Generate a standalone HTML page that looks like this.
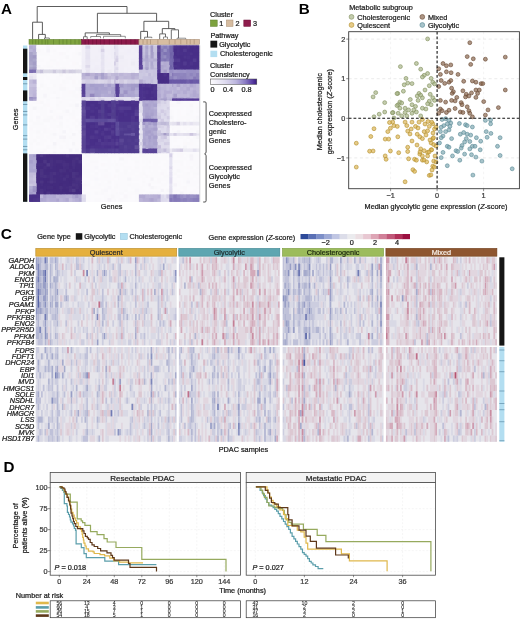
<!DOCTYPE html>
<html><head><meta charset="utf-8"><style>
html,body{margin:0;padding:0;background:#fff;}
body{width:520px;height:619px;overflow:hidden;}
svg{display:block;font-family:"Liberation Sans", sans-serif;filter:blur(0.3px);}
</style></head><body>
<svg width="520" height="619" viewBox="0 0 520 619" shape-rendering="geometricPrecision">
<rect x="0" y="0" width="520" height="619" fill="#fff"/>
<g id="A">
<text x="0.90" y="14.30" font-size="15.2" text-anchor="start" fill="#000" font-weight="bold" stroke="none">A</text>
<line x1="37.20" y1="6.50" x2="127.00" y2="6.50" stroke="#4a4a4a" stroke-width="0.9" />
<line x1="37.20" y1="6.50" x2="37.20" y2="22.20" stroke="#4a4a4a" stroke-width="0.9" />
<line x1="127.00" y1="6.50" x2="127.00" y2="13.30" stroke="#4a4a4a" stroke-width="0.9" />
<line x1="32.60" y1="22.20" x2="42.40" y2="22.20" stroke="#4a4a4a" stroke-width="0.9" />
<line x1="32.60" y1="22.20" x2="32.60" y2="39.30" stroke="#4a4a4a" stroke-width="0.9" />
<line x1="42.40" y1="22.20" x2="42.40" y2="34.40" stroke="#4a4a4a" stroke-width="0.9" />
<line x1="38.60" y1="34.40" x2="45.30" y2="34.40" stroke="#4a4a4a" stroke-width="0.9" />
<line x1="38.60" y1="34.40" x2="38.60" y2="39.30" stroke="#4a4a4a" stroke-width="0.9" />
<line x1="45.30" y1="34.40" x2="45.30" y2="38.00" stroke="#4a4a4a" stroke-width="0.9" />
<line x1="44.50" y1="38.00" x2="49.30" y2="38.00" stroke="#4a4a4a" stroke-width="0.7" />
<line x1="44.50" y1="38.00" x2="44.50" y2="39.30" stroke="#4a4a4a" stroke-width="0.7" />
<line x1="49.30" y1="38.00" x2="49.30" y2="39.30" stroke="#4a4a4a" stroke-width="0.7" />
<line x1="97.40" y1="13.30" x2="156.60" y2="13.30" stroke="#4a4a4a" stroke-width="0.9" />
<line x1="97.40" y1="13.30" x2="97.40" y2="32.90" stroke="#4a4a4a" stroke-width="0.9" />
<line x1="156.60" y1="13.30" x2="156.60" y2="21.30" stroke="#4a4a4a" stroke-width="0.9" />
<line x1="85.20" y1="32.90" x2="109.40" y2="32.90" stroke="#4a4a4a" stroke-width="0.9" />
<line x1="85.20" y1="32.90" x2="85.20" y2="36.70" stroke="#4a4a4a" stroke-width="0.9" />
<line x1="109.40" y1="32.90" x2="109.40" y2="34.60" stroke="#4a4a4a" stroke-width="0.9" />
<line x1="83.50" y1="36.70" x2="87.20" y2="36.70" stroke="#4a4a4a" stroke-width="0.7" />
<line x1="83.50" y1="36.70" x2="83.50" y2="39.30" stroke="#4a4a4a" stroke-width="0.7" />
<line x1="87.20" y1="36.70" x2="87.20" y2="39.30" stroke="#4a4a4a" stroke-width="0.7" />
<line x1="96.50" y1="34.60" x2="120.70" y2="34.60" stroke="#4a4a4a" stroke-width="0.7" />
<line x1="96.50" y1="34.60" x2="96.50" y2="36.50" stroke="#4a4a4a" stroke-width="0.7" />
<line x1="120.70" y1="34.60" x2="120.70" y2="36.50" stroke="#4a4a4a" stroke-width="0.7" />
<line x1="90.70" y1="36.50" x2="100.50" y2="36.50" stroke="#4a4a4a" stroke-width="0.6" />
<line x1="90.70" y1="36.50" x2="90.70" y2="38.20" stroke="#4a4a4a" stroke-width="0.6" />
<line x1="100.50" y1="36.50" x2="100.50" y2="38.20" stroke="#4a4a4a" stroke-width="0.6" />
<line x1="103.50" y1="36.30" x2="125.30" y2="36.30" stroke="#4a4a4a" stroke-width="0.6" />
<line x1="103.50" y1="36.30" x2="103.50" y2="38.40" stroke="#4a4a4a" stroke-width="0.6" />
<line x1="125.30" y1="36.30" x2="125.30" y2="38.40" stroke="#4a4a4a" stroke-width="0.6" />
<line x1="143.90" y1="21.30" x2="168.70" y2="21.30" stroke="#4a4a4a" stroke-width="0.9" />
<line x1="143.90" y1="21.30" x2="143.90" y2="31.40" stroke="#4a4a4a" stroke-width="0.9" />
<line x1="168.70" y1="21.30" x2="168.70" y2="28.60" stroke="#4a4a4a" stroke-width="0.9" />
<line x1="140.70" y1="31.40" x2="147.50" y2="31.40" stroke="#4a4a4a" stroke-width="0.9" />
<line x1="140.70" y1="31.40" x2="140.70" y2="39.30" stroke="#4a4a4a" stroke-width="0.9" />
<line x1="147.50" y1="31.40" x2="147.50" y2="37.20" stroke="#4a4a4a" stroke-width="0.9" />
<line x1="144.60" y1="37.20" x2="151.80" y2="37.20" stroke="#4a4a4a" stroke-width="0.7" />
<line x1="144.60" y1="37.20" x2="144.60" y2="39.30" stroke="#4a4a4a" stroke-width="0.7" />
<line x1="151.80" y1="37.20" x2="151.80" y2="38.20" stroke="#4a4a4a" stroke-width="0.7" />
<line x1="162.30" y1="28.60" x2="174.90" y2="28.60" stroke="#4a4a4a" stroke-width="0.9" />
<line x1="162.30" y1="28.60" x2="162.30" y2="33.90" stroke="#4a4a4a" stroke-width="0.9" />
<line x1="174.90" y1="28.60" x2="174.90" y2="29.80" stroke="#4a4a4a" stroke-width="0.9" />
<line x1="159.70" y1="33.90" x2="165.50" y2="33.90" stroke="#4a4a4a" stroke-width="0.8" />
<line x1="159.70" y1="33.90" x2="159.70" y2="39.30" stroke="#4a4a4a" stroke-width="0.8" />
<line x1="165.50" y1="33.90" x2="165.50" y2="37.00" stroke="#4a4a4a" stroke-width="0.8" />
<line x1="163.50" y1="37.00" x2="167.50" y2="37.00" stroke="#4a4a4a" stroke-width="0.6" />
<line x1="163.50" y1="37.00" x2="163.50" y2="39.30" stroke="#4a4a4a" stroke-width="0.6" />
<line x1="167.50" y1="37.00" x2="167.50" y2="39.30" stroke="#4a4a4a" stroke-width="0.6" />
<line x1="171.30" y1="29.80" x2="178.50" y2="29.80" stroke="#4a4a4a" stroke-width="0.8" />
<line x1="171.30" y1="29.80" x2="171.30" y2="39.30" stroke="#4a4a4a" stroke-width="0.8" />
<line x1="178.50" y1="29.80" x2="178.50" y2="38.20" stroke="#4a4a4a" stroke-width="0.8" />
<line x1="177.00" y1="38.20" x2="185.70" y2="38.20" stroke="#4a4a4a" stroke-width="0.6" />
<line x1="177.00" y1="38.20" x2="177.00" y2="39.30" stroke="#4a4a4a" stroke-width="0.6" />
<line x1="185.70" y1="38.20" x2="185.70" y2="39.30" stroke="#4a4a4a" stroke-width="0.6" />
<rect x="29.00" y="39.40" width="52.60" height="4.90" fill="#7fa33f" />
<line x1="32.60" y1="39.40" x2="32.60" y2="44.30" stroke="#5a7a28" stroke-width="0.55" />
<line x1="35.70" y1="39.40" x2="35.70" y2="44.30" stroke="#5a7a28" stroke-width="0.55" />
<line x1="38.60" y1="39.40" x2="38.60" y2="44.30" stroke="#5a7a28" stroke-width="0.55" />
<line x1="42.00" y1="39.40" x2="42.00" y2="44.30" stroke="#5a7a28" stroke-width="0.55" />
<line x1="45.30" y1="39.40" x2="45.30" y2="44.30" stroke="#5a7a28" stroke-width="0.55" />
<line x1="47.80" y1="39.40" x2="47.80" y2="44.30" stroke="#5a7a28" stroke-width="0.55" />
<line x1="53.50" y1="39.40" x2="53.50" y2="44.30" stroke="#5a7a28" stroke-width="0.55" />
<line x1="59.30" y1="39.40" x2="59.30" y2="44.30" stroke="#5a7a28" stroke-width="0.55" />
<line x1="63.00" y1="39.40" x2="63.00" y2="44.30" stroke="#5a7a28" stroke-width="0.55" />
<line x1="66.80" y1="39.40" x2="66.80" y2="44.30" stroke="#5a7a28" stroke-width="0.55" />
<line x1="70.80" y1="39.40" x2="70.80" y2="44.30" stroke="#5a7a28" stroke-width="0.55" />
<line x1="75.00" y1="39.40" x2="75.00" y2="44.30" stroke="#5a7a28" stroke-width="0.55" />
<line x1="79.00" y1="39.40" x2="79.00" y2="44.30" stroke="#5a7a28" stroke-width="0.55" />
<rect x="29.00" y="39.40" width="52.60" height="4.90" fill="none" stroke="#5a7a28" stroke-width="0.5"/>
<rect x="81.60" y="39.40" width="57.30" height="4.90" fill="#8c1a4a" />
<line x1="85.20" y1="39.40" x2="85.20" y2="44.30" stroke="#6a0e35" stroke-width="0.55" />
<line x1="88.50" y1="39.40" x2="88.50" y2="44.30" stroke="#6a0e35" stroke-width="0.55" />
<line x1="92.70" y1="39.40" x2="92.70" y2="44.30" stroke="#6a0e35" stroke-width="0.55" />
<line x1="96.50" y1="39.40" x2="96.50" y2="44.30" stroke="#6a0e35" stroke-width="0.55" />
<line x1="100.50" y1="39.40" x2="100.50" y2="44.30" stroke="#6a0e35" stroke-width="0.55" />
<line x1="104.20" y1="39.40" x2="104.20" y2="44.30" stroke="#6a0e35" stroke-width="0.55" />
<line x1="109.40" y1="39.40" x2="109.40" y2="44.30" stroke="#6a0e35" stroke-width="0.55" />
<line x1="114.60" y1="39.40" x2="114.60" y2="44.30" stroke="#6a0e35" stroke-width="0.55" />
<line x1="118.00" y1="39.40" x2="118.00" y2="44.30" stroke="#6a0e35" stroke-width="0.55" />
<line x1="121.50" y1="39.40" x2="121.50" y2="44.30" stroke="#6a0e35" stroke-width="0.55" />
<line x1="126.00" y1="39.40" x2="126.00" y2="44.30" stroke="#6a0e35" stroke-width="0.55" />
<line x1="130.80" y1="39.40" x2="130.80" y2="44.30" stroke="#6a0e35" stroke-width="0.55" />
<line x1="135.00" y1="39.40" x2="135.00" y2="44.30" stroke="#6a0e35" stroke-width="0.55" />
<rect x="81.60" y="39.40" width="57.30" height="4.90" fill="none" stroke="#6a0e35" stroke-width="0.5"/>
<rect x="138.90" y="39.40" width="60.60" height="4.90" fill="#d7bda1" />
<line x1="143.00" y1="39.40" x2="143.00" y2="44.30" stroke="#a0836a" stroke-width="0.55" />
<line x1="147.10" y1="39.40" x2="147.10" y2="44.30" stroke="#a0836a" stroke-width="0.55" />
<line x1="150.50" y1="39.40" x2="150.50" y2="44.30" stroke="#a0836a" stroke-width="0.55" />
<line x1="157.90" y1="39.40" x2="157.90" y2="44.30" stroke="#a0836a" stroke-width="0.55" />
<line x1="169.30" y1="39.40" x2="169.30" y2="44.30" stroke="#a0836a" stroke-width="0.55" />
<line x1="175.00" y1="39.40" x2="175.00" y2="44.30" stroke="#a0836a" stroke-width="0.55" />
<line x1="180.80" y1="39.40" x2="180.80" y2="44.30" stroke="#a0836a" stroke-width="0.55" />
<line x1="186.80" y1="39.40" x2="186.80" y2="44.30" stroke="#a0836a" stroke-width="0.55" />
<line x1="190.20" y1="39.40" x2="190.20" y2="44.30" stroke="#a0836a" stroke-width="0.55" />
<line x1="194.20" y1="39.40" x2="194.20" y2="44.30" stroke="#a0836a" stroke-width="0.55" />
<rect x="138.90" y="39.40" width="60.60" height="4.90" fill="none" stroke="#a0836a" stroke-width="0.5"/>
<rect x="29.20" y="45.50" width="170.10" height="156.30" fill="#fbfafd" />
<rect x="29.20" y="45.50" width="7.00" height="24.10" fill="#aba7cb" />
<rect x="29.20" y="45.50" width="7.00" height="6.50" fill="#bab5d8" />
<rect x="81.60" y="45.50" width="57.30" height="27.40" fill="#f2f0f8" />
<rect x="85.80" y="45.50" width="4.00" height="27.40" fill="#e6e3f1" />
<rect x="101.00" y="45.50" width="3.00" height="27.40" fill="#e6e3f1" />
<rect x="114.00" y="45.50" width="4.00" height="27.40" fill="#e6e3f1" />
<rect x="138.90" y="45.50" width="3.50" height="24.50" fill="#573f96" />
<rect x="142.40" y="45.50" width="14.80" height="24.50" fill="#c4c0dd" />
<rect x="145.30" y="45.50" width="3.00" height="24.50" fill="#b2acd1" />
<rect x="150.50" y="45.50" width="2.70" height="24.50" fill="#b2acd1" />
<rect x="142.40" y="58.50" width="14.80" height="3.50" fill="#b3add2" />
<rect x="157.20" y="45.50" width="4.30" height="24.50" fill="#5a4596" />
<rect x="161.50" y="45.50" width="7.80" height="19.50" fill="#857cb8" />
<rect x="161.50" y="65.00" width="7.80" height="5.00" fill="#a49dc8" />
<rect x="169.30" y="45.50" width="4.10" height="24.50" fill="#7266ab" />
<rect x="173.40" y="45.50" width="25.90" height="24.50" fill="#482f88" />
<rect x="29.20" y="69.60" width="7.00" height="3.40" fill="#7b6db1" />
<rect x="36.20" y="69.60" width="45.40" height="3.40" fill="#d9d7e5" />
<rect x="138.90" y="70.00" width="3.50" height="3.50" fill="#d0cde4" />
<rect x="142.40" y="70.00" width="14.80" height="3.50" fill="#c8c4e0" />
<rect x="157.20" y="70.00" width="3.40" height="3.50" fill="#4f3691" />
<rect x="160.60" y="61.50" width="8.70" height="12.00" fill="#b3acd2" />
<rect x="169.30" y="70.00" width="30.00" height="3.50" fill="#9a91c6" />
<rect x="29.20" y="73.00" width="7.00" height="7.00" fill="#ebe8f3" />
<rect x="81.60" y="72.90" width="57.30" height="6.80" fill="#bdb6d7" />
<rect x="94.50" y="72.90" width="3.50" height="6.80" fill="#a59eca" />
<rect x="101.50" y="72.90" width="3.00" height="6.80" fill="#a59eca" />
<rect x="81.60" y="79.70" width="57.30" height="4.00" fill="#d8d4e7" />
<rect x="138.90" y="73.50" width="3.50" height="10.50" fill="#d0cde4" />
<rect x="142.40" y="73.50" width="14.80" height="10.50" fill="#c8c4e0" />
<rect x="157.20" y="73.50" width="12.10" height="10.50" fill="#472d87" />
<rect x="169.30" y="73.50" width="30.00" height="6.00" fill="#9086bf" />
<rect x="169.30" y="79.50" width="30.00" height="4.50" fill="#6958a6" />
<rect x="29.20" y="80.00" width="7.00" height="17.00" fill="#c2bcdb" />
<rect x="29.20" y="97.00" width="7.00" height="3.50" fill="#a39bc9" />
<rect x="81.60" y="83.70" width="4.20" height="13.50" fill="#584297" />
<rect x="85.80" y="83.70" width="29.60" height="13.50" fill="#aba4cf" />
<rect x="115.40" y="83.70" width="4.00" height="13.50" fill="#584297" />
<rect x="119.40" y="83.70" width="19.50" height="13.50" fill="#aba4cf" />
<rect x="81.60" y="97.20" width="57.30" height="3.30" fill="#e4e1f0" />
<rect x="138.90" y="84.00" width="3.50" height="16.40" fill="#4c338d" />
<rect x="142.40" y="84.00" width="14.80" height="16.40" fill="#482f88" />
<rect x="157.20" y="84.00" width="42.10" height="14.40" fill="#b9b2d6" />
<rect x="157.20" y="98.40" width="15.50" height="2.00" fill="#aea7cf" />
<rect x="172.70" y="98.40" width="26.60" height="2.00" fill="#553b96" />
<rect x="81.60" y="100.50" width="57.30" height="52.30" fill="#482f88" />
<rect x="119.20" y="121.80" width="19.70" height="27.20" fill="#4e3a8d" />
<rect x="100.80" y="100.50" width="3.70" height="18.30" fill="#513d8e" />
<rect x="111.00" y="100.50" width="4.00" height="18.30" fill="#513d8e" />
<rect x="85.40" y="118.80" width="30.80" height="3.00" fill="#5c4b9a" />
<rect x="116.20" y="121.80" width="3.00" height="14.80" fill="#5c4b9a" />
<rect x="123.50" y="133.00" width="11.10" height="2.40" fill="#63529f" />
<rect x="81.60" y="100.50" width="4.20" height="52.30" fill="#584494" />
<rect x="85.80" y="149.00" width="53.10" height="3.80" fill="#4e3a8d" />
<rect x="138.90" y="100.40" width="3.50" height="52.80" fill="#e8e6f2" />
<rect x="142.40" y="100.40" width="14.80" height="52.80" fill="#aea7d0" />
<rect x="142.40" y="118.80" width="14.80" height="3.40" fill="#6958a6" />
<rect x="142.40" y="149.00" width="14.80" height="4.20" fill="#584397" />
<rect x="157.20" y="100.40" width="12.10" height="52.80" fill="#dcd9eb" />
<rect x="157.20" y="122.00" width="12.10" height="3.00" fill="#c9c5de" />
<rect x="169.30" y="122.00" width="30.00" height="3.00" fill="#ebe9f2" />
<rect x="157.20" y="133.50" width="12.10" height="2.80" fill="#bdb8d7" />
<rect x="169.30" y="133.50" width="30.00" height="2.80" fill="#e6e3f0" />
<rect x="157.20" y="148.50" width="12.10" height="3.00" fill="#d0cce3" />
<rect x="169.30" y="148.50" width="30.00" height="3.00" fill="#eceaf3" />
<rect x="29.20" y="154.20" width="7.00" height="40.60" fill="#aca6cf" />
<rect x="29.20" y="172.00" width="7.00" height="14.00" fill="#c5c0de" />
<rect x="36.60" y="154.20" width="45.00" height="40.60" fill="#432b7e" />
<rect x="169.30" y="153.20" width="2.70" height="41.20" fill="#e2dfef" />
<rect x="29.20" y="194.80" width="10.80" height="7.00" fill="#493187" />
<rect x="40.00" y="194.80" width="41.60" height="7.00" fill="#b4add5" />
<rect x="81.60" y="194.40" width="4.40" height="7.40" fill="#dcd9ec" />
<rect x="138.90" y="194.40" width="22.30" height="7.40" fill="#b8b1d5" />
<rect x="161.20" y="194.40" width="8.10" height="7.40" fill="#dedbed" />
<rect x="169.30" y="194.40" width="30.00" height="7.40" fill="#8a80bc" />
<path fill="#b3acd3" d="M29.2 45.5H33.1V49.1H29.2zM142.4 115.7H145.7V119.2H142.4zM145.3 141.9H148.7V145.6H145.3z"/>
<path fill="#b8b2d6" d="M32.7 45.5H36.6V49.1H32.7zM107.5 90.3H111.4V94.1H107.5z"/>
<path fill="#fbfafd" d="M36.2 45.5H40.4V49.1H36.2zM40.0 45.5H43.6V49.1H40.0zM43.2 45.5H46.8V49.1H43.2zM52.8 45.5H56.4V49.1H52.8zM72.0 45.5H75.6V49.1H72.0zM43.2 48.8H46.8V52.4H43.2zM56.0 48.8H59.6V52.4H56.0zM59.2 48.8H62.8V52.4H59.2zM62.4 48.8H66.0V52.4H62.4zM68.8 48.8H72.4V52.4H68.8zM72.0 48.8H75.6V52.4H72.0zM49.6 52.0H53.2V55.6H49.6zM65.6 52.0H69.2V55.6H65.6zM68.8 52.0H72.4V55.6H68.8zM36.2 55.2H40.4V58.9H36.2zM40.0 55.2H43.6V58.9H40.0zM43.2 55.2H46.8V58.9H43.2zM46.4 55.2H50.0V58.9H46.4zM68.8 55.2H72.4V58.9H68.8zM43.2 58.5H46.8V61.9H43.2zM46.4 58.5H50.0V61.9H46.4zM56.0 58.5H59.6V61.9H56.0zM62.4 58.5H66.0V61.9H62.4zM36.2 61.5H40.4V65.4H36.2zM40.0 61.5H43.6V65.4H40.0zM43.2 61.5H46.8V65.4H43.2zM68.8 61.5H72.4V65.4H68.8zM78.4 61.5H82.0V65.4H78.4zM40.0 65.0H43.6V67.7H40.0zM52.8 65.0H56.4V67.7H52.8zM59.2 65.0H62.8V67.7H59.2zM43.2 67.3H46.8V70.0H43.2zM46.4 67.3H50.0V70.0H46.4zM49.6 67.3H53.2V70.0H49.6zM68.8 67.3H72.4V70.0H68.8zM72.0 67.3H75.6V70.0H72.0zM46.4 72.9H50.0V76.6H46.4zM49.6 72.9H53.2V76.6H49.6zM52.8 72.9H56.4V76.6H52.8zM56.0 72.9H59.6V76.6H56.0zM62.4 72.9H66.0V76.6H62.4zM68.8 72.9H72.4V76.6H68.8zM75.2 72.9H78.8V76.6H75.2zM43.2 76.2H46.8V79.9H43.2zM49.6 76.2H53.2V79.9H49.6zM52.8 76.2H56.4V79.9H52.8zM59.2 76.2H62.8V79.9H59.2zM62.4 76.2H66.0V79.9H62.4zM36.2 79.5H40.4V84.1H36.2zM43.2 79.5H46.8V84.1H43.2zM46.4 79.5H50.0V84.1H46.4zM59.2 79.5H62.8V84.1H59.2zM68.8 79.5H72.4V84.1H68.8zM75.2 79.5H78.8V84.1H75.2zM36.2 83.7H40.4V87.4H36.2zM46.4 83.7H50.0V87.4H46.4zM49.6 83.7H53.2V87.4H49.6zM65.6 83.7H69.2V87.4H65.6zM68.8 83.7H72.4V87.4H68.8zM40.0 87.0H43.6V90.8H40.0zM68.8 87.0H72.4V90.8H68.8zM72.0 87.0H75.6V90.8H72.0zM59.2 90.3H62.8V94.1H59.2zM75.2 90.3H78.8V94.1H75.2zM49.6 93.7H53.2V97.4H49.6zM52.8 93.7H56.4V97.4H52.8zM59.2 93.7H62.8V97.4H59.2zM65.6 97.0H69.2V98.8H65.6zM68.8 97.0H72.4V98.8H68.8zM72.0 97.0H75.6V98.8H72.0zM43.2 98.4H46.8V100.8H43.2zM49.6 98.4H53.2V100.8H49.6zM52.8 98.4H56.4V100.8H52.8zM59.2 98.4H62.8V100.8H59.2zM29.2 100.4H33.1V103.9H29.2zM43.2 100.4H46.8V103.9H43.2zM49.6 100.4H53.2V103.9H49.6zM52.8 100.4H56.4V103.9H52.8zM68.8 100.4H72.4V103.9H68.8zM75.2 100.4H78.8V103.9H75.2zM78.4 100.4H82.0V103.9H78.4zM172.0 100.4H173.8V103.9H172.0zM173.4 100.4H177.0V103.9H173.4zM189.6 100.4H193.2V103.9H189.6zM196.1 100.4H199.3V103.9H196.1zM32.7 103.5H36.6V106.9H32.7zM36.2 103.5H40.4V106.9H36.2zM40.0 103.5H43.6V106.9H40.0zM49.6 103.5H53.2V106.9H49.6zM52.8 103.5H56.4V106.9H52.8zM192.8 103.5H196.5V106.9H192.8zM196.1 103.5H199.3V106.9H196.1zM46.4 106.5H50.0V110.0H46.4zM52.8 106.5H56.4V110.0H52.8zM65.6 106.5H69.2V110.0H65.6zM68.8 106.5H72.4V110.0H68.8zM169.3 106.5H172.4V110.0H169.3zM172.0 106.5H173.8V110.0H172.0zM173.4 106.5H177.0V110.0H173.4zM176.6 106.5H180.3V110.0H176.6zM183.1 106.5H186.8V110.0H183.1zM192.8 106.5H196.5V110.0H192.8zM32.7 109.6H36.6V113.1H32.7zM46.4 109.6H50.0V113.1H46.4zM56.0 109.6H59.6V113.1H56.0zM59.2 109.6H62.8V113.1H59.2zM68.8 109.6H72.4V113.1H68.8zM173.4 109.6H177.0V113.1H173.4zM179.9 109.6H183.5V113.1H179.9zM183.1 109.6H186.8V113.1H183.1zM192.8 109.6H196.5V113.1H192.8zM32.7 112.7H36.6V116.1H32.7zM36.2 112.7H40.4V116.1H36.2zM46.4 112.7H50.0V116.1H46.4zM49.6 112.7H53.2V116.1H49.6zM78.4 112.7H82.0V116.1H78.4zM173.4 112.7H177.0V116.1H173.4zM179.9 112.7H183.5V116.1H179.9zM183.1 112.7H186.8V116.1H183.1zM192.8 112.7H196.5V116.1H192.8zM196.1 112.7H199.3V116.1H196.1zM32.7 115.7H36.6V119.2H32.7zM40.0 115.7H43.6V119.2H40.0zM52.8 115.7H56.4V119.2H52.8zM62.4 115.7H66.0V119.2H62.4zM65.6 115.7H69.2V119.2H65.6zM75.2 115.7H78.8V119.2H75.2zM78.4 115.7H82.0V119.2H78.4zM173.4 115.7H177.0V119.2H173.4zM32.7 118.8H36.6V122.2H32.7zM62.4 118.8H66.0V122.2H62.4zM68.8 118.8H72.4V122.2H68.8zM72.0 118.8H75.6V122.2H72.0zM173.4 118.8H177.0V122.2H173.4zM183.1 118.8H186.8V122.2H183.1zM189.6 118.8H193.2V122.2H189.6zM29.2 121.8H33.1V125.4H29.2zM43.2 121.8H46.8V125.4H43.2zM46.4 121.8H50.0V125.4H46.4zM56.0 121.8H59.6V125.4H56.0zM62.4 121.8H66.0V125.4H62.4zM65.6 121.8H69.2V125.4H65.6zM68.8 121.8H72.4V125.4H68.8zM75.2 121.8H78.8V125.4H75.2zM46.4 125.0H50.0V128.1H46.4zM62.4 125.0H66.0V128.1H62.4zM68.8 125.0H72.4V128.1H68.8zM72.0 125.0H75.6V128.1H72.0zM179.9 125.0H183.5V128.1H179.9zM189.6 125.0H193.2V128.1H189.6zM196.1 125.0H199.3V128.1H196.1zM32.7 127.7H36.6V130.7H32.7zM49.6 127.7H53.2V130.7H49.6zM56.0 127.7H59.6V130.7H56.0zM62.4 127.7H66.0V130.7H62.4zM65.6 127.7H69.2V130.7H65.6zM72.0 127.7H75.6V130.7H72.0zM169.3 127.7H172.4V130.7H169.3zM179.9 127.7H183.5V130.7H179.9zM186.4 127.7H190.0V130.7H186.4zM40.0 130.3H43.6V133.4H40.0zM56.0 130.3H59.6V133.4H56.0zM65.6 130.3H69.2V133.4H65.6zM72.0 130.3H75.6V133.4H72.0zM75.2 130.3H78.8V133.4H75.2zM169.3 130.3H172.4V133.4H169.3zM183.1 130.3H186.8V133.4H183.1zM192.8 130.3H196.5V133.4H192.8zM32.7 133.0H36.6V135.8H32.7zM43.2 133.0H46.8V135.8H43.2zM46.4 133.0H50.0V135.8H46.4zM62.4 133.0H66.0V135.8H62.4zM68.8 133.0H72.4V135.8H68.8zM32.7 135.4H36.6V139.1H32.7zM43.2 135.4H46.8V139.1H43.2zM56.0 135.4H59.6V139.1H56.0zM172.0 135.4H173.8V139.1H172.0zM183.1 135.4H186.8V139.1H183.1zM189.6 135.4H193.2V139.1H189.6zM36.2 138.7H40.4V142.3H36.2zM46.4 138.7H50.0V142.3H46.4zM52.8 138.7H56.4V142.3H52.8zM68.8 138.7H72.4V142.3H68.8zM172.0 138.7H173.8V142.3H172.0zM176.6 138.7H180.3V142.3H176.6zM179.9 138.7H183.5V142.3H179.9zM186.4 138.7H190.0V142.3H186.4zM32.7 141.9H36.6V145.6H32.7zM43.2 141.9H46.8V145.6H43.2zM46.4 141.9H50.0V145.6H46.4zM49.6 141.9H53.2V145.6H49.6zM59.2 141.9H62.8V145.6H59.2zM62.4 141.9H66.0V145.6H62.4zM68.8 141.9H72.4V145.6H68.8zM172.0 141.9H173.8V145.6H172.0zM173.4 141.9H177.0V145.6H173.4zM176.6 141.9H180.3V145.6H176.6zM179.9 141.9H183.5V145.6H179.9zM196.1 141.9H199.3V145.6H196.1zM32.7 145.2H36.6V148.9H32.7zM36.2 145.2H40.4V148.9H36.2zM40.0 145.2H43.6V148.9H40.0zM43.2 145.2H46.8V148.9H43.2zM56.0 145.2H59.6V148.9H56.0zM62.4 145.2H66.0V148.9H62.4zM68.8 145.2H72.4V148.9H68.8zM172.0 145.2H173.8V148.9H172.0zM179.9 145.2H183.5V148.9H179.9zM32.7 148.5H36.6V151.9H32.7zM46.4 148.5H50.0V151.9H46.4zM49.6 148.5H53.2V151.9H49.6zM56.0 148.5H59.6V151.9H56.0zM59.2 148.5H62.8V151.9H59.2zM62.4 148.5H66.0V151.9H62.4zM65.6 148.5H69.2V151.9H65.6zM72.0 148.5H75.6V151.9H72.0zM78.4 148.5H82.0V151.9H78.4zM43.2 151.5H46.8V153.2H43.2zM49.6 151.5H53.2V153.2H49.6zM56.0 151.5H59.6V153.2H56.0zM59.2 151.5H62.8V153.2H59.2zM65.6 151.5H69.2V153.2H65.6zM72.0 151.5H75.6V153.2H72.0zM75.2 151.5H78.8V153.2H75.2zM78.4 151.5H82.0V153.2H78.4zM172.0 151.5H173.8V153.2H172.0zM173.4 151.5H177.0V153.2H173.4zM179.9 151.5H183.5V153.2H179.9zM183.1 151.5H186.8V153.2H183.1zM40.0 152.8H43.6V154.6H40.0zM56.0 152.8H59.6V154.6H56.0zM65.6 152.8H69.2V154.6H65.6zM85.4 152.8H90.2V154.6H85.4zM94.5 152.8H98.4V154.6H94.5zM111.0 152.8H114.4V154.6H111.0zM118.0 152.8H119.6V154.6H118.0zM127.2 152.8H131.3V154.6H127.2zM150.5 152.8H153.6V154.6H150.5zM160.6 152.8H163.9V154.6H160.6zM173.4 152.8H177.0V154.6H173.4zM186.4 152.8H190.0V154.6H186.4zM196.1 152.8H199.3V154.6H196.1zM81.6 154.2H85.8V157.6H81.6zM94.5 154.2H98.4V157.6H94.5zM107.5 154.2H111.4V157.6H107.5zM115.4 154.2H118.4V157.6H115.4zM119.2 154.2H123.9V157.6H119.2zM130.9 154.2H135.0V157.6H130.9zM134.6 154.2H139.3V157.6H134.6zM157.2 154.2H161.0V157.6H157.2zM173.4 154.2H177.0V157.6H173.4zM183.1 154.2H186.8V157.6H183.1zM98.0 157.2H101.2V160.5H98.0zM111.0 157.2H114.4V160.5H111.0zM114.0 157.2H115.8V160.5H114.0zM115.4 157.2H118.4V160.5H115.4zM118.0 157.2H119.6V160.5H118.0zM127.2 157.2H131.3V160.5H127.2zM138.9 157.2H142.8V160.5H138.9zM166.4 157.2H169.7V160.5H166.4zM173.4 157.2H177.0V160.5H173.4zM176.6 157.2H180.3V160.5H176.6zM186.4 157.2H190.0V160.5H186.4zM81.6 160.1H85.8V163.5H81.6zM85.4 160.1H90.2V163.5H85.4zM98.0 160.1H101.2V163.5H98.0zM100.8 160.1H104.4V163.5H100.8zM104.0 160.1H107.9V163.5H104.0zM111.0 160.1H114.4V163.5H111.0zM115.4 160.1H118.4V163.5H115.4zM119.2 160.1H123.9V163.5H119.2zM127.2 160.1H131.3V163.5H127.2zM130.9 160.1H135.0V163.5H130.9zM138.9 160.1H142.8V163.5H138.9zM150.5 160.1H153.6V163.5H150.5zM160.6 160.1H163.9V163.5H160.6zM163.5 160.1H166.8V163.5H163.5zM183.1 160.1H186.8V163.5H183.1zM81.6 163.1H85.8V166.5H81.6zM98.0 163.1H101.2V166.5H98.0zM114.0 163.1H115.8V166.5H114.0zM118.0 163.1H119.6V166.5H118.0zM123.5 163.1H127.6V166.5H123.5zM127.2 163.1H131.3V166.5H127.2zM130.9 163.1H135.0V166.5H130.9zM138.9 163.1H142.8V166.5H138.9zM142.4 163.1H145.7V166.5H142.4zM148.3 163.1H150.9V166.5H148.3zM150.5 163.1H153.6V166.5H150.5zM157.2 163.1H161.0V166.5H157.2zM160.6 163.1H163.9V166.5H160.6zM172.0 163.1H173.8V166.5H172.0zM183.1 163.1H186.8V166.5H183.1zM189.6 163.1H193.2V166.5H189.6zM85.4 166.1H90.2V169.4H85.4zM98.0 166.1H101.2V169.4H98.0zM100.8 166.1H104.4V169.4H100.8zM104.0 166.1H107.9V169.4H104.0zM111.0 166.1H114.4V169.4H111.0zM119.2 166.1H123.9V169.4H119.2zM130.9 166.1H135.0V169.4H130.9zM138.9 166.1H142.8V169.4H138.9zM160.6 166.1H163.9V169.4H160.6zM163.5 166.1H166.8V169.4H163.5zM192.8 166.1H196.5V169.4H192.8zM94.5 169.0H98.4V172.4H94.5zM107.5 169.0H111.4V172.4H107.5zM111.0 169.0H114.4V172.4H111.0zM114.0 169.0H115.8V172.4H114.0zM119.2 169.0H123.9V172.4H119.2zM127.2 169.0H131.3V172.4H127.2zM138.9 169.0H142.8V172.4H138.9zM145.3 169.0H148.7V172.4H145.3zM150.5 169.0H153.6V172.4H150.5zM157.2 169.0H161.0V172.4H157.2zM166.4 169.0H169.7V172.4H166.4zM172.0 169.0H173.8V172.4H172.0zM183.1 169.0H186.8V172.4H183.1zM186.4 169.0H190.0V172.4H186.4zM89.8 172.0H94.9V175.2H89.8zM98.0 172.0H101.2V175.2H98.0zM111.0 172.0H114.4V175.2H111.0zM114.0 172.0H115.8V175.2H114.0zM115.4 172.0H118.4V175.2H115.4zM134.6 172.0H139.3V175.2H134.6zM145.3 172.0H148.7V175.2H145.3zM148.3 172.0H150.9V175.2H148.3zM166.4 172.0H169.7V175.2H166.4zM176.6 172.0H180.3V175.2H176.6zM179.9 172.0H183.5V175.2H179.9zM189.6 172.0H193.2V175.2H189.6zM81.6 174.8H85.8V178.0H81.6zM98.0 174.8H101.2V178.0H98.0zM111.0 174.8H114.4V178.0H111.0zM130.9 174.8H135.0V178.0H130.9zM142.4 174.8H145.7V178.0H142.4zM160.6 174.8H163.9V178.0H160.6zM172.0 174.8H173.8V178.0H172.0zM173.4 174.8H177.0V178.0H173.4zM189.6 174.8H193.2V178.0H189.6zM196.1 174.8H199.3V178.0H196.1zM81.6 177.6H85.8V180.8H81.6zM85.4 177.6H90.2V180.8H85.4zM114.0 177.6H115.8V180.8H114.0zM115.4 177.6H118.4V180.8H115.4zM138.9 177.6H142.8V180.8H138.9zM145.3 177.6H148.7V180.8H145.3zM148.3 177.6H150.9V180.8H148.3zM153.2 177.6H157.6V180.8H153.2zM176.6 177.6H180.3V180.8H176.6zM179.9 177.6H183.5V180.8H179.9zM192.8 177.6H196.5V180.8H192.8zM81.6 180.4H85.8V183.6H81.6zM89.8 180.4H94.9V183.6H89.8zM98.0 180.4H101.2V183.6H98.0zM104.0 180.4H107.9V183.6H104.0zM111.0 180.4H114.4V183.6H111.0zM130.9 180.4H135.0V183.6H130.9zM134.6 180.4H139.3V183.6H134.6zM138.9 180.4H142.8V183.6H138.9zM145.3 180.4H148.7V183.6H145.3zM160.6 180.4H163.9V183.6H160.6zM163.5 180.4H166.8V183.6H163.5zM179.9 180.4H183.5V183.6H179.9zM89.8 183.2H94.9V186.4H89.8zM111.0 183.2H114.4V186.4H111.0zM138.9 183.2H142.8V186.4H138.9zM150.5 183.2H153.6V186.4H150.5zM153.2 183.2H157.6V186.4H153.2zM157.2 183.2H161.0V186.4H157.2zM166.4 183.2H169.7V186.4H166.4zM172.0 183.2H173.8V186.4H172.0zM179.9 183.2H183.5V186.4H179.9zM183.1 183.2H186.8V186.4H183.1zM196.1 183.2H199.3V186.4H196.1zM85.4 186.0H90.2V189.2H85.4zM100.8 186.0H104.4V189.2H100.8zM111.0 186.0H114.4V189.2H111.0zM127.2 186.0H131.3V189.2H127.2zM142.4 186.0H145.7V189.2H142.4zM145.3 186.0H148.7V189.2H145.3zM160.6 186.0H163.9V189.2H160.6zM163.5 186.0H166.8V189.2H163.5zM166.4 186.0H169.7V189.2H166.4zM172.0 186.0H173.8V189.2H172.0zM176.6 186.0H180.3V189.2H176.6zM186.4 186.0H190.0V189.2H186.4zM189.6 186.0H193.2V189.2H189.6zM192.8 186.0H196.5V189.2H192.8zM85.4 188.8H90.2V192.0H85.4zM89.8 188.8H94.9V192.0H89.8zM94.5 188.8H98.4V192.0H94.5zM98.0 188.8H101.2V192.0H98.0zM107.5 188.8H111.4V192.0H107.5zM118.0 188.8H119.6V192.0H118.0zM127.2 188.8H131.3V192.0H127.2zM130.9 188.8H135.0V192.0H130.9zM145.3 188.8H148.7V192.0H145.3zM148.3 188.8H150.9V192.0H148.3zM150.5 188.8H153.6V192.0H150.5zM153.2 188.8H157.6V192.0H153.2zM157.2 188.8H161.0V192.0H157.2zM179.9 188.8H183.5V192.0H179.9zM186.4 188.8H190.0V192.0H186.4zM189.6 188.8H193.2V192.0H189.6zM196.1 188.8H199.3V192.0H196.1zM81.6 191.6H85.8V194.8H81.6zM89.8 191.6H94.9V194.8H89.8zM107.5 191.6H111.4V194.8H107.5zM118.0 191.6H119.6V194.8H118.0zM123.5 191.6H127.6V194.8H123.5zM142.4 191.6H145.7V194.8H142.4zM160.6 191.6H163.9V194.8H160.6zM176.6 191.6H180.3V194.8H176.6zM186.4 191.6H190.0V194.8H186.4zM196.1 191.6H199.3V194.8H196.1zM89.8 194.4H94.9V198.5H89.8zM94.5 194.4H98.4V198.5H94.5zM98.0 194.4H101.2V198.5H98.0zM100.8 194.4H104.4V198.5H100.8zM119.2 194.4H123.9V198.5H119.2zM130.9 194.4H135.0V198.5H130.9zM89.8 198.1H94.9V201.8H89.8zM100.8 198.1H104.4V201.8H100.8zM115.4 198.1H118.4V201.8H115.4zM127.2 198.1H131.3V201.8H127.2zM130.9 198.1H135.0V201.8H130.9z"/>
<path fill="#f7f6fa" d="M46.4 45.5H50.0V49.1H46.4zM49.6 109.6H53.2V113.1H49.6zM36.2 115.7H40.4V119.2H36.2z"/>
<path fill="#f9f8fb" d="M49.6 45.5H53.2V49.1H49.6zM62.4 45.5H66.0V49.1H62.4zM68.8 45.5H72.4V49.1H68.8zM52.8 48.8H56.4V52.4H52.8zM62.4 52.0H66.0V55.6H62.4zM75.2 52.0H78.8V55.6H75.2zM49.6 58.5H53.2V61.9H49.6zM52.8 58.5H56.4V61.9H52.8zM75.2 61.5H78.8V65.4H75.2zM46.4 65.0H50.0V67.7H46.4zM49.6 65.0H53.2V67.7H49.6zM78.4 65.0H82.0V67.7H78.4zM40.0 67.3H43.6V70.0H40.0zM59.2 67.3H62.8V70.0H59.2zM75.2 67.3H78.8V70.0H75.2zM65.6 76.2H69.2V79.9H65.6zM68.8 76.2H72.4V79.9H68.8zM62.4 79.5H66.0V84.1H62.4zM78.4 79.5H82.0V84.1H78.4zM52.8 83.7H56.4V87.4H52.8zM59.2 83.7H62.8V87.4H59.2zM36.2 87.0H40.4V90.8H36.2zM46.4 87.0H50.0V90.8H46.4zM52.8 90.3H56.4V94.1H52.8zM72.0 90.3H75.6V94.1H72.0zM78.4 90.3H82.0V94.1H78.4zM72.0 93.7H75.6V97.4H72.0zM75.2 93.7H78.8V97.4H75.2zM40.0 97.0H43.6V98.8H40.0zM43.2 97.0H46.8V98.8H43.2zM75.2 97.0H78.8V98.8H75.2zM46.4 98.4H50.0V100.8H46.4zM59.2 100.4H62.8V103.9H59.2zM179.9 100.4H183.5V103.9H179.9zM186.4 100.4H190.0V103.9H186.4zM43.2 103.5H46.8V106.9H43.2zM56.0 103.5H59.6V106.9H56.0zM68.8 103.5H72.4V106.9H68.8zM72.0 103.5H75.6V106.9H72.0zM169.3 103.5H172.4V106.9H169.3zM172.0 103.5H173.8V106.9H172.0zM40.0 106.5H43.6V110.0H40.0zM75.2 106.5H78.8V110.0H75.2zM62.4 109.6H66.0V113.1H62.4zM72.0 109.6H75.6V113.1H72.0zM169.3 109.6H172.4V113.1H169.3zM189.6 109.6H193.2V113.1H189.6zM68.8 112.7H72.4V116.1H68.8zM72.0 112.7H75.6V116.1H72.0zM169.3 112.7H172.4V116.1H169.3zM186.4 112.7H190.0V116.1H186.4zM46.4 115.7H50.0V119.2H46.4zM172.0 115.7H173.8V119.2H172.0zM29.2 118.8H33.1V122.2H29.2zM36.2 118.8H40.4V122.2H36.2zM52.8 118.8H56.4V122.2H52.8zM75.2 118.8H78.8V122.2H75.2zM172.0 118.8H173.8V122.2H172.0zM176.6 118.8H180.3V122.2H176.6zM186.4 118.8H190.0V122.2H186.4zM192.8 118.8H196.5V122.2H192.8zM196.1 118.8H199.3V122.2H196.1zM32.7 121.8H36.6V125.4H32.7zM36.2 121.8H40.4V125.4H36.2zM40.0 121.8H43.6V125.4H40.0zM56.0 125.0H59.6V128.1H56.0zM59.2 125.0H62.8V128.1H59.2zM75.2 125.0H78.8V128.1H75.2zM43.2 127.7H46.8V130.7H43.2zM172.0 127.7H173.8V130.7H172.0zM189.6 127.7H193.2V130.7H189.6zM43.2 130.3H46.8V133.4H43.2zM173.4 130.3H177.0V133.4H173.4zM186.4 130.3H190.0V133.4H186.4zM49.6 133.0H53.2V135.8H49.6zM36.2 135.4H40.4V139.1H36.2zM68.8 135.4H72.4V139.1H68.8zM186.4 135.4H190.0V139.1H186.4zM192.8 135.4H196.5V139.1H192.8zM32.7 138.7H36.6V142.3H32.7zM62.4 138.7H66.0V142.3H62.4zM189.6 138.7H193.2V142.3H189.6zM29.2 141.9H33.1V145.6H29.2zM36.2 141.9H40.4V145.6H36.2zM186.4 141.9H190.0V145.6H186.4zM46.4 145.2H50.0V148.9H46.4zM52.8 145.2H56.4V148.9H52.8zM176.6 145.2H180.3V148.9H176.6zM43.2 148.5H46.8V151.9H43.2zM62.4 151.5H66.0V153.2H62.4zM29.2 152.8H33.1V154.6H29.2zM59.2 152.8H62.8V154.6H59.2zM115.4 152.8H118.4V154.6H115.4zM119.2 152.8H123.9V154.6H119.2zM138.9 152.8H142.8V154.6H138.9zM179.9 152.8H183.5V154.6H179.9zM100.8 154.2H104.4V157.6H100.8zM104.0 154.2H107.9V157.6H104.0zM127.2 154.2H131.3V157.6H127.2zM138.9 154.2H142.8V157.6H138.9zM142.4 154.2H145.7V157.6H142.4zM145.3 157.2H148.7V160.5H145.3zM89.8 160.1H94.9V163.5H89.8zM94.5 160.1H98.4V163.5H94.5zM134.6 160.1H139.3V163.5H134.6zM148.3 160.1H150.9V163.5H148.3zM173.4 160.1H177.0V163.5H173.4zM176.6 160.1H180.3V163.5H176.6zM179.9 160.1H183.5V163.5H179.9zM115.4 163.1H118.4V166.5H115.4zM179.9 163.1H183.5V166.5H179.9zM134.6 166.1H139.3V169.4H134.6zM148.3 166.1H150.9V169.4H148.3zM172.0 166.1H173.8V169.4H172.0zM189.6 166.1H193.2V169.4H189.6zM196.1 166.1H199.3V169.4H196.1zM104.0 169.0H107.9V172.4H104.0zM118.0 169.0H119.6V172.4H118.0zM123.5 169.0H127.6V172.4H123.5zM94.5 172.0H98.4V175.2H94.5zM123.5 172.0H127.6V175.2H123.5zM142.4 172.0H145.7V175.2H142.4zM173.4 172.0H177.0V175.2H173.4zM186.4 172.0H190.0V175.2H186.4zM192.8 172.0H196.5V175.2H192.8zM196.1 172.0H199.3V175.2H196.1zM118.0 174.8H119.6V178.0H118.0zM145.3 174.8H148.7V178.0H145.3zM163.5 174.8H166.8V178.0H163.5zM166.4 174.8H169.7V178.0H166.4zM176.6 174.8H180.3V178.0H176.6zM118.0 177.6H119.6V180.8H118.0zM157.2 177.6H161.0V180.8H157.2zM186.4 177.6H190.0V180.8H186.4zM142.4 180.4H145.7V183.6H142.4zM157.2 180.4H161.0V183.6H157.2zM85.4 183.2H90.2V186.4H85.4zM98.0 183.2H101.2V186.4H98.0zM115.4 183.2H118.4V186.4H115.4zM127.2 183.2H131.3V186.4H127.2zM114.0 186.0H115.8V189.2H114.0zM115.4 186.0H118.4V189.2H115.4zM153.2 186.0H157.6V189.2H153.2zM100.8 188.8H104.4V192.0H100.8zM123.5 188.8H127.6V192.0H123.5zM94.5 191.6H98.4V194.8H94.5zM100.8 191.6H104.4V194.8H100.8zM115.4 191.6H118.4V194.8H115.4zM119.2 191.6H123.9V194.8H119.2zM134.6 191.6H139.3V194.8H134.6zM148.3 191.6H150.9V194.8H148.3zM150.5 191.6H153.6V194.8H150.5zM157.2 191.6H161.0V194.8H157.2zM189.6 191.6H193.2V194.8H189.6zM114.0 198.1H115.8V201.8H114.0zM119.2 198.1H123.9V201.8H119.2z"/>
<path fill="#faf9fc" d="M56.0 45.5H59.6V49.1H56.0zM59.2 45.5H62.8V49.1H59.2zM75.2 45.5H78.8V49.1H75.2zM78.4 45.5H82.0V49.1H78.4zM40.0 48.8H43.6V52.4H40.0zM49.6 48.8H53.2V52.4H49.6zM75.2 48.8H78.8V52.4H75.2zM36.2 52.0H40.4V55.6H36.2zM46.4 52.0H50.0V55.6H46.4zM52.8 52.0H56.4V55.6H52.8zM52.8 55.2H56.4V58.9H52.8zM56.0 55.2H59.6V58.9H56.0zM72.0 55.2H75.6V58.9H72.0zM75.2 55.2H78.8V58.9H75.2zM78.4 55.2H82.0V58.9H78.4zM36.2 58.5H40.4V61.9H36.2zM40.0 58.5H43.6V61.9H40.0zM59.2 58.5H62.8V61.9H59.2zM72.0 58.5H75.6V61.9H72.0zM75.2 58.5H78.8V61.9H75.2zM78.4 58.5H82.0V61.9H78.4zM46.4 61.5H50.0V65.4H46.4zM52.8 61.5H56.4V65.4H52.8zM65.6 61.5H69.2V65.4H65.6zM43.2 65.0H46.8V67.7H43.2zM56.0 65.0H59.6V67.7H56.0zM36.2 67.3H40.4V70.0H36.2zM52.8 67.3H56.4V70.0H52.8zM78.4 67.3H82.0V70.0H78.4zM65.6 72.9H69.2V76.6H65.6zM72.0 72.9H75.6V76.6H72.0zM78.4 72.9H82.0V76.6H78.4zM36.2 76.2H40.4V79.9H36.2zM40.0 76.2H43.6V79.9H40.0zM56.0 76.2H59.6V79.9H56.0zM75.2 76.2H78.8V79.9H75.2zM78.4 76.2H82.0V79.9H78.4zM40.0 79.5H43.6V84.1H40.0zM62.4 83.7H66.0V87.4H62.4zM75.2 83.7H78.8V87.4H75.2zM78.4 83.7H82.0V87.4H78.4zM43.2 87.0H46.8V90.8H43.2zM52.8 87.0H56.4V90.8H52.8zM36.2 90.3H40.4V94.1H36.2zM40.0 90.3H43.6V94.1H40.0zM43.2 90.3H46.8V94.1H43.2zM46.4 90.3H50.0V94.1H46.4zM62.4 90.3H66.0V94.1H62.4zM65.6 90.3H69.2V94.1H65.6zM36.2 93.7H40.4V97.4H36.2zM46.4 93.7H50.0V97.4H46.4zM65.6 93.7H69.2V97.4H65.6zM49.6 97.0H53.2V98.8H49.6zM52.8 97.0H56.4V98.8H52.8zM62.4 98.4H66.0V100.8H62.4zM68.8 98.4H72.4V100.8H68.8zM75.2 98.4H78.8V100.8H75.2zM78.4 98.4H82.0V100.8H78.4zM62.4 100.4H66.0V103.9H62.4zM169.3 100.4H172.4V103.9H169.3zM183.1 100.4H186.8V103.9H183.1zM29.2 103.5H33.1V106.9H29.2zM59.2 103.5H62.8V106.9H59.2zM78.4 103.5H82.0V106.9H78.4zM179.9 103.5H183.5V106.9H179.9zM29.2 106.5H33.1V110.0H29.2zM59.2 106.5H62.8V110.0H59.2zM62.4 106.5H66.0V110.0H62.4zM78.4 106.5H82.0V110.0H78.4zM179.9 106.5H183.5V110.0H179.9zM29.2 109.6H33.1V113.1H29.2zM36.2 109.6H40.4V113.1H36.2zM40.0 109.6H43.6V113.1H40.0zM52.8 109.6H56.4V113.1H52.8zM75.2 109.6H78.8V113.1H75.2zM78.4 109.6H82.0V113.1H78.4zM172.0 109.6H173.8V113.1H172.0zM186.4 109.6H190.0V113.1H186.4zM196.1 109.6H199.3V113.1H196.1zM29.2 112.7H33.1V116.1H29.2zM40.0 112.7H43.6V116.1H40.0zM43.2 112.7H46.8V116.1H43.2zM52.8 112.7H56.4V116.1H52.8zM62.4 112.7H66.0V116.1H62.4zM65.6 112.7H69.2V116.1H65.6zM75.2 112.7H78.8V116.1H75.2zM189.6 112.7H193.2V116.1H189.6zM29.2 115.7H33.1V119.2H29.2zM179.9 115.7H183.5V119.2H179.9zM186.4 115.7H190.0V119.2H186.4zM192.8 115.7H196.5V119.2H192.8zM56.0 118.8H59.6V122.2H56.0zM78.4 118.8H82.0V122.2H78.4zM49.6 121.8H53.2V125.4H49.6zM52.8 121.8H56.4V125.4H52.8zM72.0 121.8H75.6V125.4H72.0zM29.2 125.0H33.1V128.1H29.2zM32.7 125.0H36.6V128.1H32.7zM36.2 125.0H40.4V128.1H36.2zM40.0 125.0H43.6V128.1H40.0zM49.6 125.0H53.2V128.1H49.6zM52.8 125.0H56.4V128.1H52.8zM78.4 125.0H82.0V128.1H78.4zM172.0 125.0H173.8V128.1H172.0zM186.4 125.0H190.0V128.1H186.4zM46.4 127.7H50.0V130.7H46.4zM59.2 127.7H62.8V130.7H59.2zM68.8 127.7H72.4V130.7H68.8zM176.6 127.7H180.3V130.7H176.6zM196.1 127.7H199.3V130.7H196.1zM32.7 130.3H36.6V133.4H32.7zM46.4 130.3H50.0V133.4H46.4zM52.8 130.3H56.4V133.4H52.8zM59.2 130.3H62.8V133.4H59.2zM172.0 130.3H173.8V133.4H172.0zM189.6 130.3H193.2V133.4H189.6zM29.2 133.0H33.1V135.8H29.2zM36.2 133.0H40.4V135.8H36.2zM40.0 133.0H43.6V135.8H40.0zM65.6 133.0H69.2V135.8H65.6zM75.2 133.0H78.8V135.8H75.2zM49.6 135.4H53.2V139.1H49.6zM75.2 135.4H78.8V139.1H75.2zM179.9 135.4H183.5V139.1H179.9zM29.2 138.7H33.1V142.3H29.2zM59.2 138.7H62.8V142.3H59.2zM65.6 138.7H69.2V142.3H65.6zM72.0 138.7H75.6V142.3H72.0zM173.4 138.7H177.0V142.3H173.4zM192.8 138.7H196.5V142.3H192.8zM40.0 141.9H43.6V145.6H40.0zM56.0 141.9H59.6V145.6H56.0zM78.4 141.9H82.0V145.6H78.4zM29.2 145.2H33.1V148.9H29.2zM49.6 145.2H53.2V148.9H49.6zM65.6 145.2H69.2V148.9H65.6zM75.2 145.2H78.8V148.9H75.2zM186.4 145.2H190.0V148.9H186.4zM192.8 145.2H196.5V148.9H192.8zM196.1 145.2H199.3V148.9H196.1zM29.2 148.5H33.1V151.9H29.2zM36.2 148.5H40.4V151.9H36.2zM32.7 151.5H36.6V153.2H32.7zM36.2 151.5H40.4V153.2H36.2zM68.8 151.5H72.4V153.2H68.8zM192.8 151.5H196.5V153.2H192.8zM32.7 152.8H36.6V154.6H32.7zM36.2 152.8H40.4V154.6H36.2zM46.4 152.8H50.0V154.6H46.4zM62.4 152.8H66.0V154.6H62.4zM75.2 152.8H78.8V154.6H75.2zM89.8 152.8H94.9V154.6H89.8zM98.0 152.8H101.2V154.6H98.0zM100.8 152.8H104.4V154.6H100.8zM104.0 152.8H107.9V154.6H104.0zM107.5 152.8H111.4V154.6H107.5zM134.6 152.8H139.3V154.6H134.6zM148.3 152.8H150.9V154.6H148.3zM153.2 152.8H157.6V154.6H153.2zM157.2 152.8H161.0V154.6H157.2zM163.5 152.8H166.8V154.6H163.5zM192.8 152.8H196.5V154.6H192.8zM89.8 154.2H94.9V157.6H89.8zM98.0 154.2H101.2V157.6H98.0zM111.0 154.2H114.4V157.6H111.0zM118.0 154.2H119.6V157.6H118.0zM145.3 154.2H148.7V157.6H145.3zM163.5 154.2H166.8V157.6H163.5zM172.0 154.2H173.8V157.6H172.0zM186.4 154.2H190.0V157.6H186.4zM192.8 154.2H196.5V157.6H192.8zM81.6 157.2H85.8V160.5H81.6zM85.4 157.2H90.2V160.5H85.4zM89.8 157.2H94.9V160.5H89.8zM104.0 157.2H107.9V160.5H104.0zM123.5 157.2H127.6V160.5H123.5zM142.4 157.2H145.7V160.5H142.4zM150.5 157.2H153.6V160.5H150.5zM160.6 157.2H163.9V160.5H160.6zM172.0 157.2H173.8V160.5H172.0zM183.1 157.2H186.8V160.5H183.1zM196.1 157.2H199.3V160.5H196.1zM114.0 160.1H115.8V163.5H114.0zM145.3 160.1H148.7V163.5H145.3zM153.2 160.1H157.6V163.5H153.2zM157.2 160.1H161.0V163.5H157.2zM166.4 160.1H169.7V163.5H166.4zM189.6 160.1H193.2V163.5H189.6zM192.8 160.1H196.5V163.5H192.8zM85.4 163.1H90.2V166.5H85.4zM89.8 163.1H94.9V166.5H89.8zM145.3 163.1H148.7V166.5H145.3zM163.5 163.1H166.8V166.5H163.5zM166.4 163.1H169.7V166.5H166.4zM192.8 163.1H196.5V166.5H192.8zM107.5 166.1H111.4V169.4H107.5zM114.0 166.1H115.8V169.4H114.0zM115.4 166.1H118.4V169.4H115.4zM118.0 166.1H119.6V169.4H118.0zM157.2 166.1H161.0V169.4H157.2zM166.4 166.1H169.7V169.4H166.4zM176.6 166.1H180.3V169.4H176.6zM81.6 169.0H85.8V172.4H81.6zM85.4 169.0H90.2V172.4H85.4zM89.8 169.0H94.9V172.4H89.8zM130.9 169.0H135.0V172.4H130.9zM134.6 169.0H139.3V172.4H134.6zM142.4 169.0H145.7V172.4H142.4zM148.3 169.0H150.9V172.4H148.3zM153.2 169.0H157.6V172.4H153.2zM163.5 169.0H166.8V172.4H163.5zM189.6 169.0H193.2V172.4H189.6zM196.1 169.0H199.3V172.4H196.1zM81.6 172.0H85.8V175.2H81.6zM107.5 172.0H111.4V175.2H107.5zM118.0 172.0H119.6V175.2H118.0zM119.2 172.0H123.9V175.2H119.2zM127.2 172.0H131.3V175.2H127.2zM130.9 172.0H135.0V175.2H130.9zM150.5 172.0H153.6V175.2H150.5zM157.2 172.0H161.0V175.2H157.2zM163.5 172.0H166.8V175.2H163.5zM85.4 174.8H90.2V178.0H85.4zM89.8 174.8H94.9V178.0H89.8zM94.5 174.8H98.4V178.0H94.5zM100.8 174.8H104.4V178.0H100.8zM115.4 174.8H118.4V178.0H115.4zM148.3 174.8H150.9V178.0H148.3zM153.2 174.8H157.6V178.0H153.2zM157.2 174.8H161.0V178.0H157.2zM179.9 174.8H183.5V178.0H179.9zM186.4 174.8H190.0V178.0H186.4zM98.0 177.6H101.2V180.8H98.0zM104.0 177.6H107.9V180.8H104.0zM107.5 177.6H111.4V180.8H107.5zM160.6 177.6H163.9V180.8H160.6zM163.5 177.6H166.8V180.8H163.5zM166.4 177.6H169.7V180.8H166.4zM173.4 177.6H177.0V180.8H173.4zM85.4 180.4H90.2V183.6H85.4zM94.5 180.4H98.4V183.6H94.5zM100.8 180.4H104.4V183.6H100.8zM118.0 180.4H119.6V183.6H118.0zM119.2 180.4H123.9V183.6H119.2zM150.5 180.4H153.6V183.6H150.5zM166.4 180.4H169.7V183.6H166.4zM183.1 180.4H186.8V183.6H183.1zM189.6 180.4H193.2V183.6H189.6zM192.8 180.4H196.5V183.6H192.8zM196.1 180.4H199.3V183.6H196.1zM94.5 183.2H98.4V186.4H94.5zM100.8 183.2H104.4V186.4H100.8zM104.0 183.2H107.9V186.4H104.0zM107.5 183.2H111.4V186.4H107.5zM114.0 183.2H115.8V186.4H114.0zM119.2 183.2H123.9V186.4H119.2zM130.9 183.2H135.0V186.4H130.9zM134.6 183.2H139.3V186.4H134.6zM145.3 183.2H148.7V186.4H145.3zM160.6 183.2H163.9V186.4H160.6zM189.6 183.2H193.2V186.4H189.6zM94.5 186.0H98.4V189.2H94.5zM104.0 186.0H107.9V189.2H104.0zM123.5 186.0H127.6V189.2H123.5zM130.9 186.0H135.0V189.2H130.9zM173.4 186.0H177.0V189.2H173.4zM179.9 186.0H183.5V189.2H179.9zM81.6 188.8H85.8V192.0H81.6zM119.2 188.8H123.9V192.0H119.2zM163.5 188.8H166.8V192.0H163.5zM172.0 188.8H173.8V192.0H172.0zM176.6 188.8H180.3V192.0H176.6zM98.0 191.6H101.2V194.8H98.0zM104.0 191.6H107.9V194.8H104.0zM114.0 191.6H115.8V194.8H114.0zM130.9 191.6H135.0V194.8H130.9zM138.9 191.6H142.8V194.8H138.9zM145.3 191.6H148.7V194.8H145.3zM153.2 191.6H157.6V194.8H153.2zM163.5 191.6H166.8V194.8H163.5zM173.4 191.6H177.0V194.8H173.4zM107.5 194.4H111.4V198.5H107.5zM114.0 194.4H115.8V198.5H114.0zM85.4 198.1H90.2V201.8H85.4zM104.0 198.1H107.9V201.8H104.0zM123.5 198.1H127.6V201.8H123.5zM134.6 198.1H139.3V201.8H134.6z"/>
<path fill="#faf9fc" d="M65.6 45.5H69.2V49.1H65.6zM65.6 48.8H69.2V52.4H65.6zM78.4 48.8H82.0V52.4H78.4zM40.0 52.0H43.6V55.6H40.0zM43.2 52.0H46.8V55.6H43.2zM56.0 52.0H59.6V55.6H56.0zM72.0 52.0H75.6V55.6H72.0zM49.6 55.2H53.2V58.9H49.6zM59.2 55.2H62.8V58.9H59.2zM62.4 55.2H66.0V58.9H62.4zM65.6 58.5H69.2V61.9H65.6zM68.8 58.5H72.4V61.9H68.8zM59.2 61.5H62.8V65.4H59.2zM62.4 61.5H66.0V65.4H62.4zM62.4 65.0H66.0V67.7H62.4zM68.8 65.0H72.4V67.7H68.8zM72.0 65.0H75.6V67.7H72.0zM75.2 65.0H78.8V67.7H75.2zM56.0 67.3H59.6V70.0H56.0zM65.6 67.3H69.2V70.0H65.6zM36.2 72.9H40.4V76.6H36.2zM40.0 72.9H43.6V76.6H40.0zM43.2 72.9H46.8V76.6H43.2zM46.4 76.2H50.0V79.9H46.4zM72.0 76.2H75.6V79.9H72.0zM49.6 79.5H53.2V84.1H49.6zM52.8 79.5H56.4V84.1H52.8zM56.0 79.5H59.6V84.1H56.0zM65.6 79.5H69.2V84.1H65.6zM43.2 83.7H46.8V87.4H43.2zM56.0 83.7H59.6V87.4H56.0zM72.0 83.7H75.6V87.4H72.0zM49.6 87.0H53.2V90.8H49.6zM56.0 87.0H59.6V90.8H56.0zM65.6 87.0H69.2V90.8H65.6zM49.6 90.3H53.2V94.1H49.6zM56.0 90.3H59.6V94.1H56.0zM40.0 93.7H43.6V97.4H40.0zM56.0 93.7H59.6V97.4H56.0zM62.4 93.7H66.0V97.4H62.4zM68.8 93.7H72.4V97.4H68.8zM36.2 97.0H40.4V98.8H36.2zM46.4 97.0H50.0V98.8H46.4zM59.2 97.0H62.8V98.8H59.2zM62.4 97.0H66.0V98.8H62.4zM78.4 97.0H82.0V98.8H78.4zM36.2 98.4H40.4V100.8H36.2zM56.0 98.4H59.6V100.8H56.0zM65.6 98.4H69.2V100.8H65.6zM72.0 98.4H75.6V100.8H72.0zM32.7 100.4H36.6V103.9H32.7zM46.4 100.4H50.0V103.9H46.4zM56.0 100.4H59.6V103.9H56.0zM65.6 100.4H69.2V103.9H65.6zM72.0 100.4H75.6V103.9H72.0zM192.8 100.4H196.5V103.9H192.8zM62.4 103.5H66.0V106.9H62.4zM65.6 103.5H69.2V106.9H65.6zM173.4 103.5H177.0V106.9H173.4zM176.6 103.5H180.3V106.9H176.6zM183.1 103.5H186.8V106.9H183.1zM186.4 103.5H190.0V106.9H186.4zM36.2 106.5H40.4V110.0H36.2zM43.2 106.5H46.8V110.0H43.2zM56.0 106.5H59.6V110.0H56.0zM72.0 106.5H75.6V110.0H72.0zM186.4 106.5H190.0V110.0H186.4zM189.6 106.5H193.2V110.0H189.6zM196.1 106.5H199.3V110.0H196.1zM43.2 109.6H46.8V113.1H43.2zM176.6 109.6H180.3V113.1H176.6zM56.0 112.7H59.6V116.1H56.0zM59.2 112.7H62.8V116.1H59.2zM172.0 112.7H173.8V116.1H172.0zM176.6 112.7H180.3V116.1H176.6zM43.2 115.7H46.8V119.2H43.2zM68.8 115.7H72.4V119.2H68.8zM176.6 115.7H180.3V119.2H176.6zM183.1 115.7H186.8V119.2H183.1zM189.6 115.7H193.2V119.2H189.6zM40.0 118.8H43.6V122.2H40.0zM49.6 118.8H53.2V122.2H49.6zM59.2 118.8H62.8V122.2H59.2zM65.6 118.8H69.2V122.2H65.6zM169.3 118.8H172.4V122.2H169.3zM179.9 118.8H183.5V122.2H179.9zM43.2 125.0H46.8V128.1H43.2zM65.6 125.0H69.2V128.1H65.6zM169.3 125.0H172.4V128.1H169.3zM173.4 125.0H177.0V128.1H173.4zM176.6 125.0H180.3V128.1H176.6zM183.1 125.0H186.8V128.1H183.1zM192.8 125.0H196.5V128.1H192.8zM36.2 127.7H40.4V130.7H36.2zM40.0 127.7H43.6V130.7H40.0zM52.8 127.7H56.4V130.7H52.8zM75.2 127.7H78.8V130.7H75.2zM78.4 127.7H82.0V130.7H78.4zM183.1 127.7H186.8V130.7H183.1zM192.8 127.7H196.5V130.7H192.8zM29.2 130.3H33.1V133.4H29.2zM49.6 130.3H53.2V133.4H49.6zM68.8 130.3H72.4V133.4H68.8zM179.9 130.3H183.5V133.4H179.9zM56.0 133.0H59.6V135.8H56.0zM59.2 133.0H62.8V135.8H59.2zM78.4 133.0H82.0V135.8H78.4zM29.2 135.4H33.1V139.1H29.2zM40.0 135.4H43.6V139.1H40.0zM46.4 135.4H50.0V139.1H46.4zM52.8 135.4H56.4V139.1H52.8zM65.6 135.4H69.2V139.1H65.6zM72.0 135.4H75.6V139.1H72.0zM78.4 135.4H82.0V139.1H78.4zM169.3 135.4H172.4V139.1H169.3zM176.6 135.4H180.3V139.1H176.6zM40.0 138.7H43.6V142.3H40.0zM43.2 138.7H46.8V142.3H43.2zM49.6 138.7H53.2V142.3H49.6zM56.0 138.7H59.6V142.3H56.0zM75.2 138.7H78.8V142.3H75.2zM78.4 138.7H82.0V142.3H78.4zM169.3 138.7H172.4V142.3H169.3zM183.1 138.7H186.8V142.3H183.1zM196.1 138.7H199.3V142.3H196.1zM65.6 141.9H69.2V145.6H65.6zM169.3 141.9H172.4V145.6H169.3zM192.8 141.9H196.5V145.6H192.8zM59.2 145.2H62.8V148.9H59.2zM72.0 145.2H75.6V148.9H72.0zM169.3 145.2H172.4V148.9H169.3zM173.4 145.2H177.0V148.9H173.4zM189.6 145.2H193.2V148.9H189.6zM40.0 148.5H43.6V151.9H40.0zM52.8 148.5H56.4V151.9H52.8zM29.2 151.5H33.1V153.2H29.2zM46.4 151.5H50.0V153.2H46.4zM186.4 151.5H190.0V153.2H186.4zM189.6 151.5H193.2V153.2H189.6zM196.1 151.5H199.3V153.2H196.1zM43.2 152.8H46.8V154.6H43.2zM49.6 152.8H53.2V154.6H49.6zM52.8 152.8H56.4V154.6H52.8zM68.8 152.8H72.4V154.6H68.8zM72.0 152.8H75.6V154.6H72.0zM78.4 152.8H82.0V154.6H78.4zM123.5 152.8H127.6V154.6H123.5zM130.9 152.8H135.0V154.6H130.9zM142.4 152.8H145.7V154.6H142.4zM145.3 152.8H148.7V154.6H145.3zM166.4 152.8H169.7V154.6H166.4zM176.6 152.8H180.3V154.6H176.6zM183.1 152.8H186.8V154.6H183.1zM189.6 152.8H193.2V154.6H189.6zM114.0 154.2H115.8V157.6H114.0zM123.5 154.2H127.6V157.6H123.5zM148.3 154.2H150.9V157.6H148.3zM150.5 154.2H153.6V157.6H150.5zM153.2 154.2H157.6V157.6H153.2zM160.6 154.2H163.9V157.6H160.6zM166.4 154.2H169.7V157.6H166.4zM176.6 154.2H180.3V157.6H176.6zM196.1 154.2H199.3V157.6H196.1zM94.5 157.2H98.4V160.5H94.5zM100.8 157.2H104.4V160.5H100.8zM107.5 157.2H111.4V160.5H107.5zM130.9 157.2H135.0V160.5H130.9zM134.6 157.2H139.3V160.5H134.6zM148.3 157.2H150.9V160.5H148.3zM153.2 157.2H157.6V160.5H153.2zM157.2 157.2H161.0V160.5H157.2zM163.5 157.2H166.8V160.5H163.5zM179.9 157.2H183.5V160.5H179.9zM192.8 157.2H196.5V160.5H192.8zM107.5 160.1H111.4V163.5H107.5zM118.0 160.1H119.6V163.5H118.0zM123.5 160.1H127.6V163.5H123.5zM142.4 160.1H145.7V163.5H142.4zM172.0 160.1H173.8V163.5H172.0zM186.4 160.1H190.0V163.5H186.4zM196.1 160.1H199.3V163.5H196.1zM94.5 163.1H98.4V166.5H94.5zM104.0 163.1H107.9V166.5H104.0zM107.5 163.1H111.4V166.5H107.5zM111.0 163.1H114.4V166.5H111.0zM119.2 163.1H123.9V166.5H119.2zM134.6 163.1H139.3V166.5H134.6zM153.2 163.1H157.6V166.5H153.2zM173.4 163.1H177.0V166.5H173.4zM176.6 163.1H180.3V166.5H176.6zM186.4 163.1H190.0V166.5H186.4zM196.1 163.1H199.3V166.5H196.1zM81.6 166.1H85.8V169.4H81.6zM89.8 166.1H94.9V169.4H89.8zM123.5 166.1H127.6V169.4H123.5zM127.2 166.1H131.3V169.4H127.2zM142.4 166.1H145.7V169.4H142.4zM145.3 166.1H148.7V169.4H145.3zM150.5 166.1H153.6V169.4H150.5zM153.2 166.1H157.6V169.4H153.2zM173.4 166.1H177.0V169.4H173.4zM179.9 166.1H183.5V169.4H179.9zM183.1 166.1H186.8V169.4H183.1zM98.0 169.0H101.2V172.4H98.0zM100.8 169.0H104.4V172.4H100.8zM160.6 169.0H163.9V172.4H160.6zM173.4 169.0H177.0V172.4H173.4zM179.9 169.0H183.5V172.4H179.9zM192.8 169.0H196.5V172.4H192.8zM85.4 172.0H90.2V175.2H85.4zM100.8 172.0H104.4V175.2H100.8zM104.0 172.0H107.9V175.2H104.0zM138.9 172.0H142.8V175.2H138.9zM153.2 172.0H157.6V175.2H153.2zM172.0 172.0H173.8V175.2H172.0zM183.1 172.0H186.8V175.2H183.1zM107.5 174.8H111.4V178.0H107.5zM119.2 174.8H123.9V178.0H119.2zM123.5 174.8H127.6V178.0H123.5zM127.2 174.8H131.3V178.0H127.2zM134.6 174.8H139.3V178.0H134.6zM138.9 174.8H142.8V178.0H138.9zM150.5 174.8H153.6V178.0H150.5zM183.1 174.8H186.8V178.0H183.1zM192.8 174.8H196.5V178.0H192.8zM89.8 177.6H94.9V180.8H89.8zM100.8 177.6H104.4V180.8H100.8zM119.2 177.6H123.9V180.8H119.2zM123.5 177.6H127.6V180.8H123.5zM130.9 177.6H135.0V180.8H130.9zM134.6 177.6H139.3V180.8H134.6zM142.4 177.6H145.7V180.8H142.4zM172.0 177.6H173.8V180.8H172.0zM183.1 177.6H186.8V180.8H183.1zM189.6 177.6H193.2V180.8H189.6zM196.1 177.6H199.3V180.8H196.1zM114.0 180.4H115.8V183.6H114.0zM115.4 180.4H118.4V183.6H115.4zM123.5 180.4H127.6V183.6H123.5zM127.2 180.4H131.3V183.6H127.2zM148.3 180.4H150.9V183.6H148.3zM153.2 180.4H157.6V183.6H153.2zM172.0 180.4H173.8V183.6H172.0zM173.4 180.4H177.0V183.6H173.4zM176.6 180.4H180.3V183.6H176.6zM118.0 183.2H119.6V186.4H118.0zM123.5 183.2H127.6V186.4H123.5zM142.4 183.2H145.7V186.4H142.4zM163.5 183.2H166.8V186.4H163.5zM176.6 183.2H180.3V186.4H176.6zM186.4 183.2H190.0V186.4H186.4zM192.8 183.2H196.5V186.4H192.8zM81.6 186.0H85.8V189.2H81.6zM89.8 186.0H94.9V189.2H89.8zM98.0 186.0H101.2V189.2H98.0zM118.0 186.0H119.6V189.2H118.0zM119.2 186.0H123.9V189.2H119.2zM134.6 186.0H139.3V189.2H134.6zM138.9 186.0H142.8V189.2H138.9zM148.3 186.0H150.9V189.2H148.3zM157.2 186.0H161.0V189.2H157.2zM196.1 186.0H199.3V189.2H196.1zM111.0 188.8H114.4V192.0H111.0zM114.0 188.8H115.8V192.0H114.0zM138.9 188.8H142.8V192.0H138.9zM142.4 188.8H145.7V192.0H142.4zM173.4 188.8H177.0V192.0H173.4zM183.1 188.8H186.8V192.0H183.1zM192.8 188.8H196.5V192.0H192.8zM85.4 191.6H90.2V194.8H85.4zM111.0 191.6H114.4V194.8H111.0zM127.2 191.6H131.3V194.8H127.2zM166.4 191.6H169.7V194.8H166.4zM172.0 191.6H173.8V194.8H172.0zM183.1 191.6H186.8V194.8H183.1zM192.8 191.6H196.5V194.8H192.8zM85.4 194.4H90.2V198.5H85.4zM104.0 194.4H107.9V198.5H104.0zM115.4 194.4H118.4V198.5H115.4zM118.0 194.4H119.6V198.5H118.0zM127.2 194.4H131.3V198.5H127.2zM134.6 194.4H139.3V198.5H134.6zM94.5 198.1H98.4V201.8H94.5zM98.0 198.1H101.2V201.8H98.0zM111.0 198.1H114.4V201.8H111.0zM118.0 198.1H119.6V201.8H118.0z"/>
<path fill="#f2f0f8" d="M81.6 45.5H85.8V49.1H81.6zM89.8 45.5H94.9V49.1H89.8zM94.5 45.5H98.4V49.1H94.5zM118.0 45.5H119.6V49.1H118.0zM123.5 45.5H127.6V49.1H123.5zM127.2 45.5H131.3V49.1H127.2zM81.6 48.8H85.8V52.4H81.6zM89.8 48.8H94.9V52.4H89.8zM94.5 48.8H98.4V52.4H94.5zM119.2 48.8H123.9V52.4H119.2zM130.9 48.8H135.0V52.4H130.9zM81.6 52.0H85.8V55.6H81.6zM89.8 52.0H94.9V55.6H89.8zM94.5 52.0H98.4V55.6H94.5zM98.0 52.0H101.2V55.6H98.0zM104.0 52.0H107.9V55.6H104.0zM134.6 52.0H139.3V55.6H134.6zM81.6 55.2H85.8V58.9H81.6zM89.8 55.2H94.9V58.9H89.8zM98.0 55.2H101.2V58.9H98.0zM107.5 55.2H111.4V58.9H107.5zM118.0 55.2H119.6V58.9H118.0zM123.5 55.2H127.6V58.9H123.5zM127.2 55.2H131.3V58.9H127.2zM130.9 55.2H135.0V58.9H130.9zM111.0 58.5H114.4V61.9H111.0zM118.0 58.5H119.6V61.9H118.0zM127.2 58.5H131.3V61.9H127.2zM94.5 61.5H98.4V65.4H94.5zM98.0 61.5H101.2V65.4H98.0zM111.0 61.5H114.4V65.4H111.0zM127.2 61.5H131.3V65.4H127.2zM89.8 65.0H94.9V67.7H89.8zM118.0 65.0H119.6V67.7H118.0zM127.2 65.0H131.3V67.7H127.2zM104.0 67.3H107.9V70.0H104.0zM107.5 67.3H111.4V70.0H107.5zM118.0 67.3H119.6V70.0H118.0zM123.5 67.3H127.6V70.0H123.5zM130.9 67.3H135.0V70.0H130.9zM118.0 69.6H119.6V73.3H118.0zM123.5 69.6H127.6V73.3H123.5zM134.6 69.6H139.3V73.3H134.6z"/>
<path fill="#dbd7ea" d="M85.4 45.5H90.2V49.1H85.4zM115.4 55.2H118.4V58.9H115.4zM160.6 151.5H163.9V153.2H160.6z"/>
<path fill="#f1eff7" d="M98.0 45.5H101.2V49.1H98.0zM111.0 45.5H114.4V49.1H111.0zM107.5 48.8H111.4V52.4H107.5zM118.0 52.0H119.6V55.6H118.0zM119.2 52.0H123.9V55.6H119.2zM123.5 52.0H127.6V55.6H123.5zM94.5 55.2H98.4V58.9H94.5zM89.8 58.5H94.9V61.9H89.8zM94.5 58.5H98.4V61.9H94.5zM104.0 58.5H107.9V61.9H104.0zM123.5 58.5H127.6V61.9H123.5zM134.6 58.5H139.3V61.9H134.6zM107.5 61.5H111.4V65.4H107.5zM118.0 61.5H119.6V65.4H118.0zM119.2 61.5H123.9V65.4H119.2zM123.5 61.5H127.6V65.4H123.5zM104.0 65.0H107.9V67.7H104.0zM111.0 65.0H114.4V67.7H111.0zM123.5 65.0H127.6V67.7H123.5zM130.9 65.0H135.0V67.7H130.9zM89.8 67.3H94.9V70.0H89.8zM111.0 67.3H114.4V70.0H111.0zM127.2 67.3H131.3V70.0H127.2zM98.0 69.6H101.2V73.3H98.0zM104.0 69.6H107.9V73.3H104.0zM111.0 69.6H114.4V73.3H111.0z"/>
<path fill="#e7e4f1" d="M100.8 45.5H104.4V49.1H100.8zM114.0 48.8H115.8V52.4H114.0zM85.4 52.0H90.2V55.6H85.4zM115.4 52.0H118.4V55.6H115.4zM100.8 58.5H104.4V61.9H100.8zM114.0 58.5H115.8V61.9H114.0zM115.4 61.5H118.4V65.4H115.4zM115.4 65.0H118.4V67.7H115.4zM100.8 67.3H104.4V70.0H100.8zM85.4 69.6H90.2V73.3H85.4zM115.4 69.6H118.4V73.3H115.4zM196.1 133.0H199.3V135.8H196.1zM138.9 145.2H142.8V148.9H138.9z"/>
<path fill="#f1eff8" d="M104.0 45.5H107.9V49.1H104.0zM107.5 45.5H111.4V49.1H107.5zM104.0 48.8H107.9V52.4H104.0zM118.0 48.8H119.6V52.4H118.0zM123.5 48.8H127.6V52.4H123.5zM107.5 52.0H111.4V55.6H107.5zM127.2 52.0H131.3V55.6H127.2zM130.9 52.0H135.0V55.6H130.9zM104.0 55.2H107.9V58.9H104.0zM134.6 55.2H139.3V58.9H134.6zM81.6 58.5H85.8V61.9H81.6zM98.0 58.5H101.2V61.9H98.0zM89.8 61.5H94.9V65.4H89.8zM104.0 61.5H107.9V65.4H104.0zM98.0 65.0H101.2V67.7H98.0zM107.5 65.0H111.4V67.7H107.5zM81.6 67.3H85.8V70.0H81.6zM81.6 69.6H85.8V73.3H81.6zM94.5 69.6H98.4V73.3H94.5zM127.2 69.6H131.3V73.3H127.2z"/>
<path fill="#ddd9eb" d="M114.0 45.5H115.8V49.1H114.0z"/>
<path fill="#e8e6f2" d="M115.4 45.5H118.4V49.1H115.4zM138.9 121.8H142.8V125.4H138.9zM138.9 127.7H142.8V130.7H138.9zM138.9 138.7H142.8V142.3H138.9zM138.9 148.5H142.8V151.9H138.9z"/>
<path fill="#f0eef7" d="M119.2 45.5H123.9V49.1H119.2zM130.9 45.5H135.0V49.1H130.9zM134.6 45.5H139.3V49.1H134.6zM98.0 48.8H101.2V52.4H98.0zM111.0 48.8H114.4V52.4H111.0zM127.2 48.8H131.3V52.4H127.2zM134.6 48.8H139.3V52.4H134.6zM111.0 52.0H114.4V55.6H111.0zM111.0 55.2H114.4V58.9H111.0zM119.2 58.5H123.9V61.9H119.2zM130.9 58.5H135.0V61.9H130.9zM81.6 61.5H85.8V65.4H81.6zM134.6 61.5H139.3V65.4H134.6zM81.6 65.0H85.8V67.7H81.6zM94.5 65.0H98.4V67.7H94.5zM134.6 65.0H139.3V67.7H134.6zM98.0 67.3H101.2V70.0H98.0zM119.2 67.3H123.9V70.0H119.2zM134.6 67.3H139.3V70.0H134.6zM89.8 69.6H94.9V73.3H89.8zM119.2 69.6H123.9V73.3H119.2zM130.9 69.6H135.0V73.3H130.9z"/>
<path fill="#5b4399" d="M138.9 45.5H142.8V49.1H138.9z"/>
<path fill="#c5c1de" d="M142.4 45.5H145.7V49.1H142.4zM142.4 65.0H145.7V67.7H142.4zM148.3 67.3H150.9V70.0H148.3zM145.3 69.6H148.7V73.3H145.3z"/>
<path fill="#aba4cd" d="M145.3 45.5H148.7V49.1H145.3z"/>
<path fill="#c5c1dd" d="M148.3 45.5H150.9V49.1H148.3zM153.2 52.0H157.6V55.6H153.2zM148.3 61.5H150.9V65.4H148.3z"/>
<path fill="#a39bc7" d="M150.5 45.5H153.6V49.1H150.5z"/>
<path fill="#cac6e0" d="M153.2 45.5H157.6V49.1H153.2z"/>
<path fill="#5c4797" d="M157.2 45.5H161.0V49.1H157.2z"/>
<path fill="#8f87be" d="M160.6 45.5H163.9V49.1H160.6zM166.4 45.5H169.7V49.1H166.4z"/>
<path fill="#847bb8" d="M163.5 45.5H166.8V49.1H163.5z"/>
<path fill="#7569ac" d="M169.3 45.5H172.4V49.1H169.3zM172.0 55.2H173.8V58.9H172.0zM172.0 61.5H173.8V65.4H172.0z"/>
<path fill="#7063a9" d="M172.0 45.5H173.8V49.1H172.0zM172.0 48.8H173.8V52.4H172.0zM169.3 52.0H172.4V55.6H169.3zM169.3 65.0H172.4V67.7H169.3z"/>
<path fill="#4c348b" d="M173.4 45.5H177.0V49.1H173.4zM186.4 45.5H190.0V49.1H186.4zM189.6 52.0H193.2V55.6H189.6zM183.1 55.2H186.8V58.9H183.1zM153.2 83.7H157.6V87.4H153.2zM142.4 90.3H145.7V94.1H142.4zM150.5 90.3H153.6V94.1H150.5zM153.2 90.3H157.6V94.1H153.2zM89.8 109.6H94.9V113.1H89.8zM104.0 115.7H107.9V119.2H104.0zM100.8 130.3H104.4V133.4H100.8zM85.4 141.9H90.2V145.6H85.4zM89.8 145.2H94.9V148.9H89.8zM118.0 145.2H119.6V148.9H118.0z"/>
<path fill="#4b338b" d="M176.6 45.5H180.3V49.1H176.6zM176.6 48.8H180.3V52.4H176.6zM173.4 55.2H177.0V58.9H173.4zM176.6 65.0H180.3V67.7H176.6zM176.6 67.3H180.3V70.0H176.6zM179.9 67.3H183.5V70.0H179.9zM153.2 93.7H157.6V97.4H153.2zM89.8 103.5H94.9V106.9H89.8zM94.5 106.5H98.4V110.0H94.5zM134.6 106.5H139.3V110.0H134.6zM104.0 112.7H107.9V116.1H104.0zM94.5 121.8H98.4V125.4H94.5zM94.5 141.9H98.4V145.6H94.5z"/>
<path fill="#482f88" d="M179.9 45.5H183.5V49.1H179.9zM183.1 45.5H186.8V49.1H183.1zM192.8 45.5H196.5V49.1H192.8zM186.4 48.8H190.0V52.4H186.4zM189.6 55.2H193.2V58.9H189.6zM186.4 58.5H190.0V61.9H186.4zM192.8 61.5H196.5V65.4H192.8zM196.1 61.5H199.3V65.4H196.1zM183.1 65.0H186.8V67.7H183.1zM196.1 65.0H199.3V67.7H196.1zM148.3 87.0H150.9V90.8H148.3zM150.5 87.0H153.6V90.8H150.5zM145.3 97.0H148.7V98.8H145.3zM85.4 100.4H90.2V103.9H85.4zM85.4 103.5H90.2V106.9H85.4zM130.9 103.5H135.0V106.9H130.9zM85.4 109.6H90.2V113.1H85.4zM115.4 109.6H118.4V113.1H115.4zM127.2 112.7H131.3V116.1H127.2zM94.5 115.7H98.4V119.2H94.5zM119.2 115.7H123.9V119.2H119.2zM85.4 121.8H90.2V125.4H85.4zM98.0 125.0H101.2V128.1H98.0zM100.8 127.7H104.4V130.7H100.8zM107.5 130.3H111.4V133.4H107.5zM114.0 130.3H115.8V133.4H114.0zM100.8 135.4H104.4V139.1H100.8zM107.5 138.7H111.4V142.3H107.5zM85.4 145.2H90.2V148.9H85.4zM114.0 145.2H115.8V148.9H114.0z"/>
<path fill="#472e87" d="M189.6 45.5H193.2V49.1H189.6zM196.1 45.5H199.3V49.1H196.1zM189.6 48.8H193.2V52.4H189.6zM192.8 52.0H196.5V55.6H192.8zM196.1 52.0H199.3V55.6H196.1zM179.9 55.2H183.5V58.9H179.9zM179.9 58.5H183.5V61.9H179.9zM183.1 58.5H186.8V61.9H183.1zM189.6 65.0H193.2V67.7H189.6zM192.8 65.0H196.5V67.7H192.8zM173.4 67.3H177.0V70.0H173.4zM148.3 93.7H150.9V97.4H148.3zM150.5 98.4H153.6V100.8H150.5zM107.5 100.4H111.4V103.9H107.5zM94.5 103.5H98.4V106.9H94.5zM104.0 103.5H107.9V106.9H104.0zM123.5 103.5H127.6V106.9H123.5zM98.0 106.5H101.2V110.0H98.0zM127.2 109.6H131.3V113.1H127.2zM130.9 109.6H135.0V113.1H130.9zM85.4 112.7H90.2V116.1H85.4zM89.8 112.7H94.9V116.1H89.8zM115.4 112.7H118.4V116.1H115.4zM85.4 115.7H90.2V119.2H85.4zM134.6 115.7H139.3V119.2H134.6zM118.0 118.8H119.6V122.2H118.0zM104.0 121.8H107.9V125.4H104.0zM107.5 121.8H111.4V125.4H107.5zM114.0 121.8H115.8V125.4H114.0zM85.4 125.0H90.2V128.1H85.4zM100.8 125.0H104.4V128.1H100.8zM104.0 125.0H107.9V128.1H104.0zM114.0 125.0H115.8V128.1H114.0zM94.5 127.7H98.4V130.7H94.5zM114.0 133.0H115.8V135.8H114.0zM94.5 138.7H98.4V142.3H94.5zM100.8 138.7H104.4V142.3H100.8zM114.0 138.7H115.8V142.3H114.0z"/>
<path fill="#bab5d8" d="M29.2 48.8H33.1V52.4H29.2z"/>
<path fill="#b3add3" d="M32.7 48.8H36.6V52.4H32.7zM142.4 130.3H145.7V133.4H142.4z"/>
<path fill="#f8f7fa" d="M36.2 48.8H40.4V52.4H36.2zM65.6 55.2H69.2V58.9H65.6zM62.4 67.3H66.0V70.0H62.4zM59.2 72.9H62.8V76.6H59.2zM40.0 83.7H43.6V87.4H40.0zM59.2 87.0H62.8V90.8H59.2zM62.4 87.0H66.0V90.8H62.4zM40.0 100.4H43.6V103.9H40.0zM189.6 103.5H193.2V106.9H189.6zM49.6 115.7H53.2V119.2H49.6zM43.2 118.8H46.8V122.2H43.2zM46.4 118.8H50.0V122.2H46.4zM59.2 121.8H62.8V125.4H59.2zM36.2 130.3H40.4V133.4H36.2zM78.4 130.3H82.0V133.4H78.4zM169.3 151.5H172.4V153.2H169.3zM114.0 152.8H115.8V154.6H114.0zM85.4 154.2H90.2V157.6H85.4zM115.4 169.0H118.4V172.4H115.4zM176.6 169.0H180.3V172.4H176.6zM107.5 180.4H111.4V183.6H107.5zM166.4 188.8H169.7V192.0H166.4zM111.0 194.4H114.4V198.5H111.0z"/>
<path fill="#f5f4f9" d="M46.4 48.8H50.0V52.4H46.4zM62.4 130.3H66.0V133.4H62.4zM176.6 130.3H180.3V133.4H176.6zM59.2 135.4H62.8V139.1H59.2zM81.6 152.8H85.8V154.6H81.6zM186.4 180.4H190.0V183.6H186.4zM160.6 188.8H163.9V192.0H160.6zM179.9 191.6H183.5V194.8H179.9z"/>
<path fill="#e8e5f2" d="M85.4 48.8H90.2V52.4H85.4zM85.4 58.5H90.2V61.9H85.4zM100.8 65.0H104.4V67.7H100.8z"/>
<path fill="#d7d2e6" d="M100.8 48.8H104.4V52.4H100.8z"/>
<path fill="#e7e4f2" d="M115.4 48.8H118.4V52.4H115.4zM100.8 52.0H104.4V55.6H100.8z"/>
<path fill="#573f96" d="M138.9 48.8H142.8V52.4H138.9z"/>
<path fill="#c6c2de" d="M142.4 48.8H145.7V52.4H142.4zM148.3 65.0H150.9V67.7H148.3z"/>
<path fill="#b1abd0" d="M145.3 48.8H148.7V52.4H145.3z"/>
<path fill="#c8c4df" d="M148.3 48.8H150.9V52.4H148.3zM153.2 55.2H157.6V58.9H153.2z"/>
<path fill="#a49cc8" d="M150.5 48.8H153.6V52.4H150.5z"/>
<path fill="#c9c5df" d="M153.2 48.8H157.6V52.4H153.2z"/>
<path fill="#63509c" d="M157.2 48.8H161.0V52.4H157.2z"/>
<path fill="#8278b6" d="M160.6 48.8H163.9V52.4H160.6zM166.4 48.8H169.7V52.4H166.4zM166.4 52.0H169.7V55.6H166.4z"/>
<path fill="#9790c3" d="M163.5 48.8H166.8V52.4H163.5z"/>
<path fill="#7569ad" d="M169.3 48.8H172.4V52.4H169.3z"/>
<path fill="#482f88" d="M173.4 48.8H177.0V52.4H173.4zM179.9 48.8H183.5V52.4H179.9zM192.8 48.8H196.5V52.4H192.8zM196.1 48.8H199.3V52.4H196.1zM173.4 52.0H177.0V55.6H173.4zM176.6 55.2H180.3V58.9H176.6zM192.8 55.2H196.5V58.9H192.8zM196.1 55.2H199.3V58.9H196.1zM189.6 58.5H193.2V61.9H189.6zM196.1 58.5H199.3V61.9H196.1zM173.4 61.5H177.0V65.4H173.4zM179.9 61.5H183.5V65.4H179.9zM186.4 61.5H190.0V65.4H186.4zM179.9 65.0H183.5V67.7H179.9zM186.4 67.3H190.0V70.0H186.4zM192.8 67.3H196.5V70.0H192.8zM150.5 83.7H153.6V87.4H150.5zM145.3 87.0H148.7V90.8H145.3zM148.3 90.3H150.9V94.1H148.3zM145.3 93.7H148.7V97.4H145.3zM150.5 93.7H153.6V97.4H150.5zM148.3 97.0H150.9V98.8H148.3zM142.4 98.4H145.7V100.8H142.4zM145.3 98.4H148.7V100.8H145.3zM148.3 98.4H150.9V100.8H148.3zM153.2 98.4H157.6V100.8H153.2zM89.8 100.4H94.9V103.9H89.8zM94.5 100.4H98.4V103.9H94.5zM123.5 100.4H127.6V103.9H123.5zM127.2 100.4H131.3V103.9H127.2zM98.0 103.5H101.2V106.9H98.0zM119.2 103.5H123.9V106.9H119.2zM127.2 103.5H131.3V106.9H127.2zM134.6 103.5H139.3V106.9H134.6zM104.0 106.5H107.9V110.0H104.0zM130.9 106.5H135.0V110.0H130.9zM94.5 109.6H98.4V113.1H94.5zM118.0 109.6H119.6V113.1H118.0zM123.5 109.6H127.6V113.1H123.5zM94.5 112.7H98.4V116.1H94.5zM107.5 115.7H111.4V119.2H107.5zM123.5 115.7H127.6V119.2H123.5zM127.2 115.7H131.3V119.2H127.2zM119.2 118.8H123.9V122.2H119.2zM123.5 118.8H127.6V122.2H123.5zM127.2 118.8H131.3V122.2H127.2zM89.8 121.8H94.9V125.4H89.8zM107.5 125.0H111.4V128.1H107.5zM85.4 127.7H90.2V130.7H85.4zM89.8 127.7H94.9V130.7H89.8zM111.0 127.7H114.4V130.7H111.0zM114.0 127.7H115.8V130.7H114.0zM89.8 130.3H94.9V133.4H89.8zM98.0 130.3H101.2V133.4H98.0zM104.0 130.3H107.9V133.4H104.0zM85.4 133.0H90.2V135.8H85.4zM89.8 133.0H94.9V135.8H89.8zM98.0 133.0H101.2V135.8H98.0zM104.0 133.0H107.9V135.8H104.0zM107.5 133.0H111.4V135.8H107.5zM111.0 135.4H114.4V139.1H111.0zM114.0 135.4H115.8V139.1H114.0zM118.0 135.4H119.6V139.1H118.0zM89.8 138.7H94.9V142.3H89.8zM89.8 141.9H94.9V145.6H89.8zM115.4 145.2H118.4V148.9H115.4z"/>
<path fill="#513a8f" d="M183.1 48.8H186.8V52.4H183.1zM173.4 58.5H177.0V61.9H173.4zM183.1 61.5H186.8V65.4H183.1zM123.5 106.5H127.6V110.0H123.5zM127.2 106.5H131.3V110.0H127.2zM107.5 112.7H111.4V116.1H107.5zM98.0 138.7H101.2V142.3H98.0z"/>
<path fill="#a8a3c9" d="M29.2 52.0H33.1V55.6H29.2z"/>
<path fill="#b3afd0" d="M32.7 52.0H36.6V55.6H32.7z"/>
<path fill="#f9f7fb" d="M59.2 52.0H62.8V55.6H59.2zM56.0 115.7H59.6V119.2H56.0zM160.6 172.0H163.9V175.2H160.6zM81.6 183.2H85.8V186.4H81.6z"/>
<path fill="#f6f5f9" d="M78.4 52.0H82.0V55.6H78.4zM36.2 65.0H40.4V67.7H36.2zM78.4 87.0H82.0V90.8H78.4zM56.0 97.0H59.6V98.8H56.0zM176.6 100.4H180.3V103.9H176.6zM32.7 106.5H36.6V110.0H32.7zM65.6 109.6H69.2V113.1H65.6zM59.2 115.7H62.8V119.2H59.2zM169.3 115.7H172.4V119.2H169.3zM196.1 130.3H199.3V133.4H196.1zM52.8 133.0H56.4V135.8H52.8zM196.1 135.4H199.3V139.1H196.1zM72.0 141.9H75.6V145.6H72.0zM183.1 145.2H186.8V148.9H183.1zM40.0 151.5H43.6V153.2H40.0zM52.8 151.5H56.4V153.2H52.8zM119.2 157.2H123.9V160.5H119.2zM127.2 177.6H131.3V180.8H127.2zM150.5 186.0H153.6V189.2H150.5z"/>
<path fill="#e0dded" d="M114.0 52.0H115.8V55.6H114.0zM157.2 127.7H161.0V130.7H157.2z"/>
<path fill="#563e95" d="M138.9 52.0H142.8V55.6H138.9zM138.9 55.2H142.8V58.9H138.9z"/>
<path fill="#c3bfdc" d="M142.4 52.0H145.7V55.6H142.4z"/>
<path fill="#afa9cf" d="M145.3 52.0H148.7V55.6H145.3z"/>
<path fill="#cbc7e0" d="M148.3 52.0H150.9V55.6H148.3z"/>
<path fill="#a69fc9" d="M150.5 52.0H153.6V55.6H150.5z"/>
<path fill="#594495" d="M157.2 52.0H161.0V55.6H157.2z"/>
<path fill="#8a81ba" d="M160.6 52.0H163.9V55.6H160.6z"/>
<path fill="#7f75b4" d="M163.5 52.0H166.8V55.6H163.5z"/>
<path fill="#7266ab" d="M172.0 52.0H173.8V55.6H172.0zM169.3 55.2H172.4V58.9H169.3zM172.0 58.5H173.8V61.9H172.0z"/>
<path fill="#4a328a" d="M176.6 52.0H180.3V55.6H176.6zM186.4 55.2H190.0V58.9H186.4zM176.6 61.5H180.3V65.4H176.6zM142.4 93.7H145.7V97.4H142.4zM115.4 103.5H118.4V106.9H115.4zM123.5 112.7H127.6V116.1H123.5zM98.0 127.7H101.2V130.7H98.0z"/>
<path fill="#493089" d="M179.9 52.0H183.5V55.6H179.9zM186.4 65.0H190.0V67.7H186.4zM183.1 67.3H186.8V70.0H183.1zM166.4 76.2H169.7V79.9H166.4zM153.2 97.0H157.6V98.8H153.2zM85.4 130.3H90.2V133.4H85.4zM98.0 135.4H101.2V139.1H98.0zM107.5 145.2H111.4V148.9H107.5z"/>
<path fill="#483089" d="M183.1 52.0H186.8V55.6H183.1z"/>
<path fill="#493089" d="M186.4 52.0H190.0V55.6H186.4zM85.4 135.4H90.2V139.1H85.4z"/>
<path fill="#a5a0c8" d="M29.2 55.2H33.1V58.9H29.2z"/>
<path fill="#a099c4" d="M32.7 55.2H36.6V58.9H32.7z"/>
<path fill="#e6e3f1" d="M85.4 55.2H90.2V58.9H85.4zM100.8 61.5H104.4V65.4H100.8zM114.0 65.0H115.8V67.7H114.0zM114.0 67.3H115.8V70.0H114.0z"/>
<path fill="#e5e3f0" d="M100.8 55.2H104.4V58.9H100.8z"/>
<path fill="#e3e0ee" d="M114.0 55.2H115.8V58.9H114.0z"/>
<path fill="#edebf4" d="M119.2 55.2H123.9V58.9H119.2zM130.9 61.5H135.0V65.4H130.9zM107.5 69.6H111.4V73.3H107.5zM189.6 148.5H193.2V151.9H189.6z"/>
<path fill="#beb9d9" d="M142.4 55.2H145.7V58.9H142.4zM142.4 67.3H145.7V70.0H142.4zM153.2 67.3H157.6V70.0H153.2z"/>
<path fill="#aaa3cc" d="M145.3 55.2H148.7V58.9H145.3z"/>
<path fill="#c1bcda" d="M148.3 55.2H150.9V58.9H148.3z"/>
<path fill="#a9a1ca" d="M150.5 55.2H153.6V58.9H150.5z"/>
<path fill="#5a4696" d="M157.2 55.2H161.0V58.9H157.2z"/>
<path fill="#8b83bc" d="M160.6 55.2H163.9V58.9H160.6z"/>
<path fill="#958dc1" d="M163.5 55.2H166.8V58.9H163.5z"/>
<path fill="#8379b7" d="M166.4 55.2H169.7V58.9H166.4z"/>
<path fill="#a6a1c8" d="M29.2 58.5H33.1V61.9H29.2z"/>
<path fill="#aba7cb" d="M32.7 58.5H36.6V61.9H32.7z"/>
<path fill="#f2eff8" d="M107.5 58.5H111.4V61.9H107.5z"/>
<path fill="#d5d0e5" d="M115.4 58.5H118.4V61.9H115.4zM115.4 79.5H118.4V84.1H115.4z"/>
<path fill="#5a4399" d="M138.9 58.5H142.8V61.9H138.9zM138.9 67.3H142.8V70.0H138.9z"/>
<path fill="#b4afd3" d="M142.4 58.5H145.7V61.9H142.4z"/>
<path fill="#b0a9d0" d="M145.3 58.5H148.7V61.9H145.3zM94.5 72.9H98.4V76.6H94.5zM169.3 98.4H172.4V100.8H169.3z"/>
<path fill="#bab4d6" d="M148.3 58.5H150.9V61.9H148.3z"/>
<path fill="#b9b3d6" d="M150.5 58.5H153.6V61.9H150.5z"/>
<path fill="#b5afd3" d="M153.2 58.5H157.6V61.9H153.2z"/>
<path fill="#5f4a99" d="M157.2 58.5H161.0V61.9H157.2z"/>
<path fill="#857cb8" d="M160.6 58.5H163.9V61.9H160.6z"/>
<path fill="#8075b4" d="M163.5 58.5H166.8V61.9H163.5z"/>
<path fill="#8980ba" d="M166.4 58.5H169.7V61.9H166.4z"/>
<path fill="#776bae" d="M169.3 58.5H172.4V61.9H169.3z"/>
<path fill="#523b90" d="M176.6 58.5H180.3V61.9H176.6zM192.8 58.5H196.5V61.9H192.8zM115.4 100.4H118.4V103.9H115.4z"/>
<path fill="#aba6cb" d="M29.2 61.5H33.1V65.4H29.2z"/>
<path fill="#a39dc6" d="M32.7 61.5H36.6V65.4H32.7z"/>
<path fill="#fbf9fc" d="M49.6 61.5H53.2V65.4H49.6zM65.6 65.0H69.2V67.7H65.6zM40.0 98.4H43.6V100.8H40.0zM49.6 106.5H53.2V110.0H49.6zM173.4 127.7H177.0V130.7H173.4zM75.2 141.9H78.8V145.6H75.2zM78.4 145.2H82.0V148.9H78.4zM176.6 151.5H180.3V153.2H176.6zM111.0 177.6H114.4V180.8H111.0zM115.4 188.8H118.4V192.0H115.4z"/>
<path fill="#faf8fb" d="M56.0 61.5H59.6V65.4H56.0zM72.0 61.5H75.6V65.4H72.0zM72.0 79.5H75.6V84.1H72.0zM68.8 90.3H72.4V94.1H68.8zM78.4 93.7H82.0V97.4H78.4zM36.2 100.4H40.4V103.9H36.2zM46.4 103.5H50.0V106.9H46.4zM72.0 115.7H75.6V119.2H72.0zM29.2 127.7H33.1V130.7H29.2zM173.4 135.4H177.0V139.1H173.4zM183.1 141.9H186.8V145.6H183.1zM189.6 141.9H193.2V145.6H189.6zM179.9 154.2H183.5V157.6H179.9zM100.8 163.1H104.4V166.5H100.8zM186.4 166.1H190.0V169.4H186.4zM104.0 174.8H107.9V178.0H104.0zM114.0 174.8H115.8V178.0H114.0zM183.1 186.0H186.8V189.2H183.1z"/>
<path fill="#e9e6f2" d="M85.4 61.5H90.2V65.4H85.4zM85.4 67.3H90.2V70.0H85.4z"/>
<path fill="#d4cfe5" d="M114.0 61.5H115.8V65.4H114.0z"/>
<path fill="#584097" d="M138.9 61.5H142.8V65.4H138.9z"/>
<path fill="#c7c3de" d="M142.4 61.5H145.7V65.4H142.4zM153.2 65.0H157.6V67.7H153.2z"/>
<path fill="#b3add1" d="M145.3 61.5H148.7V65.4H145.3zM150.5 65.0H153.6V67.7H150.5z"/>
<path fill="#afa9d0" d="M150.5 61.5H153.6V65.4H150.5z"/>
<path fill="#c4c0dd" d="M153.2 61.5H157.6V65.4H153.2z"/>
<path fill="#594395" d="M157.2 61.5H161.0V65.4H157.2z"/>
<path fill="#b7b1d5" d="M160.6 61.5H163.9V65.4H160.6zM166.4 69.6H169.7V73.3H166.4zM166.4 98.4H169.7V100.8H166.4z"/>
<path fill="#b2aad1" d="M163.5 61.5H166.8V65.4H163.5zM138.9 194.4H142.8V198.5H138.9z"/>
<path fill="#b4add2" d="M166.4 61.5H169.7V65.4H166.4zM157.2 98.4H161.0V100.8H157.2z"/>
<path fill="#766aae" d="M169.3 61.5H172.4V65.4H169.3z"/>
<path fill="#4c338b" d="M189.6 61.5H193.2V65.4H189.6zM196.1 67.3H199.3V70.0H196.1zM145.3 90.3H148.7V94.1H145.3zM115.4 106.5H118.4V110.0H115.4zM104.0 138.7H107.9V142.3H104.0zM98.0 141.9H101.2V145.6H98.0z"/>
<path fill="#b2afd0" d="M29.2 65.0H33.1V67.7H29.2z"/>
<path fill="#a9a5ca" d="M32.7 65.0H36.6V67.7H32.7z"/>
<path fill="#dedaeb" d="M85.4 65.0H90.2V67.7H85.4z"/>
<path fill="#f1eef7" d="M119.2 65.0H123.9V67.7H119.2z"/>
<path fill="#5e479b" d="M138.9 65.0H142.8V67.7H138.9z"/>
<path fill="#b3add2" d="M145.3 65.0H148.7V67.7H145.3z"/>
<path fill="#5a4596" d="M157.2 65.0H161.0V67.7H157.2z"/>
<path fill="#aca4cd" d="M160.6 65.0H163.9V67.7H160.6z"/>
<path fill="#b0a8d0" d="M163.5 65.0H166.8V67.7H163.5zM32.7 98.4H36.6V100.8H32.7z"/>
<path fill="#b5aed3" d="M166.4 65.0H169.7V67.7H166.4zM153.2 198.1H157.6V201.8H153.2z"/>
<path fill="#796daf" d="M172.0 65.0H173.8V67.7H172.0z"/>
<path fill="#4d358c" d="M173.4 65.0H177.0V67.7H173.4zM119.2 109.6H123.9V113.1H119.2zM115.4 115.7H118.4V119.2H115.4zM130.9 118.8H135.0V122.2H130.9zM94.5 125.0H98.4V128.1H94.5zM114.0 141.9H115.8V145.6H114.0zM111.0 145.2H114.4V148.9H111.0z"/>
<path fill="#a7a1c8" d="M29.2 67.3H33.1V70.0H29.2z"/>
<path fill="#a19ac4" d="M32.7 67.3H36.6V70.0H32.7z"/>
<path fill="#efedf6" d="M94.5 67.3H98.4V70.0H94.5z"/>
<path fill="#dddaeb" d="M115.4 67.3H118.4V70.0H115.4zM138.9 100.4H142.8V103.9H138.9zM160.6 103.5H163.9V106.9H160.6zM163.5 103.5H166.8V106.9H163.5zM166.4 118.8H169.7V122.2H166.4zM166.4 138.7H169.7V142.3H166.4z"/>
<path fill="#a9a2cb" d="M145.3 67.3H148.7V70.0H145.3z"/>
<path fill="#b5afd3" d="M150.5 67.3H153.6V70.0H150.5z"/>
<path fill="#5b4797" d="M157.2 67.3H161.0V70.0H157.2z"/>
<path fill="#ada6cf" d="M160.6 67.3H163.9V70.0H160.6z"/>
<path fill="#b6afd3" d="M163.5 67.3H166.8V70.0H163.5z"/>
<path fill="#b3acd2" d="M166.4 67.3H169.7V70.0H166.4z"/>
<path fill="#7367ab" d="M169.3 67.3H172.4V70.0H169.3z"/>
<path fill="#7367ac" d="M172.0 67.3H173.8V70.0H172.0z"/>
<path fill="#49318a" d="M189.6 67.3H193.2V70.0H189.6zM104.0 109.6H107.9V113.1H104.0zM130.9 112.7H135.0V116.1H130.9zM118.0 115.7H119.6V119.2H118.0zM94.5 133.0H98.4V135.8H94.5zM115.4 135.4H118.4V139.1H115.4zM118.0 138.7H119.6V142.3H118.0z"/>
<path fill="#7b6db1" d="M29.2 69.6H33.1V73.3H29.2z"/>
<path fill="#7e70b2" d="M32.7 69.6H36.6V73.3H32.7z"/>
<path fill="#cfcbdf" d="M36.2 69.6H40.4V73.3H36.2z"/>
<path fill="#c5c0d9" d="M40.0 69.6H43.6V73.3H40.0z"/>
<path fill="#dcdae7" d="M43.2 69.6H46.8V73.3H43.2zM46.4 69.6H50.0V73.3H46.4z"/>
<path fill="#dbd9e6" d="M49.6 69.6H53.2V73.3H49.6zM75.2 69.6H78.8V73.3H75.2z"/>
<path fill="#cecade" d="M52.8 69.6H56.4V73.3H52.8z"/>
<path fill="#dcdae8" d="M56.0 69.6H59.6V73.3H56.0zM78.4 69.6H82.0V73.3H78.4z"/>
<path fill="#d9d7e5" d="M59.2 69.6H62.8V73.3H59.2z"/>
<path fill="#cbc6dc" d="M62.4 69.6H66.0V73.3H62.4z"/>
<path fill="#dad8e5" d="M65.6 69.6H69.2V73.3H65.6z"/>
<path fill="#d1cde0" d="M68.8 69.6H72.4V73.3H68.8z"/>
<path fill="#d3d0e2" d="M72.0 69.6H75.6V73.3H72.0z"/>
<path fill="#e4e2ef" d="M100.8 69.6H104.4V73.3H100.8zM138.9 151.5H142.8V153.2H138.9z"/>
<path fill="#e2dfee" d="M114.0 69.6H115.8V73.3H114.0z"/>
<path fill="#c9c4df" d="M138.9 69.6H142.8V73.3H138.9z"/>
<path fill="#cbc7e1" d="M142.4 69.6H145.7V73.3H142.4zM142.4 72.9H145.7V76.6H142.4zM150.5 72.9H153.6V76.6H150.5zM153.2 76.2H157.6V79.9H153.2zM32.7 177.6H36.6V180.8H32.7zM29.2 183.2H33.1V186.4H29.2z"/>
<path fill="#cac6e1" d="M148.3 69.6H150.9V73.3H148.3zM150.5 69.6H153.6V73.3H150.5z"/>
<path fill="#c8c4e0" d="M153.2 69.6H157.6V73.3H153.2zM145.3 79.5H148.7V84.1H145.3z"/>
<path fill="#523a93" d="M157.2 69.6H161.0V73.3H157.2z"/>
<path fill="#b2abd2" d="M160.6 69.6H163.9V73.3H160.6z"/>
<path fill="#a59cc9" d="M163.5 69.6H166.8V73.3H163.5z"/>
<path fill="#9a91c6" d="M169.3 69.6H172.4V73.3H169.3z"/>
<path fill="#9990c6" d="M172.0 69.6H173.8V73.3H172.0z"/>
<path fill="#a29acb" d="M173.4 69.6H177.0V73.3H173.4z"/>
<path fill="#9f96c9" d="M176.6 69.6H180.3V73.3H176.6z"/>
<path fill="#9b93c7" d="M179.9 69.6H183.5V73.3H179.9z"/>
<path fill="#9e95c9" d="M183.1 69.6H186.8V73.3H183.1z"/>
<path fill="#988fc5" d="M186.4 69.6H190.0V73.3H186.4zM189.6 69.6H193.2V73.3H189.6z"/>
<path fill="#988ec4" d="M192.8 69.6H196.5V73.3H192.8z"/>
<path fill="#9c93c7" d="M196.1 69.6H199.3V73.3H196.1z"/>
<path fill="#ece9f3" d="M29.2 72.9H33.1V76.6H29.2zM32.7 76.2H36.6V79.9H32.7z"/>
<path fill="#eeebf4" d="M32.7 72.9H36.6V76.6H32.7z"/>
<path fill="#b9b2d5" d="M81.6 72.9H85.8V76.6H81.6z"/>
<path fill="#aea5cd" d="M85.4 72.9H90.2V76.6H85.4z"/>
<path fill="#bab2d5" d="M89.8 72.9H94.9V76.6H89.8z"/>
<path fill="#b7aed3" d="M98.0 72.9H101.2V76.6H98.0zM130.9 76.2H135.0V79.9H130.9z"/>
<path fill="#a7a0cb" d="M100.8 72.9H104.4V76.6H100.8z"/>
<path fill="#b9b1d5" d="M104.0 72.9H107.9V76.6H104.0zM134.6 72.9H139.3V76.6H134.6z"/>
<path fill="#c9c3de" d="M107.5 72.9H111.4V76.6H107.5z"/>
<path fill="#c1bad9" d="M111.0 72.9H114.4V76.6H111.0zM89.8 76.2H94.9V79.9H89.8z"/>
<path fill="#beb7d7" d="M114.0 72.9H115.8V76.6H114.0z"/>
<path fill="#bdb7d7" d="M115.4 72.9H118.4V76.6H115.4z"/>
<path fill="#c4bddb" d="M118.0 72.9H119.6V76.6H118.0z"/>
<path fill="#bcb5d7" d="M119.2 72.9H123.9V76.6H119.2z"/>
<path fill="#c2bbda" d="M123.5 72.9H127.6V76.6H123.5z"/>
<path fill="#c0b9d9" d="M127.2 72.9H131.3V76.6H127.2zM81.6 76.2H85.8V79.9H81.6z"/>
<path fill="#b7afd3" d="M130.9 72.9H135.0V76.6H130.9z"/>
<path fill="#ccc9e1" d="M138.9 72.9H142.8V76.6H138.9z"/>
<path fill="#cfcbe3" d="M145.3 72.9H148.7V76.6H145.3z"/>
<path fill="#c1bcdb" d="M148.3 72.9H150.9V76.6H148.3zM142.4 79.5H145.7V84.1H142.4z"/>
<path fill="#c7c3df" d="M153.2 72.9H157.6V76.6H153.2z"/>
<path fill="#472d87" d="M157.2 72.9H161.0V76.6H157.2zM166.4 72.9H169.7V76.6H166.4zM157.2 79.5H161.0V84.1H157.2zM166.4 79.5H169.7V84.1H166.4z"/>
<path fill="#472d86" d="M160.6 72.9H163.9V76.6H160.6zM157.2 76.2H161.0V79.9H157.2zM160.6 76.2H163.9V79.9H160.6zM163.5 76.2H166.8V79.9H163.5zM163.5 79.5H166.8V84.1H163.5z"/>
<path fill="#4d348b" d="M163.5 72.9H166.8V76.6H163.5zM150.5 97.0H153.6V98.8H150.5z"/>
<path fill="#a097c8" d="M169.3 72.9H172.4V76.6H169.3z"/>
<path fill="#8679b7" d="M172.0 72.9H173.8V76.6H172.0zM192.8 76.2H196.5V79.9H192.8z"/>
<path fill="#8f84be" d="M173.4 72.9H177.0V76.6H173.4zM176.6 72.9H180.3V76.6H176.6zM183.1 76.2H186.8V79.9H183.1z"/>
<path fill="#9086bf" d="M179.9 72.9H183.5V76.6H179.9zM176.6 76.2H180.3V79.9H176.6z"/>
<path fill="#8e84bd" d="M183.1 72.9H186.8V76.6H183.1zM169.3 76.2H172.4V79.9H169.3z"/>
<path fill="#978ec2" d="M186.4 72.9H190.0V76.6H186.4z"/>
<path fill="#8f85be" d="M189.6 72.9H193.2V76.6H189.6zM196.1 194.4H199.3V198.5H196.1zM179.9 198.1H183.5V201.8H179.9z"/>
<path fill="#968dc2" d="M192.8 72.9H196.5V76.6H192.8z"/>
<path fill="#8d82bc" d="M196.1 72.9H199.3V76.6H196.1zM179.9 76.2H183.5V79.9H179.9z"/>
<path fill="#e5e2f0" d="M29.2 76.2H33.1V79.9H29.2z"/>
<path fill="#c5bedc" d="M85.4 76.2H90.2V79.9H85.4z"/>
<path fill="#a69fca" d="M94.5 76.2H98.4V79.9H94.5z"/>
<path fill="#beb8d8" d="M98.0 76.2H101.2V79.9H98.0z"/>
<path fill="#a9a2cc" d="M100.8 76.2H104.4V79.9H100.8z"/>
<path fill="#b3aad0" d="M104.0 76.2H107.9V79.9H104.0z"/>
<path fill="#c0b9d8" d="M107.5 76.2H111.4V79.9H107.5zM118.0 76.2H119.6V79.9H118.0z"/>
<path fill="#c7c1dd" d="M111.0 76.2H114.4V79.9H111.0z"/>
<path fill="#c4bedc" d="M114.0 76.2H115.8V79.9H114.0z"/>
<path fill="#b1a8cf" d="M115.4 76.2H118.4V79.9H115.4z"/>
<path fill="#c2bcda" d="M119.2 76.2H123.9V79.9H119.2z"/>
<path fill="#bdb6d7" d="M123.5 76.2H127.6V79.9H123.5z"/>
<path fill="#bfb8d8" d="M127.2 76.2H131.3V79.9H127.2zM134.6 76.2H139.3V79.9H134.6z"/>
<path fill="#ccc8e1" d="M138.9 76.2H142.8V79.9H138.9z"/>
<path fill="#c7c2df" d="M142.4 76.2H145.7V79.9H142.4z"/>
<path fill="#c6c2df" d="M145.3 76.2H148.7V79.9H145.3zM150.5 76.2H153.6V79.9H150.5z"/>
<path fill="#c5c0de" d="M148.3 76.2H150.9V79.9H148.3z"/>
<path fill="#8b80bb" d="M172.0 76.2H173.8V79.9H172.0z"/>
<path fill="#9a91c5" d="M173.4 76.2H177.0V79.9H173.4z"/>
<path fill="#958bc1" d="M186.4 76.2H190.0V79.9H186.4z"/>
<path fill="#988fc3" d="M189.6 76.2H193.2V79.9H189.6zM192.8 194.4H196.5V198.5H192.8z"/>
<path fill="#8d83bc" d="M196.1 76.2H199.3V79.9H196.1z"/>
<path fill="#c4bedc" d="M29.2 79.5H33.1V84.1H29.2zM29.2 93.7H33.1V97.4H29.2z"/>
<path fill="#bab2d6" d="M32.7 79.5H36.6V84.1H32.7z"/>
<path fill="#dad6e9" d="M81.6 79.5H85.8V84.1H81.6zM118.0 79.5H119.6V84.1H118.0z"/>
<path fill="#d1cce3" d="M85.4 79.5H90.2V84.1H85.4z"/>
<path fill="#d4d0e5" d="M89.8 79.5H94.9V84.1H89.8zM163.5 100.4H166.8V103.9H163.5zM166.4 106.5H169.7V110.0H166.4zM166.4 141.9H169.7V145.6H166.4z"/>
<path fill="#d9d5e8" d="M94.5 79.5H98.4V84.1H94.5zM123.5 79.5H127.6V84.1H123.5z"/>
<path fill="#ddd9ea" d="M98.0 79.5H101.2V84.1H98.0zM192.8 133.0H196.5V135.8H192.8z"/>
<path fill="#dbd7e9" d="M100.8 79.5H104.4V84.1H100.8z"/>
<path fill="#d8d4e7" d="M104.0 79.5H107.9V84.1H104.0z"/>
<path fill="#d0cae2" d="M107.5 79.5H111.4V84.1H107.5zM119.2 79.5H123.9V84.1H119.2z"/>
<path fill="#dbd8ea" d="M111.0 79.5H114.4V84.1H111.0z"/>
<path fill="#c5bedb" d="M114.0 79.5H115.8V84.1H114.0z"/>
<path fill="#d2cde4" d="M127.2 79.5H131.3V84.1H127.2zM163.5 112.7H166.8V116.1H163.5zM166.4 115.7H169.7V119.2H166.4zM163.5 141.9H166.8V145.6H163.5z"/>
<path fill="#d0cbe3" d="M130.9 79.5H135.0V84.1H130.9zM166.4 125.0H169.7V128.1H166.4z"/>
<path fill="#d5d1e5" d="M134.6 79.5H139.3V84.1H134.6z"/>
<path fill="#b5add1" d="M138.9 79.5H142.8V84.1H138.9z"/>
<path fill="#c9c5e0" d="M148.3 79.5H150.9V84.1H148.3z"/>
<path fill="#c2bddc" d="M150.5 79.5H153.6V84.1H150.5z"/>
<path fill="#cbc8e2" d="M153.2 79.5H157.6V84.1H153.2z"/>
<path fill="#462c86" d="M160.6 79.5H163.9V84.1H160.6z"/>
<path fill="#6857a5" d="M169.3 79.5H172.4V84.1H169.3zM179.9 79.5H183.5V84.1H179.9z"/>
<path fill="#6b5aa7" d="M172.0 79.5H173.8V84.1H172.0z"/>
<path fill="#6a59a7" d="M173.4 79.5H177.0V84.1H173.4z"/>
<path fill="#6a59a6" d="M176.6 79.5H180.3V84.1H176.6zM142.4 118.8H145.7V122.2H142.4z"/>
<path fill="#6958a6" d="M183.1 79.5H186.8V84.1H183.1z"/>
<path fill="#7161ab" d="M186.4 79.5H190.0V84.1H186.4z"/>
<path fill="#6856a5" d="M189.6 79.5H193.2V84.1H189.6z"/>
<path fill="#6c5ca8" d="M192.8 79.5H196.5V84.1H192.8z"/>
<path fill="#6a5aa7" d="M196.1 79.5H199.3V84.1H196.1z"/>
<path fill="#c9c4e0" d="M29.2 83.7H33.1V87.4H29.2zM32.7 174.8H36.6V178.0H32.7z"/>
<path fill="#c9c3df" d="M32.7 83.7H36.6V87.4H32.7z"/>
<path fill="#574195" d="M81.6 83.7H85.8V87.4H81.6zM81.6 90.3H85.8V94.1H81.6zM145.3 148.5H148.7V151.9H145.3zM145.3 151.5H148.7V153.2H145.3zM150.5 151.5H153.6V153.2H150.5z"/>
<path fill="#afa9d2" d="M85.4 83.7H90.2V87.4H85.4zM119.2 87.0H123.9V90.8H119.2zM134.6 87.0H139.3V90.8H134.6zM114.0 90.3H115.8V94.1H114.0zM142.4 135.4H145.7V139.1H142.4z"/>
<path fill="#a59ecb" d="M89.8 83.7H94.9V87.4H89.8zM32.7 154.2H36.6V157.6H32.7zM29.2 191.6H33.1V194.8H29.2z"/>
<path fill="#a8a1cd" d="M94.5 83.7H98.4V87.4H94.5zM98.0 83.7H101.2V87.4H98.0zM111.0 90.3H114.4V94.1H111.0zM148.3 138.7H150.9V142.3H148.3z"/>
<path fill="#a7a1cd" d="M100.8 83.7H104.4V87.4H100.8z"/>
<path fill="#b6afd5" d="M104.0 83.7H107.9V87.4H104.0z"/>
<path fill="#a7a0cd" d="M107.5 83.7H111.4V87.4H107.5z"/>
<path fill="#b2acd3" d="M111.0 83.7H114.4V87.4H111.0zM119.2 90.3H123.9V94.1H119.2zM134.6 93.7H139.3V97.4H134.6zM153.2 100.4H157.6V103.9H153.2z"/>
<path fill="#ada6d0" d="M114.0 83.7H115.8V87.4H114.0zM123.5 87.0H127.6V90.8H123.5zM130.9 90.3H135.0V94.1H130.9zM130.9 93.7H135.0V97.4H130.9zM150.5 100.4H153.6V103.9H150.5zM150.5 121.8H153.6V125.4H150.5z"/>
<path fill="#594397" d="M115.4 83.7H118.4V87.4H115.4z"/>
<path fill="#5b4598" d="M118.0 83.7H119.6V87.4H118.0z"/>
<path fill="#a097c7" d="M119.2 83.7H123.9V87.4H119.2zM114.0 87.0H115.8V90.8H114.0z"/>
<path fill="#aca5cf" d="M123.5 83.7H127.6V87.4H123.5zM98.0 87.0H101.2V90.8H98.0zM111.0 93.7H114.4V97.4H111.0z"/>
<path fill="#a79fcc" d="M127.2 83.7H131.3V87.4H127.2z"/>
<path fill="#a39bc9" d="M130.9 83.7H135.0V87.4H130.9z"/>
<path fill="#a199c8" d="M134.6 83.7H139.3V87.4H134.6z"/>
<path fill="#4b328c" d="M138.9 83.7H142.8V87.4H138.9zM138.9 87.0H142.8V90.8H138.9zM138.9 93.7H142.8V97.4H138.9z"/>
<path fill="#50388e" d="M142.4 83.7H145.7V87.4H142.4zM98.0 100.4H101.2V103.9H98.0zM115.4 138.7H118.4V142.3H115.4zM107.5 141.9H111.4V145.6H107.5z"/>
<path fill="#4d348c" d="M145.3 83.7H148.7V87.4H145.3zM98.0 112.7H101.2V116.1H98.0zM100.8 145.2H104.4V148.9H100.8z"/>
<path fill="#4f388d" d="M148.3 83.7H150.9V87.4H148.3zM142.4 97.0H145.7V98.8H142.4zM104.0 135.4H107.9V139.1H104.0z"/>
<path fill="#b9b2d6" d="M157.2 83.7H161.0V87.4H157.2zM163.5 87.0H166.8V90.8H163.5zM192.8 87.0H196.5V90.8H192.8z"/>
<path fill="#bfb8da" d="M160.6 83.7H163.9V87.4H160.6zM189.6 87.0H193.2V90.8H189.6zM160.6 97.0H163.9V98.8H160.6z"/>
<path fill="#bab3d7" d="M163.5 83.7H166.8V87.4H163.5zM186.4 83.7H190.0V87.4H186.4zM189.6 97.0H193.2V98.8H189.6z"/>
<path fill="#c0b9da" d="M166.4 83.7H169.7V87.4H166.4zM176.6 93.7H180.3V97.4H176.6z"/>
<path fill="#beb8d9" d="M169.3 83.7H172.4V87.4H169.3zM157.2 198.1H161.0V201.8H157.2z"/>
<path fill="#aea6cf" d="M172.0 83.7H173.8V87.4H172.0z"/>
<path fill="#bbb5d8" d="M173.4 83.7H177.0V87.4H173.4zM179.9 83.7H183.5V87.4H179.9zM186.4 90.3H190.0V94.1H186.4z"/>
<path fill="#aca3cd" d="M176.6 83.7H180.3V87.4H176.6z"/>
<path fill="#b6aed4" d="M183.1 83.7H186.8V87.4H183.1zM192.8 83.7H196.5V87.4H192.8zM157.2 90.3H161.0V94.1H157.2zM169.3 90.3H172.4V94.1H169.3zM157.2 97.0H161.0V98.8H157.2zM142.4 198.1H145.7V201.8H142.4z"/>
<path fill="#afa7d0" d="M189.6 83.7H193.2V87.4H189.6z"/>
<path fill="#bdb7d9" d="M196.1 83.7H199.3V87.4H196.1z"/>
<path fill="#c3bddb" d="M29.2 87.0H33.1V90.8H29.2z"/>
<path fill="#c1bada" d="M32.7 87.0H36.6V90.8H32.7z"/>
<path fill="#f8f7fb" d="M75.2 87.0H78.8V90.8H75.2zM196.1 115.7H199.3V119.2H196.1zM78.4 121.8H82.0V125.4H78.4zM75.2 148.5H78.8V151.9H75.2zM94.5 166.1H98.4V169.4H94.5zM94.5 177.6H98.4V180.8H94.5zM107.5 186.0H111.4V189.2H107.5zM104.0 188.8H107.9V192.0H104.0zM134.6 188.8H139.3V192.0H134.6z"/>
<path fill="#584297" d="M81.6 87.0H85.8V90.8H81.6zM115.4 87.0H118.4V90.8H115.4zM118.0 90.3H119.6V94.1H118.0zM115.4 93.7H118.4V97.4H115.4zM118.0 93.7H119.6V97.4H118.0z"/>
<path fill="#aca6d0" d="M85.4 87.0H90.2V90.8H85.4z"/>
<path fill="#aaa3ce" d="M89.8 87.0H94.9V90.8H89.8zM111.0 87.0H114.4V90.8H111.0zM98.0 93.7H101.2V97.4H98.0zM32.7 191.6H36.6V194.8H32.7z"/>
<path fill="#a59ecc" d="M94.5 87.0H98.4V90.8H94.5z"/>
<path fill="#a9a2ce" d="M100.8 87.0H104.4V90.8H100.8zM104.0 87.0H107.9V90.8H104.0z"/>
<path fill="#afa8d1" d="M107.5 87.0H111.4V90.8H107.5zM127.2 90.3H131.3V94.1H127.2zM107.5 93.7H111.4V97.4H107.5zM123.5 93.7H127.6V97.4H123.5zM148.3 100.4H150.9V103.9H148.3zM142.4 109.6H145.7V113.1H142.4zM150.5 135.4H153.6V139.1H150.5zM150.5 138.7H153.6V142.3H150.5z"/>
<path fill="#5e499b" d="M118.0 87.0H119.6V90.8H118.0z"/>
<path fill="#aba4cf" d="M127.2 87.0H131.3V90.8H127.2zM127.2 93.7H131.3V97.4H127.2z"/>
<path fill="#a299c8" d="M130.9 87.0H135.0V90.8H130.9zM119.2 93.7H123.9V97.4H119.2z"/>
<path fill="#4a318a" d="M142.4 87.0H145.7V90.8H142.4zM134.6 100.4H139.3V103.9H134.6zM118.0 103.5H119.6V106.9H118.0zM89.8 106.5H94.9V110.0H89.8zM107.5 106.5H111.4V110.0H107.5zM118.0 112.7H119.6V116.1H118.0zM134.6 118.8H139.3V122.2H134.6zM111.0 121.8H114.4V125.4H111.0zM85.4 138.7H90.2V142.3H85.4zM104.0 145.2H107.9V148.9H104.0z"/>
<path fill="#4e368c" d="M153.2 87.0H157.6V90.8H153.2zM104.0 100.4H107.9V103.9H104.0zM130.9 115.7H135.0V119.2H130.9zM107.5 127.7H111.4V130.7H107.5zM100.8 133.0H104.4V135.8H100.8zM111.0 133.0H114.4V135.8H111.0zM89.8 135.4H94.9V139.1H89.8zM111.0 138.7H114.4V142.3H111.0zM118.0 141.9H119.6V145.6H118.0z"/>
<path fill="#b4acd3" d="M157.2 87.0H161.0V90.8H157.2zM163.5 90.3H166.8V94.1H163.5zM166.4 90.3H169.7V94.1H166.4zM196.1 97.0H199.3V98.8H196.1z"/>
<path fill="#b9b3d7" d="M160.6 87.0H163.9V90.8H160.6zM153.2 106.5H157.6V110.0H153.2z"/>
<path fill="#bfb9da" d="M166.4 87.0H169.7V90.8H166.4zM186.4 93.7H190.0V97.4H186.4z"/>
<path fill="#bab3d7" d="M169.3 87.0H172.4V90.8H169.3zM183.1 87.0H186.8V90.8H183.1zM189.6 90.3H193.2V94.1H189.6zM169.3 97.0H172.4V98.8H169.3z"/>
<path fill="#bbb4d8" d="M172.0 87.0H173.8V90.8H172.0zM179.9 90.3H183.5V94.1H179.9zM196.1 90.3H199.3V94.1H196.1zM183.1 97.0H186.8V98.8H183.1z"/>
<path fill="#b8b1d6" d="M173.4 87.0H177.0V90.8H173.4z"/>
<path fill="#c3bddc" d="M176.6 87.0H180.3V90.8H176.6zM169.3 93.7H172.4V97.4H169.3zM192.8 97.0H196.5V98.8H192.8zM32.7 180.4H36.6V183.6H32.7z"/>
<path fill="#b7b0d5" d="M179.9 87.0H183.5V90.8H179.9zM176.6 90.3H180.3V94.1H176.6z"/>
<path fill="#b1a9d1" d="M186.4 87.0H190.0V90.8H186.4zM192.8 90.3H196.5V94.1H192.8z"/>
<path fill="#bcb5d8" d="M196.1 87.0H199.3V90.8H196.1zM183.1 93.7H186.8V97.4H183.1zM148.3 194.4H150.9V198.5H148.3zM138.9 198.1H142.8V201.8H138.9z"/>
<path fill="#c1bbdb" d="M29.2 90.3H33.1V94.1H29.2z"/>
<path fill="#beb7d9" d="M32.7 90.3H36.6V94.1H32.7zM172.0 93.7H173.8V97.4H172.0z"/>
<path fill="#b0a9d2" d="M85.4 90.3H90.2V94.1H85.4zM89.8 90.3H94.9V94.1H89.8zM142.4 106.5H145.7V110.0H142.4zM153.2 109.6H157.6V113.1H153.2zM153.2 125.0H157.6V128.1H153.2zM142.4 127.7H145.7V130.7H142.4zM142.4 133.0H145.7V135.8H142.4z"/>
<path fill="#a9a3ce" d="M94.5 90.3H98.4V94.1H94.5z"/>
<path fill="#aaa4cf" d="M98.0 90.3H101.2V94.1H98.0z"/>
<path fill="#ada7d0" d="M100.8 90.3H104.4V94.1H100.8zM104.0 90.3H107.9V94.1H104.0z"/>
<path fill="#574196" d="M115.4 90.3H118.4V94.1H115.4z"/>
<path fill="#9e94c6" d="M123.5 90.3H127.6V94.1H123.5z"/>
<path fill="#b7b1d6" d="M134.6 90.3H139.3V94.1H134.6zM150.5 125.0H153.6V128.1H150.5z"/>
<path fill="#4c338d" d="M138.9 90.3H142.8V94.1H138.9zM138.9 97.0H142.8V98.8H138.9z"/>
<path fill="#bdb6d9" d="M160.6 90.3H163.9V94.1H160.6zM160.6 93.7H163.9V97.4H160.6zM179.9 93.7H183.5V97.4H179.9zM166.4 97.0H169.7V98.8H166.4z"/>
<path fill="#c2bcdb" d="M172.0 90.3H173.8V94.1H172.0zM29.2 172.0H33.1V175.2H29.2zM32.7 172.0H36.6V175.2H32.7zM29.2 174.8H33.1V178.0H29.2z"/>
<path fill="#bab4d8" d="M173.4 90.3H177.0V94.1H173.4z"/>
<path fill="#b3abd3" d="M183.1 90.3H186.8V94.1H183.1z"/>
<path fill="#bbb3d7" d="M32.7 93.7H36.6V97.4H32.7z"/>
<path fill="#f6f4f9" d="M43.2 93.7H46.8V97.4H43.2zM68.8 148.5H72.4V151.9H68.8zM172.0 152.8H173.8V154.6H172.0zM189.6 157.2H193.2V160.5H189.6zM173.4 183.2H177.0V186.4H173.4zM107.5 198.1H111.4V201.8H107.5z"/>
<path fill="#5d489a" d="M81.6 93.7H85.8V97.4H81.6z"/>
<path fill="#b1aad3" d="M85.4 93.7H90.2V97.4H85.4z"/>
<path fill="#9387be" d="M89.8 93.7H94.9V97.4H89.8z"/>
<path fill="#a8a2cd" d="M94.5 93.7H98.4V97.4H94.5z"/>
<path fill="#b4aed4" d="M100.8 93.7H104.4V97.4H100.8zM32.7 166.1H36.6V169.4H32.7z"/>
<path fill="#b0aad3" d="M104.0 93.7H107.9V97.4H104.0z"/>
<path fill="#9b91c4" d="M114.0 93.7H115.8V97.4H114.0z"/>
<path fill="#b2aad2" d="M157.2 93.7H161.0V97.4H157.2z"/>
<path fill="#b2aad2" d="M163.5 93.7H166.8V97.4H163.5zM179.9 97.0H183.5V98.8H179.9zM186.4 97.0H190.0V98.8H186.4zM157.2 194.4H161.0V198.5H157.2z"/>
<path fill="#c0bada" d="M166.4 93.7H169.7V97.4H166.4z"/>
<path fill="#a9a0cb" d="M173.4 93.7H177.0V97.4H173.4z"/>
<path fill="#b5aed4" d="M189.6 93.7H193.2V97.4H189.6z"/>
<path fill="#b0a8d1" d="M192.8 93.7H196.5V97.4H192.8z"/>
<path fill="#b3abd2" d="M196.1 93.7H199.3V97.4H196.1z"/>
<path fill="#978dc1" d="M29.2 97.0H33.1V98.8H29.2z"/>
<path fill="#a49cc9" d="M32.7 97.0H36.6V98.8H32.7z"/>
<path fill="#dad5e9" d="M81.6 97.0H85.8V98.8H81.6zM85.4 97.0H90.2V98.8H85.4zM115.4 98.4H118.4V100.8H115.4zM118.0 98.4H119.6V100.8H118.0zM119.2 98.4H123.9V100.8H119.2z"/>
<path fill="#dad6e9" d="M89.8 97.0H94.9V98.8H89.8z"/>
<path fill="#e3e0ef" d="M94.5 97.0H98.4V98.8H94.5zM134.6 97.0H139.3V98.8H134.6zM169.3 186.0H172.4V189.2H169.3zM169.3 191.6H172.4V194.8H169.3z"/>
<path fill="#dbd7ea" d="M98.0 97.0H101.2V98.8H98.0zM169.3 166.1H172.4V169.4H169.3z"/>
<path fill="#e6e3f1" d="M100.8 97.0H104.4V98.8H100.8zM107.5 98.4H111.4V100.8H107.5zM169.3 169.0H172.4V172.4H169.3zM169.3 183.2H172.4V186.4H169.3z"/>
<path fill="#e5e2f0" d="M104.0 97.0H107.9V98.8H104.0zM118.0 97.0H119.6V98.8H118.0zM119.2 97.0H123.9V98.8H119.2zM123.5 97.0H127.6V98.8H123.5zM127.2 97.0H131.3V98.8H127.2zM104.0 98.4H107.9V100.8H104.0zM130.9 98.4H135.0V100.8H130.9z"/>
<path fill="#e4e1f0" d="M107.5 97.0H111.4V98.8H107.5zM169.3 174.8H172.4V178.0H169.3z"/>
<path fill="#ddd9ec" d="M111.0 97.0H114.4V98.8H111.0z"/>
<path fill="#e0dcee" d="M114.0 97.0H115.8V98.8H114.0zM169.3 152.8H172.4V154.6H169.3z"/>
<path fill="#e7e4f2" d="M115.4 97.0H118.4V98.8H115.4z"/>
<path fill="#d7d2e8" d="M130.9 97.0H135.0V98.8H130.9zM98.0 98.4H101.2V100.8H98.0z"/>
<path fill="#b0a8d1" d="M163.5 97.0H166.8V98.8H163.5z"/>
<path fill="#b1a9d1" d="M172.0 97.0H173.8V98.8H172.0zM142.4 194.4H145.7V198.5H142.4zM148.3 198.1H150.9V201.8H148.3z"/>
<path fill="#aba2cd" d="M173.4 97.0H177.0V98.8H173.4z"/>
<path fill="#b7afd5" d="M176.6 97.0H180.3V98.8H176.6z"/>
<path fill="#a39bc9" d="M29.2 98.4H33.1V100.8H29.2zM153.2 121.8H157.6V125.4H153.2z"/>
<path fill="#d8d3e8" d="M81.6 98.4H85.8V100.8H81.6z"/>
<path fill="#e2deef" d="M85.4 98.4H90.2V100.8H85.4zM94.5 98.4H98.4V100.8H94.5z"/>
<path fill="#d0cae3" d="M89.8 98.4H94.9V100.8H89.8z"/>
<path fill="#d5d0e7" d="M100.8 98.4H104.4V100.8H100.8z"/>
<path fill="#e5e3f1" d="M111.0 98.4H114.4V100.8H111.0zM123.5 98.4H127.6V100.8H123.5zM127.2 98.4H131.3V100.8H127.2z"/>
<path fill="#d2cbe4" d="M114.0 98.4H115.8V100.8H114.0z"/>
<path fill="#d9d4e8" d="M134.6 98.4H139.3V100.8H134.6z"/>
<path fill="#4c338d" d="M138.9 98.4H142.8V100.8H138.9z"/>
<path fill="#a8a0ca" d="M160.6 98.4H163.9V100.8H160.6z"/>
<path fill="#a59dc9" d="M163.5 98.4H166.8V100.8H163.5z"/>
<path fill="#553b96" d="M172.0 98.4H173.8V100.8H172.0zM192.8 98.4H196.5V100.8H192.8zM196.1 98.4H199.3V100.8H196.1z"/>
<path fill="#5a4098" d="M173.4 98.4H177.0V100.8H173.4z"/>
<path fill="#594098" d="M176.6 98.4H180.3V100.8H176.6z"/>
<path fill="#543a95" d="M179.9 98.4H183.5V100.8H179.9zM186.4 98.4H190.0V100.8H186.4zM189.6 98.4H193.2V100.8H189.6z"/>
<path fill="#5c439b" d="M183.1 98.4H186.8V100.8H183.1z"/>
<path fill="#5a4695" d="M81.6 100.4H85.8V103.9H81.6zM81.6 115.7H85.8V119.2H81.6zM81.6 135.4H85.8V139.1H81.6z"/>
<path fill="#503c8d" d="M100.8 100.4H104.4V103.9H100.8zM100.8 103.5H104.4V106.9H100.8zM111.0 106.5H114.4V110.0H111.0zM100.8 112.7H104.4V116.1H100.8zM114.0 115.7H115.8V119.2H114.0z"/>
<path fill="#533f90" d="M111.0 100.4H114.4V103.9H111.0z"/>
<path fill="#513d8e" d="M114.0 100.4H115.8V103.9H114.0zM111.0 103.5H114.4V106.9H111.0zM100.8 106.5H104.4V110.0H100.8zM114.0 106.5H115.8V110.0H114.0zM114.0 109.6H115.8V113.1H114.0zM100.8 115.7H104.4V119.2H100.8zM130.9 130.3H135.0V133.4H130.9z"/>
<path fill="#523a8f" d="M118.0 100.4H119.6V103.9H118.0zM89.8 115.7H94.9V119.2H89.8z"/>
<path fill="#4b328b" d="M119.2 100.4H123.9V103.9H119.2zM130.9 100.4H135.0V103.9H130.9zM98.0 145.2H101.2V148.9H98.0z"/>
<path fill="#afa8d1" d="M142.4 100.4H145.7V103.9H142.4zM150.5 103.5H153.6V106.9H150.5zM148.3 109.6H150.9V113.1H148.3zM150.5 115.7H153.6V119.2H150.5z"/>
<path fill="#b4add4" d="M145.3 100.4H148.7V103.9H145.3zM153.2 133.0H157.6V135.8H153.2zM145.3 135.4H148.7V139.1H145.3z"/>
<path fill="#cbc5df" d="M157.2 100.4H161.0V103.9H157.2z"/>
<path fill="#d9d6e9" d="M160.6 100.4H163.9V103.9H160.6z"/>
<path fill="#dedbec" d="M166.4 100.4H169.7V103.9H166.4zM166.4 103.5H169.7V106.9H166.4zM166.4 112.7H169.7V116.1H166.4zM160.6 115.7H163.9V119.2H160.6zM163.5 125.0H166.8V128.1H163.5zM163.5 127.7H166.8V130.7H163.5zM163.5 130.3H166.8V133.4H163.5zM157.2 135.4H161.0V139.1H157.2zM163.5 138.7H166.8V142.3H163.5zM163.5 145.2H166.8V148.9H163.5zM163.5 151.5H166.8V153.2H163.5z"/>
<path fill="#f4f3f8" d="M75.2 103.5H78.8V106.9H75.2zM52.8 141.9H56.4V145.6H52.8z"/>
<path fill="#584494" d="M81.6 103.5H85.8V106.9H81.6zM81.6 138.7H85.8V142.3H81.6z"/>
<path fill="#4f378d" d="M107.5 103.5H111.4V106.9H107.5zM118.0 106.5H119.6V110.0H118.0zM111.0 125.0H114.4V128.1H111.0zM104.0 141.9H107.9V145.6H104.0z"/>
<path fill="#544091" d="M114.0 103.5H115.8V106.9H114.0zM111.0 109.6H114.4V113.1H111.0zM130.9 127.7H135.0V130.7H130.9z"/>
<path fill="#e2e0ee" d="M138.9 103.5H142.8V106.9H138.9zM166.4 135.4H169.7V139.1H166.4z"/>
<path fill="#aca5ce" d="M142.4 103.5H145.7V106.9H142.4z"/>
<path fill="#a59cca" d="M145.3 103.5H148.7V106.9H145.3z"/>
<path fill="#ada6cf" d="M148.3 103.5H150.9V106.9H148.3zM145.3 106.5H148.7V110.0H145.3zM145.3 109.6H148.7V113.1H145.3zM148.3 112.7H150.9V116.1H148.3z"/>
<path fill="#aaa3ce" d="M153.2 103.5H157.6V106.9H153.2z"/>
<path fill="#d8d4e8" d="M157.2 103.5H161.0V106.9H157.2zM163.5 109.6H166.8V113.1H163.5zM160.6 138.7H163.9V142.3H160.6z"/>
<path fill="#604c99" d="M81.6 106.5H85.8V110.0H81.6zM81.6 133.0H85.8V135.8H81.6z"/>
<path fill="#4e378d" d="M85.4 106.5H90.2V110.0H85.4zM98.0 115.7H101.2V119.2H98.0zM115.4 118.8H118.4V122.2H115.4z"/>
<path fill="#533c90" d="M119.2 106.5H123.9V110.0H119.2zM111.0 130.3H114.4V133.4H111.0z"/>
<path fill="#dfdcec" d="M138.9 106.5H142.8V110.0H138.9zM160.6 145.2H163.9V148.9H160.6zM166.4 145.2H169.7V148.9H166.4z"/>
<path fill="#aba4ce" d="M148.3 106.5H150.9V110.0H148.3zM145.3 133.0H148.7V135.8H145.3zM148.3 145.2H150.9V148.9H148.3z"/>
<path fill="#b2abd3" d="M150.5 106.5H153.6V110.0H150.5z"/>
<path fill="#dcd9eb" d="M157.2 106.5H161.0V110.0H157.2zM157.2 109.6H161.0V113.1H157.2zM166.4 109.6H169.7V113.1H166.4zM160.6 112.7H163.9V116.1H160.6zM163.5 115.7H166.8V119.2H163.5zM157.2 118.8H161.0V122.2H157.2zM160.6 127.7H163.9V130.7H160.6zM157.2 141.9H161.0V145.6H157.2z"/>
<path fill="#dddaec" d="M160.6 106.5H163.9V110.0H160.6zM160.6 130.3H163.9V133.4H160.6z"/>
<path fill="#dfdded" d="M163.5 106.5H166.8V110.0H163.5zM163.5 118.8H166.8V122.2H163.5z"/>
<path fill="#63509b" d="M81.6 109.6H85.8V113.1H81.6z"/>
<path fill="#543c90" d="M98.0 109.6H101.2V113.1H98.0z"/>
<path fill="#534090" d="M100.8 109.6H104.4V113.1H100.8z"/>
<path fill="#482e87" d="M107.5 109.6H111.4V113.1H107.5zM119.2 112.7H123.9V116.1H119.2z"/>
<path fill="#543e91" d="M134.6 109.6H139.3V113.1H134.6z"/>
<path fill="#dedbeb" d="M138.9 109.6H142.8V113.1H138.9zM138.9 133.0H142.8V135.8H138.9z"/>
<path fill="#aca5cf" d="M150.5 109.6H153.6V113.1H150.5zM150.5 127.7H153.6V130.7H150.5z"/>
<path fill="#d0cae3" d="M160.6 109.6H163.9V113.1H160.6zM160.6 118.8H163.9V122.2H160.6z"/>
<path fill="#5e4a98" d="M81.6 112.7H85.8V116.1H81.6zM81.6 125.0H85.8V128.1H81.6z"/>
<path fill="#513d8d" d="M111.0 112.7H114.4V116.1H111.0zM114.0 112.7H115.8V116.1H114.0z"/>
<path fill="#594395" d="M134.6 112.7H139.3V116.1H134.6z"/>
<path fill="#ebe9f3" d="M138.9 112.7H142.8V116.1H138.9z"/>
<path fill="#b1aad2" d="M142.4 112.7H145.7V116.1H142.4zM153.2 112.7H157.6V116.1H153.2zM148.3 133.0H150.9V135.8H148.3zM145.3 138.7H148.7V142.3H145.3z"/>
<path fill="#a9a1cd" d="M145.3 112.7H148.7V116.1H145.3zM150.5 133.0H153.6V135.8H150.5z"/>
<path fill="#a8a1cc" d="M150.5 112.7H153.6V116.1H150.5zM145.3 130.3H148.7V133.4H145.3z"/>
<path fill="#d5d1e6" d="M157.2 112.7H161.0V116.1H157.2z"/>
<path fill="#523e8f" d="M111.0 115.7H114.4V119.2H111.0z"/>
<path fill="#e9e7f3" d="M138.9 115.7H142.8V119.2H138.9z"/>
<path fill="#a49bca" d="M145.3 115.7H148.7V119.2H145.3z"/>
<path fill="#a59dcb" d="M148.3 115.7H150.9V119.2H148.3z"/>
<path fill="#b7b1d5" d="M153.2 115.7H157.6V119.2H153.2zM142.4 145.2H145.7V148.9H142.4z"/>
<path fill="#cec9e2" d="M157.2 115.7H161.0V119.2H157.2z"/>
<path fill="#5b4796" d="M81.6 118.8H85.8V122.2H81.6z"/>
<path fill="#61509d" d="M85.4 118.8H90.2V122.2H85.4zM123.5 133.0H127.6V135.8H123.5z"/>
<path fill="#5f4e9c" d="M89.8 118.8H94.9V122.2H89.8z"/>
<path fill="#5c4a99" d="M94.5 118.8H98.4V122.2H94.5z"/>
<path fill="#5e4d9b" d="M98.0 118.8H101.2V122.2H98.0zM114.0 118.8H115.8V122.2H114.0z"/>
<path fill="#5d4c9b" d="M100.8 118.8H104.4V122.2H100.8z"/>
<path fill="#5b4a99" d="M104.0 118.8H107.9V122.2H104.0zM115.4 125.0H118.4V128.1H115.4zM118.0 125.0H119.6V128.1H118.0z"/>
<path fill="#63529e" d="M107.5 118.8H111.4V122.2H107.5z"/>
<path fill="#64539f" d="M111.0 118.8H114.4V122.2H111.0zM127.2 133.0H131.3V135.8H127.2z"/>
<path fill="#dcd9ea" d="M138.9 118.8H142.8V122.2H138.9z"/>
<path fill="#6b5ba7" d="M145.3 118.8H148.7V122.2H145.3z"/>
<path fill="#6f5eaa" d="M148.3 118.8H150.9V122.2H148.3z"/>
<path fill="#6c5ba7" d="M150.5 118.8H153.6V122.2H150.5z"/>
<path fill="#6e5ea9" d="M153.2 118.8H157.6V122.2H153.2z"/>
<path fill="#574293" d="M81.6 121.8H85.8V125.4H81.6zM81.6 127.7H85.8V130.7H81.6zM81.6 145.2H85.8V148.9H81.6z"/>
<path fill="#5f4997" d="M98.0 121.8H101.2V125.4H98.0z"/>
<path fill="#634d9a" d="M100.8 121.8H104.4V125.4H100.8z"/>
<path fill="#5c4b9a" d="M115.4 121.8H118.4V125.4H115.4zM115.4 130.3H118.4V133.4H115.4zM115.4 133.0H118.4V135.8H115.4z"/>
<path fill="#61509e" d="M118.0 121.8H119.6V125.4H118.0z"/>
<path fill="#4e3a8d" d="M119.2 121.8H123.9V125.4H119.2zM123.5 121.8H127.6V125.4H123.5zM127.2 121.8H131.3V125.4H127.2zM119.2 125.0H123.9V128.1H119.2zM127.2 127.7H131.3V130.7H127.2zM134.6 127.7H139.3V130.7H134.6zM119.2 130.3H123.9V133.4H119.2zM119.2 133.0H123.9V135.8H119.2zM134.6 133.0H139.3V135.8H134.6zM127.2 135.4H131.3V139.1H127.2zM134.6 135.4H139.3V139.1H134.6zM127.2 141.9H131.3V145.6H127.2zM98.0 148.5H101.2V151.9H98.0zM114.0 148.5H115.8V151.9H114.0zM111.0 151.5H114.4V153.2H111.0zM130.9 151.5H135.0V153.2H130.9z"/>
<path fill="#533f90" d="M130.9 121.8H135.0V125.4H130.9zM119.2 141.9H123.9V145.6H119.2zM111.0 148.5H114.4V151.9H111.0zM134.6 148.5H139.3V151.9H134.6zM118.0 151.5H119.6V153.2H118.0z"/>
<path fill="#513e8f" d="M134.6 121.8H139.3V125.4H134.6zM130.9 125.0H135.0V128.1H130.9zM107.5 148.5H111.4V151.9H107.5z"/>
<path fill="#a197c7" d="M142.4 121.8H145.7V125.4H142.4z"/>
<path fill="#aea7d0" d="M145.3 121.8H148.7V125.4H145.3zM150.5 130.3H153.6V133.4H150.5zM142.4 138.7H145.7V142.3H142.4zM145.3 145.2H148.7V148.9H145.3z"/>
<path fill="#a59dca" d="M148.3 121.8H150.9V125.4H148.3zM148.3 135.4H150.9V139.1H148.3zM153.2 135.4H157.6V139.1H153.2z"/>
<path fill="#c7c2dd" d="M157.2 121.8H161.0V125.4H157.2z"/>
<path fill="#bfbad8" d="M160.6 121.8H163.9V125.4H160.6z"/>
<path fill="#beb8d7" d="M163.5 121.8H166.8V125.4H163.5z"/>
<path fill="#c5c1dc" d="M166.4 121.8H169.7V125.4H166.4z"/>
<path fill="#e8e6f0" d="M169.3 121.8H172.4V125.4H169.3z"/>
<path fill="#e6e3ef" d="M172.0 121.8H173.8V125.4H172.0z"/>
<path fill="#e4e1ee" d="M173.4 121.8H177.0V125.4H173.4z"/>
<path fill="#d6d1e4" d="M176.6 121.8H180.3V125.4H176.6z"/>
<path fill="#eceaf3" d="M179.9 121.8H183.5V125.4H179.9zM196.1 121.8H199.3V125.4H196.1zM169.3 148.5H172.4V151.9H169.3zM196.1 148.5H199.3V151.9H196.1z"/>
<path fill="#e4e1ee" d="M183.1 121.8H186.8V125.4H183.1z"/>
<path fill="#eceaf3" d="M186.4 121.8H190.0V125.4H186.4z"/>
<path fill="#e5e2ef" d="M189.6 121.8H193.2V125.4H189.6z"/>
<path fill="#ebe9f2" d="M192.8 121.8H196.5V125.4H192.8z"/>
<path fill="#4b328a" d="M89.8 125.0H94.9V128.1H89.8zM94.5 135.4H98.4V139.1H94.5zM94.5 145.2H98.4V148.9H94.5z"/>
<path fill="#4d398c" d="M123.5 125.0H127.6V128.1H123.5zM123.5 130.3H127.6V133.4H123.5zM127.2 130.3H131.3V133.4H127.2zM119.2 135.4H123.9V139.1H119.2zM123.5 135.4H127.6V139.1H123.5zM130.9 135.4H135.0V139.1H130.9zM123.5 138.7H127.6V142.3H123.5zM130.9 138.7H135.0V142.3H130.9zM123.5 141.9H127.6V145.6H123.5zM134.6 141.9H139.3V145.6H134.6zM130.9 145.2H135.0V148.9H130.9zM85.4 148.5H90.2V151.9H85.4zM100.8 148.5H104.4V151.9H100.8zM119.2 148.5H123.9V151.9H119.2zM127.2 148.5H131.3V151.9H127.2zM85.4 151.5H90.2V153.2H85.4zM94.5 151.5H98.4V153.2H94.5zM107.5 151.5H111.4V153.2H107.5zM114.0 151.5H115.8V153.2H114.0zM115.4 151.5H118.4V153.2H115.4zM119.2 151.5H123.9V153.2H119.2zM127.2 151.5H131.3V153.2H127.2z"/>
<path fill="#544191" d="M127.2 125.0H131.3V128.1H127.2zM123.5 145.2H127.6V148.9H123.5z"/>
<path fill="#4f3b8e" d="M134.6 125.0H139.3V128.1H134.6zM134.6 130.3H139.3V133.4H134.6zM130.9 141.9H135.0V145.6H130.9z"/>
<path fill="#e5e3f0" d="M138.9 125.0H142.8V128.1H138.9z"/>
<path fill="#bdb8d9" d="M142.4 125.0H145.7V128.1H142.4z"/>
<path fill="#a9a2cd" d="M145.3 125.0H148.7V128.1H145.3zM142.4 141.9H145.7V145.6H142.4z"/>
<path fill="#b5afd4" d="M148.3 125.0H150.9V128.1H148.3zM153.2 130.3H157.6V133.4H153.2z"/>
<path fill="#d3cee5" d="M157.2 125.0H161.0V128.1H157.2zM166.4 151.5H169.7V153.2H166.4z"/>
<path fill="#d7d3e7" d="M160.6 125.0H163.9V128.1H160.6z"/>
<path fill="#543d91" d="M104.0 127.7H107.9V130.7H104.0zM94.5 130.3H98.4V133.4H94.5z"/>
<path fill="#5f4e9c" d="M115.4 127.7H118.4V130.7H115.4z"/>
<path fill="#61509d" d="M118.0 127.7H119.6V130.7H118.0z"/>
<path fill="#534091" d="M119.2 127.7H123.9V130.7H119.2zM134.6 138.7H139.3V142.3H134.6z"/>
<path fill="#503d8e" d="M123.5 127.7H127.6V130.7H123.5zM98.0 151.5H101.2V153.2H98.0zM104.0 151.5H107.9V153.2H104.0z"/>
<path fill="#ada6cf" d="M145.3 127.7H148.7V130.7H145.3zM153.2 138.7H157.6V142.3H153.2zM148.3 141.9H150.9V145.6H148.3zM150.5 145.2H153.6V148.9H150.5z"/>
<path fill="#aea8d1" d="M148.3 127.7H150.9V130.7H148.3zM29.2 157.2H33.1V160.5H29.2zM32.7 157.2H36.6V160.5H32.7zM29.2 163.1H33.1V166.5H29.2zM32.7 163.1H36.6V166.5H32.7zM29.2 166.1H33.1V169.4H29.2z"/>
<path fill="#a8a0cc" d="M153.2 127.7H157.6V130.7H153.2z"/>
<path fill="#d5d0e6" d="M166.4 127.7H169.7V130.7H166.4z"/>
<path fill="#5e4a97" d="M81.6 130.3H85.8V133.4H81.6z"/>
<path fill="#5b4998" d="M118.0 130.3H119.6V133.4H118.0zM118.0 133.0H119.6V135.8H118.0z"/>
<path fill="#e9e7f2" d="M138.9 130.3H142.8V133.4H138.9z"/>
<path fill="#a79fcb" d="M148.3 130.3H150.9V133.4H148.3z"/>
<path fill="#cdc8e1" d="M157.2 130.3H161.0V133.4H157.2z"/>
<path fill="#d6d2e6" d="M166.4 130.3H169.7V133.4H166.4zM138.9 141.9H142.8V145.6H138.9z"/>
<path fill="#f5f4f8" d="M72.0 133.0H75.6V135.8H72.0zM150.5 177.6H153.6V180.8H150.5z"/>
<path fill="#6958a3" d="M130.9 133.0H135.0V135.8H130.9z"/>
<path fill="#c8c4de" d="M157.2 133.0H161.0V135.8H157.2z"/>
<path fill="#c1bcda" d="M160.6 133.0H163.9V135.8H160.6z"/>
<path fill="#a59cc7" d="M163.5 133.0H166.8V135.8H163.5z"/>
<path fill="#bbb6d6" d="M166.4 133.0H169.7V135.8H166.4z"/>
<path fill="#e4e1ef" d="M169.3 133.0H172.4V135.8H169.3z"/>
<path fill="#e7e5f1" d="M172.0 133.0H173.8V135.8H172.0z"/>
<path fill="#d4cfe4" d="M173.4 133.0H177.0V135.8H173.4z"/>
<path fill="#e5e2ef" d="M176.6 133.0H180.3V135.8H176.6z"/>
<path fill="#e7e4f0" d="M179.9 133.0H183.5V135.8H179.9z"/>
<path fill="#e2dfed" d="M183.1 133.0H186.8V135.8H183.1z"/>
<path fill="#e1deec" d="M186.4 133.0H190.0V135.8H186.4zM172.0 148.5H173.8V151.9H172.0z"/>
<path fill="#cdc6df" d="M189.6 133.0H193.2V135.8H189.6z"/>
<path fill="#f5f3f8" d="M62.4 135.4H66.0V139.1H62.4zM189.6 154.2H193.2V157.6H189.6zM148.3 183.2H150.9V186.4H148.3z"/>
<path fill="#523b8f" d="M107.5 135.4H111.4V139.1H107.5z"/>
<path fill="#e3e1ee" d="M138.9 135.4H142.8V139.1H138.9z"/>
<path fill="#d1cce4" d="M160.6 135.4H163.9V139.1H160.6z"/>
<path fill="#ccc6e0" d="M163.5 135.4H166.8V139.1H163.5z"/>
<path fill="#5a4795" d="M119.2 138.7H123.9V142.3H119.2z"/>
<path fill="#503c8e" d="M127.2 138.7H131.3V142.3H127.2zM94.5 148.5H98.4V151.9H94.5zM134.6 151.5H139.3V153.2H134.6z"/>
<path fill="#d9d5e8" d="M157.2 138.7H161.0V142.3H157.2z"/>
<path fill="#574393" d="M81.6 141.9H85.8V145.6H81.6z"/>
<path fill="#50398e" d="M100.8 141.9H104.4V145.6H100.8zM111.0 141.9H114.4V145.6H111.0z"/>
<path fill="#584294" d="M115.4 141.9H118.4V145.6H115.4z"/>
<path fill="#b0aad2" d="M150.5 141.9H153.6V145.6H150.5z"/>
<path fill="#aba4ce" d="M153.2 141.9H157.6V145.6H153.2z"/>
<path fill="#dedcec" d="M160.6 141.9H163.9V145.6H160.6z"/>
<path fill="#4e3a8c" d="M119.2 145.2H123.9V148.9H119.2zM104.0 148.5H107.9V151.9H104.0zM100.8 151.5H104.4V153.2H100.8z"/>
<path fill="#4f3b8d" d="M127.2 145.2H131.3V148.9H127.2zM118.0 148.5H119.6V151.9H118.0zM130.9 148.5H135.0V151.9H130.9zM123.5 151.5H127.6V153.2H123.5z"/>
<path fill="#62509a" d="M134.6 145.2H139.3V148.9H134.6zM89.8 151.5H94.9V153.2H89.8z"/>
<path fill="#b1abd3" d="M153.2 145.2H157.6V148.9H153.2z"/>
<path fill="#c7c0dd" d="M157.2 145.2H161.0V148.9H157.2z"/>
<path fill="#594595" d="M81.6 148.5H85.8V151.9H81.6z"/>
<path fill="#564392" d="M89.8 148.5H94.9V151.9H89.8z"/>
<path fill="#544192" d="M115.4 148.5H118.4V151.9H115.4z"/>
<path fill="#513d8f" d="M123.5 148.5H127.6V151.9H123.5z"/>
<path fill="#584397" d="M142.4 148.5H145.7V151.9H142.4zM153.2 151.5H157.6V153.2H153.2z"/>
<path fill="#5c489a" d="M148.3 148.5H150.9V151.9H148.3zM142.4 151.5H145.7V153.2H142.4z"/>
<path fill="#5a4598" d="M150.5 148.5H153.6V151.9H150.5z"/>
<path fill="#594497" d="M153.2 148.5H157.6V151.9H153.2z"/>
<path fill="#cecae2" d="M157.2 148.5H161.0V151.9H157.2z"/>
<path fill="#d1cde3" d="M160.6 148.5H163.9V151.9H160.6z"/>
<path fill="#c4bedb" d="M163.5 148.5H166.8V151.9H163.5z"/>
<path fill="#d7d4e7" d="M166.4 148.5H169.7V151.9H166.4z"/>
<path fill="#dddaea" d="M173.4 148.5H177.0V151.9H173.4z"/>
<path fill="#d9d4e7" d="M176.6 148.5H180.3V151.9H176.6z"/>
<path fill="#d2cce2" d="M179.9 148.5H183.5V151.9H179.9z"/>
<path fill="#ecebf3" d="M183.1 148.5H186.8V151.9H183.1z"/>
<path fill="#edebf4" d="M186.4 148.5H190.0V151.9H186.4z"/>
<path fill="#e3e0ee" d="M192.8 148.5H196.5V151.9H192.8z"/>
<path fill="#5f4c99" d="M81.6 151.5H85.8V153.2H81.6z"/>
<path fill="#574296" d="M148.3 151.5H150.9V153.2H148.3z"/>
<path fill="#cac4df" d="M157.2 151.5H161.0V153.2H157.2z"/>
<path fill="#aca6cf" d="M29.2 154.2H33.1V157.6H29.2zM29.2 188.8H33.1V192.0H29.2z"/>
<path fill="#462f80" d="M36.2 154.2H40.4V157.6H36.2zM49.6 166.1H53.2V169.4H49.6zM72.0 166.1H75.6V169.4H72.0zM72.0 177.6H75.6V180.8H72.0zM52.8 180.4H56.4V183.6H52.8zM59.2 188.8H62.8V192.0H59.2zM78.4 188.8H82.0V192.0H78.4z"/>
<path fill="#4e3886" d="M40.0 154.2H43.6V157.6H40.0z"/>
<path fill="#462e80" d="M43.2 154.2H46.8V157.6H43.2zM72.0 157.2H75.6V160.5H72.0zM62.4 160.1H66.0V163.5H62.4zM62.4 166.1H66.0V169.4H62.4zM78.4 174.8H82.0V178.0H78.4zM46.4 180.4H50.0V183.6H46.4zM40.0 183.2H43.6V186.4H40.0zM65.6 186.0H69.2V189.2H65.6zM43.2 188.8H46.8V192.0H43.2zM62.4 191.6H66.0V194.8H62.4z"/>
<path fill="#432a7d" d="M46.4 154.2H50.0V157.6H46.4zM40.0 160.1H43.6V163.5H40.0zM65.6 160.1H69.2V163.5H65.6zM68.8 160.1H72.4V163.5H68.8zM56.0 163.1H59.6V166.5H56.0zM56.0 166.1H59.6V169.4H56.0zM59.2 166.1H62.8V169.4H59.2zM68.8 166.1H72.4V169.4H68.8zM46.4 169.0H50.0V172.4H46.4zM56.0 169.0H59.6V172.4H56.0zM65.6 169.0H69.2V172.4H65.6zM75.2 169.0H78.8V172.4H75.2zM62.4 172.0H66.0V175.2H62.4zM68.8 172.0H72.4V175.2H68.8zM68.8 174.8H72.4V178.0H68.8zM36.2 177.6H40.4V180.8H36.2zM46.4 177.6H50.0V180.8H46.4zM43.2 180.4H46.8V183.6H43.2zM68.8 180.4H72.4V183.6H68.8zM49.6 183.2H53.2V186.4H49.6zM59.2 183.2H62.8V186.4H59.2zM52.8 186.0H56.4V189.2H52.8zM52.8 191.6H56.4V194.8H52.8z"/>
<path fill="#432b7e" d="M49.6 154.2H53.2V157.6H49.6zM52.8 154.2H56.4V157.6H52.8zM56.0 154.2H59.6V157.6H56.0zM59.2 154.2H62.8V157.6H59.2zM68.8 154.2H72.4V157.6H68.8zM72.0 154.2H75.6V157.6H72.0zM75.2 154.2H78.8V157.6H75.2zM78.4 154.2H82.0V157.6H78.4zM40.0 157.2H43.6V160.5H40.0zM46.4 157.2H50.0V160.5H46.4zM52.8 157.2H56.4V160.5H52.8zM56.0 157.2H59.6V160.5H56.0zM59.2 157.2H62.8V160.5H59.2zM65.6 157.2H69.2V160.5H65.6zM68.8 157.2H72.4V160.5H68.8zM78.4 157.2H82.0V160.5H78.4zM36.2 160.1H40.4V163.5H36.2zM46.4 160.1H50.0V163.5H46.4zM43.2 163.1H46.8V166.5H43.2zM59.2 163.1H62.8V166.5H59.2zM68.8 163.1H72.4V166.5H68.8zM75.2 163.1H78.8V166.5H75.2zM78.4 163.1H82.0V166.5H78.4zM36.2 166.1H40.4V169.4H36.2zM40.0 166.1H43.6V169.4H40.0zM46.4 166.1H50.0V169.4H46.4zM52.8 166.1H56.4V169.4H52.8zM75.2 166.1H78.8V169.4H75.2zM78.4 166.1H82.0V169.4H78.4zM36.2 169.0H40.4V172.4H36.2zM43.2 169.0H46.8V172.4H43.2zM49.6 169.0H53.2V172.4H49.6zM52.8 169.0H56.4V172.4H52.8zM72.0 169.0H75.6V172.4H72.0zM78.4 169.0H82.0V172.4H78.4zM36.2 172.0H40.4V175.2H36.2zM43.2 172.0H46.8V175.2H43.2zM46.4 172.0H50.0V175.2H46.4zM65.6 172.0H69.2V175.2H65.6zM78.4 172.0H82.0V175.2H78.4zM36.2 174.8H40.4V178.0H36.2zM52.8 174.8H56.4V178.0H52.8zM56.0 174.8H59.6V178.0H56.0zM62.4 174.8H66.0V178.0H62.4zM43.2 177.6H46.8V180.8H43.2zM56.0 177.6H59.6V180.8H56.0zM65.6 177.6H69.2V180.8H65.6zM36.2 180.4H40.4V183.6H36.2zM56.0 180.4H59.6V183.6H56.0zM59.2 180.4H62.8V183.6H59.2zM62.4 180.4H66.0V183.6H62.4zM65.6 180.4H69.2V183.6H65.6zM36.2 183.2H40.4V186.4H36.2zM43.2 183.2H46.8V186.4H43.2zM46.4 183.2H50.0V186.4H46.4zM52.8 183.2H56.4V186.4H52.8zM56.0 183.2H59.6V186.4H56.0zM65.6 183.2H69.2V186.4H65.6zM68.8 183.2H72.4V186.4H68.8zM36.2 186.0H40.4V189.2H36.2zM40.0 186.0H43.6V189.2H40.0zM56.0 186.0H59.6V189.2H56.0zM36.2 188.8H40.4V192.0H36.2zM46.4 188.8H50.0V192.0H46.4zM49.6 188.8H53.2V192.0H49.6zM52.8 188.8H56.4V192.0H52.8zM56.0 188.8H59.6V192.0H56.0zM62.4 188.8H66.0V192.0H62.4zM65.6 188.8H69.2V192.0H65.6zM75.2 188.8H78.8V192.0H75.2zM36.2 191.6H40.4V194.8H36.2zM43.2 191.6H46.8V194.8H43.2zM56.0 191.6H59.6V194.8H56.0zM65.6 191.6H69.2V194.8H65.6zM68.8 191.6H72.4V194.8H68.8zM75.2 191.6H78.8V194.8H75.2zM78.4 191.6H82.0V194.8H78.4z"/>
<path fill="#442c7e" d="M62.4 154.2H66.0V157.6H62.4zM52.8 160.1H56.4V163.5H52.8zM52.8 163.1H56.4V166.5H52.8zM59.2 172.0H62.8V175.2H59.2zM62.4 186.0H66.0V189.2H62.4zM72.0 186.0H75.6V189.2H72.0zM78.4 186.0H82.0V189.2H78.4z"/>
<path fill="#493282" d="M65.6 154.2H69.2V157.6H65.6zM75.2 157.2H78.8V160.5H75.2zM40.0 174.8H43.6V178.0H40.0zM62.4 177.6H66.0V180.8H62.4zM75.2 183.2H78.8V186.4H75.2zM40.0 188.8H43.6V192.0H40.0z"/>
<path fill="#d4cfe6" d="M169.3 154.2H172.4V157.6H169.3z"/>
<path fill="#432b7d" d="M36.2 157.2H40.4V160.5H36.2zM62.4 157.2H66.0V160.5H62.4zM68.8 177.6H72.4V180.8H68.8z"/>
<path fill="#442d7f" d="M43.2 157.2H46.8V160.5H43.2zM75.2 160.1H78.8V163.5H75.2zM59.2 191.6H62.8V194.8H59.2z"/>
<path fill="#452e7f" d="M49.6 157.2H53.2V160.5H49.6zM36.2 163.1H40.4V166.5H36.2zM65.6 166.1H69.2V169.4H65.6zM46.4 174.8H50.0V178.0H46.4zM52.8 177.6H56.4V180.8H52.8zM72.0 180.4H75.6V183.6H72.0zM78.4 183.2H82.0V186.4H78.4zM49.6 186.0H53.2V189.2H49.6zM49.6 191.6H53.2V194.8H49.6zM72.0 191.6H75.6V194.8H72.0z"/>
<path fill="#e3e1f0" d="M169.3 157.2H172.4V160.5H169.3zM169.3 160.1H172.4V163.5H169.3z"/>
<path fill="#a69fcb" d="M29.2 160.1H33.1V163.5H29.2z"/>
<path fill="#afa9d1" d="M32.7 160.1H36.6V163.5H32.7z"/>
<path fill="#4c3584" d="M43.2 160.1H46.8V163.5H43.2zM40.0 191.6H43.6V194.8H40.0z"/>
<path fill="#473080" d="M49.6 160.1H53.2V163.5H49.6zM65.6 174.8H69.2V178.0H65.6zM49.6 177.6H53.2V180.8H49.6zM78.4 180.4H82.0V183.6H78.4z"/>
<path fill="#472f80" d="M56.0 160.1H59.6V163.5H56.0zM59.2 160.1H62.8V163.5H59.2zM49.6 163.1H53.2V166.5H49.6zM65.6 163.1H69.2V166.5H65.6zM43.2 166.1H46.8V169.4H43.2zM62.4 169.0H66.0V172.4H62.4z"/>
<path fill="#483081" d="M72.0 160.1H75.6V163.5H72.0zM62.4 163.1H66.0V166.5H62.4z"/>
<path fill="#4b3584" d="M78.4 160.1H82.0V163.5H78.4z"/>
<path fill="#452d7f" d="M40.0 163.1H43.6V166.5H40.0zM68.8 169.0H72.4V172.4H68.8zM59.2 174.8H62.8V178.0H59.2zM75.2 174.8H78.8V178.0H75.2zM46.4 186.0H50.0V189.2H46.4z"/>
<path fill="#503a87" d="M46.4 163.1H50.0V166.5H46.4z"/>
<path fill="#473081" d="M72.0 163.1H75.6V166.5H72.0zM49.6 172.0H53.2V175.2H49.6zM49.6 174.8H53.2V178.0H49.6zM75.2 180.4H78.8V183.6H75.2z"/>
<path fill="#e4e2f0" d="M169.3 163.1H172.4V166.5H169.3z"/>
<path fill="#aca7d0" d="M29.2 169.0H33.1V172.4H29.2zM32.7 169.0H36.6V172.4H32.7z"/>
<path fill="#493281" d="M40.0 169.0H43.6V172.4H40.0z"/>
<path fill="#483181" d="M59.2 169.0H62.8V172.4H59.2zM75.2 172.0H78.8V175.2H75.2zM59.2 186.0H62.8V189.2H59.2zM68.8 186.0H72.4V189.2H68.8zM75.2 186.0H78.8V189.2H75.2z"/>
<path fill="#4a3382" d="M40.0 172.0H43.6V175.2H40.0zM52.8 172.0H56.4V175.2H52.8zM72.0 174.8H75.6V178.0H72.0zM75.2 177.6H78.8V180.8H75.2zM78.4 177.6H82.0V180.8H78.4zM72.0 183.2H75.6V186.4H72.0zM68.8 188.8H72.4V192.0H68.8z"/>
<path fill="#442c7f" d="M56.0 172.0H59.6V175.2H56.0zM40.0 177.6H43.6V180.8H40.0zM59.2 177.6H62.8V180.8H59.2zM62.4 183.2H66.0V186.4H62.4zM43.2 186.0H46.8V189.2H43.2z"/>
<path fill="#4a3483" d="M72.0 172.0H75.6V175.2H72.0z"/>
<path fill="#e2dfef" d="M169.3 172.0H172.4V175.2H169.3zM169.3 188.8H172.4V192.0H169.3zM163.5 194.4H166.8V198.5H163.5z"/>
<path fill="#493382" d="M43.2 174.8H46.8V178.0H43.2z"/>
<path fill="#c6c1de" d="M29.2 177.6H33.1V180.8H29.2zM32.7 183.2H36.6V186.4H32.7z"/>
<path fill="#dedaed" d="M169.3 177.6H172.4V180.8H169.3zM169.3 180.4H172.4V183.6H169.3z"/>
<path fill="#c1bbda" d="M29.2 180.4H33.1V183.6H29.2z"/>
<path fill="#4b3483" d="M40.0 180.4H43.6V183.6H40.0zM49.6 180.4H53.2V183.6H49.6zM46.4 191.6H50.0V194.8H46.4z"/>
<path fill="#b3aed4" d="M29.2 186.0H33.1V189.2H29.2z"/>
<path fill="#9f97c6" d="M32.7 186.0H36.6V189.2H32.7z"/>
<path fill="#9c93c4" d="M32.7 188.8H36.6V192.0H32.7z"/>
<path fill="#513c88" d="M72.0 188.8H75.6V192.0H72.0z"/>
<path fill="#493187" d="M29.2 194.4H33.1V198.5H29.2zM36.2 194.4H40.4V198.5H36.2z"/>
<path fill="#483086" d="M32.7 194.4H36.6V198.5H32.7z"/>
<path fill="#bfb9db" d="M40.0 194.4H43.6V198.5H40.0z"/>
<path fill="#aca4cf" d="M43.2 194.4H46.8V198.5H43.2zM56.0 198.1H59.6V201.8H56.0z"/>
<path fill="#b4aed5" d="M46.4 194.4H50.0V198.5H46.4z"/>
<path fill="#b2abd4" d="M49.6 194.4H53.2V198.5H49.6z"/>
<path fill="#afa8d1" d="M52.8 194.4H56.4V198.5H52.8z"/>
<path fill="#bbb4d8" d="M56.0 194.4H59.6V198.5H56.0zM72.0 198.1H75.6V201.8H72.0z"/>
<path fill="#b7b0d6" d="M59.2 194.4H62.8V198.5H59.2zM62.4 198.1H66.0V201.8H62.4z"/>
<path fill="#b6b0d6" d="M62.4 194.4H66.0V198.5H62.4z"/>
<path fill="#bab3d8" d="M65.6 194.4H69.2V198.5H65.6z"/>
<path fill="#b9b3d7" d="M68.8 194.4H72.4V198.5H68.8z"/>
<path fill="#b0a9d2" d="M72.0 194.4H75.6V198.5H72.0zM65.6 198.1H69.2V201.8H65.6z"/>
<path fill="#a69dcb" d="M75.2 194.4H78.8V198.5H75.2z"/>
<path fill="#b1aad3" d="M78.4 194.4H82.0V198.5H78.4z"/>
<path fill="#e1deee" d="M81.6 194.4H85.8V198.5H81.6zM166.4 198.1H169.7V201.8H166.4z"/>
<path fill="#f8f6fa" d="M123.5 194.4H127.6V198.5H123.5z"/>
<path fill="#bbb4d7" d="M145.3 194.4H148.7V198.5H145.3z"/>
<path fill="#b9b2d6" d="M150.5 194.4H153.6V198.5H150.5z"/>
<path fill="#b8b0d5" d="M153.2 194.4H157.6V198.5H153.2z"/>
<path fill="#dcd9ec" d="M160.6 194.4H163.9V198.5H160.6zM160.6 198.1H163.9V201.8H160.6z"/>
<path fill="#d0cbe4" d="M166.4 194.4H169.7V198.5H166.4z"/>
<path fill="#9188c0" d="M169.3 194.4H172.4V198.5H169.3z"/>
<path fill="#9289c1" d="M172.0 194.4H173.8V198.5H172.0zM172.0 198.1H173.8V201.8H172.0zM186.4 198.1H190.0V201.8H186.4z"/>
<path fill="#8276b6" d="M173.4 194.4H177.0V198.5H173.4z"/>
<path fill="#8d84be" d="M176.6 194.4H180.3V198.5H176.6z"/>
<path fill="#988fc4" d="M179.9 194.4H183.5V198.5H179.9z"/>
<path fill="#9f97c8" d="M183.1 194.4H186.8V198.5H183.1z"/>
<path fill="#948bc2" d="M186.4 194.4H190.0V198.5H186.4z"/>
<path fill="#9b93c6" d="M189.6 194.4H193.2V198.5H189.6z"/>
<path fill="#493086" d="M29.2 198.1H33.1V201.8H29.2z"/>
<path fill="#4b3488" d="M32.7 198.1H36.6V201.8H32.7z"/>
<path fill="#4d368a" d="M36.2 198.1H40.4V201.8H36.2z"/>
<path fill="#aea7d0" d="M40.0 198.1H43.6V201.8H40.0zM78.4 198.1H82.0V201.8H78.4z"/>
<path fill="#b0a9d2" d="M43.2 198.1H46.8V201.8H43.2z"/>
<path fill="#b9b2d7" d="M46.4 198.1H50.0V201.8H46.4z"/>
<path fill="#b4add5" d="M49.6 198.1H53.2V201.8H49.6zM52.8 198.1H56.4V201.8H52.8z"/>
<path fill="#bbb5d9" d="M59.2 198.1H62.8V201.8H59.2z"/>
<path fill="#c3bddd" d="M68.8 198.1H72.4V201.8H68.8z"/>
<path fill="#b5aed6" d="M75.2 198.1H78.8V201.8H75.2z"/>
<path fill="#dedbed" d="M81.6 198.1H85.8V201.8H81.6zM163.5 198.1H166.8V201.8H163.5z"/>
<path fill="#b7afd4" d="M145.3 198.1H148.7V201.8H145.3z"/>
<path fill="#ada4cd" d="M150.5 198.1H153.6V201.8H150.5z"/>
<path fill="#8579b8" d="M169.3 198.1H172.4V201.8H169.3z"/>
<path fill="#867ab9" d="M173.4 198.1H177.0V201.8H173.4z"/>
<path fill="#877cba" d="M176.6 198.1H180.3V201.8H176.6z"/>
<path fill="#8c82bd" d="M183.1 198.1H186.8V201.8H183.1z"/>
<path fill="#9086bf" d="M189.6 198.1H193.2V201.8H189.6z"/>
<path fill="#8a80bc" d="M192.8 198.1H196.5V201.8H192.8z"/>
<path fill="#897fbb" d="M196.1 198.1H199.3V201.8H196.1z"/>
<line x1="199.80" y1="45.50" x2="199.80" y2="201.80" stroke="#c4c4cc" stroke-width="0.7" />
<rect x="23.00" y="45.50" width="4.30" height="156.30" fill="#b3def1" />
<rect x="23.00" y="48.70" width="4.30" height="24.60" fill="#161616" />
<rect x="23.00" y="77.00" width="4.30" height="3.00" fill="#161616" />
<rect x="23.00" y="90.40" width="4.30" height="10.80" fill="#161616" />
<rect x="23.00" y="153.40" width="4.30" height="48.40" fill="#161616" />
<rect x="23.00" y="83.35" width="4.30" height="0.90" fill="#6d95ab" />
<rect x="23.00" y="103.95" width="4.30" height="0.90" fill="#6d95ab" />
<rect x="23.00" y="110.95" width="4.30" height="0.90" fill="#6d95ab" />
<rect x="23.00" y="114.45" width="4.30" height="0.90" fill="#6d95ab" />
<rect x="23.00" y="124.45" width="4.30" height="0.90" fill="#6d95ab" />
<rect x="23.00" y="135.25" width="4.30" height="0.90" fill="#6d95ab" />
<rect x="23.00" y="138.65" width="4.30" height="0.90" fill="#6d95ab" />
<rect x="23.00" y="145.95" width="4.30" height="0.90" fill="#6d95ab" />
<rect x="23.00" y="149.35" width="4.30" height="0.90" fill="#6d95ab" />
<text x="210.00" y="17.10" font-size="7.3" text-anchor="start" fill="#1c1c1c" stroke="#1c1c1c" stroke-width="0.24" >Cluster</text>
<rect x="210.40" y="20.00" width="6.80" height="6.40" fill="#7da23e" stroke="#5c7e2a" stroke-width="0.5"/>
<text x="219.20" y="26.00" font-size="7.3" text-anchor="start" fill="#1c1c1c" stroke="#1c1c1c" stroke-width="0.24" >1</text>
<rect x="226.40" y="20.00" width="6.60" height="6.40" fill="#d6bca0" stroke="#a88c70" stroke-width="0.5"/>
<text x="235.60" y="26.00" font-size="7.3" text-anchor="start" fill="#1c1c1c" stroke="#1c1c1c" stroke-width="0.24" >2</text>
<rect x="243.80" y="20.00" width="6.90" height="6.40" fill="#8e1c4c" stroke="#6e1038" stroke-width="0.5"/>
<text x="253.00" y="26.00" font-size="7.3" text-anchor="start" fill="#1c1c1c" stroke="#1c1c1c" stroke-width="0.24" >3</text>
<text x="210.40" y="37.60" font-size="7.3" text-anchor="start" fill="#1c1c1c" stroke="#1c1c1c" stroke-width="0.24" >Pathway</text>
<rect x="210.40" y="40.70" width="6.80" height="6.90" fill="#161616" />
<text x="219.20" y="46.60" font-size="7.3" text-anchor="start" fill="#1c1c1c" stroke="#1c1c1c" stroke-width="0.24" >Glycolytic</text>
<rect x="210.40" y="50.70" width="6.80" height="6.40" fill="#b3def1" />
<text x="220.00" y="56.30" font-size="7.3" text-anchor="start" fill="#1c1c1c" stroke="#1c1c1c" stroke-width="0.24" >Cholesterogenic</text>
<text x="210.00" y="67.80" font-size="7.3" text-anchor="start" fill="#1c1c1c" stroke="#1c1c1c" stroke-width="0.24" >Cluster</text>
<text x="210.00" y="76.70" font-size="7.3" text-anchor="start" fill="#1c1c1c" stroke="#1c1c1c" stroke-width="0.24" >Consistency</text>
<defs><linearGradient id="gpur" x1="0" x2="1" y1="0" y2="0"><stop offset="0" stop-color="#fdfcfe"/><stop offset="0.3" stop-color="#e0ddf0"/><stop offset="0.55" stop-color="#bcb6de"/><stop offset="0.75" stop-color="#8a7cc4"/><stop offset="0.9" stop-color="#5a3fa5"/><stop offset="1" stop-color="#3a1a80"/></linearGradient></defs>
<rect x="210.40" y="79.00" width="46.40" height="5.40" fill="url(#gpur)" stroke="#444" stroke-width="0.5"/>
<text x="210.40" y="92.10" font-size="7.3" text-anchor="start" fill="#1c1c1c" stroke="#1c1c1c" stroke-width="0.24" >0</text>
<text x="228.00" y="92.10" font-size="7.3" text-anchor="middle" fill="#1c1c1c" stroke="#1c1c1c" stroke-width="0.24" >0.4</text>
<text x="246.60" y="92.10" font-size="7.3" text-anchor="middle" fill="#1c1c1c" stroke="#1c1c1c" stroke-width="0.24" >0.8</text>
<path d="M203.2,101.9 L205,101.9 Q206.1,101.9 206.1,103 L206.1,152 Q206.1,153.4 204.6,153.9 Q206.1,154.4 206.1,155.8 L206.1,200.8 Q206.1,202 205,202 L203.2,202" fill="none" stroke="#333" stroke-width="0.85"/>
<text x="208.80" y="115.80" font-size="7.3" text-anchor="start" fill="#1c1c1c" stroke="#1c1c1c" stroke-width="0.24" >Coexpressed</text>
<text x="208.80" y="124.80" font-size="7.3" text-anchor="start" fill="#1c1c1c" stroke="#1c1c1c" stroke-width="0.24" >Cholestero-</text>
<text x="208.80" y="133.80" font-size="7.3" text-anchor="start" fill="#1c1c1c" stroke="#1c1c1c" stroke-width="0.24" >genic</text>
<text x="208.80" y="142.80" font-size="7.3" text-anchor="start" fill="#1c1c1c" stroke="#1c1c1c" stroke-width="0.24" >Genes</text>
<text x="208.80" y="170.10" font-size="7.3" text-anchor="start" fill="#1c1c1c" stroke="#1c1c1c" stroke-width="0.24" >Coexpressed</text>
<text x="208.80" y="178.90" font-size="7.3" text-anchor="start" fill="#1c1c1c" stroke="#1c1c1c" stroke-width="0.24" >Glycolytic</text>
<text x="208.80" y="187.70" font-size="7.3" text-anchor="start" fill="#1c1c1c" stroke="#1c1c1c" stroke-width="0.24" >Genes</text>
<text x="111.60" y="208.90" font-size="7.3" text-anchor="middle" fill="#1c1c1c" stroke="#1c1c1c" stroke-width="0.24" >Genes</text>
<text x="0" y="0" font-size="7.3" text-anchor="middle" fill="#1c1c1c" stroke="#1c1c1c" stroke-width="0.24" transform="translate(17.9,119.4) rotate(-90)">Genes</text>
</g>
<g id="B">
<text x="298.70" y="13.70" font-size="15.2" text-anchor="start" fill="#000" font-weight="bold" stroke="none">B</text>
<text x="349.20" y="10.30" font-size="7.3" text-anchor="start" fill="#1c1c1c" stroke="#1c1c1c" stroke-width="0.24" >Metabolic subgroup</text>
<circle cx="351.5" cy="16.9" r="2.4" fill="#a9b68a" fill-opacity="0.7" stroke="#808e5c" stroke-width="0.75" stroke-opacity="0.8"/>
<text x="357.30" y="19.50" font-size="7.3" text-anchor="start" fill="#1c1c1c" stroke="#1c1c1c" stroke-width="0.24" >Cholesterogenic</text>
<circle cx="351.5" cy="25.0" r="2.4" fill="#dcb555" fill-opacity="0.7" stroke="#b38d2a" stroke-width="0.75" stroke-opacity="0.8"/>
<text x="357.30" y="27.60" font-size="7.3" text-anchor="start" fill="#1c1c1c" stroke="#1c1c1c" stroke-width="0.24" >Quiescent</text>
<circle cx="422.3" cy="16.9" r="2.4" fill="#8a6850" fill-opacity="0.7" stroke="#684832" stroke-width="0.75" stroke-opacity="0.8"/>
<text x="427.90" y="19.50" font-size="7.3" text-anchor="start" fill="#1c1c1c" stroke="#1c1c1c" stroke-width="0.24" >Mixed</text>
<circle cx="422.3" cy="25.0" r="2.4" fill="#82aab4" fill-opacity="0.7" stroke="#5a8a96" stroke-width="0.75" stroke-opacity="0.8"/>
<text x="427.90" y="27.60" font-size="7.3" text-anchor="start" fill="#1c1c1c" stroke="#1c1c1c" stroke-width="0.24" >Glycolytic</text>
<rect x="348.70" y="31.70" width="170.70" height="157.00" fill="#ffffff" />
<line x1="390.60" y1="31.70" x2="390.60" y2="188.70" stroke="#ededed" stroke-width="0.6" stroke-dasharray="2.5,2.5"/>
<line x1="483.60" y1="31.70" x2="483.60" y2="188.70" stroke="#ededed" stroke-width="0.6" stroke-dasharray="2.5,2.5"/>
<line x1="348.70" y1="39.10" x2="519.40" y2="39.10" stroke="#e2e2e2" stroke-width="0.7" stroke-dasharray="3,2.6"/>
<line x1="348.70" y1="78.70" x2="519.40" y2="78.70" stroke="#e2e2e2" stroke-width="0.7" stroke-dasharray="3,2.6"/>
<line x1="348.70" y1="157.90" x2="519.40" y2="157.90" stroke="#e2e2e2" stroke-width="0.7" stroke-dasharray="3,2.6"/>
<circle cx="427.6" cy="38.9" r="1.95" fill="#a9b68a" fill-opacity="0.7" stroke="#808e5c" stroke-width="0.75" stroke-opacity="0.8"/>
<circle cx="416.4" cy="63.5" r="1.95" fill="#a9b68a" fill-opacity="0.7" stroke="#808e5c" stroke-width="0.75" stroke-opacity="0.8"/>
<circle cx="400.4" cy="66.6" r="1.95" fill="#a9b68a" fill-opacity="0.7" stroke="#808e5c" stroke-width="0.75" stroke-opacity="0.8"/>
<circle cx="420.7" cy="69.2" r="1.95" fill="#a9b68a" fill-opacity="0.7" stroke="#808e5c" stroke-width="0.75" stroke-opacity="0.8"/>
<circle cx="427.6" cy="73.5" r="1.95" fill="#a9b68a" fill-opacity="0.7" stroke="#808e5c" stroke-width="0.75" stroke-opacity="0.8"/>
<circle cx="424.2" cy="75.3" r="1.95" fill="#a9b68a" fill-opacity="0.7" stroke="#808e5c" stroke-width="0.75" stroke-opacity="0.8"/>
<circle cx="422.4" cy="77.0" r="1.95" fill="#a9b68a" fill-opacity="0.7" stroke="#808e5c" stroke-width="0.75" stroke-opacity="0.8"/>
<circle cx="406.0" cy="78.4" r="1.95" fill="#a9b68a" fill-opacity="0.7" stroke="#808e5c" stroke-width="0.75" stroke-opacity="0.8"/>
<circle cx="431.1" cy="78.4" r="1.95" fill="#a9b68a" fill-opacity="0.7" stroke="#808e5c" stroke-width="0.75" stroke-opacity="0.8"/>
<circle cx="432.8" cy="82.2" r="1.95" fill="#a9b68a" fill-opacity="0.7" stroke="#808e5c" stroke-width="0.75" stroke-opacity="0.8"/>
<circle cx="407.7" cy="83.1" r="1.95" fill="#a9b68a" fill-opacity="0.7" stroke="#808e5c" stroke-width="0.75" stroke-opacity="0.8"/>
<circle cx="412.0" cy="83.6" r="1.95" fill="#a9b68a" fill-opacity="0.7" stroke="#808e5c" stroke-width="0.75" stroke-opacity="0.8"/>
<circle cx="404.2" cy="84.8" r="1.95" fill="#a9b68a" fill-opacity="0.7" stroke="#808e5c" stroke-width="0.75" stroke-opacity="0.8"/>
<circle cx="434.5" cy="83.9" r="1.95" fill="#a9b68a" fill-opacity="0.7" stroke="#808e5c" stroke-width="0.75" stroke-opacity="0.8"/>
<circle cx="429.3" cy="85.7" r="1.95" fill="#a9b68a" fill-opacity="0.7" stroke="#808e5c" stroke-width="0.75" stroke-opacity="0.8"/>
<circle cx="375.7" cy="92.6" r="1.95" fill="#a9b68a" fill-opacity="0.7" stroke="#808e5c" stroke-width="0.75" stroke-opacity="0.8"/>
<circle cx="373.1" cy="96.9" r="1.95" fill="#a9b68a" fill-opacity="0.7" stroke="#808e5c" stroke-width="0.75" stroke-opacity="0.8"/>
<circle cx="397.8" cy="93.4" r="1.95" fill="#a9b68a" fill-opacity="0.7" stroke="#808e5c" stroke-width="0.75" stroke-opacity="0.8"/>
<circle cx="403.4" cy="91.2" r="1.95" fill="#a9b68a" fill-opacity="0.7" stroke="#808e5c" stroke-width="0.75" stroke-opacity="0.8"/>
<circle cx="425.0" cy="90.0" r="1.95" fill="#a9b68a" fill-opacity="0.7" stroke="#808e5c" stroke-width="0.75" stroke-opacity="0.8"/>
<circle cx="419.0" cy="93.4" r="1.95" fill="#a9b68a" fill-opacity="0.7" stroke="#808e5c" stroke-width="0.75" stroke-opacity="0.8"/>
<circle cx="417.2" cy="96.0" r="1.95" fill="#a9b68a" fill-opacity="0.7" stroke="#808e5c" stroke-width="0.75" stroke-opacity="0.8"/>
<circle cx="420.7" cy="95.2" r="1.95" fill="#a9b68a" fill-opacity="0.7" stroke="#808e5c" stroke-width="0.75" stroke-opacity="0.8"/>
<circle cx="422.4" cy="97.8" r="1.95" fill="#a9b68a" fill-opacity="0.7" stroke="#808e5c" stroke-width="0.75" stroke-opacity="0.8"/>
<circle cx="418.1" cy="100.4" r="1.95" fill="#a9b68a" fill-opacity="0.7" stroke="#808e5c" stroke-width="0.75" stroke-opacity="0.8"/>
<circle cx="430.2" cy="94.3" r="1.95" fill="#a9b68a" fill-opacity="0.7" stroke="#808e5c" stroke-width="0.75" stroke-opacity="0.8"/>
<circle cx="432.8" cy="97.8" r="1.95" fill="#a9b68a" fill-opacity="0.7" stroke="#808e5c" stroke-width="0.75" stroke-opacity="0.8"/>
<circle cx="429.3" cy="101.2" r="1.95" fill="#a9b68a" fill-opacity="0.7" stroke="#808e5c" stroke-width="0.75" stroke-opacity="0.8"/>
<circle cx="434.5" cy="100.4" r="1.95" fill="#a9b68a" fill-opacity="0.7" stroke="#808e5c" stroke-width="0.75" stroke-opacity="0.8"/>
<circle cx="410.3" cy="99.5" r="1.95" fill="#a9b68a" fill-opacity="0.7" stroke="#808e5c" stroke-width="0.75" stroke-opacity="0.8"/>
<circle cx="384.7" cy="102.6" r="1.95" fill="#a9b68a" fill-opacity="0.7" stroke="#808e5c" stroke-width="0.75" stroke-opacity="0.8"/>
<circle cx="399.9" cy="102.1" r="1.95" fill="#a9b68a" fill-opacity="0.7" stroke="#808e5c" stroke-width="0.75" stroke-opacity="0.8"/>
<circle cx="401.7" cy="103.0" r="1.95" fill="#a9b68a" fill-opacity="0.7" stroke="#808e5c" stroke-width="0.75" stroke-opacity="0.8"/>
<circle cx="398.2" cy="104.7" r="1.95" fill="#a9b68a" fill-opacity="0.7" stroke="#808e5c" stroke-width="0.75" stroke-opacity="0.8"/>
<circle cx="412.0" cy="104.7" r="1.95" fill="#a9b68a" fill-opacity="0.7" stroke="#808e5c" stroke-width="0.75" stroke-opacity="0.8"/>
<circle cx="415.5" cy="106.4" r="1.95" fill="#a9b68a" fill-opacity="0.7" stroke="#808e5c" stroke-width="0.75" stroke-opacity="0.8"/>
<circle cx="427.6" cy="103.8" r="1.95" fill="#a9b68a" fill-opacity="0.7" stroke="#808e5c" stroke-width="0.75" stroke-opacity="0.8"/>
<circle cx="431.1" cy="104.7" r="1.95" fill="#a9b68a" fill-opacity="0.7" stroke="#808e5c" stroke-width="0.75" stroke-opacity="0.8"/>
<circle cx="399.9" cy="108.2" r="1.95" fill="#a9b68a" fill-opacity="0.7" stroke="#808e5c" stroke-width="0.75" stroke-opacity="0.8"/>
<circle cx="405.1" cy="108.2" r="1.95" fill="#a9b68a" fill-opacity="0.7" stroke="#808e5c" stroke-width="0.75" stroke-opacity="0.8"/>
<circle cx="408.6" cy="109.9" r="1.95" fill="#a9b68a" fill-opacity="0.7" stroke="#808e5c" stroke-width="0.75" stroke-opacity="0.8"/>
<circle cx="413.8" cy="109.9" r="1.95" fill="#a9b68a" fill-opacity="0.7" stroke="#808e5c" stroke-width="0.75" stroke-opacity="0.8"/>
<circle cx="422.4" cy="108.2" r="1.95" fill="#a9b68a" fill-opacity="0.7" stroke="#808e5c" stroke-width="0.75" stroke-opacity="0.8"/>
<circle cx="425.9" cy="109.0" r="1.95" fill="#a9b68a" fill-opacity="0.7" stroke="#808e5c" stroke-width="0.75" stroke-opacity="0.8"/>
<circle cx="384.7" cy="112.0" r="1.95" fill="#a9b68a" fill-opacity="0.7" stroke="#808e5c" stroke-width="0.75" stroke-opacity="0.8"/>
<circle cx="393.0" cy="112.5" r="1.95" fill="#a9b68a" fill-opacity="0.7" stroke="#808e5c" stroke-width="0.75" stroke-opacity="0.8"/>
<circle cx="398.2" cy="113.3" r="1.95" fill="#a9b68a" fill-opacity="0.7" stroke="#808e5c" stroke-width="0.75" stroke-opacity="0.8"/>
<circle cx="405.1" cy="112.5" r="1.95" fill="#a9b68a" fill-opacity="0.7" stroke="#808e5c" stroke-width="0.75" stroke-opacity="0.8"/>
<circle cx="412.0" cy="113.3" r="1.95" fill="#a9b68a" fill-opacity="0.7" stroke="#808e5c" stroke-width="0.75" stroke-opacity="0.8"/>
<circle cx="416.4" cy="112.0" r="1.95" fill="#a9b68a" fill-opacity="0.7" stroke="#808e5c" stroke-width="0.75" stroke-opacity="0.8"/>
<circle cx="379.2" cy="114.2" r="1.95" fill="#a9b68a" fill-opacity="0.7" stroke="#808e5c" stroke-width="0.75" stroke-opacity="0.8"/>
<circle cx="374.0" cy="116.8" r="1.95" fill="#a9b68a" fill-opacity="0.7" stroke="#808e5c" stroke-width="0.75" stroke-opacity="0.8"/>
<circle cx="401.7" cy="115.9" r="1.95" fill="#a9b68a" fill-opacity="0.7" stroke="#808e5c" stroke-width="0.75" stroke-opacity="0.8"/>
<circle cx="406.8" cy="115.9" r="1.95" fill="#a9b68a" fill-opacity="0.7" stroke="#808e5c" stroke-width="0.75" stroke-opacity="0.8"/>
<circle cx="420.7" cy="115.9" r="1.95" fill="#a9b68a" fill-opacity="0.7" stroke="#808e5c" stroke-width="0.75" stroke-opacity="0.8"/>
<circle cx="397.0" cy="93.6" r="1.95" fill="#a9b68a" fill-opacity="0.7" stroke="#808e5c" stroke-width="0.75" stroke-opacity="0.8"/>
<circle cx="392.4" cy="112.8" r="1.95" fill="#a9b68a" fill-opacity="0.7" stroke="#808e5c" stroke-width="0.75" stroke-opacity="0.8"/>
<circle cx="397.0" cy="105.6" r="1.95" fill="#a9b68a" fill-opacity="0.7" stroke="#808e5c" stroke-width="0.75" stroke-opacity="0.8"/>
<circle cx="394.0" cy="118.0" r="1.95" fill="#a9b68a" fill-opacity="0.7" stroke="#808e5c" stroke-width="0.75" stroke-opacity="0.8"/>
<circle cx="374.0" cy="128.7" r="1.95" fill="#dcb555" fill-opacity="0.7" stroke="#b38d2a" stroke-width="0.75" stroke-opacity="0.8"/>
<circle cx="370.8" cy="136.5" r="1.95" fill="#dcb555" fill-opacity="0.7" stroke="#b38d2a" stroke-width="0.75" stroke-opacity="0.8"/>
<circle cx="356.3" cy="143.2" r="1.95" fill="#dcb555" fill-opacity="0.7" stroke="#b38d2a" stroke-width="0.75" stroke-opacity="0.8"/>
<circle cx="356.3" cy="167.1" r="1.95" fill="#dcb555" fill-opacity="0.7" stroke="#b38d2a" stroke-width="0.75" stroke-opacity="0.8"/>
<circle cx="369.6" cy="151.2" r="1.95" fill="#dcb555" fill-opacity="0.7" stroke="#b38d2a" stroke-width="0.75" stroke-opacity="0.8"/>
<circle cx="373.1" cy="151.0" r="1.95" fill="#dcb555" fill-opacity="0.7" stroke="#b38d2a" stroke-width="0.75" stroke-opacity="0.8"/>
<circle cx="385.2" cy="155.9" r="1.95" fill="#dcb555" fill-opacity="0.7" stroke="#b38d2a" stroke-width="0.75" stroke-opacity="0.8"/>
<circle cx="386.1" cy="159.3" r="1.95" fill="#dcb555" fill-opacity="0.7" stroke="#b38d2a" stroke-width="0.75" stroke-opacity="0.8"/>
<circle cx="390.4" cy="151.0" r="1.95" fill="#dcb555" fill-opacity="0.7" stroke="#b38d2a" stroke-width="0.75" stroke-opacity="0.8"/>
<circle cx="398.7" cy="152.7" r="1.95" fill="#dcb555" fill-opacity="0.7" stroke="#b38d2a" stroke-width="0.75" stroke-opacity="0.8"/>
<circle cx="385.2" cy="139.1" r="1.95" fill="#dcb555" fill-opacity="0.7" stroke="#b38d2a" stroke-width="0.75" stroke-opacity="0.8"/>
<circle cx="388.7" cy="139.1" r="1.95" fill="#dcb555" fill-opacity="0.7" stroke="#b38d2a" stroke-width="0.75" stroke-opacity="0.8"/>
<circle cx="387.8" cy="131.6" r="1.95" fill="#dcb555" fill-opacity="0.7" stroke="#b38d2a" stroke-width="0.75" stroke-opacity="0.8"/>
<circle cx="390.4" cy="128.2" r="1.95" fill="#dcb555" fill-opacity="0.7" stroke="#b38d2a" stroke-width="0.75" stroke-opacity="0.8"/>
<circle cx="393.9" cy="125.6" r="1.95" fill="#dcb555" fill-opacity="0.7" stroke="#b38d2a" stroke-width="0.75" stroke-opacity="0.8"/>
<circle cx="397.3" cy="126.4" r="1.95" fill="#dcb555" fill-opacity="0.7" stroke="#b38d2a" stroke-width="0.75" stroke-opacity="0.8"/>
<circle cx="392.7" cy="122.1" r="1.95" fill="#dcb555" fill-opacity="0.7" stroke="#b38d2a" stroke-width="0.75" stroke-opacity="0.8"/>
<circle cx="389.5" cy="122.5" r="1.95" fill="#dcb555" fill-opacity="0.7" stroke="#b38d2a" stroke-width="0.75" stroke-opacity="0.8"/>
<circle cx="397.8" cy="136.8" r="1.95" fill="#dcb555" fill-opacity="0.7" stroke="#b38d2a" stroke-width="0.75" stroke-opacity="0.8"/>
<circle cx="405.1" cy="122.1" r="1.95" fill="#dcb555" fill-opacity="0.7" stroke="#b38d2a" stroke-width="0.75" stroke-opacity="0.8"/>
<circle cx="406.8" cy="125.6" r="1.95" fill="#dcb555" fill-opacity="0.7" stroke="#b38d2a" stroke-width="0.75" stroke-opacity="0.8"/>
<circle cx="412.0" cy="122.1" r="1.95" fill="#dcb555" fill-opacity="0.7" stroke="#b38d2a" stroke-width="0.75" stroke-opacity="0.8"/>
<circle cx="407.7" cy="131.1" r="1.95" fill="#dcb555" fill-opacity="0.7" stroke="#b38d2a" stroke-width="0.75" stroke-opacity="0.8"/>
<circle cx="411.2" cy="129.0" r="1.95" fill="#dcb555" fill-opacity="0.7" stroke="#b38d2a" stroke-width="0.75" stroke-opacity="0.8"/>
<circle cx="415.5" cy="126.4" r="1.95" fill="#dcb555" fill-opacity="0.7" stroke="#b38d2a" stroke-width="0.75" stroke-opacity="0.8"/>
<circle cx="419.0" cy="122.1" r="1.95" fill="#dcb555" fill-opacity="0.7" stroke="#b38d2a" stroke-width="0.75" stroke-opacity="0.8"/>
<circle cx="422.4" cy="119.5" r="1.95" fill="#dcb555" fill-opacity="0.7" stroke="#b38d2a" stroke-width="0.75" stroke-opacity="0.8"/>
<circle cx="417.2" cy="134.2" r="1.95" fill="#dcb555" fill-opacity="0.7" stroke="#b38d2a" stroke-width="0.75" stroke-opacity="0.8"/>
<circle cx="419.8" cy="136.8" r="1.95" fill="#dcb555" fill-opacity="0.7" stroke="#b38d2a" stroke-width="0.75" stroke-opacity="0.8"/>
<circle cx="422.4" cy="138.6" r="1.95" fill="#dcb555" fill-opacity="0.7" stroke="#b38d2a" stroke-width="0.75" stroke-opacity="0.8"/>
<circle cx="424.2" cy="131.6" r="1.95" fill="#dcb555" fill-opacity="0.7" stroke="#b38d2a" stroke-width="0.75" stroke-opacity="0.8"/>
<circle cx="427.6" cy="130.8" r="1.95" fill="#dcb555" fill-opacity="0.7" stroke="#b38d2a" stroke-width="0.75" stroke-opacity="0.8"/>
<circle cx="429.3" cy="126.4" r="1.95" fill="#dcb555" fill-opacity="0.7" stroke="#b38d2a" stroke-width="0.75" stroke-opacity="0.8"/>
<circle cx="432.8" cy="123.8" r="1.95" fill="#dcb555" fill-opacity="0.7" stroke="#b38d2a" stroke-width="0.75" stroke-opacity="0.8"/>
<circle cx="434.5" cy="129.0" r="1.95" fill="#dcb555" fill-opacity="0.7" stroke="#b38d2a" stroke-width="0.75" stroke-opacity="0.8"/>
<circle cx="432.8" cy="138.6" r="1.95" fill="#dcb555" fill-opacity="0.7" stroke="#b38d2a" stroke-width="0.75" stroke-opacity="0.8"/>
<circle cx="431.1" cy="142.9" r="1.95" fill="#dcb555" fill-opacity="0.7" stroke="#b38d2a" stroke-width="0.75" stroke-opacity="0.8"/>
<circle cx="433.7" cy="144.6" r="1.95" fill="#dcb555" fill-opacity="0.7" stroke="#b38d2a" stroke-width="0.75" stroke-opacity="0.8"/>
<circle cx="407.7" cy="147.2" r="1.95" fill="#dcb555" fill-opacity="0.7" stroke="#b38d2a" stroke-width="0.75" stroke-opacity="0.8"/>
<circle cx="407.7" cy="151.5" r="1.95" fill="#dcb555" fill-opacity="0.7" stroke="#b38d2a" stroke-width="0.75" stroke-opacity="0.8"/>
<circle cx="420.7" cy="148.9" r="1.95" fill="#dcb555" fill-opacity="0.7" stroke="#b38d2a" stroke-width="0.75" stroke-opacity="0.8"/>
<circle cx="424.2" cy="150.7" r="1.95" fill="#dcb555" fill-opacity="0.7" stroke="#b38d2a" stroke-width="0.75" stroke-opacity="0.8"/>
<circle cx="427.6" cy="152.4" r="1.95" fill="#dcb555" fill-opacity="0.7" stroke="#b38d2a" stroke-width="0.75" stroke-opacity="0.8"/>
<circle cx="419.8" cy="154.1" r="1.95" fill="#dcb555" fill-opacity="0.7" stroke="#b38d2a" stroke-width="0.75" stroke-opacity="0.8"/>
<circle cx="422.4" cy="155.9" r="1.95" fill="#dcb555" fill-opacity="0.7" stroke="#b38d2a" stroke-width="0.75" stroke-opacity="0.8"/>
<circle cx="427.6" cy="155.9" r="1.95" fill="#dcb555" fill-opacity="0.7" stroke="#b38d2a" stroke-width="0.75" stroke-opacity="0.8"/>
<circle cx="431.1" cy="149.8" r="1.95" fill="#dcb555" fill-opacity="0.7" stroke="#b38d2a" stroke-width="0.75" stroke-opacity="0.8"/>
<circle cx="408.6" cy="158.8" r="1.95" fill="#dcb555" fill-opacity="0.7" stroke="#b38d2a" stroke-width="0.75" stroke-opacity="0.8"/>
<circle cx="414.6" cy="159.3" r="1.95" fill="#dcb555" fill-opacity="0.7" stroke="#b38d2a" stroke-width="0.75" stroke-opacity="0.8"/>
<circle cx="416.4" cy="160.2" r="1.95" fill="#dcb555" fill-opacity="0.7" stroke="#b38d2a" stroke-width="0.75" stroke-opacity="0.8"/>
<circle cx="422.4" cy="160.2" r="1.95" fill="#dcb555" fill-opacity="0.7" stroke="#b38d2a" stroke-width="0.75" stroke-opacity="0.8"/>
<circle cx="426.7" cy="161.9" r="1.95" fill="#dcb555" fill-opacity="0.7" stroke="#b38d2a" stroke-width="0.75" stroke-opacity="0.8"/>
<circle cx="433.7" cy="161.1" r="1.95" fill="#dcb555" fill-opacity="0.7" stroke="#b38d2a" stroke-width="0.75" stroke-opacity="0.8"/>
<circle cx="432.8" cy="166.2" r="1.95" fill="#dcb555" fill-opacity="0.7" stroke="#b38d2a" stroke-width="0.75" stroke-opacity="0.8"/>
<circle cx="412.9" cy="169.7" r="1.95" fill="#dcb555" fill-opacity="0.7" stroke="#b38d2a" stroke-width="0.75" stroke-opacity="0.8"/>
<circle cx="414.6" cy="171.4" r="1.95" fill="#dcb555" fill-opacity="0.7" stroke="#b38d2a" stroke-width="0.75" stroke-opacity="0.8"/>
<circle cx="429.3" cy="175.4" r="1.95" fill="#dcb555" fill-opacity="0.7" stroke="#b38d2a" stroke-width="0.75" stroke-opacity="0.8"/>
<circle cx="405.1" cy="181.8" r="1.95" fill="#dcb555" fill-opacity="0.7" stroke="#b38d2a" stroke-width="0.75" stroke-opacity="0.8"/>
<circle cx="431.7" cy="122.1" r="1.95" fill="#dcb555" fill-opacity="0.7" stroke="#b38d2a" stroke-width="0.75" stroke-opacity="0.8"/>
<circle cx="433.5" cy="137.7" r="1.95" fill="#dcb555" fill-opacity="0.7" stroke="#b38d2a" stroke-width="0.75" stroke-opacity="0.8"/>
<circle cx="431.7" cy="149.8" r="1.95" fill="#dcb555" fill-opacity="0.7" stroke="#b38d2a" stroke-width="0.75" stroke-opacity="0.8"/>
<circle cx="434.3" cy="167.1" r="1.95" fill="#dcb555" fill-opacity="0.7" stroke="#b38d2a" stroke-width="0.75" stroke-opacity="0.8"/>
<circle cx="430.9" cy="174.9" r="1.95" fill="#dcb555" fill-opacity="0.7" stroke="#b38d2a" stroke-width="0.75" stroke-opacity="0.8"/>
<circle cx="425.0" cy="124.0" r="1.95" fill="#dcb555" fill-opacity="0.7" stroke="#b38d2a" stroke-width="0.75" stroke-opacity="0.8"/>
<circle cx="428.0" cy="121.5" r="1.95" fill="#dcb555" fill-opacity="0.7" stroke="#b38d2a" stroke-width="0.75" stroke-opacity="0.8"/>
<circle cx="436.0" cy="127.0" r="1.95" fill="#dcb555" fill-opacity="0.7" stroke="#b38d2a" stroke-width="0.75" stroke-opacity="0.8"/>
<circle cx="433.0" cy="133.0" r="1.95" fill="#dcb555" fill-opacity="0.7" stroke="#b38d2a" stroke-width="0.75" stroke-opacity="0.8"/>
<circle cx="426.0" cy="135.0" r="1.95" fill="#dcb555" fill-opacity="0.7" stroke="#b38d2a" stroke-width="0.75" stroke-opacity="0.8"/>
<circle cx="430.0" cy="140.0" r="1.95" fill="#dcb555" fill-opacity="0.7" stroke="#b38d2a" stroke-width="0.75" stroke-opacity="0.8"/>
<circle cx="436.0" cy="146.0" r="1.95" fill="#dcb555" fill-opacity="0.7" stroke="#b38d2a" stroke-width="0.75" stroke-opacity="0.8"/>
<circle cx="429.0" cy="152.0" r="1.95" fill="#dcb555" fill-opacity="0.7" stroke="#b38d2a" stroke-width="0.75" stroke-opacity="0.8"/>
<circle cx="435.0" cy="156.0" r="1.95" fill="#dcb555" fill-opacity="0.7" stroke="#b38d2a" stroke-width="0.75" stroke-opacity="0.8"/>
<circle cx="424.0" cy="160.0" r="1.95" fill="#dcb555" fill-opacity="0.7" stroke="#b38d2a" stroke-width="0.75" stroke-opacity="0.8"/>
<circle cx="420.0" cy="152.0" r="1.95" fill="#dcb555" fill-opacity="0.7" stroke="#b38d2a" stroke-width="0.75" stroke-opacity="0.8"/>
<circle cx="417.0" cy="145.0" r="1.95" fill="#dcb555" fill-opacity="0.7" stroke="#b38d2a" stroke-width="0.75" stroke-opacity="0.8"/>
<circle cx="412.0" cy="141.0" r="1.95" fill="#dcb555" fill-opacity="0.7" stroke="#b38d2a" stroke-width="0.75" stroke-opacity="0.8"/>
<circle cx="436.0" cy="162.0" r="1.95" fill="#dcb555" fill-opacity="0.7" stroke="#b38d2a" stroke-width="0.75" stroke-opacity="0.8"/>
<circle cx="432.0" cy="170.0" r="1.95" fill="#dcb555" fill-opacity="0.7" stroke="#b38d2a" stroke-width="0.75" stroke-opacity="0.8"/>
<circle cx="418.0" cy="128.0" r="1.95" fill="#dcb555" fill-opacity="0.7" stroke="#b38d2a" stroke-width="0.75" stroke-opacity="0.8"/>
<circle cx="410.0" cy="134.0" r="1.95" fill="#dcb555" fill-opacity="0.7" stroke="#b38d2a" stroke-width="0.75" stroke-opacity="0.8"/>
<circle cx="469.8" cy="42.7" r="1.95" fill="#8a6850" fill-opacity="0.7" stroke="#684832" stroke-width="0.75" stroke-opacity="0.8"/>
<circle cx="467.2" cy="56.6" r="1.95" fill="#8a6850" fill-opacity="0.7" stroke="#684832" stroke-width="0.75" stroke-opacity="0.8"/>
<circle cx="473.3" cy="58.8" r="1.95" fill="#8a6850" fill-opacity="0.7" stroke="#684832" stroke-width="0.75" stroke-opacity="0.8"/>
<circle cx="485.4" cy="59.2" r="1.95" fill="#8a6850" fill-opacity="0.7" stroke="#684832" stroke-width="0.75" stroke-opacity="0.8"/>
<circle cx="505.3" cy="57.1" r="1.95" fill="#8a6850" fill-opacity="0.7" stroke="#684832" stroke-width="0.75" stroke-opacity="0.8"/>
<circle cx="470.7" cy="64.4" r="1.95" fill="#8a6850" fill-opacity="0.7" stroke="#684832" stroke-width="0.75" stroke-opacity="0.8"/>
<circle cx="443.0" cy="63.5" r="1.95" fill="#8a6850" fill-opacity="0.7" stroke="#684832" stroke-width="0.75" stroke-opacity="0.8"/>
<circle cx="446.4" cy="65.7" r="1.95" fill="#8a6850" fill-opacity="0.7" stroke="#684832" stroke-width="0.75" stroke-opacity="0.8"/>
<circle cx="450.8" cy="64.9" r="1.95" fill="#8a6850" fill-opacity="0.7" stroke="#684832" stroke-width="0.75" stroke-opacity="0.8"/>
<circle cx="438.7" cy="68.7" r="1.95" fill="#8a6850" fill-opacity="0.7" stroke="#684832" stroke-width="0.75" stroke-opacity="0.8"/>
<circle cx="446.4" cy="71.8" r="1.95" fill="#8a6850" fill-opacity="0.7" stroke="#684832" stroke-width="0.75" stroke-opacity="0.8"/>
<circle cx="451.1" cy="72.7" r="1.95" fill="#8a6850" fill-opacity="0.7" stroke="#684832" stroke-width="0.75" stroke-opacity="0.8"/>
<circle cx="458.0" cy="74.4" r="1.95" fill="#8a6850" fill-opacity="0.7" stroke="#684832" stroke-width="0.75" stroke-opacity="0.8"/>
<circle cx="440.4" cy="74.4" r="1.95" fill="#8a6850" fill-opacity="0.7" stroke="#684832" stroke-width="0.75" stroke-opacity="0.8"/>
<circle cx="441.2" cy="80.5" r="1.95" fill="#8a6850" fill-opacity="0.7" stroke="#684832" stroke-width="0.75" stroke-opacity="0.8"/>
<circle cx="444.7" cy="83.4" r="1.95" fill="#8a6850" fill-opacity="0.7" stroke="#684832" stroke-width="0.75" stroke-opacity="0.8"/>
<circle cx="449.0" cy="82.2" r="1.95" fill="#8a6850" fill-opacity="0.7" stroke="#684832" stroke-width="0.75" stroke-opacity="0.8"/>
<circle cx="450.8" cy="80.5" r="1.95" fill="#8a6850" fill-opacity="0.7" stroke="#684832" stroke-width="0.75" stroke-opacity="0.8"/>
<circle cx="463.7" cy="81.3" r="1.95" fill="#8a6850" fill-opacity="0.7" stroke="#684832" stroke-width="0.75" stroke-opacity="0.8"/>
<circle cx="472.4" cy="81.0" r="1.95" fill="#8a6850" fill-opacity="0.7" stroke="#684832" stroke-width="0.75" stroke-opacity="0.8"/>
<circle cx="475.9" cy="82.2" r="1.95" fill="#8a6850" fill-opacity="0.7" stroke="#684832" stroke-width="0.75" stroke-opacity="0.8"/>
<circle cx="481.1" cy="83.6" r="1.95" fill="#8a6850" fill-opacity="0.7" stroke="#684832" stroke-width="0.75" stroke-opacity="0.8"/>
<circle cx="482.8" cy="83.6" r="1.95" fill="#8a6850" fill-opacity="0.7" stroke="#684832" stroke-width="0.75" stroke-opacity="0.8"/>
<circle cx="505.3" cy="90.0" r="1.95" fill="#8a6850" fill-opacity="0.7" stroke="#684832" stroke-width="0.75" stroke-opacity="0.8"/>
<circle cx="438.7" cy="86.5" r="1.95" fill="#8a6850" fill-opacity="0.7" stroke="#684832" stroke-width="0.75" stroke-opacity="0.8"/>
<circle cx="451.6" cy="88.2" r="1.95" fill="#8a6850" fill-opacity="0.7" stroke="#684832" stroke-width="0.75" stroke-opacity="0.8"/>
<circle cx="453.4" cy="91.7" r="1.95" fill="#8a6850" fill-opacity="0.7" stroke="#684832" stroke-width="0.75" stroke-opacity="0.8"/>
<circle cx="452.2" cy="93.4" r="1.95" fill="#8a6850" fill-opacity="0.7" stroke="#684832" stroke-width="0.75" stroke-opacity="0.8"/>
<circle cx="462.9" cy="90.8" r="1.95" fill="#8a6850" fill-opacity="0.7" stroke="#684832" stroke-width="0.75" stroke-opacity="0.8"/>
<circle cx="466.3" cy="94.3" r="1.95" fill="#8a6850" fill-opacity="0.7" stroke="#684832" stroke-width="0.75" stroke-opacity="0.8"/>
<circle cx="471.5" cy="92.9" r="1.95" fill="#8a6850" fill-opacity="0.7" stroke="#684832" stroke-width="0.75" stroke-opacity="0.8"/>
<circle cx="475.9" cy="90.0" r="1.95" fill="#8a6850" fill-opacity="0.7" stroke="#684832" stroke-width="0.75" stroke-opacity="0.8"/>
<circle cx="479.3" cy="90.0" r="1.95" fill="#8a6850" fill-opacity="0.7" stroke="#684832" stroke-width="0.75" stroke-opacity="0.8"/>
<circle cx="477.6" cy="93.4" r="1.95" fill="#8a6850" fill-opacity="0.7" stroke="#684832" stroke-width="0.75" stroke-opacity="0.8"/>
<circle cx="465.5" cy="96.9" r="1.95" fill="#8a6850" fill-opacity="0.7" stroke="#684832" stroke-width="0.75" stroke-opacity="0.8"/>
<circle cx="468.9" cy="96.0" r="1.95" fill="#8a6850" fill-opacity="0.7" stroke="#684832" stroke-width="0.75" stroke-opacity="0.8"/>
<circle cx="475.9" cy="97.4" r="1.95" fill="#8a6850" fill-opacity="0.7" stroke="#684832" stroke-width="0.75" stroke-opacity="0.8"/>
<circle cx="456.8" cy="97.4" r="1.95" fill="#8a6850" fill-opacity="0.7" stroke="#684832" stroke-width="0.75" stroke-opacity="0.8"/>
<circle cx="451.6" cy="100.4" r="1.95" fill="#8a6850" fill-opacity="0.7" stroke="#684832" stroke-width="0.75" stroke-opacity="0.8"/>
<circle cx="455.1" cy="100.9" r="1.95" fill="#8a6850" fill-opacity="0.7" stroke="#684832" stroke-width="0.75" stroke-opacity="0.8"/>
<circle cx="440.4" cy="100.4" r="1.95" fill="#8a6850" fill-opacity="0.7" stroke="#684832" stroke-width="0.75" stroke-opacity="0.8"/>
<circle cx="445.6" cy="102.1" r="1.95" fill="#8a6850" fill-opacity="0.7" stroke="#684832" stroke-width="0.75" stroke-opacity="0.8"/>
<circle cx="461.2" cy="102.6" r="1.95" fill="#8a6850" fill-opacity="0.7" stroke="#684832" stroke-width="0.75" stroke-opacity="0.8"/>
<circle cx="483.7" cy="101.6" r="1.95" fill="#8a6850" fill-opacity="0.7" stroke="#684832" stroke-width="0.75" stroke-opacity="0.8"/>
<circle cx="467.2" cy="106.8" r="1.95" fill="#8a6850" fill-opacity="0.7" stroke="#684832" stroke-width="0.75" stroke-opacity="0.8"/>
<circle cx="462.0" cy="104.7" r="1.95" fill="#8a6850" fill-opacity="0.7" stroke="#684832" stroke-width="0.75" stroke-opacity="0.8"/>
<circle cx="455.1" cy="108.5" r="1.95" fill="#8a6850" fill-opacity="0.7" stroke="#684832" stroke-width="0.75" stroke-opacity="0.8"/>
<circle cx="449.0" cy="110.2" r="1.95" fill="#8a6850" fill-opacity="0.7" stroke="#684832" stroke-width="0.75" stroke-opacity="0.8"/>
<circle cx="440.4" cy="109.0" r="1.95" fill="#8a6850" fill-opacity="0.7" stroke="#684832" stroke-width="0.75" stroke-opacity="0.8"/>
<circle cx="442.1" cy="110.7" r="1.95" fill="#8a6850" fill-opacity="0.7" stroke="#684832" stroke-width="0.75" stroke-opacity="0.8"/>
<circle cx="460.3" cy="112.0" r="1.95" fill="#8a6850" fill-opacity="0.7" stroke="#684832" stroke-width="0.75" stroke-opacity="0.8"/>
<circle cx="462.9" cy="112.5" r="1.95" fill="#8a6850" fill-opacity="0.7" stroke="#684832" stroke-width="0.75" stroke-opacity="0.8"/>
<circle cx="468.9" cy="110.7" r="1.95" fill="#8a6850" fill-opacity="0.7" stroke="#684832" stroke-width="0.75" stroke-opacity="0.8"/>
<circle cx="469.8" cy="113.3" r="1.95" fill="#8a6850" fill-opacity="0.7" stroke="#684832" stroke-width="0.75" stroke-opacity="0.8"/>
<circle cx="488.0" cy="109.9" r="1.95" fill="#8a6850" fill-opacity="0.7" stroke="#684832" stroke-width="0.75" stroke-opacity="0.8"/>
<circle cx="498.4" cy="107.6" r="1.95" fill="#8a6850" fill-opacity="0.7" stroke="#684832" stroke-width="0.75" stroke-opacity="0.8"/>
<circle cx="446.4" cy="112.5" r="1.95" fill="#8a6850" fill-opacity="0.7" stroke="#684832" stroke-width="0.75" stroke-opacity="0.8"/>
<circle cx="472.4" cy="116.8" r="1.95" fill="#8a6850" fill-opacity="0.7" stroke="#684832" stroke-width="0.75" stroke-opacity="0.8"/>
<circle cx="485.4" cy="115.1" r="1.95" fill="#8a6850" fill-opacity="0.7" stroke="#684832" stroke-width="0.75" stroke-opacity="0.8"/>
<circle cx="438.7" cy="113.3" r="1.95" fill="#8a6850" fill-opacity="0.7" stroke="#684832" stroke-width="0.75" stroke-opacity="0.8"/>
<circle cx="442.1" cy="119.5" r="1.95" fill="#82aab4" fill-opacity="0.7" stroke="#5a8a96" stroke-width="0.75" stroke-opacity="0.8"/>
<circle cx="445.6" cy="118.7" r="1.95" fill="#82aab4" fill-opacity="0.7" stroke="#5a8a96" stroke-width="0.75" stroke-opacity="0.8"/>
<circle cx="449.0" cy="120.4" r="1.95" fill="#82aab4" fill-opacity="0.7" stroke="#5a8a96" stroke-width="0.75" stroke-opacity="0.8"/>
<circle cx="450.8" cy="123.0" r="1.95" fill="#82aab4" fill-opacity="0.7" stroke="#5a8a96" stroke-width="0.75" stroke-opacity="0.8"/>
<circle cx="447.3" cy="123.8" r="1.95" fill="#82aab4" fill-opacity="0.7" stroke="#5a8a96" stroke-width="0.75" stroke-opacity="0.8"/>
<circle cx="443.8" cy="125.6" r="1.95" fill="#82aab4" fill-opacity="0.7" stroke="#5a8a96" stroke-width="0.75" stroke-opacity="0.8"/>
<circle cx="441.2" cy="127.3" r="1.95" fill="#82aab4" fill-opacity="0.7" stroke="#5a8a96" stroke-width="0.75" stroke-opacity="0.8"/>
<circle cx="449.9" cy="126.4" r="1.95" fill="#82aab4" fill-opacity="0.7" stroke="#5a8a96" stroke-width="0.75" stroke-opacity="0.8"/>
<circle cx="449.0" cy="129.9" r="1.95" fill="#82aab4" fill-opacity="0.7" stroke="#5a8a96" stroke-width="0.75" stroke-opacity="0.8"/>
<circle cx="445.6" cy="131.6" r="1.95" fill="#82aab4" fill-opacity="0.7" stroke="#5a8a96" stroke-width="0.75" stroke-opacity="0.8"/>
<circle cx="440.4" cy="131.6" r="1.95" fill="#82aab4" fill-opacity="0.7" stroke="#5a8a96" stroke-width="0.75" stroke-opacity="0.8"/>
<circle cx="443.0" cy="136.0" r="1.95" fill="#82aab4" fill-opacity="0.7" stroke="#5a8a96" stroke-width="0.75" stroke-opacity="0.8"/>
<circle cx="441.2" cy="137.7" r="1.95" fill="#82aab4" fill-opacity="0.7" stroke="#5a8a96" stroke-width="0.75" stroke-opacity="0.8"/>
<circle cx="439.5" cy="142.9" r="1.95" fill="#82aab4" fill-opacity="0.7" stroke="#5a8a96" stroke-width="0.75" stroke-opacity="0.8"/>
<circle cx="459.4" cy="123.5" r="1.95" fill="#82aab4" fill-opacity="0.7" stroke="#5a8a96" stroke-width="0.75" stroke-opacity="0.8"/>
<circle cx="465.5" cy="124.7" r="1.95" fill="#82aab4" fill-opacity="0.7" stroke="#5a8a96" stroke-width="0.75" stroke-opacity="0.8"/>
<circle cx="467.2" cy="125.6" r="1.95" fill="#82aab4" fill-opacity="0.7" stroke="#5a8a96" stroke-width="0.75" stroke-opacity="0.8"/>
<circle cx="472.4" cy="127.0" r="1.95" fill="#82aab4" fill-opacity="0.7" stroke="#5a8a96" stroke-width="0.75" stroke-opacity="0.8"/>
<circle cx="485.4" cy="120.4" r="1.95" fill="#82aab4" fill-opacity="0.7" stroke="#5a8a96" stroke-width="0.75" stroke-opacity="0.8"/>
<circle cx="490.6" cy="120.0" r="1.95" fill="#82aab4" fill-opacity="0.7" stroke="#5a8a96" stroke-width="0.75" stroke-opacity="0.8"/>
<circle cx="490.6" cy="123.8" r="1.95" fill="#82aab4" fill-opacity="0.7" stroke="#5a8a96" stroke-width="0.75" stroke-opacity="0.8"/>
<circle cx="486.2" cy="131.6" r="1.95" fill="#82aab4" fill-opacity="0.7" stroke="#5a8a96" stroke-width="0.75" stroke-opacity="0.8"/>
<circle cx="490.9" cy="133.4" r="1.95" fill="#82aab4" fill-opacity="0.7" stroke="#5a8a96" stroke-width="0.75" stroke-opacity="0.8"/>
<circle cx="460.3" cy="134.2" r="1.95" fill="#82aab4" fill-opacity="0.7" stroke="#5a8a96" stroke-width="0.75" stroke-opacity="0.8"/>
<circle cx="463.7" cy="132.5" r="1.95" fill="#82aab4" fill-opacity="0.7" stroke="#5a8a96" stroke-width="0.75" stroke-opacity="0.8"/>
<circle cx="467.2" cy="134.2" r="1.95" fill="#82aab4" fill-opacity="0.7" stroke="#5a8a96" stroke-width="0.75" stroke-opacity="0.8"/>
<circle cx="470.7" cy="135.1" r="1.95" fill="#82aab4" fill-opacity="0.7" stroke="#5a8a96" stroke-width="0.75" stroke-opacity="0.8"/>
<circle cx="466.3" cy="138.6" r="1.95" fill="#82aab4" fill-opacity="0.7" stroke="#5a8a96" stroke-width="0.75" stroke-opacity="0.8"/>
<circle cx="451.6" cy="138.6" r="1.95" fill="#82aab4" fill-opacity="0.7" stroke="#5a8a96" stroke-width="0.75" stroke-opacity="0.8"/>
<circle cx="476.4" cy="137.7" r="1.95" fill="#82aab4" fill-opacity="0.7" stroke="#5a8a96" stroke-width="0.75" stroke-opacity="0.8"/>
<circle cx="487.1" cy="137.3" r="1.95" fill="#82aab4" fill-opacity="0.7" stroke="#5a8a96" stroke-width="0.75" stroke-opacity="0.8"/>
<circle cx="500.1" cy="137.7" r="1.95" fill="#82aab4" fill-opacity="0.7" stroke="#5a8a96" stroke-width="0.75" stroke-opacity="0.8"/>
<circle cx="464.6" cy="142.0" r="1.95" fill="#82aab4" fill-opacity="0.7" stroke="#5a8a96" stroke-width="0.75" stroke-opacity="0.8"/>
<circle cx="469.8" cy="141.5" r="1.95" fill="#82aab4" fill-opacity="0.7" stroke="#5a8a96" stroke-width="0.75" stroke-opacity="0.8"/>
<circle cx="480.7" cy="141.2" r="1.95" fill="#82aab4" fill-opacity="0.7" stroke="#5a8a96" stroke-width="0.75" stroke-opacity="0.8"/>
<circle cx="462.0" cy="145.5" r="1.95" fill="#82aab4" fill-opacity="0.7" stroke="#5a8a96" stroke-width="0.75" stroke-opacity="0.8"/>
<circle cx="472.4" cy="146.3" r="1.95" fill="#82aab4" fill-opacity="0.7" stroke="#5a8a96" stroke-width="0.75" stroke-opacity="0.8"/>
<circle cx="475.0" cy="146.3" r="1.95" fill="#82aab4" fill-opacity="0.7" stroke="#5a8a96" stroke-width="0.75" stroke-opacity="0.8"/>
<circle cx="447.3" cy="146.3" r="1.95" fill="#82aab4" fill-opacity="0.7" stroke="#5a8a96" stroke-width="0.75" stroke-opacity="0.8"/>
<circle cx="449.0" cy="147.2" r="1.95" fill="#82aab4" fill-opacity="0.7" stroke="#5a8a96" stroke-width="0.75" stroke-opacity="0.8"/>
<circle cx="497.5" cy="146.3" r="1.95" fill="#82aab4" fill-opacity="0.7" stroke="#5a8a96" stroke-width="0.75" stroke-opacity="0.8"/>
<circle cx="469.8" cy="148.9" r="1.95" fill="#82aab4" fill-opacity="0.7" stroke="#5a8a96" stroke-width="0.75" stroke-opacity="0.8"/>
<circle cx="461.2" cy="148.1" r="1.95" fill="#82aab4" fill-opacity="0.7" stroke="#5a8a96" stroke-width="0.75" stroke-opacity="0.8"/>
<circle cx="456.0" cy="150.7" r="1.95" fill="#82aab4" fill-opacity="0.7" stroke="#5a8a96" stroke-width="0.75" stroke-opacity="0.8"/>
<circle cx="457.7" cy="151.5" r="1.95" fill="#82aab4" fill-opacity="0.7" stroke="#5a8a96" stroke-width="0.75" stroke-opacity="0.8"/>
<circle cx="480.2" cy="149.8" r="1.95" fill="#82aab4" fill-opacity="0.7" stroke="#5a8a96" stroke-width="0.75" stroke-opacity="0.8"/>
<circle cx="443.0" cy="152.4" r="1.95" fill="#82aab4" fill-opacity="0.7" stroke="#5a8a96" stroke-width="0.75" stroke-opacity="0.8"/>
<circle cx="464.6" cy="154.1" r="1.95" fill="#82aab4" fill-opacity="0.7" stroke="#5a8a96" stroke-width="0.75" stroke-opacity="0.8"/>
<circle cx="471.5" cy="154.7" r="1.95" fill="#82aab4" fill-opacity="0.7" stroke="#5a8a96" stroke-width="0.75" stroke-opacity="0.8"/>
<circle cx="452.5" cy="155.9" r="1.95" fill="#82aab4" fill-opacity="0.7" stroke="#5a8a96" stroke-width="0.75" stroke-opacity="0.8"/>
<circle cx="441.2" cy="157.6" r="1.95" fill="#82aab4" fill-opacity="0.7" stroke="#5a8a96" stroke-width="0.75" stroke-opacity="0.8"/>
<circle cx="475.9" cy="157.1" r="1.95" fill="#82aab4" fill-opacity="0.7" stroke="#5a8a96" stroke-width="0.75" stroke-opacity="0.8"/>
<circle cx="500.1" cy="155.5" r="1.95" fill="#82aab4" fill-opacity="0.7" stroke="#5a8a96" stroke-width="0.75" stroke-opacity="0.8"/>
<circle cx="459.8" cy="160.2" r="1.95" fill="#82aab4" fill-opacity="0.7" stroke="#5a8a96" stroke-width="0.75" stroke-opacity="0.8"/>
<circle cx="481.9" cy="161.1" r="1.95" fill="#82aab4" fill-opacity="0.7" stroke="#5a8a96" stroke-width="0.75" stroke-opacity="0.8"/>
<circle cx="447.3" cy="165.7" r="1.95" fill="#82aab4" fill-opacity="0.7" stroke="#5a8a96" stroke-width="0.75" stroke-opacity="0.8"/>
<circle cx="512.2" cy="168.8" r="1.95" fill="#82aab4" fill-opacity="0.7" stroke="#5a8a96" stroke-width="0.75" stroke-opacity="0.8"/>
<circle cx="472.9" cy="175.1" r="1.95" fill="#82aab4" fill-opacity="0.7" stroke="#5a8a96" stroke-width="0.75" stroke-opacity="0.8"/>
<line x1="348.70" y1="118.30" x2="519.40" y2="118.30" stroke="#111" stroke-width="1.1" stroke-dasharray="2.8,2"/>
<line x1="437.10" y1="31.70" x2="437.10" y2="188.70" stroke="#111" stroke-width="1.1" stroke-dasharray="2.8,2"/>
<rect x="348.7" y="31.7" width="170.70" height="157.00" fill="none" stroke="#3a3a3a" stroke-width="0.9"/>
<line x1="346.20" y1="39.10" x2="348.70" y2="39.10" stroke="#444" stroke-width="0.6" />
<text x="345.20" y="41.70" font-size="7.3" text-anchor="end" fill="#3a3a3a" stroke="#3a3a3a" stroke-width="0.24" >2</text>
<line x1="346.20" y1="78.70" x2="348.70" y2="78.70" stroke="#444" stroke-width="0.6" />
<text x="345.20" y="81.30" font-size="7.3" text-anchor="end" fill="#3a3a3a" stroke="#3a3a3a" stroke-width="0.24" >1</text>
<line x1="346.20" y1="118.30" x2="348.70" y2="118.30" stroke="#444" stroke-width="0.6" />
<text x="345.20" y="120.90" font-size="7.3" text-anchor="end" fill="#3a3a3a" stroke="#3a3a3a" stroke-width="0.24" >0</text>
<line x1="346.20" y1="157.90" x2="348.70" y2="157.90" stroke="#444" stroke-width="0.6" />
<text x="345.20" y="160.50" font-size="7.3" text-anchor="end" fill="#3a3a3a" stroke="#3a3a3a" stroke-width="0.24" >−1</text>
<line x1="390.60" y1="188.70" x2="390.60" y2="191.20" stroke="#444" stroke-width="0.6" />
<text x="390.60" y="198.20" font-size="7.3" text-anchor="middle" fill="#3a3a3a" stroke="#3a3a3a" stroke-width="0.24" >−1</text>
<line x1="437.10" y1="188.70" x2="437.10" y2="191.20" stroke="#444" stroke-width="0.6" />
<text x="437.10" y="198.20" font-size="7.3" text-anchor="middle" fill="#3a3a3a" stroke="#3a3a3a" stroke-width="0.24" >0</text>
<line x1="483.60" y1="188.70" x2="483.60" y2="191.20" stroke="#444" stroke-width="0.6" />
<text x="483.60" y="198.20" font-size="7.3" text-anchor="middle" fill="#3a3a3a" stroke="#3a3a3a" stroke-width="0.24" >1</text>
<text x="436.00" y="208.60" font-size="7.3" text-anchor="middle" fill="#1c1c1c" stroke="#1c1c1c" stroke-width="0.24" >Median glycolytic gene expression (<tspan font-style="italic">Z</tspan>-score)</text>
<text x="0" y="0" font-size="7.3" text-anchor="middle" fill="#1c1c1c" stroke="#1c1c1c" stroke-width="0.24" transform="translate(322.2,111.7) rotate(-90)">Median cholesterogenic</text>
<text x="0" y="0" font-size="7.3" text-anchor="middle" fill="#1c1c1c" stroke="#1c1c1c" stroke-width="0.24" transform="translate(331.8,111.7) rotate(-90)">gene expression (<tspan font-style="italic">Z</tspan>-score)</text>
</g>
<g id="C">
<text x="0.70" y="239.10" font-size="15.4" text-anchor="start" fill="#000" font-weight="bold" stroke="none">C</text>
<text x="37.20" y="239.00" font-size="7.3" text-anchor="start" fill="#1c1c1c" stroke="#1c1c1c" stroke-width="0.24" >Gene type</text>
<rect x="75.80" y="233.20" width="6.50" height="6.50" fill="#161616" />
<text x="84.30" y="239.00" font-size="7.3" text-anchor="start" fill="#1c1c1c" stroke="#1c1c1c" stroke-width="0.24" >Glycolytic</text>
<rect x="120.20" y="233.20" width="7.20" height="6.50" fill="#b3def1" stroke="#8cbcd4" stroke-width="0.4"/>
<text x="129.40" y="239.00" font-size="7.3" text-anchor="start" fill="#1c1c1c" stroke="#1c1c1c" stroke-width="0.24" >Cholesterogenic</text>
<text x="208.50" y="240.00" font-size="7.3" text-anchor="start" fill="#1c1c1c" stroke="#1c1c1c" stroke-width="0.24" >Gene expression (<tspan font-style="italic">Z</tspan>-score)</text>
<defs><linearGradient id="gdiv" x1="0" x2="1" y1="0" y2="0"><stop offset="0" stop-color="#26408e"/><stop offset="0.12" stop-color="#5b6db3"/><stop offset="0.3" stop-color="#a9b2da"/><stop offset="0.46" stop-color="#e6e6ec"/><stop offset="0.56" stop-color="#ece0e4"/><stop offset="0.75" stop-color="#d795a8"/><stop offset="0.9" stop-color="#b8456a"/><stop offset="1" stop-color="#9c0f3e"/></linearGradient></defs>
<text x="325.75" y="245.30" font-size="7.3" text-anchor="middle" fill="#1c1c1c" stroke="#1c1c1c" stroke-width="0.24" >−2</text>
<text x="351.75" y="245.30" font-size="7.3" text-anchor="middle" fill="#1c1c1c" stroke="#1c1c1c" stroke-width="0.24" >0</text>
<text x="375.00" y="245.30" font-size="7.3" text-anchor="middle" fill="#1c1c1c" stroke="#1c1c1c" stroke-width="0.24" >2</text>
<text x="397.00" y="245.30" font-size="7.3" text-anchor="middle" fill="#1c1c1c" stroke="#1c1c1c" stroke-width="0.24" >4</text>
<rect x="35.8" y="248.4" width="140.90" height="7.8" fill="#e5b03e" stroke="#b68a28" stroke-width="0.6"/>
<text x="106.25" y="254.90" font-size="7.3" text-anchor="middle" fill="#2a2a2a" stroke="#2a2a2a" stroke-width="0.24" >Quiescent</text>
<rect x="178.8" y="248.4" width="101.00" height="7.8" fill="#5ea6b1" stroke="#3f8591" stroke-width="0.6"/>
<text x="229.30" y="254.90" font-size="7.3" text-anchor="middle" fill="#1e2e30" stroke="#1e2e30" stroke-width="0.24" >Glycolytic</text>
<rect x="282.5" y="248.4" width="101.10" height="7.8" fill="#9cbc5c" stroke="#7a9a3e" stroke-width="0.6"/>
<text x="333.05" y="254.90" font-size="7.3" text-anchor="middle" fill="#1e2a10" stroke="#1e2a10" stroke-width="0.24" >Cholesterogenic</text>
<rect x="385.9" y="248.4" width="111.00" height="7.8" fill="#8e5630" stroke="#6e3e1c" stroke-width="0.6"/>
<text x="441.40" y="254.90" font-size="7.3" text-anchor="middle" fill="#f4ece4" stroke="#f4ece4" stroke-width="0.24" >Mixed</text>
<rect x="300.50" y="234.00" width="8.12" height="5.20" fill="#2d4a9a" />
<rect x="308.32" y="234.00" width="8.12" height="5.20" fill="#5a70b5" />
<rect x="316.14" y="234.00" width="8.12" height="5.20" fill="#7d8fc8" />
<rect x="323.96" y="234.00" width="8.12" height="5.20" fill="#9eaad6" />
<rect x="331.79" y="234.00" width="8.12" height="5.20" fill="#c0c6e3" />
<rect x="339.61" y="234.00" width="8.12" height="5.20" fill="#dcdde9" />
<rect x="347.43" y="234.00" width="8.12" height="5.20" fill="#ebebee" />
<rect x="355.25" y="234.00" width="8.12" height="5.20" fill="#ecdfe3" />
<rect x="363.07" y="234.00" width="8.12" height="5.20" fill="#e8c8d2" />
<rect x="370.89" y="234.00" width="8.12" height="5.20" fill="#dda5b5" />
<rect x="378.71" y="234.00" width="8.12" height="5.20" fill="#d08098" />
<rect x="386.54" y="234.00" width="8.12" height="5.20" fill="#c05878" />
<rect x="394.36" y="234.00" width="8.12" height="5.20" fill="#b03058" />
<rect x="402.18" y="234.00" width="7.82" height="5.20" fill="#9b1040" />
<rect x="35.80" y="257.30" width="461.10" height="184.40" fill="#e6e5eb" />
<g transform="translate(35.80,257.30) scale(1.7395,6.3071)">
<path fill="#989ec6" d="M0 0h1v1h-1zM57 0h1v1h-1zM0 1h1v1h-1zM39 2h1v1h-1zM4 3h1v1h-1zM1 4h1v1h-1zM4 4h1v1h-1zM5 4h1v1h-1zM2 5h1v1h-1zM5 5h1v1h-1zM12 5h1v1h-1zM4 6h1v1h-1zM5 6h1v1h-1zM2 8h1v1h-1zM5 10h1v1h-1zM39 12h1v1h-1zM35 13h1v1h-1z"/>
<path fill="#cccddf" d="M4 0h1v1h-1zM10 0h1v1h-1zM18 0h1v1h-1zM24 0h1v1h-1zM27 0h1v1h-1zM35 0h1v1h-1zM38 0h1v1h-1zM42 0h1v1h-1zM47 0h1v1h-1zM53 0h1v1h-1zM74 0h1v1h-1zM3 1h1v1h-1zM4 1h1v1h-1zM9 1h1v1h-1zM17 1h1v1h-1zM26 1h1v1h-1zM36 1h1v1h-1zM39 1h1v1h-1zM47 1h1v1h-1zM60 1h1v1h-1zM62 1h1v1h-1zM71 1h1v1h-1zM0 2h1v1h-1zM9 2h1v1h-1zM11 2h1v1h-1zM13 2h1v1h-1zM15 2h1v1h-1zM22 2h1v1h-1zM42 2h1v1h-1zM47 2h1v1h-1zM51 2h1v1h-1zM70 2h1v1h-1zM79 2h1v1h-1zM23 3h1v1h-1zM28 3h1v1h-1zM38 3h1v1h-1zM42 3h1v1h-1zM43 3h1v1h-1zM47 3h1v1h-1zM57 3h1v1h-1zM59 3h1v1h-1zM68 3h1v1h-1zM79 3h1v1h-1zM10 4h1v1h-1zM12 4h1v1h-1zM17 4h1v1h-1zM34 4h1v1h-1zM48 4h1v1h-1zM50 4h1v1h-1zM70 4h1v1h-1zM71 4h1v1h-1zM78 4h1v1h-1zM10 5h1v1h-1zM35 5h1v1h-1zM50 5h1v1h-1zM57 5h1v1h-1zM62 5h1v1h-1zM70 5h1v1h-1zM73 5h1v1h-1zM75 5h1v1h-1zM10 6h1v1h-1zM22 6h1v1h-1zM48 6h1v1h-1zM62 6h1v1h-1zM73 6h1v1h-1zM75 6h1v1h-1zM24 7h1v1h-1zM30 7h1v1h-1zM74 7h1v1h-1zM9 8h1v1h-1zM10 8h1v1h-1zM18 8h1v1h-1zM19 8h1v1h-1zM22 8h1v1h-1zM39 8h1v1h-1zM40 8h1v1h-1zM47 8h1v1h-1zM48 8h1v1h-1zM51 8h1v1h-1zM60 8h1v1h-1zM62 8h1v1h-1zM71 8h1v1h-1zM75 8h1v1h-1zM80 8h1v1h-1zM2 9h1v1h-1zM27 9h1v1h-1zM71 9h1v1h-1zM79 9h1v1h-1zM0 10h1v1h-1zM6 10h1v1h-1zM8 10h1v1h-1zM10 10h1v1h-1zM11 10h1v1h-1zM24 10h1v1h-1zM34 10h1v1h-1zM40 10h1v1h-1zM44 10h1v1h-1zM62 10h1v1h-1zM3 11h1v1h-1zM6 11h1v1h-1zM8 11h1v1h-1zM11 11h1v1h-1zM22 11h1v1h-1zM27 11h1v1h-1zM29 11h1v1h-1zM33 11h1v1h-1zM35 11h1v1h-1zM37 11h1v1h-1zM50 11h1v1h-1zM70 11h1v1h-1zM77 11h1v1h-1zM31 12h1v1h-1zM35 12h1v1h-1zM40 12h1v1h-1zM48 12h1v1h-1zM50 12h1v1h-1zM60 12h1v1h-1zM70 12h1v1h-1zM6 13h1v1h-1zM9 13h1v1h-1zM12 13h1v1h-1zM26 13h1v1h-1zM27 13h1v1h-1zM38 13h1v1h-1zM42 13h1v1h-1zM53 13h1v1h-1zM54 13h1v1h-1zM57 13h1v1h-1zM62 13h1v1h-1zM69 13h1v1h-1zM70 13h1v1h-1zM71 13h1v1h-1zM77 13h1v1h-1zM79 13h1v1h-1z"/>
<path fill="#a5aacc" d="M1 0h1v1h-1zM6 0h1v1h-1zM11 0h1v1h-1zM73 1h1v1h-1zM2 2h1v1h-1zM0 3h1v1h-1zM10 3h1v1h-1zM80 3h1v1h-1zM0 4h1v1h-1zM2 4h1v1h-1zM8 4h1v1h-1zM0 5h1v1h-1zM6 5h1v1h-1zM48 5h1v1h-1zM68 5h1v1h-1zM17 6h1v1h-1zM47 6h1v1h-1zM2 7h1v1h-1zM8 7h1v1h-1zM11 7h1v1h-1zM12 7h1v1h-1zM1 8h1v1h-1zM3 8h1v1h-1zM33 8h1v1h-1zM0 9h1v1h-1zM6 12h1v1h-1zM57 12h1v1h-1z"/>
<path fill="#b2b6d2" d="M2 0h1v1h-1zM2 1h1v1h-1zM5 1h1v1h-1zM6 1h1v1h-1zM8 1h1v1h-1zM11 1h1v1h-1zM57 1h1v1h-1zM3 2h1v1h-1zM8 2h1v1h-1zM12 2h1v1h-1zM35 2h1v1h-1zM57 2h1v1h-1zM2 3h1v1h-1zM8 3h1v1h-1zM11 3h1v1h-1zM12 3h1v1h-1zM51 3h1v1h-1zM3 4h1v1h-1zM6 4h1v1h-1zM11 4h1v1h-1zM57 4h1v1h-1zM3 5h1v1h-1zM4 5h1v1h-1zM11 5h1v1h-1zM0 6h1v1h-1zM6 6h1v1h-1zM9 6h1v1h-1zM11 6h1v1h-1zM0 7h1v1h-1zM4 7h1v1h-1zM9 7h1v1h-1zM47 7h1v1h-1zM5 8h1v1h-1zM6 8h1v1h-1zM12 8h1v1h-1zM38 8h1v1h-1zM50 8h1v1h-1zM1 9h1v1h-1zM6 9h1v1h-1zM11 9h1v1h-1zM52 9h1v1h-1zM57 9h1v1h-1zM70 9h1v1h-1zM1 10h1v1h-1zM12 10h1v1h-1zM38 10h1v1h-1zM0 11h1v1h-1zM1 11h1v1h-1zM57 11h1v1h-1zM0 12h1v1h-1zM1 12h1v1h-1zM3 12h1v1h-1zM11 12h1v1h-1zM5 13h1v1h-1zM8 13h1v1h-1z"/>
<path fill="#8a92c0" d="M4 2h1v1h-1zM80 2h1v1h-1zM5 7h1v1h-1zM0 8h1v1h-1zM5 11h1v1h-1zM5 12h1v1h-1z"/>
<path fill="#d9d9e5" d="M14 0h1v1h-1zM17 0h1v1h-1zM19 0h1v1h-1zM21 0h1v1h-1zM26 0h1v1h-1zM30 0h1v1h-1zM37 0h1v1h-1zM39 0h1v1h-1zM40 0h1v1h-1zM48 0h1v1h-1zM50 0h1v1h-1zM52 0h1v1h-1zM63 0h1v1h-1zM64 0h1v1h-1zM70 0h1v1h-1zM71 0h1v1h-1zM79 0h1v1h-1zM80 0h1v1h-1zM7 1h1v1h-1zM14 1h1v1h-1zM18 1h1v1h-1zM19 1h1v1h-1zM27 1h1v1h-1zM30 1h1v1h-1zM35 1h1v1h-1zM37 1h1v1h-1zM42 1h1v1h-1zM43 1h1v1h-1zM65 1h1v1h-1zM70 1h1v1h-1zM72 1h1v1h-1zM75 1h1v1h-1zM77 1h1v1h-1zM14 2h1v1h-1zM16 2h1v1h-1zM17 2h1v1h-1zM31 2h1v1h-1zM33 2h1v1h-1zM50 2h1v1h-1zM54 2h1v1h-1zM62 2h1v1h-1zM63 2h1v1h-1zM68 2h1v1h-1zM69 2h1v1h-1zM73 2h1v1h-1zM9 3h1v1h-1zM14 3h1v1h-1zM16 3h1v1h-1zM17 3h1v1h-1zM24 3h1v1h-1zM25 3h1v1h-1zM35 3h1v1h-1zM39 3h1v1h-1zM40 3h1v1h-1zM48 3h1v1h-1zM50 3h1v1h-1zM53 3h1v1h-1zM55 3h1v1h-1zM60 3h1v1h-1zM65 3h1v1h-1zM69 3h1v1h-1zM70 3h1v1h-1zM74 3h1v1h-1zM77 3h1v1h-1zM78 3h1v1h-1zM16 4h1v1h-1zM22 4h1v1h-1zM26 4h1v1h-1zM27 4h1v1h-1zM28 4h1v1h-1zM31 4h1v1h-1zM37 4h1v1h-1zM38 4h1v1h-1zM39 4h1v1h-1zM40 4h1v1h-1zM42 4h1v1h-1zM54 4h1v1h-1zM55 4h1v1h-1zM58 4h1v1h-1zM60 4h1v1h-1zM62 4h1v1h-1zM64 4h1v1h-1zM68 4h1v1h-1zM69 4h1v1h-1zM74 4h1v1h-1zM75 4h1v1h-1zM9 5h1v1h-1zM13 5h1v1h-1zM14 5h1v1h-1zM15 5h1v1h-1zM22 5h1v1h-1zM23 5h1v1h-1zM26 5h1v1h-1zM27 5h1v1h-1zM34 5h1v1h-1zM47 5h1v1h-1zM52 5h1v1h-1zM54 5h1v1h-1zM60 5h1v1h-1zM74 5h1v1h-1zM79 5h1v1h-1zM23 6h1v1h-1zM26 6h1v1h-1zM29 6h1v1h-1zM34 6h1v1h-1zM35 6h1v1h-1zM36 6h1v1h-1zM37 6h1v1h-1zM39 6h1v1h-1zM40 6h1v1h-1zM43 6h1v1h-1zM51 6h1v1h-1zM52 6h1v1h-1zM53 6h1v1h-1zM55 6h1v1h-1zM59 6h1v1h-1zM64 6h1v1h-1zM68 6h1v1h-1zM69 6h1v1h-1zM71 6h1v1h-1zM76 6h1v1h-1zM7 7h1v1h-1zM10 7h1v1h-1zM15 7h1v1h-1zM17 7h1v1h-1zM18 7h1v1h-1zM21 7h1v1h-1zM25 7h1v1h-1zM26 7h1v1h-1zM27 7h1v1h-1zM44 7h1v1h-1zM48 7h1v1h-1zM50 7h1v1h-1zM51 7h1v1h-1zM54 7h1v1h-1zM60 7h1v1h-1zM62 7h1v1h-1zM63 7h1v1h-1zM71 7h1v1h-1zM73 7h1v1h-1zM7 8h1v1h-1zM13 8h1v1h-1zM16 8h1v1h-1zM17 8h1v1h-1zM23 8h1v1h-1zM24 8h1v1h-1zM26 8h1v1h-1zM27 8h1v1h-1zM29 8h1v1h-1zM52 8h1v1h-1zM54 8h1v1h-1zM57 8h1v1h-1zM59 8h1v1h-1zM64 8h1v1h-1zM65 8h1v1h-1zM73 8h1v1h-1zM77 8h1v1h-1zM78 8h1v1h-1zM79 8h1v1h-1zM3 9h1v1h-1zM4 9h1v1h-1zM8 9h1v1h-1zM17 9h1v1h-1zM18 9h1v1h-1zM21 9h1v1h-1zM22 9h1v1h-1zM23 9h1v1h-1zM24 9h1v1h-1zM25 9h1v1h-1zM30 9h1v1h-1zM34 9h1v1h-1zM40 9h1v1h-1zM42 9h1v1h-1zM51 9h1v1h-1zM53 9h1v1h-1zM55 9h1v1h-1zM64 9h1v1h-1zM75 9h1v1h-1zM77 9h1v1h-1zM78 9h1v1h-1zM2 10h1v1h-1zM3 10h1v1h-1zM7 10h1v1h-1zM13 10h1v1h-1zM37 10h1v1h-1zM47 10h1v1h-1zM50 10h1v1h-1zM52 10h1v1h-1zM63 10h1v1h-1zM64 10h1v1h-1zM65 10h1v1h-1zM69 10h1v1h-1zM72 10h1v1h-1zM74 10h1v1h-1zM80 10h1v1h-1zM4 11h1v1h-1zM10 11h1v1h-1zM12 11h1v1h-1zM18 11h1v1h-1zM24 11h1v1h-1zM25 11h1v1h-1zM28 11h1v1h-1zM38 11h1v1h-1zM42 11h1v1h-1zM47 11h1v1h-1zM48 11h1v1h-1zM52 11h1v1h-1zM59 11h1v1h-1zM62 11h1v1h-1zM64 11h1v1h-1zM69 11h1v1h-1zM71 11h1v1h-1zM74 11h1v1h-1zM76 11h1v1h-1zM4 12h1v1h-1zM10 12h1v1h-1zM23 12h1v1h-1zM24 12h1v1h-1zM42 12h1v1h-1zM43 12h1v1h-1zM47 12h1v1h-1zM54 12h1v1h-1zM61 12h1v1h-1zM64 12h1v1h-1zM66 12h1v1h-1zM67 12h1v1h-1zM68 12h1v1h-1zM73 12h1v1h-1zM79 12h1v1h-1zM0 13h1v1h-1zM4 13h1v1h-1zM10 13h1v1h-1zM11 13h1v1h-1zM15 13h1v1h-1zM17 13h1v1h-1zM19 13h1v1h-1zM22 13h1v1h-1zM23 13h1v1h-1zM29 13h1v1h-1zM33 13h1v1h-1zM34 13h1v1h-1zM47 13h1v1h-1zM48 13h1v1h-1zM50 13h1v1h-1zM51 13h1v1h-1zM65 13h1v1h-1zM80 13h1v1h-1z"/>
<path fill="#7d86ba" d="M1 1h1v1h-1zM1 2h1v1h-1zM29 2h1v1h-1zM35 9h1v1h-1zM2 11h1v1h-1z"/>
<path fill="#707ab4" d="M5 0h1v1h-1zM1 3h1v1h-1zM5 3h1v1h-1zM5 9h1v1h-1z"/>
<path fill="#636eae" d="M5 2h1v1h-1zM1 5h1v1h-1z"/>
<path fill="#5663a7" d="M1 6h1v1h-1zM1 7h1v1h-1z"/>
<path fill="#bfc1d9" d="M3 0h1v1h-1zM8 0h1v1h-1zM9 0h1v1h-1zM12 0h1v1h-1zM23 0h1v1h-1zM62 0h1v1h-1zM12 1h1v1h-1zM23 1h1v1h-1zM24 1h1v1h-1zM44 1h1v1h-1zM48 1h1v1h-1zM6 2h1v1h-1zM38 2h1v1h-1zM40 2h1v1h-1zM48 2h1v1h-1zM71 2h1v1h-1zM3 3h1v1h-1zM6 3h1v1h-1zM33 3h1v1h-1zM9 4h1v1h-1zM47 4h1v1h-1zM8 5h1v1h-1zM17 5h1v1h-1zM29 5h1v1h-1zM38 5h1v1h-1zM51 5h1v1h-1zM55 5h1v1h-1zM78 5h1v1h-1zM2 6h1v1h-1zM3 6h1v1h-1zM8 6h1v1h-1zM12 6h1v1h-1zM16 6h1v1h-1zM18 6h1v1h-1zM38 6h1v1h-1zM57 6h1v1h-1zM70 6h1v1h-1zM3 7h1v1h-1zM6 7h1v1h-1zM14 7h1v1h-1zM37 7h1v1h-1zM38 7h1v1h-1zM40 7h1v1h-1zM57 7h1v1h-1zM64 7h1v1h-1zM70 7h1v1h-1zM4 8h1v1h-1zM8 8h1v1h-1zM11 8h1v1h-1zM35 8h1v1h-1zM63 8h1v1h-1zM70 8h1v1h-1zM9 9h1v1h-1zM10 9h1v1h-1zM12 9h1v1h-1zM38 9h1v1h-1zM39 9h1v1h-1zM47 9h1v1h-1zM48 9h1v1h-1zM50 9h1v1h-1zM59 9h1v1h-1zM62 9h1v1h-1zM80 9h1v1h-1zM4 10h1v1h-1zM17 10h1v1h-1zM48 10h1v1h-1zM57 10h1v1h-1zM71 10h1v1h-1zM73 10h1v1h-1zM2 12h1v1h-1zM8 12h1v1h-1zM12 12h1v1h-1zM29 12h1v1h-1zM38 12h1v1h-1zM62 12h1v1h-1zM1 13h1v1h-1zM2 13h1v1h-1zM3 13h1v1h-1z"/>
<path fill="#e1d6df" d="M20 0h1v1h-1zM25 0h1v1h-1zM46 0h1v1h-1zM59 0h1v1h-1zM61 0h1v1h-1zM66 0h1v1h-1zM72 0h1v1h-1zM78 0h1v1h-1zM13 1h1v1h-1zM22 1h1v1h-1zM32 1h1v1h-1zM41 1h1v1h-1zM45 1h1v1h-1zM58 1h1v1h-1zM61 1h1v1h-1zM63 1h1v1h-1zM67 1h1v1h-1zM76 1h1v1h-1zM32 2h1v1h-1zM36 2h1v1h-1zM37 2h1v1h-1zM44 2h1v1h-1zM45 2h1v1h-1zM46 2h1v1h-1zM49 2h1v1h-1zM52 2h1v1h-1zM55 2h1v1h-1zM58 2h1v1h-1zM67 2h1v1h-1zM74 2h1v1h-1zM77 2h1v1h-1zM22 3h1v1h-1zM32 3h1v1h-1zM36 3h1v1h-1zM44 3h1v1h-1zM46 3h1v1h-1zM61 3h1v1h-1zM66 3h1v1h-1zM75 3h1v1h-1zM13 4h1v1h-1zM36 4h1v1h-1zM51 4h1v1h-1zM67 4h1v1h-1zM72 4h1v1h-1zM79 4h1v1h-1zM24 5h1v1h-1zM36 5h1v1h-1zM44 5h1v1h-1zM46 5h1v1h-1zM69 5h1v1h-1zM77 5h1v1h-1zM15 6h1v1h-1zM20 6h1v1h-1zM21 6h1v1h-1zM28 6h1v1h-1zM31 6h1v1h-1zM44 6h1v1h-1zM45 6h1v1h-1zM56 6h1v1h-1zM67 6h1v1h-1zM32 7h1v1h-1zM33 7h1v1h-1zM34 7h1v1h-1zM41 7h1v1h-1zM43 7h1v1h-1zM59 7h1v1h-1zM61 7h1v1h-1zM77 7h1v1h-1zM15 8h1v1h-1zM21 8h1v1h-1zM41 8h1v1h-1zM42 8h1v1h-1zM43 8h1v1h-1zM56 8h1v1h-1zM58 8h1v1h-1zM66 8h1v1h-1zM13 9h1v1h-1zM19 9h1v1h-1zM20 9h1v1h-1zM29 9h1v1h-1zM41 9h1v1h-1zM43 9h1v1h-1zM45 9h1v1h-1zM49 9h1v1h-1zM60 9h1v1h-1zM61 9h1v1h-1zM76 9h1v1h-1zM14 10h1v1h-1zM18 10h1v1h-1zM20 10h1v1h-1zM29 10h1v1h-1zM32 10h1v1h-1zM35 10h1v1h-1zM56 10h1v1h-1zM59 10h1v1h-1zM76 10h1v1h-1zM7 11h1v1h-1zM17 11h1v1h-1zM32 11h1v1h-1zM36 11h1v1h-1zM40 11h1v1h-1zM46 11h1v1h-1zM66 11h1v1h-1zM67 11h1v1h-1zM68 11h1v1h-1zM72 11h1v1h-1zM7 12h1v1h-1zM13 12h1v1h-1zM16 12h1v1h-1zM21 12h1v1h-1zM22 12h1v1h-1zM25 12h1v1h-1zM30 12h1v1h-1zM34 12h1v1h-1zM41 12h1v1h-1zM44 12h1v1h-1zM53 12h1v1h-1zM55 12h1v1h-1zM58 12h1v1h-1zM72 12h1v1h-1zM13 13h1v1h-1zM14 13h1v1h-1zM16 13h1v1h-1zM25 13h1v1h-1zM30 13h1v1h-1zM43 13h1v1h-1zM44 13h1v1h-1zM49 13h1v1h-1zM56 13h1v1h-1zM61 13h1v1h-1zM66 13h1v1h-1zM72 13h1v1h-1zM75 13h1v1h-1zM78 13h1v1h-1z"/>
<path fill="#d8b9c6" d="M32 0h1v1h-1zM41 0h1v1h-1zM54 0h1v1h-1zM58 0h1v1h-1zM15 1h1v1h-1zM72 2h1v1h-1zM25 4h1v1h-1zM61 5h1v1h-1zM66 5h1v1h-1zM61 6h1v1h-1zM72 6h1v1h-1zM32 8h1v1h-1zM49 8h1v1h-1zM66 9h1v1h-1zM58 11h1v1h-1zM20 12h1v1h-1zM80 12h1v1h-1zM7 13h1v1h-1z"/>
<path fill="#dcc8d2" d="M36 0h1v1h-1zM49 0h1v1h-1zM20 1h1v1h-1zM25 1h1v1h-1zM20 2h1v1h-1zM59 2h1v1h-1zM66 2h1v1h-1zM30 3h1v1h-1zM37 3h1v1h-1zM45 3h1v1h-1zM72 3h1v1h-1zM19 4h1v1h-1zM32 4h1v1h-1zM32 5h1v1h-1zM33 5h1v1h-1zM41 5h1v1h-1zM49 5h1v1h-1zM64 5h1v1h-1zM14 6h1v1h-1zM32 6h1v1h-1zM49 6h1v1h-1zM58 6h1v1h-1zM66 6h1v1h-1zM45 7h1v1h-1zM49 7h1v1h-1zM72 7h1v1h-1zM20 8h1v1h-1zM25 8h1v1h-1zM61 8h1v1h-1zM32 9h1v1h-1zM36 9h1v1h-1zM72 9h1v1h-1zM26 10h1v1h-1zM36 10h1v1h-1zM41 10h1v1h-1zM49 10h1v1h-1zM58 10h1v1h-1zM61 10h1v1h-1zM66 10h1v1h-1zM20 11h1v1h-1zM49 11h1v1h-1zM15 12h1v1h-1zM32 12h1v1h-1zM46 12h1v1h-1zM75 12h1v1h-1zM32 13h1v1h-1zM58 13h1v1h-1z"/>
<path fill="#c98da1" d="M27 2h1v1h-1z"/>
<path fill="#c06f89" d="M36 7h1v1h-1z"/>
<path fill="#d3aaba" d="M49 4h1v1h-1zM77 10h1v1h-1zM49 12h1v1h-1z"/>
<path fill="#ce9bae" d="M72 5h1v1h-1zM74 8h1v1h-1z"/>
</g>
<g transform="translate(35.80,346.90) scale(1.7395,6.3200)">
<path fill="#cccddf" d="M0 0h1v1h-1zM1 0h1v1h-1zM6 0h1v1h-1zM11 0h1v1h-1zM15 0h1v1h-1zM35 0h1v1h-1zM55 0h1v1h-1zM57 0h1v1h-1zM69 0h1v1h-1zM75 0h1v1h-1zM80 0h1v1h-1zM0 1h1v1h-1zM8 1h1v1h-1zM25 1h1v1h-1zM35 1h1v1h-1zM47 1h1v1h-1zM60 1h1v1h-1zM80 1h1v1h-1zM12 2h1v1h-1zM28 2h1v1h-1zM29 2h1v1h-1zM35 2h1v1h-1zM36 2h1v1h-1zM40 2h1v1h-1zM43 2h1v1h-1zM47 2h1v1h-1zM64 2h1v1h-1zM6 3h1v1h-1zM8 3h1v1h-1zM20 3h1v1h-1zM28 3h1v1h-1zM36 3h1v1h-1zM62 3h1v1h-1zM64 3h1v1h-1zM0 4h1v1h-1zM4 4h1v1h-1zM24 4h1v1h-1zM43 4h1v1h-1zM58 4h1v1h-1zM62 4h1v1h-1zM1 5h1v1h-1zM11 5h1v1h-1zM12 5h1v1h-1zM17 5h1v1h-1zM25 5h1v1h-1zM26 5h1v1h-1zM29 5h1v1h-1zM36 5h1v1h-1zM40 5h1v1h-1zM45 5h1v1h-1zM54 5h1v1h-1zM55 5h1v1h-1zM80 5h1v1h-1zM1 6h1v1h-1zM8 6h1v1h-1zM15 6h1v1h-1zM17 6h1v1h-1zM21 6h1v1h-1zM28 6h1v1h-1zM39 6h1v1h-1zM40 6h1v1h-1zM45 6h1v1h-1zM9 7h1v1h-1zM10 7h1v1h-1zM23 7h1v1h-1zM28 7h1v1h-1zM29 7h1v1h-1zM36 7h1v1h-1zM43 7h1v1h-1zM45 7h1v1h-1zM56 7h1v1h-1zM68 7h1v1h-1zM76 7h1v1h-1zM15 8h1v1h-1zM23 8h1v1h-1zM35 8h1v1h-1zM47 8h1v1h-1zM62 8h1v1h-1zM71 8h1v1h-1zM74 8h1v1h-1zM6 9h1v1h-1zM9 9h1v1h-1zM20 9h1v1h-1zM27 9h1v1h-1zM41 9h1v1h-1zM60 9h1v1h-1zM64 9h1v1h-1zM68 9h1v1h-1zM76 9h1v1h-1zM3 10h1v1h-1zM23 10h1v1h-1zM27 10h1v1h-1zM39 10h1v1h-1zM40 10h1v1h-1zM45 10h1v1h-1zM68 10h1v1h-1zM76 10h1v1h-1zM80 10h1v1h-1zM8 11h1v1h-1zM26 11h1v1h-1zM29 11h1v1h-1zM36 11h1v1h-1zM40 11h1v1h-1zM54 11h1v1h-1zM62 11h1v1h-1zM64 11h1v1h-1zM70 11h1v1h-1zM72 11h1v1h-1zM75 11h1v1h-1zM78 11h1v1h-1zM80 11h1v1h-1zM10 12h1v1h-1zM13 12h1v1h-1zM20 12h1v1h-1zM29 12h1v1h-1zM35 12h1v1h-1zM75 12h1v1h-1zM76 12h1v1h-1zM3 13h1v1h-1zM11 13h1v1h-1zM23 13h1v1h-1zM28 13h1v1h-1zM32 13h1v1h-1zM52 13h1v1h-1zM64 13h1v1h-1zM75 13h1v1h-1zM80 13h1v1h-1zM8 14h1v1h-1zM10 14h1v1h-1zM13 14h1v1h-1zM19 14h1v1h-1zM64 14h1v1h-1zM70 14h1v1h-1zM71 14h1v1h-1zM78 14h1v1h-1z"/>
<path fill="#d9d9e5" d="M7 0h1v1h-1zM9 0h1v1h-1zM16 0h1v1h-1zM17 0h1v1h-1zM21 0h1v1h-1zM23 0h1v1h-1zM24 0h1v1h-1zM28 0h1v1h-1zM36 0h1v1h-1zM39 0h1v1h-1zM40 0h1v1h-1zM43 0h1v1h-1zM47 0h1v1h-1zM48 0h1v1h-1zM51 0h1v1h-1zM52 0h1v1h-1zM60 0h1v1h-1zM62 0h1v1h-1zM64 0h1v1h-1zM1 1h1v1h-1zM2 1h1v1h-1zM4 1h1v1h-1zM7 1h1v1h-1zM10 1h1v1h-1zM15 1h1v1h-1zM17 1h1v1h-1zM19 1h1v1h-1zM20 1h1v1h-1zM23 1h1v1h-1zM24 1h1v1h-1zM26 1h1v1h-1zM27 1h1v1h-1zM40 1h1v1h-1zM43 1h1v1h-1zM45 1h1v1h-1zM50 1h1v1h-1zM52 1h1v1h-1zM54 1h1v1h-1zM55 1h1v1h-1zM57 1h1v1h-1zM62 1h1v1h-1zM68 1h1v1h-1zM70 1h1v1h-1zM73 1h1v1h-1zM77 1h1v1h-1zM2 2h1v1h-1zM5 2h1v1h-1zM6 2h1v1h-1zM8 2h1v1h-1zM10 2h1v1h-1zM11 2h1v1h-1zM13 2h1v1h-1zM21 2h1v1h-1zM27 2h1v1h-1zM31 2h1v1h-1zM32 2h1v1h-1zM42 2h1v1h-1zM45 2h1v1h-1zM46 2h1v1h-1zM51 2h1v1h-1zM55 2h1v1h-1zM71 2h1v1h-1zM72 2h1v1h-1zM77 2h1v1h-1zM78 2h1v1h-1zM80 2h1v1h-1zM0 3h1v1h-1zM2 3h1v1h-1zM3 3h1v1h-1zM4 3h1v1h-1zM23 3h1v1h-1zM26 3h1v1h-1zM27 3h1v1h-1zM29 3h1v1h-1zM31 3h1v1h-1zM34 3h1v1h-1zM47 3h1v1h-1zM52 3h1v1h-1zM54 3h1v1h-1zM57 3h1v1h-1zM60 3h1v1h-1zM66 3h1v1h-1zM71 3h1v1h-1zM73 3h1v1h-1zM78 3h1v1h-1zM80 3h1v1h-1zM1 4h1v1h-1zM3 4h1v1h-1zM5 4h1v1h-1zM7 4h1v1h-1zM16 4h1v1h-1zM18 4h1v1h-1zM20 4h1v1h-1zM26 4h1v1h-1zM36 4h1v1h-1zM41 4h1v1h-1zM45 4h1v1h-1zM47 4h1v1h-1zM50 4h1v1h-1zM54 4h1v1h-1zM64 4h1v1h-1zM69 4h1v1h-1zM74 4h1v1h-1zM75 4h1v1h-1zM76 4h1v1h-1zM78 4h1v1h-1zM2 5h1v1h-1zM8 5h1v1h-1zM10 5h1v1h-1zM15 5h1v1h-1zM21 5h1v1h-1zM23 5h1v1h-1zM28 5h1v1h-1zM34 5h1v1h-1zM41 5h1v1h-1zM47 5h1v1h-1zM52 5h1v1h-1zM63 5h1v1h-1zM68 5h1v1h-1zM69 5h1v1h-1zM73 5h1v1h-1zM77 5h1v1h-1zM0 6h1v1h-1zM2 6h1v1h-1zM6 6h1v1h-1zM20 6h1v1h-1zM27 6h1v1h-1zM30 6h1v1h-1zM31 6h1v1h-1zM35 6h1v1h-1zM47 6h1v1h-1zM55 6h1v1h-1zM69 6h1v1h-1zM71 6h1v1h-1zM75 6h1v1h-1zM76 6h1v1h-1zM78 6h1v1h-1zM80 6h1v1h-1zM5 7h1v1h-1zM7 7h1v1h-1zM8 7h1v1h-1zM11 7h1v1h-1zM13 7h1v1h-1zM15 7h1v1h-1zM22 7h1v1h-1zM26 7h1v1h-1zM30 7h1v1h-1zM31 7h1v1h-1zM40 7h1v1h-1zM46 7h1v1h-1zM52 7h1v1h-1zM54 7h1v1h-1zM55 7h1v1h-1zM62 7h1v1h-1zM64 7h1v1h-1zM72 7h1v1h-1zM5 8h1v1h-1zM7 8h1v1h-1zM8 8h1v1h-1zM28 8h1v1h-1zM32 8h1v1h-1zM36 8h1v1h-1zM44 8h1v1h-1zM45 8h1v1h-1zM51 8h1v1h-1zM53 8h1v1h-1zM57 8h1v1h-1zM60 8h1v1h-1zM61 8h1v1h-1zM63 8h1v1h-1zM73 8h1v1h-1zM75 8h1v1h-1zM77 8h1v1h-1zM0 9h1v1h-1zM2 9h1v1h-1zM4 9h1v1h-1zM13 9h1v1h-1zM17 9h1v1h-1zM18 9h1v1h-1zM23 9h1v1h-1zM28 9h1v1h-1zM34 9h1v1h-1zM36 9h1v1h-1zM40 9h1v1h-1zM43 9h1v1h-1zM45 9h1v1h-1zM46 9h1v1h-1zM47 9h1v1h-1zM49 9h1v1h-1zM57 9h1v1h-1zM69 9h1v1h-1zM71 9h1v1h-1zM73 9h1v1h-1zM0 10h1v1h-1zM1 10h1v1h-1zM5 10h1v1h-1zM6 10h1v1h-1zM8 10h1v1h-1zM11 10h1v1h-1zM15 10h1v1h-1zM17 10h1v1h-1zM19 10h1v1h-1zM26 10h1v1h-1zM35 10h1v1h-1zM36 10h1v1h-1zM46 10h1v1h-1zM50 10h1v1h-1zM51 10h1v1h-1zM52 10h1v1h-1zM55 10h1v1h-1zM70 10h1v1h-1zM75 10h1v1h-1zM0 11h1v1h-1zM4 11h1v1h-1zM10 11h1v1h-1zM11 11h1v1h-1zM15 11h1v1h-1zM16 11h1v1h-1zM33 11h1v1h-1zM43 11h1v1h-1zM45 11h1v1h-1zM46 11h1v1h-1zM57 11h1v1h-1zM63 11h1v1h-1zM68 11h1v1h-1zM73 11h1v1h-1zM3 12h1v1h-1zM5 12h1v1h-1zM6 12h1v1h-1zM9 12h1v1h-1zM15 12h1v1h-1zM23 12h1v1h-1zM24 12h1v1h-1zM40 12h1v1h-1zM43 12h1v1h-1zM45 12h1v1h-1zM55 12h1v1h-1zM57 12h1v1h-1zM58 12h1v1h-1zM61 12h1v1h-1zM63 12h1v1h-1zM64 12h1v1h-1zM68 12h1v1h-1zM72 12h1v1h-1zM74 12h1v1h-1zM79 12h1v1h-1zM1 13h1v1h-1zM7 13h1v1h-1zM10 13h1v1h-1zM13 13h1v1h-1zM15 13h1v1h-1zM20 13h1v1h-1zM30 13h1v1h-1zM31 13h1v1h-1zM33 13h1v1h-1zM40 13h1v1h-1zM49 13h1v1h-1zM51 13h1v1h-1zM53 13h1v1h-1zM55 13h1v1h-1zM57 13h1v1h-1zM60 13h1v1h-1zM68 13h1v1h-1zM70 13h1v1h-1zM72 13h1v1h-1zM73 13h1v1h-1zM78 13h1v1h-1zM0 14h1v1h-1zM2 14h1v1h-1zM3 14h1v1h-1zM5 14h1v1h-1zM6 14h1v1h-1zM11 14h1v1h-1zM15 14h1v1h-1zM20 14h1v1h-1zM23 14h1v1h-1zM26 14h1v1h-1zM35 14h1v1h-1zM40 14h1v1h-1zM41 14h1v1h-1zM54 14h1v1h-1zM57 14h1v1h-1zM62 14h1v1h-1zM68 14h1v1h-1zM75 14h1v1h-1zM77 14h1v1h-1z"/>
<path fill="#bfc1d9" d="M8 0h1v1h-1zM12 0h1v1h-1zM29 0h1v1h-1zM31 0h1v1h-1zM78 0h1v1h-1zM11 1h1v1h-1zM28 1h1v1h-1zM29 1h1v1h-1zM64 1h1v1h-1zM76 1h1v1h-1zM20 2h1v1h-1zM23 2h1v1h-1zM76 2h1v1h-1zM11 3h1v1h-1zM35 3h1v1h-1zM68 3h1v1h-1zM69 3h1v1h-1zM70 3h1v1h-1zM76 3h1v1h-1zM13 4h1v1h-1zM27 4h1v1h-1zM40 4h1v1h-1zM9 5h1v1h-1zM20 5h1v1h-1zM76 5h1v1h-1zM78 5h1v1h-1zM4 6h1v1h-1zM7 6h1v1h-1zM9 6h1v1h-1zM12 6h1v1h-1zM54 6h1v1h-1zM0 7h1v1h-1zM3 7h1v1h-1zM16 7h1v1h-1zM27 7h1v1h-1zM70 7h1v1h-1zM1 8h1v1h-1zM2 8h1v1h-1zM10 8h1v1h-1zM11 8h1v1h-1zM29 8h1v1h-1zM40 8h1v1h-1zM43 8h1v1h-1zM52 8h1v1h-1zM76 8h1v1h-1zM29 9h1v1h-1zM35 9h1v1h-1zM66 9h1v1h-1zM80 9h1v1h-1zM9 10h1v1h-1zM12 10h1v1h-1zM13 10h1v1h-1zM20 10h1v1h-1zM28 10h1v1h-1zM47 10h1v1h-1zM66 10h1v1h-1zM71 10h1v1h-1zM7 11h1v1h-1zM9 11h1v1h-1zM23 11h1v1h-1zM55 11h1v1h-1zM66 11h1v1h-1zM1 12h1v1h-1zM54 12h1v1h-1zM62 12h1v1h-1zM70 12h1v1h-1zM2 13h1v1h-1zM5 13h1v1h-1zM8 13h1v1h-1zM9 13h1v1h-1zM12 13h1v1h-1zM45 13h1v1h-1zM54 13h1v1h-1zM76 13h1v1h-1zM7 14h1v1h-1zM9 14h1v1h-1zM27 14h1v1h-1zM28 14h1v1h-1zM29 14h1v1h-1z"/>
<path fill="#b2b6d2" d="M20 0h1v1h-1zM76 0h1v1h-1zM3 1h1v1h-1zM6 1h1v1h-1zM12 1h1v1h-1zM7 2h1v1h-1zM75 2h1v1h-1zM1 3h1v1h-1zM5 3h1v1h-1zM7 3h1v1h-1zM2 4h1v1h-1zM28 4h1v1h-1zM7 5h1v1h-1zM62 5h1v1h-1zM23 6h1v1h-1zM36 6h1v1h-1zM74 6h1v1h-1zM12 7h1v1h-1zM35 7h1v1h-1zM80 7h1v1h-1zM0 8h1v1h-1zM12 8h1v1h-1zM20 8h1v1h-1zM66 8h1v1h-1zM1 9h1v1h-1zM12 9h1v1h-1zM15 9h1v1h-1zM29 10h1v1h-1zM64 10h1v1h-1zM1 11h1v1h-1zM2 11h1v1h-1zM3 11h1v1h-1zM12 11h1v1h-1zM28 11h1v1h-1zM35 11h1v1h-1zM76 11h1v1h-1zM12 12h1v1h-1zM29 13h1v1h-1zM48 13h1v1h-1zM1 14h1v1h-1zM12 14h1v1h-1zM36 14h1v1h-1zM66 14h1v1h-1zM76 14h1v1h-1z"/>
<path fill="#a5aacc" d="M5 0h1v1h-1zM66 0h1v1h-1zM9 1h1v1h-1zM1 2h1v1h-1zM15 2h1v1h-1zM66 2h1v1h-1zM9 3h1v1h-1zM12 3h1v1h-1zM16 3h1v1h-1zM40 3h1v1h-1zM9 4h1v1h-1zM15 4h1v1h-1zM66 4h1v1h-1zM80 4h1v1h-1zM29 6h1v1h-1zM66 6h1v1h-1zM1 7h1v1h-1zM24 10h1v1h-1zM7 12h1v1h-1zM66 12h1v1h-1zM66 13h1v1h-1z"/>
<path fill="#dcc8d2" d="M42 0h1v1h-1zM22 1h1v1h-1zM49 1h1v1h-1zM59 1h1v1h-1zM69 1h1v1h-1zM33 2h1v1h-1zM44 2h1v1h-1zM58 2h1v1h-1zM65 2h1v1h-1zM24 3h1v1h-1zM38 3h1v1h-1zM48 3h1v1h-1zM50 3h1v1h-1zM25 4h1v1h-1zM59 4h1v1h-1zM38 5h1v1h-1zM57 5h1v1h-1zM61 5h1v1h-1zM79 5h1v1h-1zM42 7h1v1h-1zM49 7h1v1h-1zM59 7h1v1h-1zM60 7h1v1h-1zM79 7h1v1h-1zM48 8h1v1h-1zM58 8h1v1h-1zM65 8h1v1h-1zM16 9h1v1h-1zM32 9h1v1h-1zM48 9h1v1h-1zM59 9h1v1h-1zM22 10h1v1h-1zM30 10h1v1h-1zM37 10h1v1h-1zM41 10h1v1h-1zM42 10h1v1h-1zM49 10h1v1h-1zM59 10h1v1h-1zM61 10h1v1h-1zM65 10h1v1h-1zM67 10h1v1h-1zM21 11h1v1h-1zM38 11h1v1h-1zM59 11h1v1h-1zM74 11h1v1h-1zM79 11h1v1h-1zM22 12h1v1h-1zM65 12h1v1h-1zM6 13h1v1h-1zM14 13h1v1h-1zM18 13h1v1h-1zM38 13h1v1h-1zM79 13h1v1h-1zM38 14h1v1h-1zM59 14h1v1h-1zM67 14h1v1h-1z"/>
<path fill="#8a92c0" d="M66 1h1v1h-1zM29 4h1v1h-1zM9 8h1v1h-1zM47 13h1v1h-1z"/>
<path fill="#e1d6df" d="M37 0h1v1h-1zM38 0h1v1h-1zM41 0h1v1h-1zM45 0h1v1h-1zM49 0h1v1h-1zM53 0h1v1h-1zM58 0h1v1h-1zM67 0h1v1h-1zM70 0h1v1h-1zM73 0h1v1h-1zM79 0h1v1h-1zM18 1h1v1h-1zM32 1h1v1h-1zM34 1h1v1h-1zM39 1h1v1h-1zM42 1h1v1h-1zM44 1h1v1h-1zM46 1h1v1h-1zM53 1h1v1h-1zM61 1h1v1h-1zM71 1h1v1h-1zM72 1h1v1h-1zM74 1h1v1h-1zM14 2h1v1h-1zM17 2h1v1h-1zM18 2h1v1h-1zM19 2h1v1h-1zM22 2h1v1h-1zM24 2h1v1h-1zM25 2h1v1h-1zM34 2h1v1h-1zM38 2h1v1h-1zM39 2h1v1h-1zM49 2h1v1h-1zM53 2h1v1h-1zM59 2h1v1h-1zM79 2h1v1h-1zM13 3h1v1h-1zM14 3h1v1h-1zM15 3h1v1h-1zM33 3h1v1h-1zM41 3h1v1h-1zM49 3h1v1h-1zM59 3h1v1h-1zM61 3h1v1h-1zM65 3h1v1h-1zM67 3h1v1h-1zM19 4h1v1h-1zM23 4h1v1h-1zM37 4h1v1h-1zM38 4h1v1h-1zM42 4h1v1h-1zM44 4h1v1h-1zM46 4h1v1h-1zM49 4h1v1h-1zM56 4h1v1h-1zM57 4h1v1h-1zM67 4h1v1h-1zM77 4h1v1h-1zM22 5h1v1h-1zM24 5h1v1h-1zM27 5h1v1h-1zM30 5h1v1h-1zM53 5h1v1h-1zM58 5h1v1h-1zM60 5h1v1h-1zM65 5h1v1h-1zM74 5h1v1h-1zM16 6h1v1h-1zM34 6h1v1h-1zM37 6h1v1h-1zM38 6h1v1h-1zM44 6h1v1h-1zM50 6h1v1h-1zM59 6h1v1h-1zM60 6h1v1h-1zM65 6h1v1h-1zM79 6h1v1h-1zM18 7h1v1h-1zM24 7h1v1h-1zM32 7h1v1h-1zM37 7h1v1h-1zM39 7h1v1h-1zM44 7h1v1h-1zM14 8h1v1h-1zM18 8h1v1h-1zM19 8h1v1h-1zM21 8h1v1h-1zM22 8h1v1h-1zM26 8h1v1h-1zM33 8h1v1h-1zM37 8h1v1h-1zM46 8h1v1h-1zM59 8h1v1h-1zM67 8h1v1h-1zM70 8h1v1h-1zM72 8h1v1h-1zM79 8h1v1h-1zM10 9h1v1h-1zM25 9h1v1h-1zM26 9h1v1h-1zM33 9h1v1h-1zM37 9h1v1h-1zM42 9h1v1h-1zM44 9h1v1h-1zM56 9h1v1h-1zM79 9h1v1h-1zM25 10h1v1h-1zM33 10h1v1h-1zM48 10h1v1h-1zM56 10h1v1h-1zM60 10h1v1h-1zM14 11h1v1h-1zM19 11h1v1h-1zM22 11h1v1h-1zM32 11h1v1h-1zM37 11h1v1h-1zM39 11h1v1h-1zM44 11h1v1h-1zM56 11h1v1h-1zM58 11h1v1h-1zM61 11h1v1h-1zM65 11h1v1h-1zM77 11h1v1h-1zM14 12h1v1h-1zM17 12h1v1h-1zM18 12h1v1h-1zM19 12h1v1h-1zM21 12h1v1h-1zM32 12h1v1h-1zM41 12h1v1h-1zM42 12h1v1h-1zM44 12h1v1h-1zM49 12h1v1h-1zM56 12h1v1h-1zM59 12h1v1h-1zM67 12h1v1h-1zM73 12h1v1h-1zM77 12h1v1h-1zM17 13h1v1h-1zM19 13h1v1h-1zM21 13h1v1h-1zM27 13h1v1h-1zM37 13h1v1h-1zM41 13h1v1h-1zM42 13h1v1h-1zM43 13h1v1h-1zM44 13h1v1h-1zM58 13h1v1h-1zM61 13h1v1h-1zM69 13h1v1h-1zM71 13h1v1h-1zM31 14h1v1h-1zM32 14h1v1h-1zM33 14h1v1h-1zM48 14h1v1h-1zM51 14h1v1h-1zM53 14h1v1h-1zM56 14h1v1h-1zM58 14h1v1h-1zM65 14h1v1h-1zM79 14h1v1h-1z"/>
<path fill="#7d86ba" d="M11 4h1v1h-1zM66 5h1v1h-1zM55 9h1v1h-1z"/>
<path fill="#989ec6" d="M12 4h1v1h-1zM48 5h1v1h-1zM20 7h1v1h-1zM66 7h1v1h-1z"/>
<path fill="#ce9bae" d="M18 0h1v1h-1zM30 4h1v1h-1z"/>
<path fill="#d8b9c6" d="M38 1h1v1h-1zM42 3h1v1h-1zM48 4h1v1h-1zM25 7h1v1h-1zM38 7h1v1h-1zM48 7h1v1h-1zM67 7h1v1h-1zM38 8h1v1h-1zM78 9h1v1h-1zM38 10h1v1h-1zM58 10h1v1h-1zM65 13h1v1h-1z"/>
<path fill="#707ab4" d="M43 10h1v1h-1z"/>
<path fill="#c47e95" d="M44 5h1v1h-1zM48 6h1v1h-1z"/>
<path fill="#d3aaba" d="M59 5h1v1h-1z"/>
</g>
<g transform="translate(178.80,257.30) scale(1.7414,6.3071)">
<path fill="#d9d9e5" d="M0 0h1v1h-1zM1 0h1v1h-1zM28 0h1v1h-1zM36 0h1v1h-1zM40 0h1v1h-1zM53 0h1v1h-1zM7 1h1v1h-1zM27 1h1v1h-1zM28 1h1v1h-1zM32 1h1v1h-1zM40 1h1v1h-1zM22 2h1v1h-1zM35 2h1v1h-1zM24 3h1v1h-1zM28 3h1v1h-1zM32 3h1v1h-1zM45 3h1v1h-1zM7 4h1v1h-1zM9 4h1v1h-1zM28 4h1v1h-1zM27 5h1v1h-1zM44 5h1v1h-1zM24 6h1v1h-1zM36 6h1v1h-1zM44 6h1v1h-1zM50 6h1v1h-1zM2 7h1v1h-1zM9 7h1v1h-1zM22 7h1v1h-1zM25 7h1v1h-1zM28 7h1v1h-1zM32 7h1v1h-1zM53 7h1v1h-1zM56 7h1v1h-1zM2 8h1v1h-1zM9 8h1v1h-1zM11 8h1v1h-1zM17 8h1v1h-1zM23 8h1v1h-1zM40 8h1v1h-1zM47 8h1v1h-1zM5 9h1v1h-1zM18 9h1v1h-1zM19 9h1v1h-1zM23 9h1v1h-1zM24 9h1v1h-1zM53 9h1v1h-1zM2 10h1v1h-1zM7 10h1v1h-1zM18 10h1v1h-1zM22 10h1v1h-1zM4 11h1v1h-1zM14 11h1v1h-1zM22 11h1v1h-1zM27 11h1v1h-1zM28 11h1v1h-1zM45 11h1v1h-1zM47 11h1v1h-1zM11 12h1v1h-1zM17 12h1v1h-1zM40 12h1v1h-1zM45 12h1v1h-1zM5 13h1v1h-1zM23 13h1v1h-1zM27 13h1v1h-1zM32 13h1v1h-1zM38 13h1v1h-1z"/>
<path fill="#cccddf" d="M18 0h1v1h-1zM45 0h1v1h-1zM0 1h1v1h-1zM45 1h1v1h-1zM23 2h1v1h-1zM28 2h1v1h-1zM53 3h1v1h-1zM32 4h1v1h-1zM45 4h1v1h-1zM18 5h1v1h-1zM22 5h1v1h-1zM28 5h1v1h-1zM36 5h1v1h-1zM45 6h1v1h-1zM11 7h1v1h-1zM45 7h1v1h-1zM7 8h1v1h-1zM45 8h1v1h-1zM9 9h1v1h-1zM27 9h1v1h-1zM32 9h1v1h-1zM45 9h1v1h-1zM45 10h1v1h-1zM32 11h1v1h-1zM28 12h1v1h-1zM3 13h1v1h-1zM45 13h1v1h-1z"/>
<path fill="#dcc8d2" d="M12 0h1v1h-1zM14 0h1v1h-1zM17 0h1v1h-1zM19 0h1v1h-1zM20 0h1v1h-1zM26 0h1v1h-1zM35 0h1v1h-1zM39 0h1v1h-1zM49 0h1v1h-1zM55 0h1v1h-1zM56 0h1v1h-1zM57 0h1v1h-1zM4 1h1v1h-1zM16 1h1v1h-1zM20 1h1v1h-1zM34 1h1v1h-1zM48 1h1v1h-1zM51 1h1v1h-1zM54 1h1v1h-1zM56 1h1v1h-1zM0 2h1v1h-1zM19 2h1v1h-1zM26 2h1v1h-1zM30 2h1v1h-1zM33 2h1v1h-1zM51 2h1v1h-1zM57 2h1v1h-1zM14 3h1v1h-1zM20 3h1v1h-1zM34 3h1v1h-1zM37 3h1v1h-1zM38 3h1v1h-1zM39 3h1v1h-1zM41 3h1v1h-1zM44 3h1v1h-1zM51 3h1v1h-1zM52 3h1v1h-1zM5 4h1v1h-1zM6 4h1v1h-1zM8 4h1v1h-1zM12 4h1v1h-1zM34 4h1v1h-1zM37 4h1v1h-1zM38 4h1v1h-1zM46 4h1v1h-1zM56 4h1v1h-1zM0 5h1v1h-1zM14 5h1v1h-1zM20 5h1v1h-1zM39 5h1v1h-1zM42 5h1v1h-1zM43 5h1v1h-1zM52 5h1v1h-1zM6 6h1v1h-1zM17 6h1v1h-1zM19 6h1v1h-1zM20 6h1v1h-1zM21 6h1v1h-1zM23 6h1v1h-1zM26 6h1v1h-1zM35 6h1v1h-1zM39 6h1v1h-1zM41 6h1v1h-1zM42 6h1v1h-1zM49 6h1v1h-1zM51 6h1v1h-1zM54 6h1v1h-1zM0 7h1v1h-1zM3 7h1v1h-1zM19 7h1v1h-1zM26 7h1v1h-1zM29 7h1v1h-1zM37 7h1v1h-1zM38 7h1v1h-1zM40 7h1v1h-1zM44 7h1v1h-1zM47 7h1v1h-1zM48 7h1v1h-1zM49 7h1v1h-1zM52 7h1v1h-1zM6 8h1v1h-1zM14 8h1v1h-1zM24 8h1v1h-1zM31 8h1v1h-1zM44 8h1v1h-1zM46 8h1v1h-1zM2 9h1v1h-1zM3 9h1v1h-1zM4 9h1v1h-1zM14 9h1v1h-1zM16 9h1v1h-1zM37 9h1v1h-1zM41 9h1v1h-1zM44 9h1v1h-1zM51 9h1v1h-1zM0 10h1v1h-1zM6 10h1v1h-1zM8 10h1v1h-1zM10 10h1v1h-1zM13 10h1v1h-1zM20 10h1v1h-1zM21 10h1v1h-1zM25 10h1v1h-1zM34 10h1v1h-1zM46 10h1v1h-1zM48 10h1v1h-1zM54 10h1v1h-1zM56 10h1v1h-1zM8 11h1v1h-1zM10 11h1v1h-1zM15 11h1v1h-1zM17 11h1v1h-1zM25 11h1v1h-1zM38 11h1v1h-1zM39 11h1v1h-1zM42 11h1v1h-1zM44 11h1v1h-1zM48 11h1v1h-1zM51 11h1v1h-1zM54 11h1v1h-1zM56 11h1v1h-1zM3 12h1v1h-1zM6 12h1v1h-1zM41 12h1v1h-1zM44 12h1v1h-1zM51 12h1v1h-1zM0 13h1v1h-1zM6 13h1v1h-1zM10 13h1v1h-1zM16 13h1v1h-1zM19 13h1v1h-1zM43 13h1v1h-1zM53 13h1v1h-1z"/>
<path fill="#e1d6df" d="M3 0h1v1h-1zM15 0h1v1h-1zM16 0h1v1h-1zM24 0h1v1h-1zM25 0h1v1h-1zM27 0h1v1h-1zM30 0h1v1h-1zM37 0h1v1h-1zM38 0h1v1h-1zM43 0h1v1h-1zM44 0h1v1h-1zM50 0h1v1h-1zM51 0h1v1h-1zM1 1h1v1h-1zM3 1h1v1h-1zM8 1h1v1h-1zM12 1h1v1h-1zM17 1h1v1h-1zM22 1h1v1h-1zM24 1h1v1h-1zM33 1h1v1h-1zM35 1h1v1h-1zM39 1h1v1h-1zM49 1h1v1h-1zM52 1h1v1h-1zM55 1h1v1h-1zM57 1h1v1h-1zM2 2h1v1h-1zM4 2h1v1h-1zM6 2h1v1h-1zM8 2h1v1h-1zM10 2h1v1h-1zM12 2h1v1h-1zM14 2h1v1h-1zM15 2h1v1h-1zM16 2h1v1h-1zM17 2h1v1h-1zM21 2h1v1h-1zM31 2h1v1h-1zM34 2h1v1h-1zM39 2h1v1h-1zM44 2h1v1h-1zM48 2h1v1h-1zM49 2h1v1h-1zM52 2h1v1h-1zM55 2h1v1h-1zM1 3h1v1h-1zM4 3h1v1h-1zM10 3h1v1h-1zM11 3h1v1h-1zM12 3h1v1h-1zM16 3h1v1h-1zM17 3h1v1h-1zM18 3h1v1h-1zM23 3h1v1h-1zM25 3h1v1h-1zM30 3h1v1h-1zM46 3h1v1h-1zM49 3h1v1h-1zM55 3h1v1h-1zM56 3h1v1h-1zM57 3h1v1h-1zM1 4h1v1h-1zM10 4h1v1h-1zM13 4h1v1h-1zM14 4h1v1h-1zM15 4h1v1h-1zM20 4h1v1h-1zM23 4h1v1h-1zM26 4h1v1h-1zM30 4h1v1h-1zM33 4h1v1h-1zM35 4h1v1h-1zM36 4h1v1h-1zM39 4h1v1h-1zM43 4h1v1h-1zM44 4h1v1h-1zM48 4h1v1h-1zM49 4h1v1h-1zM52 4h1v1h-1zM55 4h1v1h-1zM57 4h1v1h-1zM6 5h1v1h-1zM8 5h1v1h-1zM9 5h1v1h-1zM10 5h1v1h-1zM15 5h1v1h-1zM19 5h1v1h-1zM24 5h1v1h-1zM34 5h1v1h-1zM37 5h1v1h-1zM38 5h1v1h-1zM48 5h1v1h-1zM51 5h1v1h-1zM54 5h1v1h-1zM1 6h1v1h-1zM3 6h1v1h-1zM4 6h1v1h-1zM12 6h1v1h-1zM14 6h1v1h-1zM16 6h1v1h-1zM22 6h1v1h-1zM25 6h1v1h-1zM29 6h1v1h-1zM30 6h1v1h-1zM40 6h1v1h-1zM46 6h1v1h-1zM48 6h1v1h-1zM53 6h1v1h-1zM55 6h1v1h-1zM56 6h1v1h-1zM4 7h1v1h-1zM6 7h1v1h-1zM12 7h1v1h-1zM17 7h1v1h-1zM24 7h1v1h-1zM30 7h1v1h-1zM34 7h1v1h-1zM35 7h1v1h-1zM41 7h1v1h-1zM50 7h1v1h-1zM54 7h1v1h-1zM55 7h1v1h-1zM1 8h1v1h-1zM4 8h1v1h-1zM8 8h1v1h-1zM12 8h1v1h-1zM13 8h1v1h-1zM16 8h1v1h-1zM19 8h1v1h-1zM25 8h1v1h-1zM29 8h1v1h-1zM30 8h1v1h-1zM35 8h1v1h-1zM39 8h1v1h-1zM43 8h1v1h-1zM48 8h1v1h-1zM50 8h1v1h-1zM51 8h1v1h-1zM55 8h1v1h-1zM56 8h1v1h-1zM57 8h1v1h-1zM6 9h1v1h-1zM7 9h1v1h-1zM11 9h1v1h-1zM13 9h1v1h-1zM15 9h1v1h-1zM28 9h1v1h-1zM36 9h1v1h-1zM38 9h1v1h-1zM40 9h1v1h-1zM47 9h1v1h-1zM48 9h1v1h-1zM55 9h1v1h-1zM3 10h1v1h-1zM4 10h1v1h-1zM12 10h1v1h-1zM14 10h1v1h-1zM16 10h1v1h-1zM19 10h1v1h-1zM24 10h1v1h-1zM35 10h1v1h-1zM40 10h1v1h-1zM44 10h1v1h-1zM55 10h1v1h-1zM6 11h1v1h-1zM7 11h1v1h-1zM9 11h1v1h-1zM12 11h1v1h-1zM19 11h1v1h-1zM21 11h1v1h-1zM29 11h1v1h-1zM34 11h1v1h-1zM35 11h1v1h-1zM36 11h1v1h-1zM37 11h1v1h-1zM40 11h1v1h-1zM49 11h1v1h-1zM52 11h1v1h-1zM53 11h1v1h-1zM55 11h1v1h-1zM8 12h1v1h-1zM10 12h1v1h-1zM13 12h1v1h-1zM14 12h1v1h-1zM16 12h1v1h-1zM20 12h1v1h-1zM29 12h1v1h-1zM30 12h1v1h-1zM34 12h1v1h-1zM35 12h1v1h-1zM36 12h1v1h-1zM37 12h1v1h-1zM38 12h1v1h-1zM48 12h1v1h-1zM50 12h1v1h-1zM55 12h1v1h-1zM57 12h1v1h-1zM1 13h1v1h-1zM8 13h1v1h-1zM21 13h1v1h-1zM22 13h1v1h-1zM28 13h1v1h-1zM29 13h1v1h-1zM33 13h1v1h-1zM35 13h1v1h-1zM36 13h1v1h-1zM37 13h1v1h-1zM44 13h1v1h-1zM52 13h1v1h-1zM55 13h1v1h-1z"/>
<path fill="#d8b9c6" d="M4 0h1v1h-1zM34 0h1v1h-1zM41 0h1v1h-1zM42 0h1v1h-1zM46 0h1v1h-1zM54 0h1v1h-1zM6 1h1v1h-1zM10 1h1v1h-1zM19 1h1v1h-1zM21 1h1v1h-1zM42 1h1v1h-1zM46 1h1v1h-1zM20 2h1v1h-1zM37 2h1v1h-1zM46 2h1v1h-1zM26 3h1v1h-1zM17 4h1v1h-1zM19 4h1v1h-1zM21 4h1v1h-1zM31 4h1v1h-1zM42 4h1v1h-1zM13 5h1v1h-1zM21 5h1v1h-1zM26 5h1v1h-1zM31 5h1v1h-1zM35 5h1v1h-1zM56 5h1v1h-1zM57 5h1v1h-1zM8 6h1v1h-1zM13 6h1v1h-1zM37 6h1v1h-1zM52 6h1v1h-1zM10 7h1v1h-1zM13 7h1v1h-1zM16 7h1v1h-1zM20 7h1v1h-1zM31 7h1v1h-1zM33 7h1v1h-1zM39 7h1v1h-1zM21 8h1v1h-1zM41 8h1v1h-1zM52 8h1v1h-1zM1 9h1v1h-1zM21 9h1v1h-1zM33 9h1v1h-1zM35 9h1v1h-1zM39 9h1v1h-1zM49 9h1v1h-1zM56 9h1v1h-1zM57 9h1v1h-1zM1 10h1v1h-1zM26 10h1v1h-1zM37 10h1v1h-1zM41 10h1v1h-1zM43 10h1v1h-1zM49 10h1v1h-1zM57 10h1v1h-1zM16 11h1v1h-1zM20 11h1v1h-1zM31 11h1v1h-1zM19 12h1v1h-1zM26 12h1v1h-1zM33 12h1v1h-1zM54 12h1v1h-1zM34 13h1v1h-1zM41 13h1v1h-1zM49 13h1v1h-1zM54 13h1v1h-1zM56 13h1v1h-1z"/>
<path fill="#d3aaba" d="M21 0h1v1h-1zM13 1h1v1h-1zM31 1h1v1h-1zM41 2h1v1h-1zM42 2h1v1h-1zM43 2h1v1h-1zM6 3h1v1h-1zM13 3h1v1h-1zM42 3h1v1h-1zM33 5h1v1h-1zM49 5h1v1h-1zM31 6h1v1h-1zM46 7h1v1h-1zM57 7h1v1h-1zM26 8h1v1h-1zM37 8h1v1h-1zM42 8h1v1h-1zM31 9h1v1h-1zM42 10h1v1h-1zM1 11h1v1h-1zM13 11h1v1h-1zM46 11h1v1h-1zM21 12h1v1h-1zM46 12h1v1h-1zM56 12h1v1h-1zM20 13h1v1h-1zM26 13h1v1h-1zM31 13h1v1h-1zM42 13h1v1h-1zM46 13h1v1h-1zM48 13h1v1h-1z"/>
<path fill="#bfc1d9" d="M2 0h1v1h-1zM7 3h1v1h-1zM11 4h1v1h-1zM7 7h1v1h-1zM27 10h1v1h-1zM27 12h1v1h-1zM7 13h1v1h-1z"/>
<path fill="#b2b6d2" d="M3 4h1v1h-1zM12 5h1v1h-1zM9 12h1v1h-1z"/>
<path fill="#ce9bae" d="M6 0h1v1h-1zM38 1h1v1h-1zM41 1h1v1h-1zM13 2h1v1h-1zM31 3h1v1h-1zM41 4h1v1h-1zM46 5h1v1h-1zM51 7h1v1h-1zM49 8h1v1h-1zM20 9h1v1h-1zM26 9h1v1h-1zM42 9h1v1h-1zM46 9h1v1h-1zM41 11h1v1h-1zM31 12h1v1h-1zM51 13h1v1h-1z"/>
<path fill="#c47e95" d="M31 10h1v1h-1zM13 13h1v1h-1z"/>
<path fill="#c98da1" d="M31 0h1v1h-1zM42 7h1v1h-1zM20 8h1v1h-1zM25 12h1v1h-1zM42 12h1v1h-1z"/>
<path fill="#989ec6" d="M45 2h1v1h-1z"/>
</g>
<g transform="translate(178.80,346.90) scale(1.7414,6.3200)">
<path fill="#cccddf" d="M0 0h1v1h-1zM16 0h1v1h-1zM19 0h1v1h-1zM35 0h1v1h-1zM38 0h1v1h-1zM6 1h1v1h-1zM9 1h1v1h-1zM22 1h1v1h-1zM36 1h1v1h-1zM46 1h1v1h-1zM50 1h1v1h-1zM55 1h1v1h-1zM0 2h1v1h-1zM1 2h1v1h-1zM8 2h1v1h-1zM9 2h1v1h-1zM16 2h1v1h-1zM19 2h1v1h-1zM25 2h1v1h-1zM28 2h1v1h-1zM46 2h1v1h-1zM49 2h1v1h-1zM53 2h1v1h-1zM55 2h1v1h-1zM6 3h1v1h-1zM14 3h1v1h-1zM22 3h1v1h-1zM33 3h1v1h-1zM34 3h1v1h-1zM48 3h1v1h-1zM7 4h1v1h-1zM28 4h1v1h-1zM30 4h1v1h-1zM48 4h1v1h-1zM55 4h1v1h-1zM9 5h1v1h-1zM22 5h1v1h-1zM34 5h1v1h-1zM35 5h1v1h-1zM44 5h1v1h-1zM51 5h1v1h-1zM55 5h1v1h-1zM1 6h1v1h-1zM3 6h1v1h-1zM9 6h1v1h-1zM34 6h1v1h-1zM35 6h1v1h-1zM37 6h1v1h-1zM44 6h1v1h-1zM46 6h1v1h-1zM52 6h1v1h-1zM55 6h1v1h-1zM7 7h1v1h-1zM8 7h1v1h-1zM9 7h1v1h-1zM32 7h1v1h-1zM49 7h1v1h-1zM51 7h1v1h-1zM54 7h1v1h-1zM0 8h1v1h-1zM4 8h1v1h-1zM9 8h1v1h-1zM38 8h1v1h-1zM8 9h1v1h-1zM33 9h1v1h-1zM36 9h1v1h-1zM37 9h1v1h-1zM38 9h1v1h-1zM48 9h1v1h-1zM19 10h1v1h-1zM22 10h1v1h-1zM25 10h1v1h-1zM29 10h1v1h-1zM46 10h1v1h-1zM52 10h1v1h-1zM55 10h1v1h-1zM21 11h1v1h-1zM25 11h1v1h-1zM45 11h1v1h-1zM54 11h1v1h-1zM0 12h1v1h-1zM5 12h1v1h-1zM7 12h1v1h-1zM19 12h1v1h-1zM23 12h1v1h-1zM28 12h1v1h-1zM32 12h1v1h-1zM35 12h1v1h-1zM41 12h1v1h-1zM52 12h1v1h-1zM19 13h1v1h-1zM20 13h1v1h-1zM38 13h1v1h-1zM45 13h1v1h-1zM0 14h1v1h-1zM1 14h1v1h-1zM12 14h1v1h-1zM20 14h1v1h-1zM25 14h1v1h-1zM29 14h1v1h-1zM30 14h1v1h-1zM44 14h1v1h-1zM52 14h1v1h-1z"/>
<path fill="#bfc1d9" d="M6 0h1v1h-1zM7 0h1v1h-1zM20 0h1v1h-1zM30 0h1v1h-1zM0 1h1v1h-1zM19 1h1v1h-1zM28 1h1v1h-1zM49 1h1v1h-1zM18 2h1v1h-1zM22 2h1v1h-1zM1 3h1v1h-1zM7 3h1v1h-1zM28 3h1v1h-1zM46 3h1v1h-1zM1 4h1v1h-1zM20 4h1v1h-1zM25 4h1v1h-1zM34 4h1v1h-1zM44 4h1v1h-1zM51 4h1v1h-1zM54 4h1v1h-1zM7 5h1v1h-1zM17 5h1v1h-1zM19 5h1v1h-1zM46 5h1v1h-1zM28 6h1v1h-1zM49 6h1v1h-1zM1 7h1v1h-1zM6 7h1v1h-1zM19 7h1v1h-1zM52 7h1v1h-1zM55 7h1v1h-1zM22 8h1v1h-1zM34 8h1v1h-1zM52 8h1v1h-1zM1 9h1v1h-1zM19 9h1v1h-1zM20 9h1v1h-1zM45 9h1v1h-1zM49 9h1v1h-1zM1 10h1v1h-1zM8 10h1v1h-1zM28 10h1v1h-1zM45 10h1v1h-1zM51 10h1v1h-1zM1 11h1v1h-1zM6 11h1v1h-1zM8 11h1v1h-1zM16 11h1v1h-1zM20 11h1v1h-1zM22 11h1v1h-1zM44 11h1v1h-1zM52 11h1v1h-1zM3 12h1v1h-1zM6 12h1v1h-1zM9 12h1v1h-1zM22 12h1v1h-1zM29 12h1v1h-1zM46 12h1v1h-1zM9 13h1v1h-1zM22 13h1v1h-1zM44 13h1v1h-1zM51 13h1v1h-1zM55 13h1v1h-1zM7 14h1v1h-1zM9 14h1v1h-1zM46 14h1v1h-1z"/>
<path fill="#d9d9e5" d="M13 0h1v1h-1zM15 0h1v1h-1zM23 0h1v1h-1zM29 0h1v1h-1zM32 0h1v1h-1zM33 0h1v1h-1zM42 0h1v1h-1zM44 0h1v1h-1zM50 0h1v1h-1zM51 0h1v1h-1zM55 0h1v1h-1zM4 1h1v1h-1zM8 1h1v1h-1zM10 1h1v1h-1zM13 1h1v1h-1zM17 1h1v1h-1zM18 1h1v1h-1zM21 1h1v1h-1zM23 1h1v1h-1zM32 1h1v1h-1zM33 1h1v1h-1zM37 1h1v1h-1zM44 1h1v1h-1zM45 1h1v1h-1zM51 1h1v1h-1zM6 2h1v1h-1zM10 2h1v1h-1zM20 2h1v1h-1zM29 2h1v1h-1zM32 2h1v1h-1zM34 2h1v1h-1zM35 2h1v1h-1zM37 2h1v1h-1zM38 2h1v1h-1zM48 2h1v1h-1zM0 3h1v1h-1zM2 3h1v1h-1zM3 3h1v1h-1zM9 3h1v1h-1zM10 3h1v1h-1zM19 3h1v1h-1zM23 3h1v1h-1zM37 3h1v1h-1zM38 3h1v1h-1zM45 3h1v1h-1zM51 3h1v1h-1zM53 3h1v1h-1zM54 3h1v1h-1zM0 4h1v1h-1zM3 4h1v1h-1zM4 4h1v1h-1zM9 4h1v1h-1zM17 4h1v1h-1zM21 4h1v1h-1zM32 4h1v1h-1zM37 4h1v1h-1zM45 4h1v1h-1zM53 4h1v1h-1zM0 5h1v1h-1zM1 5h1v1h-1zM3 5h1v1h-1zM6 5h1v1h-1zM8 5h1v1h-1zM16 5h1v1h-1zM20 5h1v1h-1zM33 5h1v1h-1zM37 5h1v1h-1zM38 5h1v1h-1zM40 5h1v1h-1zM48 5h1v1h-1zM49 5h1v1h-1zM50 5h1v1h-1zM8 6h1v1h-1zM19 6h1v1h-1zM20 6h1v1h-1zM22 6h1v1h-1zM30 6h1v1h-1zM33 6h1v1h-1zM36 6h1v1h-1zM42 6h1v1h-1zM45 6h1v1h-1zM48 6h1v1h-1zM50 6h1v1h-1zM0 7h1v1h-1zM12 7h1v1h-1zM14 7h1v1h-1zM17 7h1v1h-1zM18 7h1v1h-1zM28 7h1v1h-1zM35 7h1v1h-1zM37 7h1v1h-1zM38 7h1v1h-1zM45 7h1v1h-1zM48 7h1v1h-1zM50 7h1v1h-1zM1 8h1v1h-1zM10 8h1v1h-1zM23 8h1v1h-1zM25 8h1v1h-1zM29 8h1v1h-1zM32 8h1v1h-1zM42 8h1v1h-1zM48 8h1v1h-1zM53 8h1v1h-1zM4 9h1v1h-1zM6 9h1v1h-1zM9 9h1v1h-1zM12 9h1v1h-1zM15 9h1v1h-1zM16 9h1v1h-1zM17 9h1v1h-1zM23 9h1v1h-1zM28 9h1v1h-1zM30 9h1v1h-1zM46 9h1v1h-1zM52 9h1v1h-1zM54 9h1v1h-1zM55 9h1v1h-1zM4 10h1v1h-1zM9 10h1v1h-1zM18 10h1v1h-1zM23 10h1v1h-1zM30 10h1v1h-1zM33 10h1v1h-1zM37 10h1v1h-1zM39 10h1v1h-1zM54 10h1v1h-1zM0 11h1v1h-1zM9 11h1v1h-1zM13 11h1v1h-1zM17 11h1v1h-1zM19 11h1v1h-1zM27 11h1v1h-1zM28 11h1v1h-1zM32 11h1v1h-1zM35 11h1v1h-1zM38 11h1v1h-1zM48 11h1v1h-1zM8 12h1v1h-1zM10 12h1v1h-1zM15 12h1v1h-1zM37 12h1v1h-1zM48 12h1v1h-1zM50 12h1v1h-1zM51 12h1v1h-1zM54 12h1v1h-1zM55 12h1v1h-1zM1 13h1v1h-1zM6 13h1v1h-1zM8 13h1v1h-1zM23 13h1v1h-1zM25 13h1v1h-1zM30 13h1v1h-1zM33 13h1v1h-1zM35 13h1v1h-1zM37 13h1v1h-1zM39 13h1v1h-1zM46 13h1v1h-1zM47 13h1v1h-1zM54 13h1v1h-1zM2 14h1v1h-1zM3 14h1v1h-1zM5 14h1v1h-1zM6 14h1v1h-1zM10 14h1v1h-1zM18 14h1v1h-1zM19 14h1v1h-1zM37 14h1v1h-1zM45 14h1v1h-1zM50 14h1v1h-1zM51 14h1v1h-1zM53 14h1v1h-1z"/>
<path fill="#dcc8d2" d="M5 0h1v1h-1zM21 0h1v1h-1zM24 0h1v1h-1zM26 0h1v1h-1zM27 0h1v1h-1zM40 0h1v1h-1zM43 0h1v1h-1zM57 2h1v1h-1zM24 3h1v1h-1zM26 3h1v1h-1zM56 3h1v1h-1zM10 4h1v1h-1zM11 4h1v1h-1zM24 4h1v1h-1zM27 4h1v1h-1zM56 4h1v1h-1zM2 5h1v1h-1zM11 5h1v1h-1zM43 5h1v1h-1zM24 6h1v1h-1zM43 6h1v1h-1zM47 6h1v1h-1zM27 7h1v1h-1zM39 7h1v1h-1zM43 7h1v1h-1zM56 7h1v1h-1zM43 8h1v1h-1zM57 8h1v1h-1zM14 9h1v1h-1zM31 9h1v1h-1zM56 9h1v1h-1zM57 9h1v1h-1zM11 10h1v1h-1zM27 10h1v1h-1zM56 10h1v1h-1zM5 11h1v1h-1zM18 11h1v1h-1zM24 11h1v1h-1zM50 11h1v1h-1zM57 11h1v1h-1zM26 12h1v1h-1zM0 13h1v1h-1zM11 13h1v1h-1zM43 13h1v1h-1zM11 14h1v1h-1zM21 14h1v1h-1zM24 14h1v1h-1zM36 14h1v1h-1zM43 14h1v1h-1z"/>
<path fill="#b2b6d2" d="M1 0h1v1h-1zM8 0h1v1h-1zM22 0h1v1h-1zM49 0h1v1h-1zM54 0h1v1h-1zM7 1h1v1h-1zM20 1h1v1h-1zM34 1h1v1h-1zM7 2h1v1h-1zM45 2h1v1h-1zM52 2h1v1h-1zM20 3h1v1h-1zM52 3h1v1h-1zM6 4h1v1h-1zM19 4h1v1h-1zM22 4h1v1h-1zM46 4h1v1h-1zM28 5h1v1h-1zM45 5h1v1h-1zM20 7h1v1h-1zM22 7h1v1h-1zM34 7h1v1h-1zM46 7h1v1h-1zM19 8h1v1h-1zM7 9h1v1h-1zM7 10h1v1h-1zM20 10h1v1h-1zM49 10h1v1h-1zM7 11h1v1h-1zM34 11h1v1h-1zM46 11h1v1h-1zM51 11h1v1h-1zM55 11h1v1h-1zM49 12h1v1h-1zM7 13h1v1h-1zM24 13h1v1h-1zM28 13h1v1h-1zM49 13h1v1h-1zM22 14h1v1h-1zM28 14h1v1h-1zM49 14h1v1h-1z"/>
<path fill="#e1d6df" d="M2 0h1v1h-1zM12 0h1v1h-1zM17 0h1v1h-1zM31 0h1v1h-1zM46 0h1v1h-1zM5 1h1v1h-1zM24 1h1v1h-1zM25 1h1v1h-1zM26 1h1v1h-1zM27 1h1v1h-1zM43 1h1v1h-1zM54 1h1v1h-1zM56 1h1v1h-1zM15 2h1v1h-1zM21 2h1v1h-1zM23 2h1v1h-1zM26 2h1v1h-1zM31 2h1v1h-1zM36 2h1v1h-1zM40 2h1v1h-1zM44 2h1v1h-1zM12 3h1v1h-1zM27 3h1v1h-1zM31 3h1v1h-1zM40 3h1v1h-1zM43 3h1v1h-1zM57 3h1v1h-1zM14 4h1v1h-1zM26 4h1v1h-1zM40 4h1v1h-1zM4 5h1v1h-1zM5 5h1v1h-1zM13 5h1v1h-1zM24 5h1v1h-1zM25 5h1v1h-1zM26 5h1v1h-1zM30 5h1v1h-1zM31 5h1v1h-1zM47 5h1v1h-1zM53 5h1v1h-1zM57 5h1v1h-1zM11 6h1v1h-1zM13 6h1v1h-1zM17 6h1v1h-1zM21 6h1v1h-1zM26 6h1v1h-1zM31 6h1v1h-1zM57 6h1v1h-1zM3 7h1v1h-1zM10 7h1v1h-1zM24 7h1v1h-1zM31 7h1v1h-1zM41 7h1v1h-1zM5 8h1v1h-1zM11 8h1v1h-1zM14 8h1v1h-1zM15 8h1v1h-1zM16 8h1v1h-1zM21 8h1v1h-1zM35 8h1v1h-1zM37 8h1v1h-1zM41 8h1v1h-1zM56 8h1v1h-1zM2 9h1v1h-1zM5 9h1v1h-1zM10 9h1v1h-1zM11 9h1v1h-1zM32 9h1v1h-1zM39 9h1v1h-1zM40 9h1v1h-1zM41 9h1v1h-1zM43 9h1v1h-1zM2 10h1v1h-1zM5 10h1v1h-1zM10 10h1v1h-1zM12 10h1v1h-1zM14 10h1v1h-1zM15 10h1v1h-1zM16 10h1v1h-1zM26 10h1v1h-1zM31 10h1v1h-1zM32 10h1v1h-1zM35 10h1v1h-1zM40 10h1v1h-1zM42 10h1v1h-1zM47 10h1v1h-1zM15 11h1v1h-1zM23 11h1v1h-1zM31 11h1v1h-1zM39 11h1v1h-1zM40 11h1v1h-1zM43 11h1v1h-1zM56 11h1v1h-1zM2 12h1v1h-1zM13 12h1v1h-1zM24 12h1v1h-1zM27 12h1v1h-1zM36 12h1v1h-1zM38 12h1v1h-1zM40 12h1v1h-1zM42 12h1v1h-1zM44 12h1v1h-1zM47 12h1v1h-1zM56 12h1v1h-1zM57 12h1v1h-1zM3 13h1v1h-1zM13 13h1v1h-1zM15 13h1v1h-1zM18 13h1v1h-1zM27 13h1v1h-1zM40 13h1v1h-1zM53 13h1v1h-1zM56 13h1v1h-1zM57 13h1v1h-1zM13 14h1v1h-1zM15 14h1v1h-1zM26 14h1v1h-1zM31 14h1v1h-1zM39 14h1v1h-1zM47 14h1v1h-1z"/>
<path fill="#d8b9c6" d="M11 1h1v1h-1zM47 1h1v1h-1zM3 2h1v1h-1zM14 2h1v1h-1zM43 2h1v1h-1zM56 2h1v1h-1zM2 4h1v1h-1zM12 4h1v1h-1zM15 4h1v1h-1zM47 4h1v1h-1zM11 7h1v1h-1zM2 8h1v1h-1zM47 9h1v1h-1zM43 10h1v1h-1zM31 12h1v1h-1zM43 12h1v1h-1zM5 13h1v1h-1zM26 13h1v1h-1zM17 14h1v1h-1z"/>
<path fill="#c06f89" d="M5 7h1v1h-1z"/>
<path fill="#a5aacc" d="M28 0h1v1h-1zM52 0h1v1h-1zM8 3h1v1h-1zM49 3h1v1h-1zM52 5h1v1h-1zM7 6h1v1h-1zM7 8h1v1h-1zM20 8h1v1h-1zM28 8h1v1h-1zM45 8h1v1h-1zM46 8h1v1h-1zM49 8h1v1h-1zM34 10h1v1h-1zM20 12h1v1h-1zM52 13h1v1h-1zM55 14h1v1h-1z"/>
<path fill="#989ec6" d="M34 0h1v1h-1zM52 4h1v1h-1zM34 9h1v1h-1zM18 12h1v1h-1z"/>
<path fill="#7d86ba" d="M22 9h1v1h-1zM34 12h1v1h-1z"/>
<path fill="#d3aaba" d="M56 5h1v1h-1zM56 6h1v1h-1zM26 9h1v1h-1zM26 11h1v1h-1zM56 14h1v1h-1z"/>
<path fill="#8a92c0" d="M34 13h1v1h-1z"/>
<path fill="#ce9bae" d="M41 0h1v1h-1z"/>
</g>
<g transform="translate(282.50,257.30) scale(1.7431,6.3071)">
<path fill="#bfc1d9" d="M0 0h1v1h-1zM9 0h1v1h-1zM11 0h1v1h-1zM13 0h1v1h-1zM14 0h1v1h-1zM20 0h1v1h-1zM37 0h1v1h-1zM0 1h1v1h-1zM2 1h1v1h-1zM3 1h1v1h-1zM6 1h1v1h-1zM10 1h1v1h-1zM12 1h1v1h-1zM14 1h1v1h-1zM19 1h1v1h-1zM21 1h1v1h-1zM23 1h1v1h-1zM25 1h1v1h-1zM33 1h1v1h-1zM54 1h1v1h-1zM0 2h1v1h-1zM2 2h1v1h-1zM20 2h1v1h-1zM23 2h1v1h-1zM33 2h1v1h-1zM48 2h1v1h-1zM1 3h1v1h-1zM2 3h1v1h-1zM3 3h1v1h-1zM6 3h1v1h-1zM21 3h1v1h-1zM22 3h1v1h-1zM2 4h1v1h-1zM6 4h1v1h-1zM11 4h1v1h-1zM37 4h1v1h-1zM51 4h1v1h-1zM0 5h1v1h-1zM7 5h1v1h-1zM10 5h1v1h-1zM20 5h1v1h-1zM23 5h1v1h-1zM50 5h1v1h-1zM54 5h1v1h-1zM56 5h1v1h-1zM6 6h1v1h-1zM16 6h1v1h-1zM18 6h1v1h-1zM20 6h1v1h-1zM44 6h1v1h-1zM0 7h1v1h-1zM2 7h1v1h-1zM14 7h1v1h-1zM51 7h1v1h-1zM54 7h1v1h-1zM1 8h1v1h-1zM2 8h1v1h-1zM3 8h1v1h-1zM8 8h1v1h-1zM10 8h1v1h-1zM13 8h1v1h-1zM20 8h1v1h-1zM21 8h1v1h-1zM23 8h1v1h-1zM30 8h1v1h-1zM36 8h1v1h-1zM41 8h1v1h-1zM0 9h1v1h-1zM2 9h1v1h-1zM3 9h1v1h-1zM4 9h1v1h-1zM9 9h1v1h-1zM10 9h1v1h-1zM14 9h1v1h-1zM16 9h1v1h-1zM17 9h1v1h-1zM44 9h1v1h-1zM54 9h1v1h-1zM12 10h1v1h-1zM15 10h1v1h-1zM17 10h1v1h-1zM33 10h1v1h-1zM44 10h1v1h-1zM46 10h1v1h-1zM1 11h1v1h-1zM2 11h1v1h-1zM9 11h1v1h-1zM14 11h1v1h-1zM17 11h1v1h-1zM23 11h1v1h-1zM54 11h1v1h-1zM56 11h1v1h-1zM0 12h1v1h-1zM12 12h1v1h-1zM21 12h1v1h-1zM24 12h1v1h-1zM28 12h1v1h-1zM44 12h1v1h-1zM54 12h1v1h-1zM6 13h1v1h-1zM7 13h1v1h-1zM8 13h1v1h-1zM12 13h1v1h-1zM15 13h1v1h-1zM23 13h1v1h-1zM25 13h1v1h-1zM28 13h1v1h-1zM44 13h1v1h-1zM56 13h1v1h-1z"/>
<path fill="#cccddf" d="M1 0h1v1h-1zM4 0h1v1h-1zM5 0h1v1h-1zM10 0h1v1h-1zM19 0h1v1h-1zM21 0h1v1h-1zM25 0h1v1h-1zM47 0h1v1h-1zM54 0h1v1h-1zM1 1h1v1h-1zM5 1h1v1h-1zM13 1h1v1h-1zM30 1h1v1h-1zM37 1h1v1h-1zM42 1h1v1h-1zM43 1h1v1h-1zM53 1h1v1h-1zM7 2h1v1h-1zM10 2h1v1h-1zM19 2h1v1h-1zM21 2h1v1h-1zM25 2h1v1h-1zM28 2h1v1h-1zM30 2h1v1h-1zM42 2h1v1h-1zM44 2h1v1h-1zM50 2h1v1h-1zM0 3h1v1h-1zM8 3h1v1h-1zM11 3h1v1h-1zM13 3h1v1h-1zM19 3h1v1h-1zM23 3h1v1h-1zM33 3h1v1h-1zM38 3h1v1h-1zM42 3h1v1h-1zM44 3h1v1h-1zM54 3h1v1h-1zM4 4h1v1h-1zM10 4h1v1h-1zM14 4h1v1h-1zM23 4h1v1h-1zM28 4h1v1h-1zM33 4h1v1h-1zM54 4h1v1h-1zM1 5h1v1h-1zM4 5h1v1h-1zM8 5h1v1h-1zM13 5h1v1h-1zM14 5h1v1h-1zM24 5h1v1h-1zM25 5h1v1h-1zM28 5h1v1h-1zM33 5h1v1h-1zM44 5h1v1h-1zM3 6h1v1h-1zM11 6h1v1h-1zM12 6h1v1h-1zM24 6h1v1h-1zM28 6h1v1h-1zM36 6h1v1h-1zM48 6h1v1h-1zM6 7h1v1h-1zM8 7h1v1h-1zM10 7h1v1h-1zM13 7h1v1h-1zM16 7h1v1h-1zM17 7h1v1h-1zM18 7h1v1h-1zM19 7h1v1h-1zM20 7h1v1h-1zM23 7h1v1h-1zM37 7h1v1h-1zM39 7h1v1h-1zM41 7h1v1h-1zM53 7h1v1h-1zM17 8h1v1h-1zM18 8h1v1h-1zM28 8h1v1h-1zM31 8h1v1h-1zM46 8h1v1h-1zM53 8h1v1h-1zM54 8h1v1h-1zM7 9h1v1h-1zM8 9h1v1h-1zM11 9h1v1h-1zM12 9h1v1h-1zM18 9h1v1h-1zM28 9h1v1h-1zM31 9h1v1h-1zM39 9h1v1h-1zM47 9h1v1h-1zM51 9h1v1h-1zM8 10h1v1h-1zM10 10h1v1h-1zM13 10h1v1h-1zM39 10h1v1h-1zM54 10h1v1h-1zM0 11h1v1h-1zM4 11h1v1h-1zM10 11h1v1h-1zM18 11h1v1h-1zM21 11h1v1h-1zM33 11h1v1h-1zM36 11h1v1h-1zM40 11h1v1h-1zM9 12h1v1h-1zM10 12h1v1h-1zM33 12h1v1h-1zM35 12h1v1h-1zM36 12h1v1h-1zM42 12h1v1h-1zM43 12h1v1h-1zM56 12h1v1h-1zM4 13h1v1h-1zM10 13h1v1h-1zM17 13h1v1h-1zM19 13h1v1h-1zM21 13h1v1h-1zM31 13h1v1h-1zM33 13h1v1h-1zM51 13h1v1h-1zM52 13h1v1h-1zM53 13h1v1h-1zM54 13h1v1h-1z"/>
<path fill="#d9d9e5" d="M16 0h1v1h-1zM18 0h1v1h-1zM29 0h1v1h-1zM30 0h1v1h-1zM31 0h1v1h-1zM34 0h1v1h-1zM36 0h1v1h-1zM42 0h1v1h-1zM51 0h1v1h-1zM57 0h1v1h-1zM8 1h1v1h-1zM11 1h1v1h-1zM17 1h1v1h-1zM18 1h1v1h-1zM20 1h1v1h-1zM22 1h1v1h-1zM24 1h1v1h-1zM34 1h1v1h-1zM36 1h1v1h-1zM38 1h1v1h-1zM39 1h1v1h-1zM45 1h1v1h-1zM46 1h1v1h-1zM50 1h1v1h-1zM4 2h1v1h-1zM22 2h1v1h-1zM24 2h1v1h-1zM26 2h1v1h-1zM37 2h1v1h-1zM47 2h1v1h-1zM4 3h1v1h-1zM7 3h1v1h-1zM10 3h1v1h-1zM12 3h1v1h-1zM14 3h1v1h-1zM20 3h1v1h-1zM24 3h1v1h-1zM25 3h1v1h-1zM28 3h1v1h-1zM34 3h1v1h-1zM36 3h1v1h-1zM45 3h1v1h-1zM0 4h1v1h-1zM7 4h1v1h-1zM8 4h1v1h-1zM17 4h1v1h-1zM20 4h1v1h-1zM21 4h1v1h-1zM30 4h1v1h-1zM40 4h1v1h-1zM41 4h1v1h-1zM42 4h1v1h-1zM50 4h1v1h-1zM55 4h1v1h-1zM5 5h1v1h-1zM16 5h1v1h-1zM18 5h1v1h-1zM22 5h1v1h-1zM30 5h1v1h-1zM32 5h1v1h-1zM34 5h1v1h-1zM37 5h1v1h-1zM41 5h1v1h-1zM42 5h1v1h-1zM46 5h1v1h-1zM48 5h1v1h-1zM5 6h1v1h-1zM10 6h1v1h-1zM19 6h1v1h-1zM21 6h1v1h-1zM22 6h1v1h-1zM23 6h1v1h-1zM29 6h1v1h-1zM32 6h1v1h-1zM33 6h1v1h-1zM42 6h1v1h-1zM4 7h1v1h-1zM5 7h1v1h-1zM21 7h1v1h-1zM24 7h1v1h-1zM33 7h1v1h-1zM42 7h1v1h-1zM44 7h1v1h-1zM52 7h1v1h-1zM4 8h1v1h-1zM12 8h1v1h-1zM19 8h1v1h-1zM25 8h1v1h-1zM32 8h1v1h-1zM38 8h1v1h-1zM39 8h1v1h-1zM42 8h1v1h-1zM44 8h1v1h-1zM47 8h1v1h-1zM51 8h1v1h-1zM19 9h1v1h-1zM20 9h1v1h-1zM21 9h1v1h-1zM22 9h1v1h-1zM23 9h1v1h-1zM29 9h1v1h-1zM30 9h1v1h-1zM32 9h1v1h-1zM33 9h1v1h-1zM34 9h1v1h-1zM36 9h1v1h-1zM37 9h1v1h-1zM42 9h1v1h-1zM50 9h1v1h-1zM4 10h1v1h-1zM5 10h1v1h-1zM7 10h1v1h-1zM11 10h1v1h-1zM14 10h1v1h-1zM16 10h1v1h-1zM18 10h1v1h-1zM19 10h1v1h-1zM21 10h1v1h-1zM23 10h1v1h-1zM25 10h1v1h-1zM30 10h1v1h-1zM31 10h1v1h-1zM36 10h1v1h-1zM42 10h1v1h-1zM5 11h1v1h-1zM11 11h1v1h-1zM16 11h1v1h-1zM25 11h1v1h-1zM28 11h1v1h-1zM34 11h1v1h-1zM37 11h1v1h-1zM39 11h1v1h-1zM48 11h1v1h-1zM51 11h1v1h-1zM52 11h1v1h-1zM1 12h1v1h-1zM3 12h1v1h-1zM4 12h1v1h-1zM7 12h1v1h-1zM11 12h1v1h-1zM14 12h1v1h-1zM16 12h1v1h-1zM17 12h1v1h-1zM18 12h1v1h-1zM19 12h1v1h-1zM20 12h1v1h-1zM23 12h1v1h-1zM25 12h1v1h-1zM29 12h1v1h-1zM30 12h1v1h-1zM37 12h1v1h-1zM39 12h1v1h-1zM40 12h1v1h-1zM48 12h1v1h-1zM50 12h1v1h-1zM3 13h1v1h-1zM9 13h1v1h-1zM11 13h1v1h-1zM18 13h1v1h-1zM36 13h1v1h-1zM40 13h1v1h-1zM41 13h1v1h-1zM45 13h1v1h-1zM46 13h1v1h-1zM57 13h1v1h-1z"/>
<path fill="#8a92c0" d="M2 0h1v1h-1zM7 1h1v1h-1zM15 1h1v1h-1zM3 2h1v1h-1zM56 2h1v1h-1zM3 5h1v1h-1zM0 6h1v1h-1zM15 8h1v1h-1zM56 10h1v1h-1zM15 12h1v1h-1z"/>
<path fill="#b2b6d2" d="M3 0h1v1h-1zM6 0h1v1h-1zM12 0h1v1h-1zM27 0h1v1h-1zM28 0h1v1h-1zM41 0h1v1h-1zM44 0h1v1h-1zM1 2h1v1h-1zM6 2h1v1h-1zM8 2h1v1h-1zM14 2h1v1h-1zM27 2h1v1h-1zM9 3h1v1h-1zM15 3h1v1h-1zM37 3h1v1h-1zM51 3h1v1h-1zM3 4h1v1h-1zM12 4h1v1h-1zM13 4h1v1h-1zM18 4h1v1h-1zM56 4h1v1h-1zM2 5h1v1h-1zM6 5h1v1h-1zM12 5h1v1h-1zM15 5h1v1h-1zM9 6h1v1h-1zM13 6h1v1h-1zM14 6h1v1h-1zM15 6h1v1h-1zM51 6h1v1h-1zM56 6h1v1h-1zM11 7h1v1h-1zM35 7h1v1h-1zM0 8h1v1h-1zM6 8h1v1h-1zM11 8h1v1h-1zM14 8h1v1h-1zM16 8h1v1h-1zM33 8h1v1h-1zM1 9h1v1h-1zM6 9h1v1h-1zM15 9h1v1h-1zM1 10h1v1h-1zM6 10h1v1h-1zM9 10h1v1h-1zM27 10h1v1h-1zM51 10h1v1h-1zM12 11h1v1h-1zM19 11h1v1h-1zM20 11h1v1h-1zM2 12h1v1h-1zM0 13h1v1h-1zM2 13h1v1h-1zM13 13h1v1h-1zM14 13h1v1h-1zM37 13h1v1h-1z"/>
<path fill="#dcc8d2" d="M53 0h1v1h-1zM31 1h1v1h-1zM31 2h1v1h-1zM35 2h1v1h-1zM49 2h1v1h-1zM32 3h1v1h-1zM41 3h1v1h-1zM43 3h1v1h-1zM49 3h1v1h-1zM29 4h1v1h-1zM45 4h1v1h-1zM19 5h1v1h-1zM8 6h1v1h-1zM43 6h1v1h-1zM46 6h1v1h-1zM49 7h1v1h-1zM45 9h1v1h-1zM0 10h1v1h-1zM35 10h1v1h-1zM31 11h1v1h-1zM38 11h1v1h-1zM45 11h1v1h-1zM55 12h1v1h-1zM49 13h1v1h-1z"/>
<path fill="#a5aacc" d="M15 0h1v1h-1zM33 0h1v1h-1zM56 0h1v1h-1zM12 2h1v1h-1zM13 2h1v1h-1zM15 2h1v1h-1zM17 2h1v1h-1zM51 2h1v1h-1zM54 2h1v1h-1zM56 3h1v1h-1zM1 4h1v1h-1zM27 4h1v1h-1zM9 5h1v1h-1zM51 5h1v1h-1zM2 6h1v1h-1zM54 6h1v1h-1zM3 7h1v1h-1zM9 7h1v1h-1zM15 7h1v1h-1zM27 7h1v1h-1zM9 8h1v1h-1zM27 9h1v1h-1zM56 9h1v1h-1zM3 10h1v1h-1zM13 11h1v1h-1zM15 11h1v1h-1zM27 11h1v1h-1zM27 12h1v1h-1zM51 12h1v1h-1zM1 13h1v1h-1z"/>
<path fill="#989ec6" d="M4 1h1v1h-1zM27 1h1v1h-1zM51 1h1v1h-1zM56 1h1v1h-1zM27 3h1v1h-1zM9 4h1v1h-1zM15 4h1v1h-1zM27 5h1v1h-1zM1 6h1v1h-1zM27 6h1v1h-1zM1 7h1v1h-1zM12 7h1v1h-1zM27 8h1v1h-1zM56 8h1v1h-1zM2 10h1v1h-1zM3 11h1v1h-1zM6 11h1v1h-1zM27 13h1v1h-1z"/>
<path fill="#e1d6df" d="M7 0h1v1h-1zM26 0h1v1h-1zM35 0h1v1h-1zM38 0h1v1h-1zM39 0h1v1h-1zM43 0h1v1h-1zM45 0h1v1h-1zM46 0h1v1h-1zM26 1h1v1h-1zM47 1h1v1h-1zM49 1h1v1h-1zM34 2h1v1h-1zM55 2h1v1h-1zM16 3h1v1h-1zM18 3h1v1h-1zM26 3h1v1h-1zM40 3h1v1h-1zM47 3h1v1h-1zM48 3h1v1h-1zM55 3h1v1h-1zM19 4h1v1h-1zM26 4h1v1h-1zM35 4h1v1h-1zM49 4h1v1h-1zM53 4h1v1h-1zM31 5h1v1h-1zM43 5h1v1h-1zM55 5h1v1h-1zM4 6h1v1h-1zM7 6h1v1h-1zM35 6h1v1h-1zM38 6h1v1h-1zM50 6h1v1h-1zM53 6h1v1h-1zM22 7h1v1h-1zM32 7h1v1h-1zM43 7h1v1h-1zM45 7h1v1h-1zM55 7h1v1h-1zM7 8h1v1h-1zM26 8h1v1h-1zM34 8h1v1h-1zM43 8h1v1h-1zM48 8h1v1h-1zM49 8h1v1h-1zM24 9h1v1h-1zM35 9h1v1h-1zM43 9h1v1h-1zM49 9h1v1h-1zM26 10h1v1h-1zM28 10h1v1h-1zM38 10h1v1h-1zM43 10h1v1h-1zM49 10h1v1h-1zM55 10h1v1h-1zM35 11h1v1h-1zM43 11h1v1h-1zM53 11h1v1h-1zM57 12h1v1h-1zM26 13h1v1h-1zM32 13h1v1h-1zM47 13h1v1h-1zM55 13h1v1h-1z"/>
<path fill="#7d86ba" d="M9 1h1v1h-1zM56 7h1v1h-1z"/>
<path fill="#636eae" d="M9 2h1v1h-1z"/>
<path fill="#707ab4" d="M43 2h1v1h-1zM13 9h1v1h-1z"/>
<path fill="#5663a7" d="M13 12h1v1h-1z"/>
<path fill="#d3aaba" d="M26 5h1v1h-1z"/>
<path fill="#d8b9c6" d="M49 6h1v1h-1zM55 8h1v1h-1z"/>
<path fill="#c47e95" d="M49 12h1v1h-1z"/>
<path fill="#ce9bae" d="M55 1h1v1h-1z"/>
</g>
<g transform="translate(282.50,346.90) scale(1.7431,6.3200)">
<path fill="#d9d9e5" d="M0 0h1v1h-1zM1 0h1v1h-1zM6 0h1v1h-1zM20 0h1v1h-1zM24 0h1v1h-1zM25 0h1v1h-1zM26 0h1v1h-1zM41 0h1v1h-1zM44 0h1v1h-1zM20 1h1v1h-1zM39 1h1v1h-1zM49 1h1v1h-1zM53 1h1v1h-1zM6 2h1v1h-1zM10 2h1v1h-1zM16 2h1v1h-1zM17 2h1v1h-1zM24 2h1v1h-1zM33 2h1v1h-1zM35 2h1v1h-1zM37 2h1v1h-1zM38 2h1v1h-1zM49 2h1v1h-1zM5 3h1v1h-1zM6 3h1v1h-1zM12 3h1v1h-1zM24 3h1v1h-1zM26 3h1v1h-1zM39 3h1v1h-1zM1 4h1v1h-1zM20 4h1v1h-1zM25 4h1v1h-1zM37 4h1v1h-1zM38 4h1v1h-1zM52 4h1v1h-1zM57 4h1v1h-1zM6 5h1v1h-1zM22 5h1v1h-1zM35 5h1v1h-1zM47 5h1v1h-1zM49 5h1v1h-1zM0 6h1v1h-1zM20 6h1v1h-1zM23 6h1v1h-1zM39 6h1v1h-1zM40 6h1v1h-1zM0 7h1v1h-1zM2 7h1v1h-1zM15 7h1v1h-1zM20 7h1v1h-1zM26 7h1v1h-1zM27 7h1v1h-1zM30 7h1v1h-1zM36 7h1v1h-1zM37 7h1v1h-1zM45 7h1v1h-1zM54 7h1v1h-1zM1 8h1v1h-1zM10 8h1v1h-1zM16 8h1v1h-1zM26 8h1v1h-1zM32 8h1v1h-1zM37 8h1v1h-1zM42 8h1v1h-1zM45 8h1v1h-1zM5 9h1v1h-1zM26 9h1v1h-1zM35 9h1v1h-1zM36 9h1v1h-1zM42 9h1v1h-1zM45 9h1v1h-1zM0 10h1v1h-1zM20 10h1v1h-1zM25 10h1v1h-1zM30 10h1v1h-1zM34 10h1v1h-1zM37 10h1v1h-1zM54 10h1v1h-1zM1 11h1v1h-1zM8 11h1v1h-1zM24 11h1v1h-1zM26 11h1v1h-1zM30 11h1v1h-1zM35 11h1v1h-1zM36 11h1v1h-1zM45 11h1v1h-1zM51 11h1v1h-1zM0 12h1v1h-1zM1 12h1v1h-1zM12 12h1v1h-1zM24 12h1v1h-1zM38 12h1v1h-1zM39 12h1v1h-1zM57 12h1v1h-1zM10 13h1v1h-1zM37 13h1v1h-1zM45 13h1v1h-1zM49 13h1v1h-1zM0 14h1v1h-1zM1 14h1v1h-1zM8 14h1v1h-1zM36 14h1v1h-1zM42 14h1v1h-1zM51 14h1v1h-1zM52 14h1v1h-1z"/>
<path fill="#cccddf" d="M38 0h1v1h-1zM39 0h1v1h-1zM25 1h1v1h-1zM30 1h1v1h-1zM36 1h1v1h-1zM0 2h1v1h-1zM20 2h1v1h-1zM52 2h1v1h-1zM38 3h1v1h-1zM49 3h1v1h-1zM51 3h1v1h-1zM53 3h1v1h-1zM49 4h1v1h-1zM53 4h1v1h-1zM0 5h1v1h-1zM12 5h1v1h-1zM20 5h1v1h-1zM26 5h1v1h-1zM30 5h1v1h-1zM36 5h1v1h-1zM38 5h1v1h-1zM39 5h1v1h-1zM51 5h1v1h-1zM35 6h1v1h-1zM49 6h1v1h-1zM39 7h1v1h-1zM49 7h1v1h-1zM20 8h1v1h-1zM49 8h1v1h-1zM16 9h1v1h-1zM22 9h1v1h-1zM12 10h1v1h-1zM38 10h1v1h-1zM0 11h1v1h-1zM38 11h1v1h-1zM49 11h1v1h-1zM52 11h1v1h-1zM49 12h1v1h-1zM51 12h1v1h-1zM0 13h1v1h-1zM36 13h1v1h-1zM38 13h1v1h-1zM35 14h1v1h-1zM57 14h1v1h-1z"/>
<path fill="#e1d6df" d="M4 0h1v1h-1zM5 0h1v1h-1zM8 0h1v1h-1zM13 0h1v1h-1zM18 0h1v1h-1zM23 0h1v1h-1zM30 0h1v1h-1zM42 0h1v1h-1zM50 0h1v1h-1zM13 1h1v1h-1zM27 1h1v1h-1zM32 1h1v1h-1zM34 1h1v1h-1zM37 1h1v1h-1zM43 1h1v1h-1zM44 1h1v1h-1zM50 1h1v1h-1zM55 1h1v1h-1zM3 2h1v1h-1zM8 2h1v1h-1zM13 2h1v1h-1zM22 2h1v1h-1zM23 2h1v1h-1zM25 2h1v1h-1zM26 2h1v1h-1zM31 2h1v1h-1zM34 2h1v1h-1zM41 2h1v1h-1zM44 2h1v1h-1zM47 2h1v1h-1zM50 2h1v1h-1zM0 3h1v1h-1zM3 3h1v1h-1zM4 3h1v1h-1zM7 3h1v1h-1zM13 3h1v1h-1zM15 3h1v1h-1zM17 3h1v1h-1zM19 3h1v1h-1zM28 3h1v1h-1zM32 3h1v1h-1zM33 3h1v1h-1zM40 3h1v1h-1zM42 3h1v1h-1zM47 3h1v1h-1zM2 4h1v1h-1zM10 4h1v1h-1zM14 4h1v1h-1zM15 4h1v1h-1zM17 4h1v1h-1zM19 4h1v1h-1zM27 4h1v1h-1zM28 4h1v1h-1zM31 4h1v1h-1zM39 4h1v1h-1zM40 4h1v1h-1zM42 4h1v1h-1zM44 4h1v1h-1zM48 4h1v1h-1zM50 4h1v1h-1zM54 4h1v1h-1zM55 4h1v1h-1zM56 4h1v1h-1zM5 5h1v1h-1zM7 5h1v1h-1zM13 5h1v1h-1zM14 5h1v1h-1zM18 5h1v1h-1zM27 5h1v1h-1zM33 5h1v1h-1zM34 5h1v1h-1zM37 5h1v1h-1zM40 5h1v1h-1zM41 5h1v1h-1zM42 5h1v1h-1zM44 5h1v1h-1zM45 5h1v1h-1zM46 5h1v1h-1zM48 5h1v1h-1zM50 5h1v1h-1zM52 5h1v1h-1zM1 6h1v1h-1zM5 6h1v1h-1zM6 6h1v1h-1zM8 6h1v1h-1zM13 6h1v1h-1zM14 6h1v1h-1zM17 6h1v1h-1zM22 6h1v1h-1zM25 6h1v1h-1zM26 6h1v1h-1zM27 6h1v1h-1zM34 6h1v1h-1zM43 6h1v1h-1zM46 6h1v1h-1zM47 6h1v1h-1zM54 6h1v1h-1zM55 6h1v1h-1zM7 7h1v1h-1zM22 7h1v1h-1zM29 7h1v1h-1zM41 7h1v1h-1zM44 7h1v1h-1zM48 7h1v1h-1zM50 7h1v1h-1zM55 7h1v1h-1zM56 7h1v1h-1zM13 8h1v1h-1zM15 8h1v1h-1zM17 8h1v1h-1zM21 8h1v1h-1zM22 8h1v1h-1zM25 8h1v1h-1zM27 8h1v1h-1zM35 8h1v1h-1zM38 8h1v1h-1zM39 8h1v1h-1zM47 8h1v1h-1zM54 8h1v1h-1zM2 9h1v1h-1zM4 9h1v1h-1zM6 9h1v1h-1zM8 9h1v1h-1zM17 9h1v1h-1zM28 9h1v1h-1zM31 9h1v1h-1zM40 9h1v1h-1zM44 9h1v1h-1zM47 9h1v1h-1zM48 9h1v1h-1zM54 9h1v1h-1zM56 9h1v1h-1zM1 10h1v1h-1zM6 10h1v1h-1zM13 10h1v1h-1zM14 10h1v1h-1zM15 10h1v1h-1zM16 10h1v1h-1zM22 10h1v1h-1zM31 10h1v1h-1zM33 10h1v1h-1zM39 10h1v1h-1zM42 10h1v1h-1zM48 10h1v1h-1zM52 10h1v1h-1zM57 10h1v1h-1zM3 11h1v1h-1zM7 11h1v1h-1zM14 11h1v1h-1zM15 11h1v1h-1zM16 11h1v1h-1zM18 11h1v1h-1zM19 11h1v1h-1zM23 11h1v1h-1zM42 11h1v1h-1zM46 11h1v1h-1zM48 11h1v1h-1zM11 12h1v1h-1zM13 12h1v1h-1zM14 12h1v1h-1zM18 12h1v1h-1zM28 12h1v1h-1zM31 12h1v1h-1zM33 12h1v1h-1zM35 12h1v1h-1zM36 12h1v1h-1zM44 12h1v1h-1zM52 12h1v1h-1zM56 12h1v1h-1zM3 13h1v1h-1zM6 13h1v1h-1zM13 13h1v1h-1zM15 13h1v1h-1zM18 13h1v1h-1zM19 13h1v1h-1zM24 13h1v1h-1zM29 13h1v1h-1zM31 13h1v1h-1zM33 13h1v1h-1zM35 13h1v1h-1zM43 13h1v1h-1zM44 13h1v1h-1zM54 13h1v1h-1zM56 13h1v1h-1zM2 14h1v1h-1zM5 14h1v1h-1zM10 14h1v1h-1zM13 14h1v1h-1zM15 14h1v1h-1zM17 14h1v1h-1zM23 14h1v1h-1zM26 14h1v1h-1zM30 14h1v1h-1zM32 14h1v1h-1zM40 14h1v1h-1zM45 14h1v1h-1zM47 14h1v1h-1z"/>
<path fill="#dcc8d2" d="M3 0h1v1h-1zM7 0h1v1h-1zM14 0h1v1h-1zM19 0h1v1h-1zM28 0h1v1h-1zM29 0h1v1h-1zM31 0h1v1h-1zM40 0h1v1h-1zM43 0h1v1h-1zM55 0h1v1h-1zM2 1h1v1h-1zM3 1h1v1h-1zM7 1h1v1h-1zM8 1h1v1h-1zM10 1h1v1h-1zM15 1h1v1h-1zM18 1h1v1h-1zM19 1h1v1h-1zM21 1h1v1h-1zM28 1h1v1h-1zM29 1h1v1h-1zM35 1h1v1h-1zM42 1h1v1h-1zM46 1h1v1h-1zM56 1h1v1h-1zM57 1h1v1h-1zM4 2h1v1h-1zM5 2h1v1h-1zM7 2h1v1h-1zM14 2h1v1h-1zM15 2h1v1h-1zM39 2h1v1h-1zM42 2h1v1h-1zM43 2h1v1h-1zM53 2h1v1h-1zM56 2h1v1h-1zM2 3h1v1h-1zM18 3h1v1h-1zM21 3h1v1h-1zM27 3h1v1h-1zM31 3h1v1h-1zM36 3h1v1h-1zM41 3h1v1h-1zM43 3h1v1h-1zM46 3h1v1h-1zM48 3h1v1h-1zM55 3h1v1h-1zM56 3h1v1h-1zM8 4h1v1h-1zM18 4h1v1h-1zM21 4h1v1h-1zM35 4h1v1h-1zM8 5h1v1h-1zM32 5h1v1h-1zM43 5h1v1h-1zM55 5h1v1h-1zM7 6h1v1h-1zM29 6h1v1h-1zM31 6h1v1h-1zM52 6h1v1h-1zM56 6h1v1h-1zM3 7h1v1h-1zM13 7h1v1h-1zM14 7h1v1h-1zM23 7h1v1h-1zM25 7h1v1h-1zM31 7h1v1h-1zM33 7h1v1h-1zM46 7h1v1h-1zM0 8h1v1h-1zM4 8h1v1h-1zM18 8h1v1h-1zM19 8h1v1h-1zM23 8h1v1h-1zM29 8h1v1h-1zM43 8h1v1h-1zM50 8h1v1h-1zM3 9h1v1h-1zM9 9h1v1h-1zM27 9h1v1h-1zM43 9h1v1h-1zM46 9h1v1h-1zM50 9h1v1h-1zM5 10h1v1h-1zM19 10h1v1h-1zM21 10h1v1h-1zM23 10h1v1h-1zM43 10h1v1h-1zM44 10h1v1h-1zM46 10h1v1h-1zM56 10h1v1h-1zM2 11h1v1h-1zM17 11h1v1h-1zM31 11h1v1h-1zM43 11h1v1h-1zM44 11h1v1h-1zM47 11h1v1h-1zM4 12h1v1h-1zM6 12h1v1h-1zM7 12h1v1h-1zM27 12h1v1h-1zM30 12h1v1h-1zM34 12h1v1h-1zM41 12h1v1h-1zM43 12h1v1h-1zM46 12h1v1h-1zM47 12h1v1h-1zM4 13h1v1h-1zM5 13h1v1h-1zM7 13h1v1h-1zM17 13h1v1h-1zM26 13h1v1h-1zM34 13h1v1h-1zM46 13h1v1h-1zM48 13h1v1h-1zM50 13h1v1h-1zM3 14h1v1h-1zM4 14h1v1h-1zM14 14h1v1h-1zM19 14h1v1h-1zM22 14h1v1h-1zM28 14h1v1h-1zM29 14h1v1h-1zM31 14h1v1h-1zM50 14h1v1h-1zM56 14h1v1h-1z"/>
<path fill="#bfc1d9" d="M49 0h1v1h-1zM51 0h1v1h-1zM38 1h1v1h-1zM8 3h1v1h-1zM36 4h1v1h-1zM2 6h1v1h-1zM12 6h1v1h-1zM15 6h1v1h-1zM38 6h1v1h-1zM12 7h1v1h-1zM5 8h1v1h-1zM0 9h1v1h-1zM12 9h1v1h-1zM38 9h1v1h-1zM39 9h1v1h-1zM49 9h1v1h-1zM49 10h1v1h-1zM20 12h1v1h-1zM42 12h1v1h-1zM12 13h1v1h-1zM49 14h1v1h-1z"/>
<path fill="#d8b9c6" d="M9 0h1v1h-1zM27 0h1v1h-1zM46 0h1v1h-1zM56 0h1v1h-1zM9 1h1v1h-1zM11 1h1v1h-1zM33 1h1v1h-1zM40 1h1v1h-1zM18 2h1v1h-1zM29 2h1v1h-1zM55 2h1v1h-1zM11 3h1v1h-1zM4 4h1v1h-1zM7 4h1v1h-1zM16 4h1v1h-1zM29 4h1v1h-1zM43 4h1v1h-1zM4 5h1v1h-1zM9 5h1v1h-1zM11 5h1v1h-1zM23 5h1v1h-1zM3 6h1v1h-1zM4 6h1v1h-1zM19 6h1v1h-1zM11 7h1v1h-1zM43 7h1v1h-1zM9 8h1v1h-1zM11 8h1v1h-1zM7 9h1v1h-1zM13 9h1v1h-1zM18 9h1v1h-1zM33 9h1v1h-1zM4 10h1v1h-1zM7 10h1v1h-1zM18 10h1v1h-1zM28 10h1v1h-1zM29 10h1v1h-1zM50 10h1v1h-1zM4 11h1v1h-1zM13 11h1v1h-1zM3 12h1v1h-1zM19 12h1v1h-1zM21 12h1v1h-1zM50 12h1v1h-1zM9 13h1v1h-1zM23 13h1v1h-1zM7 14h1v1h-1zM9 14h1v1h-1zM21 14h1v1h-1z"/>
<path fill="#d3aaba" d="M11 0h1v1h-1zM21 0h1v1h-1zM4 1h1v1h-1zM17 1h1v1h-1zM21 2h1v1h-1zM29 3h1v1h-1zM50 3h1v1h-1zM9 4h1v1h-1zM19 5h1v1h-1zM29 5h1v1h-1zM31 5h1v1h-1zM9 6h1v1h-1zM18 6h1v1h-1zM21 6h1v1h-1zM9 7h1v1h-1zM19 7h1v1h-1zM21 7h1v1h-1zM7 8h1v1h-1zM46 8h1v1h-1zM15 9h1v1h-1zM21 9h1v1h-1zM9 11h1v1h-1zM11 11h1v1h-1zM29 11h1v1h-1zM9 12h1v1h-1zM43 14h1v1h-1zM44 14h1v1h-1z"/>
<path fill="#c98da1" d="M9 2h1v1h-1zM11 2h1v1h-1zM11 9h1v1h-1zM11 13h1v1h-1z"/>
<path fill="#ce9bae" d="M9 3h1v1h-1zM11 4h1v1h-1zM21 5h1v1h-1zM11 6h1v1h-1zM50 6h1v1h-1zM53 7h1v1h-1zM31 8h1v1h-1zM9 10h1v1h-1zM41 10h1v1h-1zM21 11h1v1h-1zM21 13h1v1h-1zM11 14h1v1h-1z"/>
<path fill="#a5aacc" d="M38 7h1v1h-1zM12 8h1v1h-1zM10 10h1v1h-1zM10 12h1v1h-1z"/>
<path fill="#c47e95" d="M11 10h1v1h-1z"/>
<path fill="#b2b6d2" d="M12 0h1v1h-1zM12 4h1v1h-1zM30 6h1v1h-1zM20 13h1v1h-1zM51 13h1v1h-1zM12 14h1v1h-1zM37 14h1v1h-1z"/>
<path fill="#989ec6" d="M12 1h1v1h-1z"/>
<path fill="#4957a1" d="M12 2h1v1h-1z"/>
</g>
<g transform="translate(385.90,257.30) scale(1.7619,6.3071)">
<path fill="#ce9bae" d="M0 0h1v1h-1zM1 0h1v1h-1zM61 1h1v1h-1zM39 4h1v1h-1zM56 4h1v1h-1zM1 5h1v1h-1zM3 6h1v1h-1zM12 7h1v1h-1zM0 9h1v1h-1zM1 9h1v1h-1zM0 11h1v1h-1zM11 12h1v1h-1zM20 13h1v1h-1z"/>
<path fill="#d3aaba" d="M27 0h1v1h-1zM30 0h1v1h-1zM0 1h1v1h-1zM12 1h1v1h-1zM34 1h1v1h-1zM1 2h1v1h-1zM2 2h1v1h-1zM47 2h1v1h-1zM14 3h1v1h-1zM37 3h1v1h-1zM56 3h1v1h-1zM16 4h1v1h-1zM0 5h1v1h-1zM24 5h1v1h-1zM26 5h1v1h-1zM56 5h1v1h-1zM11 6h1v1h-1zM19 7h1v1h-1zM24 7h1v1h-1zM21 8h1v1h-1zM12 9h1v1h-1zM19 9h1v1h-1zM21 10h1v1h-1zM57 10h1v1h-1zM1 11h1v1h-1zM26 11h1v1h-1zM30 11h1v1h-1zM31 12h1v1h-1zM24 13h1v1h-1zM37 13h1v1h-1zM51 13h1v1h-1z"/>
<path fill="#d8b9c6" d="M12 0h1v1h-1zM38 0h1v1h-1zM47 0h1v1h-1zM57 0h1v1h-1zM1 1h1v1h-1zM31 1h1v1h-1zM37 1h1v1h-1zM0 2h1v1h-1zM7 2h1v1h-1zM12 2h1v1h-1zM40 2h1v1h-1zM12 3h1v1h-1zM45 3h1v1h-1zM57 3h1v1h-1zM0 4h1v1h-1zM10 4h1v1h-1zM12 4h1v1h-1zM19 4h1v1h-1zM22 4h1v1h-1zM24 4h1v1h-1zM29 4h1v1h-1zM11 5h1v1h-1zM12 5h1v1h-1zM18 5h1v1h-1zM27 5h1v1h-1zM30 5h1v1h-1zM31 5h1v1h-1zM37 5h1v1h-1zM55 5h1v1h-1zM60 5h1v1h-1zM0 6h1v1h-1zM1 6h1v1h-1zM6 6h1v1h-1zM22 6h1v1h-1zM26 6h1v1h-1zM30 6h1v1h-1zM0 7h1v1h-1zM1 7h1v1h-1zM20 7h1v1h-1zM47 7h1v1h-1zM58 7h1v1h-1zM61 7h1v1h-1zM0 8h1v1h-1zM19 8h1v1h-1zM47 8h1v1h-1zM50 8h1v1h-1zM61 8h1v1h-1zM30 9h1v1h-1zM37 9h1v1h-1zM0 10h1v1h-1zM1 10h1v1h-1zM22 10h1v1h-1zM31 10h1v1h-1zM19 11h1v1h-1zM24 11h1v1h-1zM61 11h1v1h-1zM1 12h1v1h-1zM19 12h1v1h-1zM37 12h1v1h-1zM55 12h1v1h-1zM58 12h1v1h-1zM61 12h1v1h-1zM0 13h1v1h-1zM1 13h1v1h-1zM15 13h1v1h-1zM27 13h1v1h-1zM31 13h1v1h-1zM43 13h1v1h-1zM47 13h1v1h-1zM62 13h1v1h-1z"/>
<path fill="#dcc8d2" d="M6 0h1v1h-1zM14 0h1v1h-1zM15 0h1v1h-1zM16 0h1v1h-1zM19 0h1v1h-1zM22 0h1v1h-1zM24 0h1v1h-1zM29 0h1v1h-1zM31 0h1v1h-1zM33 0h1v1h-1zM39 0h1v1h-1zM45 0h1v1h-1zM58 0h1v1h-1zM60 0h1v1h-1zM61 0h1v1h-1zM6 1h1v1h-1zM10 1h1v1h-1zM16 1h1v1h-1zM22 1h1v1h-1zM28 1h1v1h-1zM38 1h1v1h-1zM55 1h1v1h-1zM57 1h1v1h-1zM60 1h1v1h-1zM18 2h1v1h-1zM26 2h1v1h-1zM27 2h1v1h-1zM30 2h1v1h-1zM34 2h1v1h-1zM37 2h1v1h-1zM44 2h1v1h-1zM53 2h1v1h-1zM54 2h1v1h-1zM56 2h1v1h-1zM0 3h1v1h-1zM11 3h1v1h-1zM18 3h1v1h-1zM19 3h1v1h-1zM24 3h1v1h-1zM27 3h1v1h-1zM31 3h1v1h-1zM33 3h1v1h-1zM47 3h1v1h-1zM50 3h1v1h-1zM51 3h1v1h-1zM53 3h1v1h-1zM58 3h1v1h-1zM61 3h1v1h-1zM1 4h1v1h-1zM11 4h1v1h-1zM15 4h1v1h-1zM21 4h1v1h-1zM26 4h1v1h-1zM27 4h1v1h-1zM30 4h1v1h-1zM34 4h1v1h-1zM37 4h1v1h-1zM38 4h1v1h-1zM43 4h1v1h-1zM48 4h1v1h-1zM57 4h1v1h-1zM61 4h1v1h-1zM9 5h1v1h-1zM19 5h1v1h-1zM21 5h1v1h-1zM29 5h1v1h-1zM34 5h1v1h-1zM50 5h1v1h-1zM57 5h1v1h-1zM7 6h1v1h-1zM10 6h1v1h-1zM14 6h1v1h-1zM16 6h1v1h-1zM21 6h1v1h-1zM24 6h1v1h-1zM27 6h1v1h-1zM29 6h1v1h-1zM31 6h1v1h-1zM36 6h1v1h-1zM37 6h1v1h-1zM46 6h1v1h-1zM47 6h1v1h-1zM61 6h1v1h-1zM16 7h1v1h-1zM21 7h1v1h-1zM26 7h1v1h-1zM27 7h1v1h-1zM30 7h1v1h-1zM31 7h1v1h-1zM33 7h1v1h-1zM38 7h1v1h-1zM56 7h1v1h-1zM1 8h1v1h-1zM6 8h1v1h-1zM11 8h1v1h-1zM14 8h1v1h-1zM18 8h1v1h-1zM27 8h1v1h-1zM29 8h1v1h-1zM30 8h1v1h-1zM33 8h1v1h-1zM34 8h1v1h-1zM37 8h1v1h-1zM44 8h1v1h-1zM56 8h1v1h-1zM57 8h1v1h-1zM11 9h1v1h-1zM18 9h1v1h-1zM21 9h1v1h-1zM24 9h1v1h-1zM26 9h1v1h-1zM27 9h1v1h-1zM31 9h1v1h-1zM49 9h1v1h-1zM50 9h1v1h-1zM56 9h1v1h-1zM61 9h1v1h-1zM11 10h1v1h-1zM12 10h1v1h-1zM16 10h1v1h-1zM20 10h1v1h-1zM24 10h1v1h-1zM26 10h1v1h-1zM30 10h1v1h-1zM33 10h1v1h-1zM34 10h1v1h-1zM49 10h1v1h-1zM50 10h1v1h-1zM53 10h1v1h-1zM56 10h1v1h-1zM60 10h1v1h-1zM61 10h1v1h-1zM10 11h1v1h-1zM27 11h1v1h-1zM29 11h1v1h-1zM45 11h1v1h-1zM47 11h1v1h-1zM62 11h1v1h-1zM7 12h1v1h-1zM12 12h1v1h-1zM17 12h1v1h-1zM22 12h1v1h-1zM24 12h1v1h-1zM27 12h1v1h-1zM29 12h1v1h-1zM30 12h1v1h-1zM38 12h1v1h-1zM47 12h1v1h-1zM53 12h1v1h-1zM56 12h1v1h-1zM6 13h1v1h-1zM8 13h1v1h-1zM11 13h1v1h-1zM12 13h1v1h-1zM22 13h1v1h-1zM41 13h1v1h-1zM44 13h1v1h-1zM49 13h1v1h-1zM56 13h1v1h-1z"/>
<path fill="#c47e95" d="M11 0h1v1h-1zM0 12h1v1h-1z"/>
<path fill="#c98da1" d="M1 3h1v1h-1zM12 8h1v1h-1zM33 12h1v1h-1z"/>
<path fill="#e1d6df" d="M9 0h1v1h-1zM18 0h1v1h-1zM26 0h1v1h-1zM34 0h1v1h-1zM44 0h1v1h-1zM49 0h1v1h-1zM50 0h1v1h-1zM52 0h1v1h-1zM54 0h1v1h-1zM55 0h1v1h-1zM2 1h1v1h-1zM3 1h1v1h-1zM8 1h1v1h-1zM11 1h1v1h-1zM19 1h1v1h-1zM20 1h1v1h-1zM21 1h1v1h-1zM24 1h1v1h-1zM26 1h1v1h-1zM29 1h1v1h-1zM33 1h1v1h-1zM39 1h1v1h-1zM40 1h1v1h-1zM41 1h1v1h-1zM43 1h1v1h-1zM45 1h1v1h-1zM48 1h1v1h-1zM50 1h1v1h-1zM53 1h1v1h-1zM56 1h1v1h-1zM6 2h1v1h-1zM10 2h1v1h-1zM11 2h1v1h-1zM14 2h1v1h-1zM15 2h1v1h-1zM16 2h1v1h-1zM19 2h1v1h-1zM20 2h1v1h-1zM21 2h1v1h-1zM22 2h1v1h-1zM24 2h1v1h-1zM31 2h1v1h-1zM33 2h1v1h-1zM39 2h1v1h-1zM43 2h1v1h-1zM48 2h1v1h-1zM49 2h1v1h-1zM50 2h1v1h-1zM51 2h1v1h-1zM58 2h1v1h-1zM61 2h1v1h-1zM7 3h1v1h-1zM8 3h1v1h-1zM10 3h1v1h-1zM20 3h1v1h-1zM21 3h1v1h-1zM28 3h1v1h-1zM29 3h1v1h-1zM30 3h1v1h-1zM32 3h1v1h-1zM34 3h1v1h-1zM39 3h1v1h-1zM44 3h1v1h-1zM46 3h1v1h-1zM55 3h1v1h-1zM3 4h1v1h-1zM6 4h1v1h-1zM9 4h1v1h-1zM14 4h1v1h-1zM18 4h1v1h-1zM28 4h1v1h-1zM44 4h1v1h-1zM49 4h1v1h-1zM51 4h1v1h-1zM53 4h1v1h-1zM55 4h1v1h-1zM58 4h1v1h-1zM62 4h1v1h-1zM5 5h1v1h-1zM7 5h1v1h-1zM8 5h1v1h-1zM13 5h1v1h-1zM14 5h1v1h-1zM16 5h1v1h-1zM23 5h1v1h-1zM28 5h1v1h-1zM33 5h1v1h-1zM38 5h1v1h-1zM40 5h1v1h-1zM43 5h1v1h-1zM44 5h1v1h-1zM47 5h1v1h-1zM49 5h1v1h-1zM51 5h1v1h-1zM53 5h1v1h-1zM58 5h1v1h-1zM59 5h1v1h-1zM12 6h1v1h-1zM15 6h1v1h-1zM18 6h1v1h-1zM19 6h1v1h-1zM33 6h1v1h-1zM38 6h1v1h-1zM39 6h1v1h-1zM40 6h1v1h-1zM42 6h1v1h-1zM45 6h1v1h-1zM49 6h1v1h-1zM51 6h1v1h-1zM54 6h1v1h-1zM56 6h1v1h-1zM57 6h1v1h-1zM58 6h1v1h-1zM62 6h1v1h-1zM3 7h1v1h-1zM4 7h1v1h-1zM9 7h1v1h-1zM14 7h1v1h-1zM22 7h1v1h-1zM23 7h1v1h-1zM29 7h1v1h-1zM34 7h1v1h-1zM35 7h1v1h-1zM39 7h1v1h-1zM44 7h1v1h-1zM46 7h1v1h-1zM51 7h1v1h-1zM53 7h1v1h-1zM55 7h1v1h-1zM57 7h1v1h-1zM2 8h1v1h-1zM10 8h1v1h-1zM15 8h1v1h-1zM16 8h1v1h-1zM20 8h1v1h-1zM22 8h1v1h-1zM24 8h1v1h-1zM31 8h1v1h-1zM38 8h1v1h-1zM51 8h1v1h-1zM58 8h1v1h-1zM62 8h1v1h-1zM8 9h1v1h-1zM10 9h1v1h-1zM14 9h1v1h-1zM16 9h1v1h-1zM20 9h1v1h-1zM22 9h1v1h-1zM34 9h1v1h-1zM39 9h1v1h-1zM43 9h1v1h-1zM45 9h1v1h-1zM54 9h1v1h-1zM55 9h1v1h-1zM57 9h1v1h-1zM58 9h1v1h-1zM60 9h1v1h-1zM8 10h1v1h-1zM9 10h1v1h-1zM10 10h1v1h-1zM15 10h1v1h-1zM19 10h1v1h-1zM27 10h1v1h-1zM29 10h1v1h-1zM32 10h1v1h-1zM37 10h1v1h-1zM43 10h1v1h-1zM44 10h1v1h-1zM51 10h1v1h-1zM55 10h1v1h-1zM58 10h1v1h-1zM62 10h1v1h-1zM6 11h1v1h-1zM7 11h1v1h-1zM11 11h1v1h-1zM12 11h1v1h-1zM15 11h1v1h-1zM16 11h1v1h-1zM18 11h1v1h-1zM20 11h1v1h-1zM21 11h1v1h-1zM22 11h1v1h-1zM32 11h1v1h-1zM33 11h1v1h-1zM37 11h1v1h-1zM41 11h1v1h-1zM51 11h1v1h-1zM55 11h1v1h-1zM57 11h1v1h-1zM4 12h1v1h-1zM6 12h1v1h-1zM8 12h1v1h-1zM9 12h1v1h-1zM15 12h1v1h-1zM16 12h1v1h-1zM18 12h1v1h-1zM20 12h1v1h-1zM21 12h1v1h-1zM25 12h1v1h-1zM26 12h1v1h-1zM34 12h1v1h-1zM43 12h1v1h-1zM46 12h1v1h-1zM50 12h1v1h-1zM51 12h1v1h-1zM52 12h1v1h-1zM57 12h1v1h-1zM7 13h1v1h-1zM9 13h1v1h-1zM10 13h1v1h-1zM13 13h1v1h-1zM14 13h1v1h-1zM21 13h1v1h-1zM26 13h1v1h-1zM28 13h1v1h-1zM30 13h1v1h-1zM36 13h1v1h-1zM38 13h1v1h-1zM46 13h1v1h-1zM50 13h1v1h-1zM52 13h1v1h-1zM54 13h1v1h-1zM57 13h1v1h-1zM58 13h1v1h-1zM60 13h1v1h-1zM61 13h1v1h-1z"/>
<path fill="#d9d9e5" d="M4 0h1v1h-1zM25 0h1v1h-1zM28 0h1v1h-1zM59 0h1v1h-1zM5 1h1v1h-1zM14 1h1v1h-1zM15 1h1v1h-1zM42 1h1v1h-1zM62 1h1v1h-1zM5 2h1v1h-1zM9 2h1v1h-1zM25 2h1v1h-1zM38 2h1v1h-1zM42 2h1v1h-1zM46 2h1v1h-1zM52 2h1v1h-1zM60 2h1v1h-1zM42 3h1v1h-1zM48 3h1v1h-1zM2 4h1v1h-1zM25 4h1v1h-1zM59 4h1v1h-1zM60 4h1v1h-1zM35 5h1v1h-1zM36 5h1v1h-1zM41 5h1v1h-1zM48 5h1v1h-1zM52 5h1v1h-1zM35 6h1v1h-1zM41 6h1v1h-1zM52 6h1v1h-1zM8 7h1v1h-1zM15 7h1v1h-1zM28 7h1v1h-1zM32 7h1v1h-1zM41 7h1v1h-1zM52 7h1v1h-1zM59 7h1v1h-1zM5 8h1v1h-1zM9 8h1v1h-1zM25 8h1v1h-1zM42 8h1v1h-1zM43 8h1v1h-1zM52 8h1v1h-1zM55 8h1v1h-1zM3 9h1v1h-1zM25 9h1v1h-1zM35 9h1v1h-1zM36 9h1v1h-1zM48 9h1v1h-1zM52 9h1v1h-1zM2 10h1v1h-1zM3 10h1v1h-1zM4 10h1v1h-1zM5 10h1v1h-1zM13 10h1v1h-1zM25 10h1v1h-1zM36 10h1v1h-1zM42 10h1v1h-1zM52 10h1v1h-1zM5 11h1v1h-1zM17 11h1v1h-1zM40 11h1v1h-1zM43 11h1v1h-1zM56 11h1v1h-1zM3 12h1v1h-1zM5 12h1v1h-1zM49 12h1v1h-1zM35 13h1v1h-1zM55 13h1v1h-1zM59 13h1v1h-1z"/>
<path fill="#cccddf" d="M3 0h1v1h-1zM5 0h1v1h-1zM17 0h1v1h-1zM40 0h1v1h-1zM42 0h1v1h-1zM4 1h1v1h-1zM17 2h1v1h-1zM41 2h1v1h-1zM4 3h1v1h-1zM6 3h1v1h-1zM17 3h1v1h-1zM25 3h1v1h-1zM59 3h1v1h-1zM46 4h1v1h-1zM42 5h1v1h-1zM59 6h1v1h-1zM25 7h1v1h-1zM42 7h1v1h-1zM17 8h1v1h-1zM42 9h1v1h-1zM59 9h1v1h-1zM17 10h1v1h-1zM25 11h1v1h-1z"/>
<path fill="#989ec6" d="M9 6h1v1h-1z"/>
<path fill="#bfc1d9" d="M17 4h1v1h-1zM25 5h1v1h-1zM17 6h1v1h-1zM17 7h1v1h-1zM45 7h1v1h-1zM18 10h1v1h-1zM59 10h1v1h-1zM23 12h1v1h-1zM42 12h1v1h-1zM16 13h1v1h-1z"/>
<path fill="#b2b6d2" d="M17 1h1v1h-1zM25 1h1v1h-1zM17 9h1v1h-1zM23 13h1v1h-1z"/>
<path fill="#a5aacc" d="M17 5h1v1h-1z"/>
</g>
<g transform="translate(385.90,346.90) scale(1.7619,6.3200)">
<path fill="#dcc8d2" d="M0 0h1v1h-1zM7 0h1v1h-1zM10 0h1v1h-1zM14 0h1v1h-1zM20 0h1v1h-1zM28 0h1v1h-1zM39 0h1v1h-1zM46 0h1v1h-1zM49 0h1v1h-1zM54 0h1v1h-1zM56 0h1v1h-1zM61 0h1v1h-1zM7 1h1v1h-1zM14 1h1v1h-1zM15 1h1v1h-1zM27 1h1v1h-1zM33 1h1v1h-1zM46 1h1v1h-1zM55 1h1v1h-1zM57 1h1v1h-1zM2 2h1v1h-1zM3 2h1v1h-1zM5 2h1v1h-1zM6 2h1v1h-1zM8 2h1v1h-1zM14 2h1v1h-1zM26 2h1v1h-1zM28 2h1v1h-1zM36 2h1v1h-1zM40 2h1v1h-1zM44 2h1v1h-1zM49 2h1v1h-1zM1 3h1v1h-1zM3 3h1v1h-1zM10 3h1v1h-1zM15 3h1v1h-1zM19 3h1v1h-1zM23 3h1v1h-1zM44 3h1v1h-1zM46 3h1v1h-1zM47 3h1v1h-1zM61 3h1v1h-1zM6 4h1v1h-1zM8 4h1v1h-1zM12 4h1v1h-1zM38 4h1v1h-1zM40 4h1v1h-1zM62 4h1v1h-1zM8 5h1v1h-1zM10 5h1v1h-1zM17 5h1v1h-1zM25 5h1v1h-1zM33 5h1v1h-1zM39 5h1v1h-1zM59 5h1v1h-1zM60 5h1v1h-1zM61 5h1v1h-1zM0 6h1v1h-1zM3 6h1v1h-1zM17 6h1v1h-1zM23 6h1v1h-1zM30 6h1v1h-1zM36 6h1v1h-1zM40 6h1v1h-1zM47 6h1v1h-1zM54 6h1v1h-1zM60 6h1v1h-1zM62 6h1v1h-1zM3 7h1v1h-1zM6 7h1v1h-1zM7 7h1v1h-1zM24 7h1v1h-1zM25 7h1v1h-1zM26 7h1v1h-1zM36 7h1v1h-1zM60 7h1v1h-1zM8 8h1v1h-1zM17 8h1v1h-1zM39 8h1v1h-1zM40 8h1v1h-1zM43 8h1v1h-1zM51 8h1v1h-1zM59 8h1v1h-1zM61 8h1v1h-1zM3 9h1v1h-1zM13 9h1v1h-1zM14 9h1v1h-1zM39 9h1v1h-1zM46 9h1v1h-1zM59 9h1v1h-1zM7 10h1v1h-1zM9 10h1v1h-1zM15 10h1v1h-1zM22 10h1v1h-1zM23 10h1v1h-1zM27 10h1v1h-1zM39 10h1v1h-1zM40 10h1v1h-1zM57 10h1v1h-1zM0 11h1v1h-1zM17 11h1v1h-1zM34 11h1v1h-1zM45 11h1v1h-1zM49 11h1v1h-1zM0 12h1v1h-1zM1 12h1v1h-1zM10 12h1v1h-1zM14 12h1v1h-1zM27 12h1v1h-1zM47 12h1v1h-1zM51 12h1v1h-1zM56 12h1v1h-1zM57 12h1v1h-1zM3 13h1v1h-1zM8 13h1v1h-1zM14 13h1v1h-1zM17 13h1v1h-1zM19 13h1v1h-1zM27 13h1v1h-1zM34 13h1v1h-1zM40 13h1v1h-1zM45 13h1v1h-1zM46 13h1v1h-1zM60 13h1v1h-1zM5 14h1v1h-1zM6 14h1v1h-1zM27 14h1v1h-1zM43 14h1v1h-1zM56 14h1v1h-1zM59 14h1v1h-1zM62 14h1v1h-1z"/>
<path fill="#e1d6df" d="M5 0h1v1h-1zM9 0h1v1h-1zM15 0h1v1h-1zM18 0h1v1h-1zM22 0h1v1h-1zM24 0h1v1h-1zM25 0h1v1h-1zM33 0h1v1h-1zM34 0h1v1h-1zM36 0h1v1h-1zM43 0h1v1h-1zM44 0h1v1h-1zM51 0h1v1h-1zM52 0h1v1h-1zM55 0h1v1h-1zM0 1h1v1h-1zM1 1h1v1h-1zM10 1h1v1h-1zM16 1h1v1h-1zM20 1h1v1h-1zM25 1h1v1h-1zM26 1h1v1h-1zM29 1h1v1h-1zM35 1h1v1h-1zM40 1h1v1h-1zM43 1h1v1h-1zM44 1h1v1h-1zM48 1h1v1h-1zM49 1h1v1h-1zM51 1h1v1h-1zM53 1h1v1h-1zM54 1h1v1h-1zM56 1h1v1h-1zM4 2h1v1h-1zM13 2h1v1h-1zM17 2h1v1h-1zM20 2h1v1h-1zM21 2h1v1h-1zM23 2h1v1h-1zM24 2h1v1h-1zM30 2h1v1h-1zM32 2h1v1h-1zM33 2h1v1h-1zM43 2h1v1h-1zM47 2h1v1h-1zM51 2h1v1h-1zM53 2h1v1h-1zM54 2h1v1h-1zM57 2h1v1h-1zM59 2h1v1h-1zM61 2h1v1h-1zM2 3h1v1h-1zM4 3h1v1h-1zM13 3h1v1h-1zM17 3h1v1h-1zM24 3h1v1h-1zM25 3h1v1h-1zM26 3h1v1h-1zM32 3h1v1h-1zM34 3h1v1h-1zM36 3h1v1h-1zM43 3h1v1h-1zM45 3h1v1h-1zM49 3h1v1h-1zM52 3h1v1h-1zM54 3h1v1h-1zM56 3h1v1h-1zM60 3h1v1h-1zM0 4h1v1h-1zM1 4h1v1h-1zM7 4h1v1h-1zM9 4h1v1h-1zM10 4h1v1h-1zM15 4h1v1h-1zM19 4h1v1h-1zM29 4h1v1h-1zM30 4h1v1h-1zM33 4h1v1h-1zM43 4h1v1h-1zM45 4h1v1h-1zM48 4h1v1h-1zM52 4h1v1h-1zM56 4h1v1h-1zM57 4h1v1h-1zM60 4h1v1h-1zM0 5h1v1h-1zM1 5h1v1h-1zM3 5h1v1h-1zM7 5h1v1h-1zM28 5h1v1h-1zM48 5h1v1h-1zM49 5h1v1h-1zM54 5h1v1h-1zM57 5h1v1h-1zM13 6h1v1h-1zM25 6h1v1h-1zM26 6h1v1h-1zM27 6h1v1h-1zM28 6h1v1h-1zM34 6h1v1h-1zM41 6h1v1h-1zM46 6h1v1h-1zM51 6h1v1h-1zM52 6h1v1h-1zM57 6h1v1h-1zM4 7h1v1h-1zM5 7h1v1h-1zM8 7h1v1h-1zM16 7h1v1h-1zM20 7h1v1h-1zM21 7h1v1h-1zM39 7h1v1h-1zM43 7h1v1h-1zM44 7h1v1h-1zM47 7h1v1h-1zM49 7h1v1h-1zM51 7h1v1h-1zM52 7h1v1h-1zM53 7h1v1h-1zM54 7h1v1h-1zM56 7h1v1h-1zM62 7h1v1h-1zM7 8h1v1h-1zM9 8h1v1h-1zM10 8h1v1h-1zM13 8h1v1h-1zM22 8h1v1h-1zM23 8h1v1h-1zM30 8h1v1h-1zM36 8h1v1h-1zM56 8h1v1h-1zM57 8h1v1h-1zM1 9h1v1h-1zM2 9h1v1h-1zM4 9h1v1h-1zM12 9h1v1h-1zM23 9h1v1h-1zM34 9h1v1h-1zM43 9h1v1h-1zM44 9h1v1h-1zM45 9h1v1h-1zM47 9h1v1h-1zM51 9h1v1h-1zM54 9h1v1h-1zM58 9h1v1h-1zM60 9h1v1h-1zM61 9h1v1h-1zM0 10h1v1h-1zM1 10h1v1h-1zM5 10h1v1h-1zM12 10h1v1h-1zM13 10h1v1h-1zM17 10h1v1h-1zM20 10h1v1h-1zM25 10h1v1h-1zM26 10h1v1h-1zM29 10h1v1h-1zM32 10h1v1h-1zM33 10h1v1h-1zM38 10h1v1h-1zM45 10h1v1h-1zM48 10h1v1h-1zM53 10h1v1h-1zM56 10h1v1h-1zM58 10h1v1h-1zM1 11h1v1h-1zM3 11h1v1h-1zM8 11h1v1h-1zM13 11h1v1h-1zM14 11h1v1h-1zM15 11h1v1h-1zM19 11h1v1h-1zM20 11h1v1h-1zM24 11h1v1h-1zM25 11h1v1h-1zM26 11h1v1h-1zM30 11h1v1h-1zM33 11h1v1h-1zM38 11h1v1h-1zM39 11h1v1h-1zM40 11h1v1h-1zM42 11h1v1h-1zM47 11h1v1h-1zM48 11h1v1h-1zM50 11h1v1h-1zM56 11h1v1h-1zM60 11h1v1h-1zM9 12h1v1h-1zM13 12h1v1h-1zM15 12h1v1h-1zM18 12h1v1h-1zM19 12h1v1h-1zM21 12h1v1h-1zM25 12h1v1h-1zM26 12h1v1h-1zM33 12h1v1h-1zM39 12h1v1h-1zM43 12h1v1h-1zM60 12h1v1h-1zM62 12h1v1h-1zM0 13h1v1h-1zM1 13h1v1h-1zM5 13h1v1h-1zM10 13h1v1h-1zM12 13h1v1h-1zM13 13h1v1h-1zM15 13h1v1h-1zM18 13h1v1h-1zM20 13h1v1h-1zM22 13h1v1h-1zM25 13h1v1h-1zM26 13h1v1h-1zM39 13h1v1h-1zM47 13h1v1h-1zM56 13h1v1h-1zM62 13h1v1h-1zM1 14h1v1h-1zM2 14h1v1h-1zM8 14h1v1h-1zM9 14h1v1h-1zM15 14h1v1h-1zM18 14h1v1h-1zM19 14h1v1h-1zM21 14h1v1h-1zM25 14h1v1h-1zM26 14h1v1h-1zM28 14h1v1h-1zM44 14h1v1h-1zM45 14h1v1h-1zM49 14h1v1h-1zM57 14h1v1h-1zM60 14h1v1h-1zM61 14h1v1h-1z"/>
<path fill="#d8b9c6" d="M3 0h1v1h-1zM6 0h1v1h-1zM27 0h1v1h-1zM45 0h1v1h-1zM59 0h1v1h-1zM3 1h1v1h-1zM6 1h1v1h-1zM8 1h1v1h-1zM13 1h1v1h-1zM23 1h1v1h-1zM28 1h1v1h-1zM34 1h1v1h-1zM59 1h1v1h-1zM18 2h1v1h-1zM27 2h1v1h-1zM46 2h1v1h-1zM52 2h1v1h-1zM60 2h1v1h-1zM27 3h1v1h-1zM28 3h1v1h-1zM40 3h1v1h-1zM25 4h1v1h-1zM27 4h1v1h-1zM28 4h1v1h-1zM36 4h1v1h-1zM54 4h1v1h-1zM6 5h1v1h-1zM45 5h1v1h-1zM1 6h1v1h-1zM14 6h1v1h-1zM33 6h1v1h-1zM45 6h1v1h-1zM49 6h1v1h-1zM59 6h1v1h-1zM61 6h1v1h-1zM13 7h1v1h-1zM27 7h1v1h-1zM33 7h1v1h-1zM46 7h1v1h-1zM0 8h1v1h-1zM3 8h1v1h-1zM28 8h1v1h-1zM45 8h1v1h-1zM49 8h1v1h-1zM62 8h1v1h-1zM9 9h1v1h-1zM17 9h1v1h-1zM25 9h1v1h-1zM28 9h1v1h-1zM49 9h1v1h-1zM57 9h1v1h-1zM62 9h1v1h-1zM8 10h1v1h-1zM28 10h1v1h-1zM7 11h1v1h-1zM54 11h1v1h-1zM57 11h1v1h-1zM7 12h1v1h-1zM8 12h1v1h-1zM17 12h1v1h-1zM20 12h1v1h-1zM40 12h1v1h-1zM45 12h1v1h-1zM59 12h1v1h-1zM6 13h1v1h-1zM33 13h1v1h-1zM51 13h1v1h-1zM54 13h1v1h-1zM0 14h1v1h-1zM17 14h1v1h-1z"/>
<path fill="#d9d9e5" d="M11 0h1v1h-1zM32 0h1v1h-1zM41 0h1v1h-1zM4 1h1v1h-1zM19 1h1v1h-1zM21 1h1v1h-1zM24 1h1v1h-1zM31 1h1v1h-1zM37 1h1v1h-1zM47 1h1v1h-1zM19 2h1v1h-1zM22 2h1v1h-1zM38 2h1v1h-1zM42 2h1v1h-1zM50 2h1v1h-1zM58 2h1v1h-1zM12 3h1v1h-1zM55 3h1v1h-1zM58 3h1v1h-1zM2 4h1v1h-1zM4 4h1v1h-1zM11 4h1v1h-1zM13 4h1v1h-1zM14 4h1v1h-1zM16 4h1v1h-1zM18 4h1v1h-1zM34 4h1v1h-1zM41 4h1v1h-1zM12 5h1v1h-1zM14 5h1v1h-1zM16 5h1v1h-1zM21 5h1v1h-1zM32 5h1v1h-1zM41 5h1v1h-1zM58 5h1v1h-1zM5 6h1v1h-1zM12 6h1v1h-1zM21 6h1v1h-1zM29 6h1v1h-1zM32 6h1v1h-1zM35 6h1v1h-1zM39 6h1v1h-1zM42 6h1v1h-1zM55 6h1v1h-1zM11 7h1v1h-1zM14 7h1v1h-1zM30 7h1v1h-1zM31 7h1v1h-1zM61 7h1v1h-1zM14 8h1v1h-1zM35 8h1v1h-1zM37 8h1v1h-1zM41 8h1v1h-1zM42 8h1v1h-1zM48 8h1v1h-1zM58 8h1v1h-1zM10 9h1v1h-1zM15 9h1v1h-1zM16 9h1v1h-1zM32 9h1v1h-1zM41 9h1v1h-1zM42 9h1v1h-1zM16 10h1v1h-1zM41 10h1v1h-1zM46 10h1v1h-1zM50 10h1v1h-1zM52 10h1v1h-1zM2 11h1v1h-1zM22 11h1v1h-1zM29 11h1v1h-1zM31 11h1v1h-1zM51 11h1v1h-1zM53 11h1v1h-1zM37 12h1v1h-1zM41 12h1v1h-1zM50 12h1v1h-1zM53 12h1v1h-1zM4 13h1v1h-1zM9 13h1v1h-1zM21 13h1v1h-1zM32 13h1v1h-1zM35 13h1v1h-1zM37 13h1v1h-1zM55 13h1v1h-1zM58 13h1v1h-1zM11 14h1v1h-1zM31 14h1v1h-1zM34 14h1v1h-1zM39 14h1v1h-1zM48 14h1v1h-1zM53 14h1v1h-1z"/>
<path fill="#d3aaba" d="M40 0h1v1h-1zM45 1h1v1h-1zM7 2h1v1h-1zM6 3h1v1h-1zM59 3h1v1h-1zM49 4h1v1h-1zM59 4h1v1h-1zM9 5h1v1h-1zM27 5h1v1h-1zM40 5h1v1h-1zM46 5h1v1h-1zM6 6h1v1h-1zM8 6h1v1h-1zM6 8h1v1h-1zM8 9h1v1h-1zM27 9h1v1h-1zM40 9h1v1h-1zM3 10h1v1h-1zM49 10h1v1h-1zM5 11h1v1h-1zM6 11h1v1h-1zM27 11h1v1h-1zM2 12h1v1h-1zM3 12h1v1h-1zM23 12h1v1h-1zM28 12h1v1h-1zM46 12h1v1h-1zM28 13h1v1h-1zM48 13h1v1h-1zM3 14h1v1h-1zM33 14h1v1h-1z"/>
<path fill="#ce9bae" d="M13 0h1v1h-1zM3 4h1v1h-1zM9 7h1v1h-1zM59 7h1v1h-1zM27 8h1v1h-1zM6 10h1v1h-1zM36 10h1v1h-1zM59 11h1v1h-1zM6 12h1v1h-1zM49 12h1v1h-1zM10 14h1v1h-1z"/>
<path fill="#cccddf" d="M4 0h1v1h-1zM30 0h1v1h-1zM48 0h1v1h-1zM50 0h1v1h-1zM62 0h1v1h-1zM12 1h1v1h-1zM42 1h1v1h-1zM31 2h1v1h-1zM35 2h1v1h-1zM41 2h1v1h-1zM41 3h1v1h-1zM42 3h1v1h-1zM26 4h1v1h-1zM58 4h1v1h-1zM11 5h1v1h-1zM38 5h1v1h-1zM42 5h1v1h-1zM10 6h1v1h-1zM11 6h1v1h-1zM32 7h1v1h-1zM34 7h1v1h-1zM42 7h1v1h-1zM11 8h1v1h-1zM16 8h1v1h-1zM32 8h1v1h-1zM50 8h1v1h-1zM55 8h1v1h-1zM35 9h1v1h-1zM4 10h1v1h-1zM31 10h1v1h-1zM35 10h1v1h-1zM55 10h1v1h-1zM21 11h1v1h-1zM16 12h1v1h-1zM42 12h1v1h-1zM30 13h1v1h-1zM42 13h1v1h-1zM50 13h1v1h-1zM38 14h1v1h-1zM40 14h1v1h-1zM50 14h1v1h-1z"/>
<path fill="#c98da1" d="M8 3h1v1h-1zM17 7h1v1h-1zM28 7h1v1h-1zM6 9h1v1h-1zM59 10h1v1h-1z"/>
<path fill="#bfc1d9" d="M41 1h1v1h-1zM50 3h1v1h-1zM37 4h1v1h-1zM35 5h1v1h-1zM41 7h1v1h-1zM50 9h1v1h-1zM32 12h1v1h-1zM11 13h1v1h-1zM16 13h1v1h-1zM41 13h1v1h-1zM35 14h1v1h-1z"/>
<path fill="#c06f89" d="M17 1h1v1h-1z"/>
<path fill="#b65270" d="M39 4h1v1h-1z"/>
<path fill="#b2b6d2" d="M55 4h1v1h-1zM56 9h1v1h-1zM42 10h1v1h-1z"/>
</g>
<rect x="35.80" y="345.60" width="461.10" height="1.30" fill="#ffffff" />
<rect x="176.70" y="257.30" width="2.10" height="184.40" fill="#ffffff" />
<rect x="279.80" y="257.30" width="2.70" height="184.40" fill="#ffffff" />
<rect x="383.60" y="257.30" width="2.30" height="184.40" fill="#ffffff" />
<text x="34.40" y="263.05" font-size="7.3" text-anchor="end" fill="#1c1c1c" stroke="#1c1c1c" stroke-width="0.24" font-style="italic">GAPDH</text>
<text x="34.40" y="269.36" font-size="7.3" text-anchor="end" fill="#1c1c1c" stroke="#1c1c1c" stroke-width="0.24" font-style="italic">ALDOA</text>
<text x="34.40" y="275.67" font-size="7.3" text-anchor="end" fill="#1c1c1c" stroke="#1c1c1c" stroke-width="0.24" font-style="italic">PKM</text>
<text x="34.40" y="281.98" font-size="7.3" text-anchor="end" fill="#1c1c1c" stroke="#1c1c1c" stroke-width="0.24" font-style="italic">ENO1</text>
<text x="34.40" y="288.28" font-size="7.3" text-anchor="end" fill="#1c1c1c" stroke="#1c1c1c" stroke-width="0.24" font-style="italic">TPI1</text>
<text x="34.40" y="294.59" font-size="7.3" text-anchor="end" fill="#1c1c1c" stroke="#1c1c1c" stroke-width="0.24" font-style="italic">PGK1</text>
<text x="34.40" y="300.90" font-size="7.3" text-anchor="end" fill="#1c1c1c" stroke="#1c1c1c" stroke-width="0.24" font-style="italic">GPI</text>
<text x="34.40" y="307.20" font-size="7.3" text-anchor="end" fill="#1c1c1c" stroke="#1c1c1c" stroke-width="0.24" font-style="italic">PGAM1</text>
<text x="34.40" y="313.51" font-size="7.3" text-anchor="end" fill="#1c1c1c" stroke="#1c1c1c" stroke-width="0.24" font-style="italic">PFKP</text>
<text x="34.40" y="319.82" font-size="7.3" text-anchor="end" fill="#1c1c1c" stroke="#1c1c1c" stroke-width="0.24" font-style="italic">PFKFB3</text>
<text x="34.40" y="326.12" font-size="7.3" text-anchor="end" fill="#1c1c1c" stroke="#1c1c1c" stroke-width="0.24" font-style="italic">ENO2</text>
<text x="34.40" y="332.43" font-size="7.3" text-anchor="end" fill="#1c1c1c" stroke="#1c1c1c" stroke-width="0.24" font-style="italic">PPP2R5D</text>
<text x="34.40" y="338.74" font-size="7.3" text-anchor="end" fill="#1c1c1c" stroke="#1c1c1c" stroke-width="0.24" font-style="italic">PFKM</text>
<text x="34.40" y="345.05" font-size="7.3" text-anchor="end" fill="#1c1c1c" stroke="#1c1c1c" stroke-width="0.24" font-style="italic">PFKFB4</text>
<text x="34.40" y="352.66" font-size="7.3" text-anchor="end" fill="#1c1c1c" stroke="#1c1c1c" stroke-width="0.24" font-style="italic">FDPS</text>
<text x="34.40" y="358.98" font-size="7.3" text-anchor="end" fill="#1c1c1c" stroke="#1c1c1c" stroke-width="0.24" font-style="italic">FDFT1</text>
<text x="34.40" y="365.30" font-size="7.3" text-anchor="end" fill="#1c1c1c" stroke="#1c1c1c" stroke-width="0.24" font-style="italic">DHCR24</text>
<text x="34.40" y="371.62" font-size="7.3" text-anchor="end" fill="#1c1c1c" stroke="#1c1c1c" stroke-width="0.24" font-style="italic">EBP</text>
<text x="34.40" y="377.94" font-size="7.3" text-anchor="end" fill="#1c1c1c" stroke="#1c1c1c" stroke-width="0.24" font-style="italic">IDI1</text>
<text x="34.40" y="384.26" font-size="7.3" text-anchor="end" fill="#1c1c1c" stroke="#1c1c1c" stroke-width="0.24" font-style="italic">MVD</text>
<text x="34.40" y="390.58" font-size="7.3" text-anchor="end" fill="#1c1c1c" stroke="#1c1c1c" stroke-width="0.24" font-style="italic">HMGCS1</text>
<text x="34.40" y="396.90" font-size="7.3" text-anchor="end" fill="#1c1c1c" stroke="#1c1c1c" stroke-width="0.24" font-style="italic">SQLE</text>
<text x="34.40" y="403.22" font-size="7.3" text-anchor="end" fill="#1c1c1c" stroke="#1c1c1c" stroke-width="0.24" font-style="italic">NSDHL</text>
<text x="34.40" y="409.54" font-size="7.3" text-anchor="end" fill="#1c1c1c" stroke="#1c1c1c" stroke-width="0.24" font-style="italic">DHCR7</text>
<text x="34.40" y="415.86" font-size="7.3" text-anchor="end" fill="#1c1c1c" stroke="#1c1c1c" stroke-width="0.24" font-style="italic">HMGCR</text>
<text x="34.40" y="422.18" font-size="7.3" text-anchor="end" fill="#1c1c1c" stroke="#1c1c1c" stroke-width="0.24" font-style="italic">LSS</text>
<text x="34.40" y="428.50" font-size="7.3" text-anchor="end" fill="#1c1c1c" stroke="#1c1c1c" stroke-width="0.24" font-style="italic">SC5D</text>
<text x="34.40" y="434.82" font-size="7.3" text-anchor="end" fill="#1c1c1c" stroke="#1c1c1c" stroke-width="0.24" font-style="italic">MVK</text>
<text x="34.40" y="441.14" font-size="7.3" text-anchor="end" fill="#1c1c1c" stroke="#1c1c1c" stroke-width="0.24" font-style="italic">HSD17B7</text>
<rect x="499.30" y="257.30" width="5.10" height="88.30" fill="#161616" />
<rect x="499.30" y="346.90" width="5.10" height="94.80" fill="#b3def1" />
<rect x="499.30" y="349.65" width="5.10" height="0.70" fill="#5f8fa8" />
<rect x="499.30" y="360.45" width="5.10" height="0.70" fill="#5f8fa8" />
<rect x="499.30" y="371.45" width="5.10" height="0.70" fill="#5f8fa8" />
<rect x="499.30" y="390.65" width="5.10" height="0.70" fill="#5f8fa8" />
<rect x="499.30" y="403.05" width="5.10" height="0.70" fill="#5f8fa8" />
<rect x="499.30" y="409.45" width="5.10" height="0.70" fill="#5f8fa8" />
<rect x="499.30" y="421.45" width="5.10" height="0.70" fill="#5f8fa8" />
<rect x="499.30" y="440.45" width="5.10" height="0.70" fill="#5f8fa8" />
<text x="243.40" y="452.10" font-size="7.3" text-anchor="middle" fill="#1c1c1c" stroke="#1c1c1c" stroke-width="0.24" >PDAC samples</text>
</g>
<g id="D">
<text x="3.50" y="471.50" font-size="15.2" text-anchor="start" fill="#000" font-weight="bold" stroke="none">D</text>
<rect x="50.2" y="472.5" width="190.30" height="10.10" fill="#f3f3f3" stroke="#4a4a4a" stroke-width="0.8"/>
<text x="142.40" y="481.00" font-size="8.0" text-anchor="middle" fill="#1c1c1c" stroke="#1c1c1c" stroke-width="0.24" >Resectable PDAC</text>
<rect x="50.20" y="482.60" width="190.30" height="92.60" fill="#ffffff" />
<line x1="50.20" y1="571.60" x2="240.50" y2="571.60" stroke="#ececec" stroke-width="0.5" stroke-dasharray="2,1.6"/>
<line x1="50.20" y1="550.62" x2="240.50" y2="550.62" stroke="#ececec" stroke-width="0.5" stroke-dasharray="2,1.6"/>
<line x1="50.20" y1="529.65" x2="240.50" y2="529.65" stroke="#ececec" stroke-width="0.5" stroke-dasharray="2,1.6"/>
<line x1="50.20" y1="508.68" x2="240.50" y2="508.68" stroke="#ececec" stroke-width="0.5" stroke-dasharray="2,1.6"/>
<line x1="50.20" y1="487.70" x2="240.50" y2="487.70" stroke="#ececec" stroke-width="0.5" stroke-dasharray="2,1.6"/>
<line x1="59.30" y1="482.60" x2="59.30" y2="575.20" stroke="#ececec" stroke-width="0.5" stroke-dasharray="2,1.6"/>
<line x1="86.80" y1="482.60" x2="86.80" y2="575.20" stroke="#ececec" stroke-width="0.5" stroke-dasharray="2,1.6"/>
<line x1="114.30" y1="482.60" x2="114.30" y2="575.20" stroke="#ececec" stroke-width="0.5" stroke-dasharray="2,1.6"/>
<line x1="141.80" y1="482.60" x2="141.80" y2="575.20" stroke="#ececec" stroke-width="0.5" stroke-dasharray="2,1.6"/>
<line x1="169.30" y1="482.60" x2="169.30" y2="575.20" stroke="#ececec" stroke-width="0.5" stroke-dasharray="2,1.6"/>
<line x1="196.80" y1="482.60" x2="196.80" y2="575.20" stroke="#ececec" stroke-width="0.5" stroke-dasharray="2,1.6"/>
<line x1="224.30" y1="482.60" x2="224.30" y2="575.20" stroke="#ececec" stroke-width="0.5" stroke-dasharray="2,1.6"/>
<path d="M59.60,486.80 L61.00,486.80 L61.00,488.50 L62.50,488.50 L62.50,490.50 L64.00,490.50 L64.00,492.50 L65.50,492.50 L65.50,494.10 L70.30,494.10 L70.30,502.20 L77.20,502.20 L77.20,518.90 L81.20,518.90 L81.20,520.80 L82.60,520.80 L82.60,522.60 L84.90,522.60 L84.90,525.40 L90.50,525.40 L90.50,531.70 L97.10,531.70 L97.10,534.60 L104.00,534.60 L104.00,538.70 L107.20,538.70 L107.20,542.00 L116.00,542.00 L116.00,547.50 L141.80,547.50 L141.80,559.40 L226.00,559.40 L226.00,571.60" fill="none" stroke="#96aa5e" stroke-width="1.2" stroke-linejoin="miter"/>
<path d="M59.60,486.80 L61.00,486.80 L61.00,488.50 L62.50,488.50 L62.50,490.50 L64.00,490.50 L64.00,492.00 L64.30,492.00 L64.30,503.60 L66.90,503.60 L66.90,506.00 L67.40,506.00 L67.40,512.30 L68.50,512.30 L68.50,514.50 L69.50,514.50 L69.50,517.00 L70.30,517.00 L70.30,520.00 L71.00,520.00 L71.00,522.20 L72.50,522.20 L72.50,524.00 L73.50,524.00 L73.50,526.00 L74.30,526.00 L74.30,528.50 L75.50,528.50 L75.50,530.30 L76.10,530.30 L76.10,543.90 L81.30,543.90 L81.30,547.70 L84.00,547.70 L84.00,553.70 L86.30,553.70 L86.30,557.70 L104.80,557.70 L104.80,561.20 L118.60,561.20 L118.60,564.60 L156.40,564.60" fill="none" stroke="#5b9eab" stroke-width="1.2" stroke-linejoin="miter"/>
<path d="M59.60,486.80 L62.50,486.80 L62.50,488.50 L64.00,488.50 L64.00,490.50 L65.00,490.50 L65.00,492.50 L66.10,492.50 L66.10,494.50 L67.50,494.50 L67.50,497.00 L68.50,497.00 L68.50,499.40 L69.30,499.40 L69.30,502.50 L70.10,502.50 L70.10,505.80 L71.00,505.80 L71.00,509.00 L71.70,509.00 L71.70,512.30 L73.00,512.30 L73.00,515.00 L74.20,515.00 L74.20,518.00 L75.50,518.00 L75.50,520.50 L76.60,520.50 L76.60,522.80 L78.20,522.80 L78.20,526.80 L80.50,526.80 L80.50,529.30 L81.50,529.30 L81.50,531.50 L82.20,531.50 L82.20,534.50 L82.70,534.50 L82.70,537.30 L83.40,537.30 L83.40,540.00 L83.90,540.00 L83.90,543.10 L85.00,543.10 L85.00,546.00 L86.20,546.00 L86.20,548.80 L88.50,548.80 L88.50,551.20 L93.10,551.20 L93.10,551.90 L94.20,551.90 L94.20,553.50 L100.00,553.50 L100.00,554.60 L104.60,554.60 L104.60,555.80 L109.80,555.80 L109.80,558.10 L113.80,558.10 L113.80,560.80 L119.60,560.80 L119.60,562.10 L128.80,562.10 L128.80,562.80 L143.00,562.80" fill="none" stroke="#dfb84c" stroke-width="1.2" stroke-linejoin="miter"/>
<path d="M59.60,486.80 L62.00,486.80 L62.00,487.80 L64.00,487.80 L64.00,489.00 L65.00,489.00 L65.00,491.70 L66.00,491.70 L66.00,494.00 L67.00,494.00 L67.00,497.30 L68.50,497.30 L68.50,501.00 L69.80,501.00 L69.80,505.00 L70.60,505.00 L70.60,509.00 L71.00,509.00 L71.00,513.10 L72.00,513.10 L72.00,516.00 L72.80,516.00 L72.80,518.70 L73.50,518.70 L73.50,521.50 L74.30,521.50 L74.30,523.60 L75.80,523.60 L75.80,526.50 L77.40,526.50 L77.40,528.60 L82.80,528.60 L82.80,530.80 L84.00,530.80 L84.00,533.50 L85.40,533.50 L85.40,536.30 L87.30,536.30 L87.30,537.80 L88.50,537.80 L88.50,539.30 L90.20,539.30 L90.20,542.50 L92.00,542.50 L92.00,544.80 L94.20,544.80 L94.20,546.50 L97.70,546.50 L97.70,548.50 L100.60,548.50 L100.60,550.90 L107.00,550.90 L107.00,552.90 L111.00,552.90 L111.00,555.30 L112.50,555.30 L112.50,557.60 L114.20,557.60 L114.20,560.20 L128.50,560.20 L128.50,563.50 L130.00,563.50 L130.00,567.30 L156.50,567.30 L156.50,571.40" fill="none" stroke="#5e381a" stroke-width="1.2" stroke-linejoin="miter"/>
<rect x="50.2" y="482.6" width="190.30" height="92.60" fill="none" stroke="#4a4a4a" stroke-width="0.8"/>
<text x="54.60" y="569.70" font-size="7.3" text-anchor="start" fill="#1c1c1c" stroke="#1c1c1c" stroke-width="0.24" ><tspan font-style="italic">P</tspan> = 0.018</text>
<line x1="59.30" y1="575.20" x2="59.30" y2="577.20" stroke="#444" stroke-width="0.6" />
<text x="59.30" y="583.50" font-size="7.3" text-anchor="middle" fill="#3a3a3a" stroke="#3a3a3a" stroke-width="0.24" >0</text>
<line x1="86.80" y1="575.20" x2="86.80" y2="577.20" stroke="#444" stroke-width="0.6" />
<text x="86.80" y="583.50" font-size="7.3" text-anchor="middle" fill="#3a3a3a" stroke="#3a3a3a" stroke-width="0.24" >24</text>
<line x1="114.30" y1="575.20" x2="114.30" y2="577.20" stroke="#444" stroke-width="0.6" />
<text x="114.30" y="583.50" font-size="7.3" text-anchor="middle" fill="#3a3a3a" stroke="#3a3a3a" stroke-width="0.24" >48</text>
<line x1="141.80" y1="575.20" x2="141.80" y2="577.20" stroke="#444" stroke-width="0.6" />
<text x="141.80" y="583.50" font-size="7.3" text-anchor="middle" fill="#3a3a3a" stroke="#3a3a3a" stroke-width="0.24" >72</text>
<line x1="169.30" y1="575.20" x2="169.30" y2="577.20" stroke="#444" stroke-width="0.6" />
<text x="169.30" y="583.50" font-size="7.3" text-anchor="middle" fill="#3a3a3a" stroke="#3a3a3a" stroke-width="0.24" >96</text>
<line x1="196.80" y1="575.20" x2="196.80" y2="577.20" stroke="#444" stroke-width="0.6" />
<text x="196.80" y="583.50" font-size="7.3" text-anchor="middle" fill="#3a3a3a" stroke="#3a3a3a" stroke-width="0.24" >120</text>
<line x1="224.30" y1="575.20" x2="224.30" y2="577.20" stroke="#444" stroke-width="0.6" />
<text x="224.30" y="583.50" font-size="7.3" text-anchor="middle" fill="#3a3a3a" stroke="#3a3a3a" stroke-width="0.24" >144</text>
<rect x="50.2" y="600.8" width="190.30" height="16.9" fill="none" stroke="#333" stroke-width="0.7"/>
<text x="59.30" y="605.30" font-size="5.2" text-anchor="middle" fill="#1c1c1c" stroke="#1c1c1c" stroke-width="0.08">56</text>
<text x="86.80" y="605.30" font-size="5.2" text-anchor="middle" fill="#1c1c1c" stroke="#1c1c1c" stroke-width="0.08">13</text>
<text x="114.30" y="605.30" font-size="5.2" text-anchor="middle" fill="#1c1c1c" stroke="#1c1c1c" stroke-width="0.08">4</text>
<text x="141.80" y="605.30" font-size="5.2" text-anchor="middle" fill="#1c1c1c" stroke="#1c1c1c" stroke-width="0.08">0</text>
<text x="169.30" y="605.30" font-size="5.2" text-anchor="middle" fill="#1c1c1c" stroke="#1c1c1c" stroke-width="0.08">0</text>
<text x="196.80" y="605.30" font-size="5.2" text-anchor="middle" fill="#1c1c1c" stroke="#1c1c1c" stroke-width="0.08">0</text>
<text x="224.30" y="605.30" font-size="5.2" text-anchor="middle" fill="#1c1c1c" stroke="#1c1c1c" stroke-width="0.08">0</text>
<text x="59.30" y="609.20" font-size="5.2" text-anchor="middle" fill="#1c1c1c" stroke="#1c1c1c" stroke-width="0.08">60</text>
<text x="86.80" y="609.20" font-size="5.2" text-anchor="middle" fill="#1c1c1c" stroke="#1c1c1c" stroke-width="0.08">4</text>
<text x="114.30" y="609.20" font-size="5.2" text-anchor="middle" fill="#1c1c1c" stroke="#1c1c1c" stroke-width="0.08">3</text>
<text x="141.80" y="609.20" font-size="5.2" text-anchor="middle" fill="#1c1c1c" stroke="#1c1c1c" stroke-width="0.08">1</text>
<text x="169.30" y="609.20" font-size="5.2" text-anchor="middle" fill="#1c1c1c" stroke="#1c1c1c" stroke-width="0.08">0</text>
<text x="196.80" y="609.20" font-size="5.2" text-anchor="middle" fill="#1c1c1c" stroke="#1c1c1c" stroke-width="0.08">0</text>
<text x="224.30" y="609.20" font-size="5.2" text-anchor="middle" fill="#1c1c1c" stroke="#1c1c1c" stroke-width="0.08">0</text>
<text x="59.30" y="613.10" font-size="5.2" text-anchor="middle" fill="#1c1c1c" stroke="#1c1c1c" stroke-width="0.08">36</text>
<text x="86.80" y="613.10" font-size="5.2" text-anchor="middle" fill="#1c1c1c" stroke="#1c1c1c" stroke-width="0.08">15</text>
<text x="114.30" y="613.10" font-size="5.2" text-anchor="middle" fill="#1c1c1c" stroke="#1c1c1c" stroke-width="0.08">7</text>
<text x="141.80" y="613.10" font-size="5.2" text-anchor="middle" fill="#1c1c1c" stroke="#1c1c1c" stroke-width="0.08">1</text>
<text x="169.30" y="613.10" font-size="5.2" text-anchor="middle" fill="#1c1c1c" stroke="#1c1c1c" stroke-width="0.08">0</text>
<text x="196.80" y="613.10" font-size="5.2" text-anchor="middle" fill="#1c1c1c" stroke="#1c1c1c" stroke-width="0.08">0</text>
<text x="224.30" y="613.10" font-size="5.2" text-anchor="middle" fill="#1c1c1c" stroke="#1c1c1c" stroke-width="0.08">0</text>
<text x="59.30" y="617.00" font-size="5.2" text-anchor="middle" fill="#1c1c1c" stroke="#1c1c1c" stroke-width="0.08">54</text>
<text x="86.80" y="617.00" font-size="5.2" text-anchor="middle" fill="#1c1c1c" stroke="#1c1c1c" stroke-width="0.08">18</text>
<text x="114.30" y="617.00" font-size="5.2" text-anchor="middle" fill="#1c1c1c" stroke="#1c1c1c" stroke-width="0.08">5</text>
<text x="141.80" y="617.00" font-size="5.2" text-anchor="middle" fill="#1c1c1c" stroke="#1c1c1c" stroke-width="0.08">1</text>
<text x="169.30" y="617.00" font-size="5.2" text-anchor="middle" fill="#1c1c1c" stroke="#1c1c1c" stroke-width="0.08">0</text>
<text x="196.80" y="617.00" font-size="5.2" text-anchor="middle" fill="#1c1c1c" stroke="#1c1c1c" stroke-width="0.08">0</text>
<text x="224.30" y="617.00" font-size="5.2" text-anchor="middle" fill="#1c1c1c" stroke="#1c1c1c" stroke-width="0.08">0</text>
<rect x="246.2" y="472.5" width="189.20" height="10.10" fill="#f3f3f3" stroke="#4a4a4a" stroke-width="0.8"/>
<text x="336.20" y="481.00" font-size="8.0" text-anchor="middle" fill="#1c1c1c" stroke="#1c1c1c" stroke-width="0.24" >Metastatic PDAC</text>
<rect x="246.20" y="482.60" width="189.20" height="92.60" fill="#ffffff" />
<line x1="246.20" y1="571.60" x2="435.40" y2="571.60" stroke="#ececec" stroke-width="0.5" stroke-dasharray="2,1.6"/>
<line x1="246.20" y1="550.62" x2="435.40" y2="550.62" stroke="#ececec" stroke-width="0.5" stroke-dasharray="2,1.6"/>
<line x1="246.20" y1="529.65" x2="435.40" y2="529.65" stroke="#ececec" stroke-width="0.5" stroke-dasharray="2,1.6"/>
<line x1="246.20" y1="508.68" x2="435.40" y2="508.68" stroke="#ececec" stroke-width="0.5" stroke-dasharray="2,1.6"/>
<line x1="246.20" y1="487.70" x2="435.40" y2="487.70" stroke="#ececec" stroke-width="0.5" stroke-dasharray="2,1.6"/>
<line x1="255.30" y1="482.60" x2="255.30" y2="575.20" stroke="#ececec" stroke-width="0.5" stroke-dasharray="2,1.6"/>
<line x1="304.40" y1="482.60" x2="304.40" y2="575.20" stroke="#ececec" stroke-width="0.5" stroke-dasharray="2,1.6"/>
<line x1="353.50" y1="482.60" x2="353.50" y2="575.20" stroke="#ececec" stroke-width="0.5" stroke-dasharray="2,1.6"/>
<line x1="402.60" y1="482.60" x2="402.60" y2="575.20" stroke="#ececec" stroke-width="0.5" stroke-dasharray="2,1.6"/>
<path d="M255.90,486.90 L260.10,486.90 L260.10,490.30 L262.20,490.30 L262.20,493.00 L263.60,493.00 L263.60,495.60 L265.30,495.60 L265.30,499.00 L267.00,499.00 L267.00,502.50 L268.80,502.50 L268.80,505.10 L271.40,505.10 L271.40,506.00 L273.10,506.00 L273.10,507.70 L274.80,507.70 L274.80,509.40 L276.60,509.40 L276.60,511.10 L278.30,511.10 L278.30,513.70 L280.00,513.70 L280.00,516.30 L281.80,516.30 L281.80,518.90 L283.50,518.90 L283.50,521.50 L285.20,521.50 L285.20,524.10 L286.90,524.10 L286.90,526.70 L288.70,526.70 L288.70,529.30 L290.40,529.30 L290.40,532.80 L292.10,532.80 L292.10,536.30 L293.90,536.30 L293.90,538.80 L295.60,538.80 L295.60,541.40 L297.30,541.40 L297.30,544.00 L299.00,544.00 L299.00,546.60 L300.80,546.60 L300.80,549.20 L302.50,549.20 L302.50,552.70 L304.20,552.70 L304.20,554.40 L306.00,554.40 L306.00,556.10 L307.70,556.10 L307.70,558.70 L309.40,558.70 L309.40,561.30 L311.20,561.30 L311.20,563.00 L312.90,563.00 L312.90,564.80 L315.50,564.80 L315.50,566.50 L318.10,566.50 L318.10,568.60 L323.30,568.60 L323.30,568.60" fill="none" stroke="#5b9eab" stroke-width="1.2" stroke-linejoin="miter"/>
<path d="M255.90,486.90 L261.00,486.90 L261.00,490.40 L262.70,490.40 L262.70,493.80 L264.40,493.80 L264.40,497.30 L267.00,497.30 L267.00,502.50 L268.80,502.50 L268.80,506.00 L274.80,506.00 L274.80,507.70 L278.30,507.70 L278.30,508.60 L282.60,508.60 L282.60,510.30 L284.30,510.30 L284.30,514.60 L286.10,514.60 L286.10,519.80 L288.70,519.80 L288.70,522.40 L291.30,522.40 L291.30,524.10 L303.40,524.10 L303.40,529.30 L317.20,529.30 L317.20,535.40 L325.90,535.40 L325.90,541.60 L430.90,541.60 L430.90,571.20" fill="none" stroke="#96aa5e" stroke-width="1.2" stroke-linejoin="miter"/>
<path d="M255.90,486.90 L267.00,486.90 L267.00,489.50 L267.90,489.50 L267.90,493.00 L269.60,493.00 L269.60,497.00 L271.40,497.00 L271.40,500.40 L273.10,500.40 L273.10,503.90 L276.60,503.90 L276.60,506.50 L280.00,506.50 L280.00,510.00 L283.50,510.00 L283.50,514.30 L285.20,514.30 L285.20,518.60 L287.80,518.60 L287.80,525.50 L292.10,525.50 L292.10,525.90 L297.30,525.90 L297.30,530.20 L300.80,530.20 L300.80,531.90 L304.20,531.90 L304.20,537.10 L306.00,537.10 L306.00,543.20 L307.70,543.20 L307.70,549.20 L341.40,549.20 L341.40,553.80 L349.40,553.80 L349.40,560.80 L387.10,560.80 L387.10,571.20" fill="none" stroke="#dfb84c" stroke-width="1.2" stroke-linejoin="miter"/>
<path d="M255.90,486.90 L265.30,486.90 L265.30,490.30 L267.90,490.30 L267.90,493.00 L269.60,493.00 L269.60,498.20 L271.40,498.20 L271.40,502.50 L274.80,502.50 L274.80,504.20 L278.30,504.20 L278.30,507.70 L286.90,507.70 L286.90,507.70 L287.80,507.70 L287.80,514.60 L288.70,514.60 L288.70,519.80 L292.10,519.80 L292.10,525.90 L298.20,525.90 L298.20,525.90 L299.00,525.90 L299.00,530.20 L304.20,530.20 L304.20,530.20 L306.00,530.20 L306.00,536.20 L309.40,536.20 L309.40,536.20 L310.30,536.20 L310.30,541.40 L315.60,541.40 L315.60,541.40 L316.40,541.40 L316.40,548.10 L335.60,548.10 L335.60,555.00 L348.30,555.00 L348.30,558.50" fill="none" stroke="#5e381a" stroke-width="1.2" stroke-linejoin="miter"/>
<rect x="246.2" y="482.6" width="189.20" height="92.60" fill="none" stroke="#4a4a4a" stroke-width="0.8"/>
<text x="252.40" y="569.70" font-size="7.3" text-anchor="start" fill="#1c1c1c" stroke="#1c1c1c" stroke-width="0.24" ><tspan font-style="italic">P</tspan> = 0.027</text>
<line x1="255.30" y1="575.20" x2="255.30" y2="577.20" stroke="#444" stroke-width="0.6" />
<text x="255.30" y="583.50" font-size="7.3" text-anchor="middle" fill="#3a3a3a" stroke="#3a3a3a" stroke-width="0.24" >0</text>
<line x1="304.40" y1="575.20" x2="304.40" y2="577.20" stroke="#444" stroke-width="0.6" />
<text x="304.40" y="583.50" font-size="7.3" text-anchor="middle" fill="#3a3a3a" stroke="#3a3a3a" stroke-width="0.24" >12</text>
<line x1="353.50" y1="575.20" x2="353.50" y2="577.20" stroke="#444" stroke-width="0.6" />
<text x="353.50" y="583.50" font-size="7.3" text-anchor="middle" fill="#3a3a3a" stroke="#3a3a3a" stroke-width="0.24" >24</text>
<line x1="402.60" y1="575.20" x2="402.60" y2="577.20" stroke="#444" stroke-width="0.6" />
<text x="402.60" y="583.50" font-size="7.3" text-anchor="middle" fill="#3a3a3a" stroke="#3a3a3a" stroke-width="0.24" >36</text>
<rect x="246.2" y="600.8" width="189.20" height="16.9" fill="none" stroke="#333" stroke-width="0.7"/>
<text x="255.30" y="605.30" font-size="5.2" text-anchor="middle" fill="#1c1c1c" stroke="#1c1c1c" stroke-width="0.08">43</text>
<text x="304.40" y="605.30" font-size="5.2" text-anchor="middle" fill="#1c1c1c" stroke="#1c1c1c" stroke-width="0.08">10</text>
<text x="353.50" y="605.30" font-size="5.2" text-anchor="middle" fill="#1c1c1c" stroke="#1c1c1c" stroke-width="0.08">2</text>
<text x="402.60" y="605.30" font-size="5.2" text-anchor="middle" fill="#1c1c1c" stroke="#1c1c1c" stroke-width="0.08">0</text>
<text x="255.30" y="609.20" font-size="5.2" text-anchor="middle" fill="#1c1c1c" stroke="#1c1c1c" stroke-width="0.08">31</text>
<text x="304.40" y="609.20" font-size="5.2" text-anchor="middle" fill="#1c1c1c" stroke="#1c1c1c" stroke-width="0.08">2</text>
<text x="353.50" y="609.20" font-size="5.2" text-anchor="middle" fill="#1c1c1c" stroke="#1c1c1c" stroke-width="0.08">2</text>
<text x="402.60" y="609.20" font-size="5.2" text-anchor="middle" fill="#1c1c1c" stroke="#1c1c1c" stroke-width="0.08">0</text>
<text x="255.30" y="613.10" font-size="5.2" text-anchor="middle" fill="#1c1c1c" stroke="#1c1c1c" stroke-width="0.08">37</text>
<text x="304.40" y="613.10" font-size="5.2" text-anchor="middle" fill="#1c1c1c" stroke="#1c1c1c" stroke-width="0.08">3</text>
<text x="353.50" y="613.10" font-size="5.2" text-anchor="middle" fill="#1c1c1c" stroke="#1c1c1c" stroke-width="0.08">2</text>
<text x="402.60" y="613.10" font-size="5.2" text-anchor="middle" fill="#1c1c1c" stroke="#1c1c1c" stroke-width="0.08">1</text>
<text x="255.30" y="617.00" font-size="5.2" text-anchor="middle" fill="#1c1c1c" stroke="#1c1c1c" stroke-width="0.08">16</text>
<text x="304.40" y="617.00" font-size="5.2" text-anchor="middle" fill="#1c1c1c" stroke="#1c1c1c" stroke-width="0.08">2</text>
<text x="353.50" y="617.00" font-size="5.2" text-anchor="middle" fill="#1c1c1c" stroke="#1c1c1c" stroke-width="0.08">0</text>
<text x="402.60" y="617.00" font-size="5.2" text-anchor="middle" fill="#1c1c1c" stroke="#1c1c1c" stroke-width="0.08">0</text>
<line x1="47.80" y1="571.60" x2="50.20" y2="571.60" stroke="#444" stroke-width="0.6" />
<text x="47.60" y="574.20" font-size="7.3" text-anchor="end" fill="#3a3a3a" stroke="#3a3a3a" stroke-width="0.24" >0</text>
<line x1="47.80" y1="550.62" x2="50.20" y2="550.62" stroke="#444" stroke-width="0.6" />
<text x="47.60" y="553.23" font-size="7.3" text-anchor="end" fill="#3a3a3a" stroke="#3a3a3a" stroke-width="0.24" >25</text>
<line x1="47.80" y1="529.65" x2="50.20" y2="529.65" stroke="#444" stroke-width="0.6" />
<text x="47.60" y="532.25" font-size="7.3" text-anchor="end" fill="#3a3a3a" stroke="#3a3a3a" stroke-width="0.24" >50</text>
<line x1="47.80" y1="508.68" x2="50.20" y2="508.68" stroke="#444" stroke-width="0.6" />
<text x="47.60" y="511.28" font-size="7.3" text-anchor="end" fill="#3a3a3a" stroke="#3a3a3a" stroke-width="0.24" >75</text>
<line x1="47.80" y1="487.70" x2="50.20" y2="487.70" stroke="#444" stroke-width="0.6" />
<text x="47.60" y="490.30" font-size="7.3" text-anchor="end" fill="#3a3a3a" stroke="#3a3a3a" stroke-width="0.24" >100</text>
<text x="0" y="0" font-size="7.3" text-anchor="middle" fill="#1c1c1c" stroke="#1c1c1c" stroke-width="0.24" transform="translate(18.2,525.9) rotate(-90)">Percentage of</text>
<text x="0" y="0" font-size="7.3" text-anchor="middle" fill="#1c1c1c" stroke="#1c1c1c" stroke-width="0.24" transform="translate(26.9,525.2) rotate(-90)">patients alive (%)</text>
<text x="242.60" y="592.60" font-size="7.3" text-anchor="middle" fill="#1c1c1c" stroke="#1c1c1c" stroke-width="0.24" >Time (months)</text>
<text x="15.75" y="597.80" font-size="7.3" text-anchor="start" fill="#1c1c1c" stroke="#1c1c1c" stroke-width="0.24" >Number at risk</text>
<rect x="35.80" y="601.70" width="13.00" height="2.60" fill="#dfb84c" />
<rect x="35.80" y="606.10" width="13.00" height="2.60" fill="#5b9eab" />
<rect x="35.80" y="610.10" width="13.00" height="2.60" fill="#96aa5e" />
<rect x="35.80" y="614.30" width="13.00" height="2.60" fill="#5e381a" />
</g>
</svg></body></html>
